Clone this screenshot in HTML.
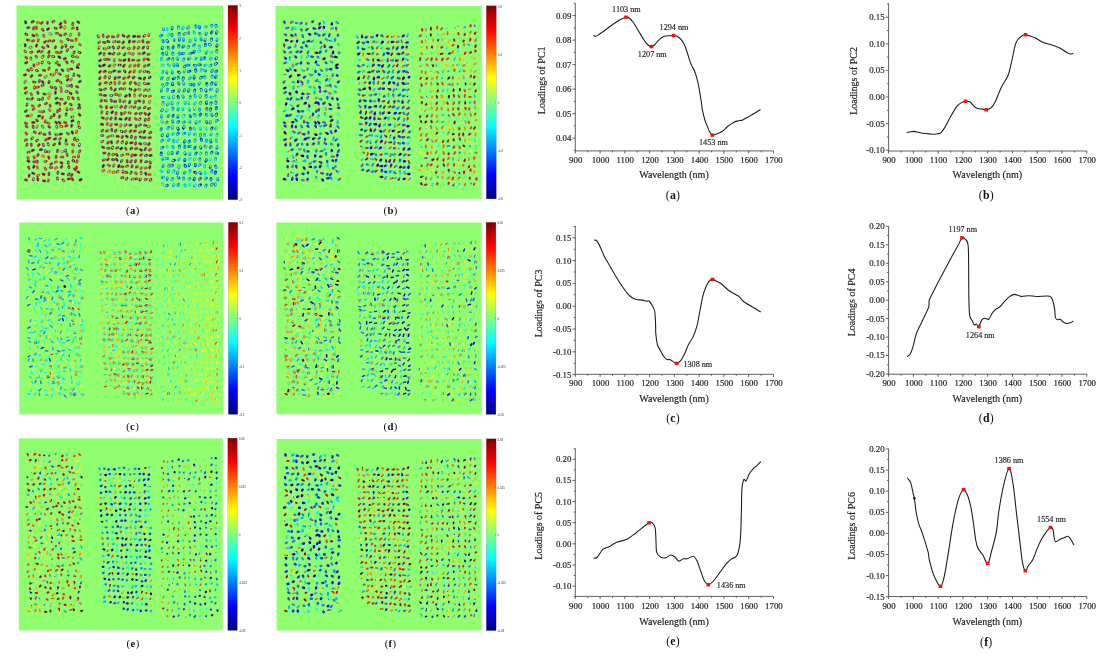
<!DOCTYPE html>
<html lang="en"><head><meta charset="utf-8"><title>PCA score images and loadings</title>
<style>html,body{margin:0;padding:0;background:#fff}body{width:1102px;height:658px;overflow:hidden}svg{display:block}</style>
</head><body>
<svg width="1102" height="658" viewBox="0 0 1102 658">
<defs>
<linearGradient id="jet" x1="0" y1="0" x2="0" y2="1"><stop offset="0" stop-color="#800000"/><stop offset="0.125" stop-color="#ff0000"/><stop offset="0.375" stop-color="#ffff00"/><stop offset="0.5" stop-color="#80ff80"/><stop offset="0.625" stop-color="#00ffff"/><stop offset="0.875" stop-color="#0000ff"/><stop offset="1" stop-color="#000080"/></linearGradient>
<filter id="sf" x="-2%" y="-2%" width="104%" height="104%"><feGaussianBlur stdDeviation="0.55"/></filter>
</defs>
<rect width="1102" height="658" fill="#fff"/>
<rect x="16.5" y="5.5" width="206.5" height="194.1" fill="#8fff70"/>
<g fill="none" stroke-linecap="round" filter="url(#sf)">
<path stroke="#0032ff" stroke-opacity="0.42" stroke-width="3" d="M25.4,21.5l0.4,1.5M33.3,21.4l-1.3,0.8M37.2,22.6l1.5,0.2M42.4,22.6l-1.2,0.8M47.3,23.5l0.3,-1.5M54,21.2l-1.3,0.7M60.9,23.2l-0.8,1.3M65.4,22.5l-0.7,-1.3M72.9,23.3l-0.3,1.5M77.7,21.7l1.2,0.9M27.5,27.8l1.5,-0.3M33.8,27.6l-0.5,1.4M36.5,28.5l-0.2,-1.5M42.3,29.3l1,1.1M47.4,29.5l1.2,-0.9M54.9,28.1l1.4,0.4M60.4,27.7l1.1,-1M65,26.8l-0.4,1.5M73.7,27.9l-1.4,0.5M77.2,27.8l0.1,1.5M26.9,34.7l-1.2,-0.8M32.7,35.1l1.3,0.8M36.6,34.3l0.6,1.4M43.5,35.1l0.5,1.4M51,34.2l-1.3,-0.7M56.3,33.3l1.5,0M59.8,35l1.4,0.5M64.6,34.7l1.2,-0.9M70.2,35.5l0.5,-1.4M79,35.1l0.1,-1.5M27.2,40l1.5,0.2M32.3,41.2l1.4,-0.6M38.1,41.1l0.3,-1.5M44.5,42.4l1.2,-1M50,40.8l-1.5,0.3M54,40.5l-1.3,0.8M62,42.3l-1,-1.1M68.5,39.9l-1.2,-0.9M72.6,40.8l-1.4,-0.4M76.3,39.1l-0.3,1.5M25.1,44.5l0.2,1.5M29.8,47.5l1.4,-0.4M36.3,46.3l0.5,-1.4M42.6,47.2l1.4,0.6M47.3,45.5l1,1.1M55.7,46.6l-0.6,1.4M61.8,47.8l0.8,-1.3M65.9,46.4l-0.2,-1.5M72.5,47l-1.5,0.2M80.5,45.1l-1.2,-1M25.8,52l-1,-1.1M32,52l-1.4,0.5M37.8,51.8l1.3,-0.7M42.4,51.3l-1.2,0.9M49.3,51.5l-0.7,1.3M57.8,52.6l-1.5,-0.3M61.5,51.7l-1.1,1M67,50.9l0.8,-1.3M74.2,51.8l-0.4,1.4M80.3,52.8l-1.4,-0.5M26.8,58.3l-1,-1.1M30.9,59.2l-0.1,-1.5M36.9,57.1l-1.1,-1M42.3,57.4l0.8,-1.3M48.4,56.9l0.9,-1.2M52.5,56.5l1.5,0.2M58.8,56.7l1.2,1M65.5,58.4l-1.4,0.6M73.5,56.7l-1.4,-0.6M76.4,56.7l1.4,0.5M26.9,62.4l-1.3,0.7M34,66.2l-0.2,-1.5M37.4,64.1l1.3,-0.8M41.9,63.1l0.6,-1.4M49.5,63.3l-1.2,-1M57.1,61.9l-0.9,1.2M58.4,64.6l1.3,0.7M67.3,62.8l-1,-1.1M73.3,62.1l-1.3,-0.7M77.6,65.1l1.3,-0.7M28.9,70.7l-1.3,-0.8M31.1,68.6l0.8,1.3M36.2,70.2l1.4,0.5M43.3,70.3l1.5,0.3M48.6,69.2l0.8,-1.3M56.6,71.6l-0.1,-1.5M63,70.8l-1,-1.1M67.7,69.3l0.6,1.4M72.1,69.1l-1.5,0M78.3,67.7l-1.4,-0.5M24.3,75.1l1.4,-0.5M31.1,76.6l1,-1.1M39.3,75.3l1.5,-0.1M45.1,77.3l1.2,-0.9M52.2,75.1l-1.4,-0.6M54.9,73.9l-1.3,0.8M60.5,74.5l-1.3,-0.8M66.5,76.5l1.4,-0.4M73.7,75.6l0.3,-1.5M78.1,75.4l1.3,0.8M24.8,82.4l0.9,-1.2M35,82.3l-1.5,-0.4M39.1,81.8l0.5,-1.4M43.2,82.6l-1,-1.1M49.3,81.3l-0.5,1.4M57.9,80.2l-1.2,0.8M61.3,82.8l-1.2,-0.9M67.2,80.3l1,-1.1M70.5,80.2l1,-1.2M79.2,82l1.2,-0.8M26.2,87.8l-1.3,0.7M34.6,88.3l0,-1.5M37.1,87.4l1.4,-0.4M41.9,85.7l1.4,-0.6M51,86.9l1.3,0.8M55.9,88.8l-0.6,-1.4M60.6,87.2l0.6,1.4M67.4,85.7l1.5,0M71.4,85.1l0.3,1.5M76.5,86.5l1.4,0.6M26.7,92.3l-1.3,0.8M30.9,93.5l0.8,1.3M37.6,92l0.5,1.4M43.7,93.9l1.5,0.3M48.7,94.1l1.5,-0.2M55.5,91.9l-0.1,1.5M61.2,91.7l0.2,-1.5M65.9,91.5l1.5,-0.2M71.2,93.7l-1.3,-0.8M76.4,91.7l1.1,1.1M28.8,99l-1.5,-0.1M31.7,99.3l0.9,-1.2M38,99.5l1.5,0.1M42.8,98l-0.4,1.5M48.4,98.3l0.9,-1.2M57.3,98.1l-1.4,0.6M62.2,99.2l-1.5,-0.2M68.5,97.3l0,1.5M73.5,98.8l-1,-1.2M78.5,99.4l-0.4,-1.4M27.2,103.9l-0.4,1.4M32.1,105.6l1.3,0.7M38.8,106.1l1,-1.1M46.6,103.2l-1.3,0.8M50.4,106.4l-0.5,-1.4M57.6,102.7l-1.3,0.7M59.5,103.2l0.5,1.4M64.6,103.7l1.1,-1M71.4,105l-1.1,-1M79.2,104.4l0.3,1.5M26.5,110.6l-1.2,0.9M34.2,108.7l-1.3,0.8M39.4,111.6l1.5,0.3M43.9,111.5l-1.5,0.2M50.1,110.6l-1.1,-1.1M57.3,111.8l0.6,-1.4M59.8,110.5l0.1,-1.5M66.8,108.6l0.3,1.5M72.1,109.3l-1.5,-0.1M79.9,108.1l-1.5,0.1M28.3,115.8l-1.5,0.3M31.7,115.1l-1.2,0.8M38.4,116.3l1.4,-0.5M42.2,118.2l0.6,-1.4M50.7,118l0.8,-1.3M54.2,114.3l-0.2,1.5M59.2,117.3l0.6,-1.4M66,115.2l0.1,-1.5M71.6,117l1.5,-0.2M79.1,114.2l0.9,1.2M25.3,123l1.4,0.6M34.1,122.4l-1.5,0.2M37.5,121l-1,-1.1M45,122.3l0.2,-1.5M49,123.4l-1.4,-0.6M56.7,123.2l-0.9,-1.2M60.1,123.3l-0.9,-1.2M64.5,122.4l1.4,0.4M73.1,120.5l-1.3,0.7M78.7,122l-0.3,1.5M25.9,126.1l1.2,0.9M33.1,126.1l0.2,1.5M36.9,127.3l0.5,-1.4M43,127.2l-0.8,-1.2M48.7,126.4l1.2,1M56.5,126.1l0.5,1.4M62.1,126.4l-1.5,-0.1M65.7,126.1l1.4,-0.6M71.5,126.4l0.3,-1.5M78.8,126.7l0.9,1.2M25.8,132.9l0.9,1.2M35.5,132.6l-1.3,-0.7M39.4,133.5l1.4,-0.6M45.2,134.6l-1.5,-0.3M49.5,132.6l0.3,1.5M57.2,135l-1.4,-0.5M61.5,134.1l-1.5,0.2M68.5,133.9l-1.3,-0.7M72,131.9l0.7,1.3M76.8,131.1l-0.5,1.4M26.5,139.7l-1.3,0.8M32.7,137.7l-1,1.1M36.6,140.9l1.1,-1M46.6,139.3l-1.2,0.9M48.5,138.5l1.4,-0.4M54.3,139.2l1.4,-0.6M60.6,138.3l-1.1,1M66.1,139.7l0,1.5M74.4,139.7l0.3,-1.5M77.9,139.8l-1.2,0.9M26.6,145.4l0.5,-1.4M31.4,145.5l-0.2,-1.5M38.3,145.6l1,-1.1M43.1,144.3l0.5,1.4M48.5,144.9l-0.5,-1.4M54.8,144.1l-1.2,0.9M59.6,144l0,-1.5M67,144.3l-1.3,-0.8M72.4,144.4l1.3,0.7M79.2,145.8l0.4,-1.5M27.8,152.4l1.5,-0.4M33.5,150l-1.3,0.7M40.2,149.8l1.5,-0.2M45.3,150.5l0.3,1.5M49.2,151.8l-1.5,-0.1M57.3,151.8l0.3,-1.5M63.2,151.4l-1.5,0.4M65.8,149.9l-0.2,1.5M72.8,150.8l-0.1,1.5M79.2,152.1l0.8,-1.3M27.8,157.4l0.6,1.4M33.8,156.7l0.7,1.3M38.3,154.5l-0.8,1.3M43.9,156.4l-1.4,-0.5M48.5,156.9l0.5,1.4M56.3,156.2l-0.3,1.5M61.3,157.1l1.5,-0.2M67,154l0.3,1.5M73.2,157.1l1.5,0M78.5,155.6l-0.1,1.5M29.1,161.6l-1.3,-0.8M35.1,161.7l-1.5,0.1M37.3,162.5l0.1,-1.5M46.3,161.2l-1.4,0.5M51.9,163.5l-1.3,0.8M55.2,162.2l1.4,-0.5M62.1,163.2l-1.3,-0.7M68.3,161.8l-0.1,1.5M74,161.2l-1.2,-0.8M77.3,160.6l-0.6,1.4M28.5,167.1l0.7,1.3M33.5,167.5l0.6,-1.4M37.2,166.8l0.4,1.4M45,168.2l0.9,1.2M51.8,167.5l-1.5,0M56.7,167.6l-1.3,0.7M61.1,167.5l0.8,-1.3M68.8,166.3l0,1.5M74.3,168.8l1,1.1M76.6,167l-0.1,1.5M29,176.4l0.3,-1.5M34,173.7l-1.4,-0.6M37.5,176l1.1,-1M44.3,174.5l-1.4,-0.5M49,173.3l-0.1,1.5M58.1,172l-0.5,1.4M63.6,174l-1.5,-0.3M68.2,174.9l1.1,-1M71.3,175.6l0.9,-1.2M79.1,172.5l-1.3,-0.8M25.3,179.7l1.4,0.5M33.2,180l0.4,-1.5M37.9,180.1l-0.2,-1.5M43.4,180.8l1.5,0.3M48.6,179.9l-0.4,1.4M57.3,177.8l0.3,1.5M63.9,180.9l-1.1,-1.1M69.6,178.8l-1.5,0.3M72,178.6l0.8,1.3M79.9,180.2l1.3,-0.8M97.9,35.7l0.7,1.4M103.2,36.5l-0.1,-1.5M107.1,37.2l1.3,-0.8M113.8,36.9l-1.5,-0.1M118.3,35.2l-0.7,1.3M122.9,35.2l1.1,1M128.8,36.2l-1.3,0.8M134.9,36.3l-1.5,0.3M137.9,36.5l1.5,0M144.8,35.4l-1.1,1M149,34.4l-0.4,1.4M99.7,41.8l-1.1,1M104.9,42.7l-1.4,-0.5M109,41.8l-1.4,-0.5M115.1,41.4l-1.4,0.6M119.3,41.8l-1.5,0.1M123.7,41.8l-0.9,1.2M129.1,42.3l0.6,-1.4M133.1,41.7l1.5,-0.2M139.4,41.5l-1.4,0.4M143.1,42l-0.4,-1.4M148.7,42.2l-1.5,0.2M99.2,47.1l-0.4,1.4M104,48.6l1.4,0.4M108.1,47.7l1.5,-0.2M113.7,48.1l-0.7,-1.3M118.1,48.1l0.9,-1.2M124,47.3l-1.3,0.7M129.6,48.6l-1.5,-0.2M134.4,47.1l-0.6,1.4M138.1,48.5l0.8,-1.2M143.8,47l-0.9,1.2M147.8,46.7l-0.1,1.5M99.5,54l1.2,-0.9M104,54.9l0.3,-1.5M110.5,53.7l-1.5,-0.1M114.2,53.1l-1,1.1M118.1,54.2l1.4,-0.6M125.1,53.7l-0.8,1.3M128.8,53l1.4,0.5M133.3,53.4l-0.6,1.4M140.2,53.8l-1.5,0M144.4,52.5l-1.1,1.1M147.7,54.4l1.5,-0.2M99.5,60.9l1.1,-1M104.5,59.5l1.5,0.1M109.3,59.7l-1.4,-0.6M114.3,59.4l-0.1,1.5M119.3,59.8l1.4,0.6M125.1,59.9l-1.4,0.6M128.9,60.6l0.1,-1.5M133.9,60.1l-1.5,0.1M137.7,60.5l1.5,-0.3M144.4,58.8l-0.6,1.4M147.4,59l1.3,0.8M99.3,65.7l1.4,0.6M104.6,64.9l-1.4,0.6M110.2,65.5l-1.3,0.8M114.8,64.8l-1,1.1M120.3,65.1l-1.5,-0.1M123.4,66.3l1,-1.2M129.6,66.6l0.9,-1.2M135.3,65.2l-1.1,1M138.2,66.1l0.6,-1.4M144.1,66.5l1.2,-0.9M147.8,65.5l1.3,-0.8M99.4,72.3l1.2,-0.9M104.1,71.6l1.4,-0.6M110.8,72.2l-1.5,0.1M113.5,71.3l1.4,-0.6M118.5,71.7l1.5,-0.3M125.2,71.9l-0.9,-1.2M129.4,72.6l1,-1.1M134,72l0.5,-1.4M139.4,71.9l1.2,-0.9M145.3,71.2l-1.4,0.4M147.7,71.9l1.4,0.5M99.5,78.8l0.7,-1.3M105.4,76.4l-0.6,1.4M109.2,78.1l0.6,-1.4M115,78.9l0.3,-1.5M119.8,77.3l-1.5,0.3M123.5,78.7l1.3,-0.8M128.3,77.6l1,-1.1M133,78l1.2,-0.9M139.2,78.1l1.4,0.4M144.8,77.8l-0.7,1.3M150.3,77l-1.1,1M100.3,83.3l-0.8,1.3M106.5,82.5l-1.4,0.5M111,82.7l-1,1.2M114.8,82.5l0.1,1.5M119.2,83.6l0.3,-1.5M125,82.9l-1.2,0.9M130.8,82.4l-0.8,1.3M134.8,82.7l1.1,1.1M138.8,84.9l0.5,-1.4M144.1,83.3l1.3,0.7M147.5,83.8l1.5,-0.1M101.2,90l-1.4,-0.5M105.7,88.7l-1.3,0.7M110.9,87.9l0.5,1.4M115.6,89.2l-0.9,1.2M121.3,88.6l-1.5,0.3M124.8,88.7l-1.5,0.4M131.2,89.5l-1.4,-0.6M135.5,89.6l-0.9,1.2M139.9,89.4l-1.5,-0.2M144.4,90.3l1.3,-0.7M148,90.5l1.3,-0.8M100,94.5l1.4,0.5M104.2,95.5l1.5,-0.1M112.1,95.4l-1.5,0M117,94.5l-1.5,0.1M119.2,95.8l1.2,-1M125.3,96.5l1.2,-0.9M129.8,95.9l-0.2,-1.5M134.5,94.8l0.3,1.5M140.9,94.8l-1.2,0.8M144.2,96.2l1.5,-0.3M150.5,96l-1.4,0.4M101.1,101.3l0.7,-1.3M106.4,101l-1.4,-0.5M111.6,101.2l-0.5,-1.4M115.9,101.5l-1.5,0.1M120,99.9l0.1,1.5M125.1,101.2l-1.4,0.5M129.4,102.8l0.6,-1.4M135.6,101.5l-0.1,1.5M139.9,101.3l-1.4,-0.5M143.7,102.5l0.1,-1.5M149.2,102.4l0.8,-1.3M101.5,107.2l-1.1,-1.1M106.5,106.4l0,1.5M110.8,107.7l1.4,-0.4M116.9,106.5l-1.5,0.2M121.8,106.4l-1.1,1M125.1,107.7l0.8,-1.3M131.3,106.7l-1.4,0.6M135.2,106.8l-1.3,0.7M138.5,108.6l1.2,-0.9M144.1,108l1.2,-0.9M149.8,108.2l-1.4,0.6M101.6,113l0.4,-1.5M107.3,112.2l-0.4,1.5M112.8,111.8l-1.2,0.9M115.8,114.1l0.5,-1.4M121.3,112.9l0.2,1.5M124.2,113.5l1,-1.1M130.4,113l-1.5,-0.2M136.6,113.2l-1.3,0.7M141.4,113.2l-1.4,0.5M144.9,113.1l0.9,1.2M148.5,114.8l1,-1.2M102.1,117.7l1.4,0.5M107.4,118.2l-1,1.1M111.4,117.9l-0.8,1.3M115.5,119.2l0.2,-1.5M119.8,119l1.5,0.2M126.5,118.2l-1,1.1M129.7,118.3l-0.2,1.5M136.2,119.4l-1.2,-0.9M140.1,118.6l-0.9,1.2M145.1,120.5l0.4,-1.4M149,118.6l-0.5,1.4M101.3,124.3l1.5,0.1M107.5,123.2l-0.5,1.4M111.6,124.3l-1,1.2M117,124.5l-1.5,-0.1M120.5,126.3l0.6,-1.4M125,125.6l1.2,-0.9M131.1,124.9l-1.4,0.4M136.1,125.4l-0.1,1.5M139.2,125.5l1.3,-0.8M144.5,125.3l1.5,0.1M149.4,126.4l-1.5,0.1M102.9,130.1l-1,1.1M106.4,131.2l1.4,-0.7M111.9,130.8l-0.1,-1.5M116.2,130.2l-0.9,1.2M122.3,131.8l-1.3,-0.7M124.8,131.7l1.2,-0.9M130.1,131.8l0.9,-1.2M134.2,131.3l1.4,-0.5M139.6,132.5l1.3,-0.8M144.7,131.1l-0.8,1.2M150.9,132.2l-1.3,0.8M101.5,135.4l1.5,0.1M107.6,137.2l1.3,-0.7M112.9,135.8l-1.5,0M116.9,136.3l1.5,0.2M122,137.7l0.5,-1.4M127.4,136.9l-1.2,-0.9M131.3,137.5l0.4,-1.4M135.2,138.5l0.5,-1.4M140.2,136.8l1.4,0.6M143.8,137.7l1.5,-0.2M149,137.8l1.5,-0.2M101.7,142l1.2,-0.9M108.6,142.1l-1,1.1M111.4,141.6l0.3,1.5M117.1,142.5l0.8,-1.2M122.8,141.6l-1,1.1M126.9,142.3l-0.7,1.3M132.1,142.7l-1.5,0.2M135.8,142.7l-0.3,1.5M141,144l-1.4,-0.5M144.3,143.5l1.5,0.3M149.5,143.5l-1,1.1M103.9,147.7l-1.4,-0.6M107.6,148.3l1.5,0M112.2,148.4l0.5,-1.4M117.9,147.5l-1.3,0.7M121.8,148.1l-1.2,0.9M126.2,149.4l-0.7,-1.3M131.9,148l-1.2,0.9M135.4,148.7l1.5,-0.1M141.6,150.3l-1.3,-0.8M144.9,149.7l0.8,-1.3M150.6,149.4l-1.3,0.8M105.1,153.1l-1.5,-0.1M109,153.8l-0.4,1.4M112.5,154.7l1.4,-0.4M117.4,155.5l-1,-1.1M122.8,155l-1.4,0.4M126.7,154.3l1.5,0M132.3,154.9l-0.7,1.3M134.5,155.2l1.5,-0.3M141.7,154.5l-1.2,0.9M145.4,155.7l1.3,-0.7M149.8,155.6l1.5,-0.3M104.4,159.7l-1.3,0.7M108.4,158.9l-1.1,1M112.3,159.5l1.5,0.3M117.3,160.3l-1,-1.1M122.1,160.5l-0.9,1.2M127.3,162l-0.2,-1.5M130.6,162l0.8,-1.3M135.7,160.5l-0.5,1.4M141.2,160.5l-0.3,1.5M145.4,161.9l1.5,-0.3M150.5,163.2l-0.6,-1.4M102.9,166.6l0.8,-1.3M108.2,165l1.3,0.7M113.4,166.1l0.8,-1.3M119.1,165.5l-0.7,1.3M123,166.7l-1.5,0M126.3,166.4l1.4,-0.5M132.3,165.6l-0.5,1.4M137.5,166.5l-1.3,0.7M141.7,167.6l-1,1.1M145,168.2l1.4,-0.4M149.6,168l0.4,-1.5M104.1,170.4l-1.4,0.6M109.7,171l-1.3,0.7M114.2,172l-1.4,0.5M116.8,172.1l1.1,-1M123,170.9l-0.1,1.5M127.1,172.5l-1.5,-0.3M131.5,172l-0.8,1.3M135.4,172.8l1.1,1M141.2,173.8l0,-1.5M145.6,173l0.4,1.4M150.3,174.6l-1.5,0M123.1,177.6l-1.5,0.2M127.1,178.1l-0.9,1.2M131.9,179.4l1.4,-0.5M137.1,178.7l-1.5,0.2M139.8,180.2l0.8,-1.2M145.1,179.7l1.4,-0.5M150.1,180.5l1,-1.2"/>
<path stroke="#008bff" stroke-width="2.8" d="M163.5,29.9l-0.1,-1.6M178.5,26.6l-0.2,1.6M195.7,25.7l0.5,1.5M211.9,25.1l-0.1,1.6M199.6,33.1l0.6,1.5M205.8,34.5l0.7,-1.4M163.3,41.9l-0.5,-1.5M183.6,40.5l-0.3,-1.6M201.3,40.1l-0.3,-1.6M204.7,41l0.6,-1.5M216.7,40.7l0.5,-1.5M188.8,46.5l-0.8,1.4M194.6,44.6l-1.2,1.1M172.8,53l0.2,1.6M179.2,53l0.5,1.5M206.1,53.4l0.8,-1.4M173,58.5l-0.5,1.5M177.9,59.4l-0.9,-1.3M183.9,58.8l-0.7,1.5M201.2,59.6l-0.1,-1.6M204.7,57.4l-0.3,1.6M174.2,65.8l-0.5,-1.5M189.1,65.2l-1.6,0M211.2,64.9l-1.2,1.1M166.8,73.2l0.1,-1.6M172.2,73.3l0,-1.6M205.7,71l-1.4,-0.8M162.3,77.8l-1.1,1.2M168.4,78.2l-1,1.3M178.2,76.9l0,1.6M190.4,77.7l-1.1,1.2M204.5,76.5l0.6,1.5M212.3,75.9l-0.4,1.6M162.6,84.7l0.6,1.5M167.5,83.3l-1,1.2M179.1,84.3l-0.8,-1.4M183.9,84.3l-0.6,-1.5M193.8,84.1l0.2,1.6M198.9,84.3l0.9,-1.3M161.2,91.1l0.4,-1.5M167.7,89.1l-0.4,1.6M178.8,91.4l0.6,-1.5M210.2,89.6l1.5,-0.5M162.2,97.4l1.6,0.3M173.3,97.7l0.4,-1.6M183.5,97.3l-0.8,-1.4M190.3,96.3l-0.2,1.6M195,95.3l0.4,1.6M200.4,97.1l-0.4,-1.5M167.1,104.8l1.3,-1M172.1,104.1l-0.1,-1.6M200.7,102.3l-0.6,1.5M172.9,107.8l0,1.6M177.8,110l0.5,-1.5M189.6,110.4l-0.5,-1.5M199.6,108.8l0.1,1.6M161.2,117.2l0.5,-1.5M168,116.7l0.9,-1.3M189.9,115.5l0.8,1.4M194.4,114.4l0.9,1.3M206.2,114.3l0.8,1.4M167.1,121.9l-1.1,1.2M172.9,122.3l-0.5,-1.5M184.6,121.9l-1.5,0.6M189.8,122.4l0.2,-1.6M195.8,123.3l0.3,-1.6M210.2,123l0.3,-1.6M217.6,120.2l-1.4,0.8M161.5,128.5l-0.6,1.5M168.6,127.2l-0.9,1.3M172.4,128.3l-0.4,-1.5M184.8,133.2l-1.5,0.7M200.6,134.3l-0.4,1.5M162.6,140.1l-1.1,1.2M194.9,139.9l0.1,1.6M206.4,140.1l-0.2,1.6M184.9,146l-0.2,1.6M204.8,146.1l1.2,1M216.9,148.3l0.2,-1.6M189.7,154.7l0.2,-1.6M206.3,152.7l-0.1,1.6M162.8,159.5l0.3,-1.6M167.8,158.6l-1.6,0M200,158.7l-0.2,1.6M162.8,166.7l0.6,-1.5M169.1,165l-0.6,1.5M178.7,167.5l0.3,-1.6M200.2,164.5l-1.3,0.9M168,172.3l0.6,-1.5M211.9,170.5l-0.2,1.6M162.3,177.7l1.5,-0.5M167.1,179.5l0.3,-1.6M172.8,178.4l-0.8,1.4M183.7,177.8l0.1,1.6M190,178.4l-1.3,0.9M206.7,177.9l-1.2,1.1M217.8,180l-0.1,-1.6M178.6,184.2l-0.7,1.4M206.4,185l-0.7,1.4M215.2,185.3l0.5,-1.5"/>
<path stroke="#00e3ff" stroke-width="2.8" d="M167.1,30l0.1,-1.6M168.9,34.3l-0.8,1.4M174.3,39.3l0,1.6M212.1,52.1l-1.4,0.8M195.5,59.4l0.9,-1.3M182.9,108.4l-0.1,1.6M206.5,129.5l-0.7,-1.5M167,146.1l0.2,1.6M190.2,158.5l-1,1.2M210.2,160.5l0,-1.6M205.3,172.4l-0.3,1.6M162.7,184.9l-0.5,-1.5M190,183.6l-0.5,1.5"/>
<path stroke="#005eff" stroke-width="2.8" d="M172,29l0.2,-1.6M187.7,28.1l1.2,-1M199.7,28l-0.3,-1.6M215.9,25.1l0.4,1.6M162,35.2l-1.4,0.8M171.9,34.3l0.2,1.6M179.2,33.3l0,1.6M184,34.3l1.3,-0.9M212,31.7l-0.8,1.4M216.2,33.2l0.8,-1.4M179.3,40.3l0.4,-1.6M211.7,38.8l-0.5,1.5M162,48.7l0.6,-1.5M168,47.1l0.5,1.5M173.3,46.6l-0.4,1.5M178.8,45.5l0,1.6M182.7,47.2l1.3,-1M205.5,44.2l-0.3,1.6M209.3,44.2l1.4,0.8M162.7,53.2l0.3,1.6M166.8,54.3l-0.1,-1.6M182.2,53.7l1.6,-0.2M191.2,53.1l-1.4,0.8M216.8,50.5l0,1.6M169,58.5l-1.3,1M188.5,59l1.4,-0.8M215.6,59l1.1,-1.2M177.7,65.7l-0.6,-1.5M185.4,65.9l-1.4,0.8M194.1,65.3l1.5,0.6M211.7,71.6l0.8,-1.4M216.8,70.9l-1.1,1.1M191.4,84.7l-1.5,-0.4M215.6,84.5l0.5,-1.5M183.9,91.1l0.8,-1.4M188.3,91.3l0.7,-1.5M194.8,89.9l-0.3,1.6M201.1,89.2l0.3,1.6M206.2,91.3l-0.5,-1.5M216.9,91.3l0.4,-1.5M206.2,95.4l-0.2,1.6M163.2,102.4l-0.3,1.6M211.3,102.7l-0.6,1.5M215.9,102l0,1.6M161.6,110.8l1.1,-1.2M206.7,108.3l0.3,1.6M216.5,107.5l-0.3,1.6M173.4,115.1l-0.6,1.5M177.9,117.4l0.1,-1.6M200.8,113.9l-0.8,1.4M212.2,115.6l-0.4,-1.5M178.7,121.4l-1.1,1.1M207.1,122.9l-0.7,-1.5M190.3,127.9l0.3,1.6M162,135.8l0.7,-1.4M167.3,136.1l0.7,-1.5M178.4,133.1l-0.9,1.3M184.2,142.3l0.7,-1.5M189.5,141l-0.8,1.4M211,142.1l-0.4,-1.6M163,147.2l-1.3,0.9M179.5,145.8l-0.2,1.6M188.7,146.7l1.6,-0.4M195.3,147.2l-0.8,1.4M201.1,148.3l-0.8,-1.4M211.2,146.5l-1,1.2M172.1,153.7l0.1,-1.6M177.1,153.4l0.8,-1.4M185.4,154.3l-0.6,-1.5M196.4,152.9l-1,1.3M212.1,152l-0.9,1.3M217.8,153.5l-1.5,-0.6M172.7,165.2l-1.4,0.8M189,165.8l0.6,-1.5M195.3,166.1l0,-1.6M210.1,167.6l0.4,-1.5M215.4,166l0.7,1.5M177.2,173.4l0.7,-1.4M200.8,173.7l-1,-1.3M179.1,178.1l-1.1,-1.2M200.6,178.3l-1.2,1.1M211,178.4l-0.1,1.6M167.5,185.3l-1.5,0.5M212.6,184l-1.2,1.1"/>
<path stroke="#00b7ff" stroke-width="2.8" d="M182.6,28.9l0.8,-1.4M206.4,26.7l-1.5,0.6M188.7,32.2l0.1,1.6M193.9,31.9l0.7,1.4M189.8,41.7l0.6,-1.5M195.6,40.3l-0.4,-1.6M199.4,46l-0.1,1.6M200,50.9l-1.3,0.9M161.6,58.2l-0.4,1.6M210.4,59.3l1.1,-1.1M163.2,65l-1.4,0.8M168.1,64.5l1.2,1.1M204.6,65.6l1.5,-0.4M163,71.5l-0.3,1.6M184.1,72.1l0.6,-1.5M201.4,69.5l-0.4,1.5M169.2,98l-1.1,-1.1M210.8,97.1l1.6,0M215.5,95.7l0.6,1.5M178.2,103l-0.7,1.4M185.2,103.9l-0.2,-1.6M188.9,103.8l-0.9,-1.4M194.6,104l0.7,-1.4M166.4,111.2l0.9,-1.3M194.3,109.5l0.5,-1.5M184.2,115.3l-1,1.3M162.5,122.2l-0.7,-1.4M199.6,121.6l-0.7,1.4M193.7,128.2l0.9,1.3M200.6,129.4l-0.1,-1.6M215.5,128.9l0.8,-1.4M172.6,134.4l1.4,-0.7M189,134.4l0.9,-1.3M194.1,134.5l1.6,-0.3M204.5,134.2l0.2,1.6M210.5,134.9l1.2,-1M217.2,134.1l-0.3,1.6M168.3,140.6l1.1,-1.2M173.3,140.3l0.5,1.5M176.9,141.6l1.1,-1.2M216.3,139.7l0,1.6M173.3,147.9l-0.5,-1.5M168.7,154.2l-0.1,-1.6M201.1,152.9l-0.9,1.3M178.5,160l0.9,-1.3M194.5,160.2l-0.1,-1.6M215.7,158.1l-0.2,1.6M204.6,165.5l0,1.6M162.1,171.5l-1.3,-1M174.2,170.8l-0.8,1.4M184.2,173.5l0.8,-1.4M190,170.5l0.1,1.6M173.3,186l0.7,-1.5M184.8,184.7l0.7,1.4M194.3,186.2l1,-1.3"/>
<path stroke="#0032ff" stroke-width="2.8" d="M167.7,41.8l-0.8,-1.4M216.7,46.4l0.5,-1.5M193.5,52.5l0.9,-1.3M200.3,64.8l-1.6,0.1M216.7,63.4l-1.4,0.8M178.5,71.9l1.3,0.9M190,71.1l-1.6,0.4M195.7,69.7l0.3,1.6M173.1,78.9l1.4,-0.7M183.4,77.8l-0.4,1.5M194.1,78.3l0,-1.6M201.6,77.2l-1.3,0.9M215.4,77.4l0.8,-1.4M172.6,84.9l-0.1,-1.6M206.7,83.5l0.3,1.6M212.2,82.8l-1,1.3M173.7,90.9l-1.4,0.7M177.9,96.4l0.5,1.5M206.4,103.5l0.2,-1.6M210.7,108.7l-0.3,1.6M216.7,114l-0.7,1.4M178.3,129.5l-0.6,-1.5M183.3,128.2l0.8,-1.4M212.3,127.9l-0.9,1.3M201.1,139l0.5,1.5M161.3,153l-0.2,1.6M174.6,160.1l-1.5,0.7M184.7,160.9l0.2,-1.6M205.8,161.2l0.7,-1.4M184.9,165.1l0.6,1.5M215.7,171.8l-0.5,1.5M193.8,179.8l0.7,-1.5M200.7,184.7l-1.3,1"/>
<path stroke="#0006ff" stroke-width="2.8" d="M194.6,172.2l1.4,0.9"/>
<path stroke="#800000" stroke-width="2" d="M25.4,21.5l0.4,1.5M33.3,21.4l-1.3,0.8M60.9,23.2l-0.8,1.3M54.9,28.1l1.4,0.4M77.2,27.8l0.1,1.5M26.9,34.7l-1.2,-0.8M68.5,39.9l-1.2,-0.9M37.8,51.8l1.3,-0.7M74.2,51.8l-0.4,1.4M80.3,52.8l-1.4,-0.5M58.8,56.7l1.2,1M26.9,62.4l-1.3,0.7M36.2,70.2l1.4,0.5M78.3,67.7l-1.4,-0.5M49.3,81.3l-0.5,1.4M55.9,88.8l-0.6,-1.4M71.4,85.1l0.3,1.5M37.6,92l0.5,1.4M71.2,93.7l-1.3,-0.8M57.6,102.7l-1.3,0.7M71.4,105l-1.1,-1M26.5,110.6l-1.2,0.9M43.9,111.5l-1.5,0.2M79.9,108.1l-1.5,0.1M38.4,116.3l1.4,-0.5M66,115.2l0.1,-1.5M73.1,120.5l-1.3,0.7M72,131.9l0.7,1.3M48.5,138.5l1.4,-0.4M59.6,144l0,-1.5M40.2,149.8l1.5,-0.2M65.8,149.9l-0.2,1.5M74,161.2l-1.2,-0.8M79.9,180.2l1.3,-0.8M122.9,35.2l1.1,1M128.8,36.2l-1.3,0.8M134.9,36.3l-1.5,0.3M109,41.8l-1.4,-0.5M99.5,54l1.2,-0.9M125.1,53.7l-0.8,1.3M104.6,64.9l-1.4,0.6M120.3,65.1l-1.5,-0.1M123.4,66.3l1,-1.2M125.2,71.9l-0.9,-1.2M147.7,71.9l1.4,0.5M99.5,78.8l0.7,-1.3M139.2,78.1l1.4,0.4M144.8,77.8l-0.7,1.3M150.3,77l-1.1,1M111,82.7l-1,1.2M101.2,90l-1.4,-0.5M144.2,96.2l1.5,-0.3M138.5,108.6l1.2,-0.9M112.8,111.8l-1.2,0.9M141.4,113.2l-1.4,0.5M101.3,124.3l1.5,0.1M116.2,130.2l-0.9,1.2M122.3,131.8l-1.3,-0.7M150.9,132.2l-1.3,0.8M140.2,136.8l1.4,0.6M126.9,142.3l-0.7,1.3M112.2,148.4l0.5,-1.4M121.8,148.1l-1.2,0.9M131.9,148l-1.2,0.9M117.4,155.5l-1,-1.1M145.4,155.7l1.3,-0.7M117.3,160.3l-1,-1.1M150.5,163.2l-0.6,-1.4M102.9,166.6l0.8,-1.3M119.1,165.5l-0.7,1.3"/>
<path stroke="#ff3200" stroke-width="2" d="M37.2,22.6l1.5,0.2M73.7,27.9l-1.4,0.5M43.5,35.1l0.5,1.4M79,35.1l0.1,-1.5M62,42.3l-1,-1.1M29.8,47.5l1.4,-0.4M42.4,51.3l-1.2,0.9M36.9,57.1l-1.1,-1M37.4,64.1l1.3,-0.8M45.1,77.3l1.2,-0.9M54.9,73.9l-1.3,0.8M24.8,82.4l0.9,-1.2M30.9,93.5l0.8,1.3M61.2,91.7l0.2,-1.5M48.4,98.3l0.9,-1.2M32.1,105.6l1.3,0.7M50.4,106.4l-0.5,-1.4M50.1,110.6l-1.1,-1.1M45,122.3l0.2,-1.5M72.8,150.8l-0.1,1.5M27.8,157.4l0.6,1.4M33.8,156.7l0.7,1.3M55.2,162.2l1.4,-0.5M48.6,179.9l-0.4,1.4M118.3,35.2l-0.7,1.3M140.2,53.8l-1.5,0M114.3,59.4l-0.1,1.5M119.3,59.8l1.4,0.6M144.4,58.8l-0.6,1.4M114.8,64.8l-1,1.1M129.6,66.6l0.9,-1.2M135.3,65.2l-1.1,1M144.1,66.5l1.2,-0.9M139.4,71.9l1.2,-0.9M119.2,83.6l0.3,-1.5M138.8,84.9l0.5,-1.4M119.2,95.8l1.2,-1M134.5,94.8l0.3,1.5M150.5,96l-1.4,0.4M143.7,102.5l0.1,-1.5M131.3,106.7l-1.4,0.6M101.6,113l0.4,-1.5M124.2,113.5l1,-1.1M107.4,118.2l-1,1.1M107.5,123.2l-0.5,1.4M111.6,124.3l-1,1.2M149.4,126.4l-1.5,0.1M124.8,131.7l1.2,-0.9M107.6,137.2l1.3,-0.7M112.9,135.8l-1.5,0M144.3,143.5l1.5,0.3M145,168.2l1.4,-0.4M114.2,172l-1.4,0.5M135.4,172.8l1.1,1M150.3,174.6l-1.5,0"/>
<path stroke="#d80000" stroke-width="2" d="M42.4,22.6l-1.2,0.8M54,21.2l-1.3,0.7M65.4,22.5l-0.7,-1.3M72.9,23.3l-0.3,1.5M77.7,21.7l1.2,0.9M33.8,27.6l-0.5,1.4M36.5,28.5l-0.2,-1.5M60.4,27.7l1.1,-1M64.6,34.7l1.2,-0.9M44.5,42.4l1.2,-1M54,40.5l-1.3,0.8M42.6,47.2l1.4,0.6M61.8,47.8l0.8,-1.3M57.8,52.6l-1.5,-0.3M67,50.9l0.8,-1.3M48.4,56.9l0.9,-1.2M65.5,58.4l-1.4,0.6M76.4,56.7l1.4,0.5M41.9,63.1l0.6,-1.4M49.5,63.3l-1.2,-1M58.4,64.6l1.3,0.7M67.3,62.8l-1,-1.1M73.3,62.1l-1.3,-0.7M31.1,68.6l0.8,1.3M56.6,71.6l-0.1,-1.5M72.1,69.1l-1.5,0M60.5,74.5l-1.3,-0.8M66.5,76.5l1.4,-0.4M57.9,80.2l-1.2,0.8M26.2,87.8l-1.3,0.7M37.1,87.4l1.4,-0.4M51,86.9l1.3,0.8M67.4,85.7l1.5,0M76.5,86.5l1.4,0.6M43.7,93.9l1.5,0.3M31.7,99.3l0.9,-1.2M57.3,98.1l-1.4,0.6M68.5,97.3l0,1.5M46.6,103.2l-1.3,0.8M59.5,103.2l0.5,1.4M64.6,103.7l1.1,-1M57.3,111.8l0.6,-1.4M59.8,110.5l0.1,-1.5M28.3,115.8l-1.5,0.3M42.2,118.2l0.6,-1.4M54.2,114.3l-0.2,1.5M25.3,123l1.4,0.6M49,123.4l-1.4,-0.6M60.1,123.3l-0.9,-1.2M78.7,122l-0.3,1.5M65.7,126.1l1.4,-0.6M71.5,126.4l0.3,-1.5M35.5,132.6l-1.3,-0.7M39.4,133.5l1.4,-0.6M49.5,132.6l0.3,1.5M32.7,137.7l-1,1.1M46.6,139.3l-1.2,0.9M66.1,139.7l0,1.5M26.6,145.4l0.5,-1.4M48.5,144.9l-0.5,-1.4M72.4,144.4l1.3,0.7M79.2,145.8l0.4,-1.5M27.8,152.4l1.5,-0.4M45.3,150.5l0.3,1.5M49.2,151.8l-1.5,-0.1M57.3,151.8l0.3,-1.5M79.2,152.1l0.8,-1.3M38.3,154.5l-0.8,1.3M48.5,156.9l0.5,1.4M61.3,157.1l1.5,-0.2M67,154l0.3,1.5M73.2,157.1l1.5,0M78.5,155.6l-0.1,1.5M35.1,161.7l-1.5,0.1M37.3,162.5l0.1,-1.5M62.1,163.2l-1.3,-0.7M68.3,161.8l-0.1,1.5M61.1,167.5l0.8,-1.3M29,176.4l0.3,-1.5M79.1,172.5l-1.3,-0.8M63.9,180.9l-1.1,-1.1M72,178.6l0.8,1.3M103.2,36.5l-0.1,-1.5M107.1,37.2l1.3,-0.8M104.9,42.7l-1.4,-0.5M119.3,41.8l-1.5,0.1M123.7,41.8l-0.9,1.2M143.1,42l-0.4,-1.4M148.7,42.2l-1.5,0.2M104,48.6l1.4,0.4M108.1,47.7l1.5,-0.2M138.1,48.5l0.8,-1.2M143.8,47l-0.9,1.2M147.8,46.7l-0.1,1.5M104,54.9l0.3,-1.5M104.5,59.5l1.5,0.1M128.9,60.6l0.1,-1.5M133.9,60.1l-1.5,0.1M99.3,65.7l1.4,0.6M110.2,65.5l-1.3,0.8M147.8,65.5l1.3,-0.8M99.4,72.3l1.2,-0.9M104.1,71.6l1.4,-0.6M109.2,78.1l0.6,-1.4M115,78.9l0.3,-1.5M128.3,77.6l1,-1.1M106.5,82.5l-1.4,0.5M134.8,82.7l1.1,1.1M144.1,83.3l1.3,0.7M147.5,83.8l1.5,-0.1M105.7,88.7l-1.3,0.7M115.6,89.2l-0.9,1.2M121.3,88.6l-1.5,0.3M129.4,102.8l0.6,-1.4M135.6,101.5l-0.1,1.5M139.9,101.3l-1.4,-0.5M106.5,106.4l0,1.5M110.8,107.7l1.4,-0.4M121.8,106.4l-1.1,1M144.1,108l1.2,-0.9M102.1,117.7l1.4,0.5M131.1,124.9l-1.4,0.4M136.1,125.4l-0.1,1.5M144.5,125.3l1.5,0.1M102.9,130.1l-1,1.1M106.4,131.2l1.4,-0.7M111.9,130.8l-0.1,-1.5M135.2,138.5l0.5,-1.4M111.4,141.6l0.3,1.5M135.8,142.7l-0.3,1.5M141,144l-1.4,-0.5M103.9,147.7l-1.4,-0.6M117.9,147.5l-1.3,0.7M109,153.8l-0.4,1.4M112.5,154.7l1.4,-0.4M132.3,154.9l-0.7,1.3M141.7,154.5l-1.2,0.9M104.4,159.7l-1.3,0.7M108.4,158.9l-1.1,1M127.3,162l-0.2,-1.5M130.6,162l0.8,-1.3M141.2,160.5l-0.3,1.5M145.4,161.9l1.5,-0.3M123,166.7l-1.5,0M126.3,166.4l1.4,-0.5M137.5,166.5l-1.3,0.7M149.6,168l0.4,-1.5M116.8,172.1l1.1,-1M123,170.9l-0.1,1.5M127.1,172.5l-1.5,-0.3M127.1,178.1l-0.9,1.2M137.1,178.7l-1.5,0.2M145.1,179.7l1.4,-0.5"/>
<path stroke="#ff0600" stroke-width="2" d="M47.3,23.5l0.3,-1.5M27.5,27.8l1.5,-0.3M56.3,33.3l1.5,0M59.8,35l1.4,0.5M32.3,41.2l1.4,-0.6M38.1,41.1l0.3,-1.5M72.6,40.8l-1.4,-0.4M76.3,39.1l-0.3,1.5M55.7,46.6l-0.6,1.4M25.8,52l-1,-1.1M61.5,51.7l-1.1,1M26.8,58.3l-1,-1.1M30.9,59.2l-0.1,-1.5M42.3,57.4l0.8,-1.3M34,66.2l-0.2,-1.5M57.1,61.9l-0.9,1.2M77.6,65.1l1.3,-0.7M28.9,70.7l-1.3,-0.8M48.6,69.2l0.8,-1.3M67.7,69.3l0.6,1.4M39.3,75.3l1.5,-0.1M52.2,75.1l-1.4,-0.6M39.1,81.8l0.5,-1.4M65.9,91.5l1.5,-0.2M73.5,98.8l-1,-1.2M38.8,106.1l1,-1.1M34.2,108.7l-1.3,0.8M72.1,109.3l-1.5,-0.1M59.2,117.3l0.6,-1.4M71.6,117l1.5,-0.2M64.5,122.4l1.4,0.4M25.9,126.1l1.2,0.9M43,127.2l-0.8,-1.2M48.7,126.4l1.2,1M56.5,126.1l0.5,1.4M62.1,126.4l-1.5,-0.1M25.8,132.9l0.9,1.2M45.2,134.6l-1.5,-0.3M57.2,135l-1.4,-0.5M68.5,133.9l-1.3,-0.7M76.8,131.1l-0.5,1.4M60.6,138.3l-1.1,1M31.4,145.5l-0.2,-1.5M67,144.3l-1.3,-0.8M56.3,156.2l-0.3,1.5M46.3,161.2l-1.4,0.5M51.9,163.5l-1.3,0.8M45,168.2l0.9,1.2M56.7,167.6l-1.3,0.7M74.3,168.8l1,1.1M76.6,167l-0.1,1.5M37.5,176l1.1,-1M71.3,175.6l0.9,-1.2M25.3,179.7l1.4,0.5M33.2,180l0.4,-1.5M57.3,177.8l0.3,1.5M97.9,35.7l0.7,1.4M149,34.4l-0.4,1.4M99.7,41.8l-1.1,1M115.1,41.4l-1.4,0.6M133.1,41.7l1.5,-0.2M99.2,47.1l-0.4,1.4M124,47.3l-1.3,0.7M129.6,48.6l-1.5,-0.2M134.4,47.1l-0.6,1.4M118.1,54.2l1.4,-0.6M147.7,54.4l1.5,-0.2M109.3,59.7l-1.4,-0.6M137.7,60.5l1.5,-0.3M138.2,66.1l0.6,-1.4M118.5,71.7l1.5,-0.3M129.4,72.6l1,-1.1M134,72l0.5,-1.4M145.3,71.2l-1.4,0.4M105.4,76.4l-0.6,1.4M119.8,77.3l-1.5,0.3M123.5,78.7l1.3,-0.8M100.3,83.3l-0.8,1.3M114.8,82.5l0.1,1.5M125,82.9l-1.2,0.9M110.9,87.9l0.5,1.4M124.8,88.7l-1.5,0.4M144.4,90.3l1.3,-0.7M148,90.5l1.3,-0.8M100,94.5l1.4,0.5M140.9,94.8l-1.2,0.8M101.1,101.3l0.7,-1.3M120,99.9l0.1,1.5M125.1,101.2l-1.4,0.5M101.5,107.2l-1.1,-1.1M135.2,106.8l-1.3,0.7M115.8,114.1l0.5,-1.4M130.4,113l-1.5,-0.2M136.6,113.2l-1.3,0.7M144.9,113.1l0.9,1.2M111.4,117.9l-0.8,1.3M115.5,119.2l0.2,-1.5M129.7,118.3l-0.2,1.5M136.2,119.4l-1.2,-0.9M149,118.6l-0.5,1.4M125,125.6l1.2,-0.9M130.1,131.8l0.9,-1.2M134.2,131.3l1.4,-0.5M139.6,132.5l1.3,-0.8M101.5,135.4l1.5,0.1M122,137.7l0.5,-1.4M143.8,137.7l1.5,-0.2M149,137.8l1.5,-0.2M101.7,142l1.2,-0.9M108.6,142.1l-1,1.1M117.1,142.5l0.8,-1.2M126.2,149.4l-0.7,-1.3M135.4,148.7l1.5,-0.1M150.6,149.4l-1.3,0.8M105.1,153.1l-1.5,-0.1M122.8,155l-1.4,0.4M126.7,154.3l1.5,0M108.2,165l1.3,0.7M113.4,166.1l0.8,-1.3M132.3,165.6l-0.5,1.4M141.2,173.8l0,-1.5M123.1,177.6l-1.5,0.2M131.9,179.4l1.4,-0.5"/>
<path stroke="#ac0000" stroke-width="2" d="M42.3,29.3l1,1.1M47.4,29.5l1.2,-0.9M32.7,35.1l1.3,0.8M27.2,40l1.5,0.2M50,40.8l-1.5,0.3M25.1,44.5l0.2,1.5M36.3,46.3l0.5,-1.4M47.3,45.5l1,1.1M65.9,46.4l-0.2,-1.5M72.5,47l-1.5,0.2M32,52l-1.4,0.5M49.3,51.5l-0.7,1.3M52.5,56.5l1.5,0.2M73.5,56.7l-1.4,-0.6M43.3,70.3l1.5,0.3M63,70.8l-1,-1.1M24.3,75.1l1.4,-0.5M31.1,76.6l1,-1.1M73.7,75.6l0.3,-1.5M78.1,75.4l1.3,0.8M35,82.3l-1.5,-0.4M43.2,82.6l-1,-1.1M61.3,82.8l-1.2,-0.9M67.2,80.3l1,-1.1M79.2,82l1.2,-0.8M34.6,88.3l0,-1.5M41.9,85.7l1.4,-0.6M26.7,92.3l-1.3,0.8M55.5,91.9l-0.1,1.5M76.4,91.7l1.1,1.1M28.8,99l-1.5,-0.1M38,99.5l1.5,0.1M42.8,98l-0.4,1.5M62.2,99.2l-1.5,-0.2M78.5,99.4l-0.4,-1.4M27.2,103.9l-0.4,1.4M79.2,104.4l0.3,1.5M66.8,108.6l0.3,1.5M50.7,118l0.8,-1.3M79.1,114.2l0.9,1.2M34.1,122.4l-1.5,0.2M37.5,121l-1,-1.1M56.7,123.2l-0.9,-1.2M33.1,126.1l0.2,1.5M78.8,126.7l0.9,1.2M61.5,134.1l-1.5,0.2M26.5,139.7l-1.3,0.8M36.6,140.9l1.1,-1M54.3,139.2l1.4,-0.6M74.4,139.7l0.3,-1.5M77.9,139.8l-1.2,0.9M38.3,145.6l1,-1.1M43.1,144.3l0.5,1.4M54.8,144.1l-1.2,0.9M33.5,150l-1.3,0.7M29.1,161.6l-1.3,-0.8M77.3,160.6l-0.6,1.4M28.5,167.1l0.7,1.3M33.5,167.5l0.6,-1.4M51.8,167.5l-1.5,0M68.8,166.3l0,1.5M34,173.7l-1.4,-0.6M44.3,174.5l-1.4,-0.5M49,173.3l-0.1,1.5M58.1,172l-0.5,1.4M63.6,174l-1.5,-0.3M68.2,174.9l1.1,-1M37.9,180.1l-0.2,-1.5M43.4,180.8l1.5,0.3M69.6,178.8l-1.5,0.3M113.8,36.9l-1.5,-0.1M137.9,36.5l1.5,0M144.8,35.4l-1.1,1M129.1,42.3l0.6,-1.4M113.7,48.1l-0.7,-1.3M118.1,48.1l0.9,-1.2M110.5,53.7l-1.5,-0.1M114.2,53.1l-1,1.1M144.4,52.5l-1.1,1.1M99.5,60.9l1.1,-1M125.1,59.9l-1.4,0.6M147.4,59l1.3,0.8M110.8,72.2l-1.5,0.1M113.5,71.3l1.4,-0.6M133,78l1.2,-0.9M130.8,82.4l-0.8,1.3M131.2,89.5l-1.4,-0.6M135.5,89.6l-0.9,1.2M104.2,95.5l1.5,-0.1M112.1,95.4l-1.5,0M117,94.5l-1.5,0.1M125.3,96.5l1.2,-0.9M129.8,95.9l-0.2,-1.5M106.4,101l-1.4,-0.5M111.6,101.2l-0.5,-1.4M115.9,101.5l-1.5,0.1M125.1,107.7l0.8,-1.3M149.8,108.2l-1.4,0.6M107.3,112.2l-0.4,1.5M121.3,112.9l0.2,1.5M148.5,114.8l1,-1.2M119.8,119l1.5,0.2M126.5,118.2l-1,1.1M140.1,118.6l-0.9,1.2M145.1,120.5l0.4,-1.4M117,124.5l-1.5,-0.1M139.2,125.5l1.3,-0.8M144.7,131.1l-0.8,1.2M116.9,136.3l1.5,0.2M127.4,136.9l-1.2,-0.9M131.3,137.5l0.4,-1.4M122.8,141.6l-1,1.1M132.1,142.7l-1.5,0.2M149.5,143.5l-1,1.1M107.6,148.3l1.5,0M141.6,150.3l-1.3,-0.8M144.9,149.7l0.8,-1.3M134.5,155.2l1.5,-0.3M149.8,155.6l1.5,-0.3M112.3,159.5l1.5,0.3M122.1,160.5l-0.9,1.2M135.7,160.5l-0.5,1.4M131.5,172l-0.8,1.3M145.6,173l0.4,1.4M139.8,180.2l0.8,-1.2M150.1,180.5l1,-1.2"/>
<path stroke="#ff5e00" stroke-width="2" d="M65,26.8l-0.4,1.5M36.6,34.3l0.6,1.4M51,34.2l-1.3,-0.7M70.2,35.5l0.5,-1.4M80.5,45.1l-1.2,-1M70.5,80.2l1,-1.2M60.6,87.2l0.6,1.4M39.4,111.6l1.5,0.3M31.7,115.1l-1.2,0.8M36.9,127.3l0.5,-1.4M63.2,151.4l-1.5,0.4M37.2,166.8l0.4,1.4M139.4,41.5l-1.4,0.4M128.8,53l1.4,0.5M133.3,53.4l-0.6,1.4M139.9,89.4l-1.5,-0.2M149.2,102.4l0.8,-1.3M116.9,106.5l-1.5,0.2M120.5,126.3l0.6,-1.4M141.7,167.6l-1,1.1M104.1,170.4l-1.4,0.6M109.7,171l-1.3,0.7"/>
<path stroke="#ff8b00" stroke-width="2" d="M48.7,94.1l1.5,-0.2M43.9,156.4l-1.4,-0.5"/>
<path stroke="#69ff96" stroke-width="1.6" d="M163.4,28.6l0,-0.5M188.6,27.3l0.4,-0.3M179.2,34.6l0,0.5M200,34.2l0.2,0.5M167,40.8l-0.3,-0.4M211.3,40l-0.2,0.5M166.7,53.1l0,-0.5M216.5,58.1l0.3,-0.4M215.6,64l-0.4,0.2M184.5,70.9l0.2,-0.5M212,77.1l-0.1,0.5M216,76.3l0.2,-0.4M199.6,83.2l0.3,-0.4M207,84.7l0.1,0.5M216,83.3l0.2,-0.5M205.8,90.1l-0.2,-0.5M163.5,97.7l0.5,0.1M177.6,104.1l-0.2,0.5M167.1,110.2l0.3,-0.4M216.1,115.1l-0.2,0.4M162,121.1l-0.2,-0.4M166.3,122.9l-0.3,0.4M199.1,122.8l-0.2,0.4M172.1,127.1l-0.1,-0.5M200.5,147.2l-0.2,-0.4M184.9,153.1l-0.2,-0.5M200.4,153.9l-0.3,0.4M173.4,160.6l-0.5,0.2M199.9,159.9l-0.1,0.5M210.2,159.3l0,-0.5M171.6,165.8l-0.4,0.3M177.7,172.3l0.2,-0.5M189,179.1l-0.4,0.3M217.7,178.8l0,-0.5M166.3,185.6l-0.5,0.1"/>
<path stroke="#00e3ff" stroke-width="1.6" d="M167.2,28.7l0,-0.5M196.1,26.9l0.2,0.5M199.5,26.8l-0.1,-0.5M160.9,35.8l-0.4,0.2M172.1,35.5l0.1,0.5M183.4,39.3l-0.1,-0.5M201.1,38.8l-0.1,-0.5M183.7,46.5l0.4,-0.3M193.7,45.5l-0.4,0.3M205.2,45.5l-0.1,0.5M179.5,54.2l0.2,0.5M194.2,51.5l0.3,-0.4M161.3,59.4l-0.1,0.5M168.1,59.3l-0.4,0.3M201.1,58.3l0,-0.5M211.3,58.4l0.4,-0.3M184.3,66.5l-0.4,0.2M199.1,64.9l-0.5,0M162.8,72.7l-0.1,0.5M172.2,72.1l0,-0.5M188.8,71.4l-0.5,0.1M195.9,71l0.1,0.5M216,71.8l-0.3,0.4M174.2,78.3l0.4,-0.2M189.5,78.6l-0.3,0.4M167.4,90.3l-0.1,0.5M184.6,90l0.3,-0.4M178.3,97.6l0.2,0.5M195.3,96.5l0.1,0.5M172.8,109.1l0,0.5M199.7,110l0,0.5M168.8,115.7l0.3,-0.4M172.5,121.1l-0.2,-0.5M190.5,129.1l0.1,0.5M200.3,135.5l-0.1,0.5M204.6,135.4l0,0.5M169.2,139.6l0.3,-0.4M173.7,141.5l0.2,0.5M184.7,141.2l0.2,-0.5M201.4,140.1l0.1,0.5M210.7,140.9l-0.1,-0.5M189.9,146.4l0.5,-0.1M195.6,153.9l-0.3,0.4M179.2,158.9l0.3,-0.4M184.9,159.7l0.1,-0.5M163.2,165.5l0.2,-0.5M185.4,166.2l0.2,0.5M205.1,173.6l-0.1,0.5M167.4,178.3l0.1,-0.5M194.3,178.7l0.2,-0.5M199.7,179.1l-0.4,0.3M205.8,178.7l-0.4,0.3M210.9,179.6l0,0.5M162.3,183.7l-0.1,-0.5M178,185.3l-0.2,0.4M189.6,184.8l-0.1,0.5"/>
<path stroke="#3dffc2" stroke-width="1.6" d="M172.2,27.8l0.1,-0.5M178.4,27.8l0,0.5M183.2,27.9l0.3,-0.4M205.3,27.2l-0.5,0.2M211.8,26.3l0,0.5M168.3,35.4l-0.2,0.4M206.4,33.4l0.2,-0.4M216.9,32.1l0.2,-0.4M179.7,39l0.1,-0.5M195.4,39l-0.1,-0.5M205.2,39.8l0.2,-0.5M217.1,39.5l0.2,-0.5M162.5,47.6l0.2,-0.5M178.8,46.8l0,0.5M199.3,47.2l0,0.5M210.4,44.8l0.4,0.2M173,54.3l0.1,0.5M190.1,53.7l-0.4,0.2M199,51.6l-0.4,0.3M216.9,51.7l0,0.5M177.2,58.4l-0.3,-0.4M183.3,59.9l-0.2,0.5M162.1,65.7l-0.4,0.3M177.3,64.5l-0.2,-0.5M195.3,65.8l0.5,0.2M166.9,71.9l0,-0.5M201.1,70.7l-0.1,0.5M204.6,70.3l-0.4,-0.2M212.3,70.5l0.2,-0.4M200.6,77.9l-0.4,0.3M205,77.7l0.2,0.5M163,85.8l0.2,0.5M172.6,83.7l0,-0.5M183.5,83.2l-0.2,-0.5M211.4,83.8l-0.3,0.4M161.5,89.9l0.1,-0.5M172.6,91.5l-0.4,0.2M188.8,90.2l0.2,-0.5M194.6,91.2l-0.1,0.5M217.2,90.1l0.1,-0.5M182.9,96.2l-0.3,-0.4M172.1,102.9l0,-0.5M210.8,103.9l-0.2,0.5M162.4,109.9l0.3,-0.4M210.4,110l-0.1,0.5M161.6,116l0.2,-0.5M178,116.2l0,-0.5M211.9,114.3l-0.1,-0.5M177.8,122.2l-0.4,0.4M196,122l0.1,-0.5M177.8,128.4l-0.2,-0.5M194.4,129.2l0.3,0.4M211.6,129l-0.3,0.4M216.1,127.9l0.3,-0.4M162.6,134.7l0.2,-0.4M183.6,133.8l-0.5,0.2M189.7,133.3l0.3,-0.4M216.9,135.3l-0.1,0.5M161.7,141l-0.3,0.4M177.8,140.7l0.3,-0.4M195,141.1l0,0.5M179.3,147.1l-0.1,0.5M168.7,153l0,-0.5M189.9,153.4l0.1,-0.5M206.2,153.9l0,0.5M194.4,159l0,-0.5M206.3,160.1l0.2,-0.4M168.6,166.1l-0.2,0.5M189.5,164.7l0.2,-0.5M215.9,167.1l0.2,0.5M173.5,171.8l-0.3,0.4M200,172.7l-0.3,-0.4M178.3,177.2l-0.3,-0.4M185.4,185.8l0.2,0.4M195,185.2l0.3,-0.4M205.9,186.1l-0.2,0.4"/>
<path stroke="#11ffee" stroke-width="1.6" d="M216.1,26.3l0.1,0.5M185,33.6l0.4,-0.3M194.4,33l0.2,0.4M190.2,40.5l0.2,-0.5M168.4,48.3l0.1,0.5M217.1,45.2l0.2,-0.5M162.9,54.5l0.1,0.5M183.4,53.5l0.5,-0.1M206.8,52.3l0.3,-0.4M211,52.7l-0.4,0.2M169,65.3l0.4,0.3M173.8,64.6l-0.2,-0.5M205.8,65.3l0.5,-0.1M210.2,65.7l-0.4,0.3M179.5,72.6l0.4,0.3M167.6,79.2l-0.3,0.4M178.3,78.2l0,0.5M183.1,79l-0.1,0.5M194.1,77.1l0,-0.5M166.7,84.3l-0.3,0.4M190.2,84.4l-0.5,-0.1M179.3,90.2l0.2,-0.5M211.4,89.2l0.5,-0.2M168.3,97.1l-0.4,-0.4M190.1,97.5l-0.1,0.5M206,96.6l-0.1,0.5M212,97.1l0.5,0M168.1,104l0.4,-0.3M185,102.6l-0.1,-0.5M195.2,102.9l0.2,-0.4M200.2,103.5l-0.2,0.5M206.6,102.3l0.1,-0.5M215.9,103.3l0,0.5M178.2,108.8l0.2,-0.5M206.9,109.5l0.1,0.5M195.1,115.4l0.3,0.4M206.8,115.4l0.3,0.4M183.5,122.3l-0.5,0.2M189.9,121.1l0.1,-0.5M206.6,121.8l-0.2,-0.5M216.5,120.8l-0.4,0.2M167.9,128.2l-0.3,0.4M200.6,128.1l0,-0.5M206,128.3l-0.2,-0.5M167.8,134.9l0.2,-0.5M173.7,133.9l0.5,-0.2M177.7,134.1l-0.3,0.4M195.3,134.3l0.5,-0.1M211.5,134.1l0.4,-0.3M188.8,142.1l-0.3,0.4M206.2,141.3l-0.1,0.5M162,147.9l-0.4,0.3M167.1,147.4l0.1,0.5M217,147l0.1,-0.5M161.2,154.2l-0.1,0.5M172.1,152.5l0,-0.5M211.4,153.1l-0.3,0.4M216.6,153l-0.5,-0.2M163,158.3l0.1,-0.5M166.5,158.6l-0.5,0M189.4,159.4l-0.3,0.4M215.5,159.3l-0.1,0.5M178.9,166.3l0.1,-0.5M199.2,165.2l-0.4,0.3M204.6,166.7l0,0.5M161.1,170.8l-0.4,-0.3M168.4,171.1l0.2,-0.5M190.1,171.8l0,0.5M195.6,172.9l0.4,0.3M211.7,171.7l-0.1,0.5M163.5,177.3l0.5,-0.2M183.8,179l0,0.5M173.9,184.8l0.2,-0.5M211.7,184.8l-0.4,0.3M215.7,184.1l0.2,-0.5"/>
<path stroke="#00b7ff" stroke-width="1.6" d="M188.8,33.4l0,0.5M162.9,40.7l-0.2,-0.5M204.5,58.7l-0.1,0.5M187.8,65.2l-0.5,0M161.4,78.7l-0.3,0.4M178.4,83.3l-0.3,-0.4M194,85.3l0.1,0.5M182.9,109.6l0,0.5M216.3,108.7l-0.1,0.5M172.9,116.3l-0.2,0.5M161,129.7l-0.2,0.5M216.3,141l0,0.5M172.9,146.7l-0.2,-0.5M184.8,147.3l-0.1,0.5M194.7,148.3l-0.3,0.4M210.5,147.4l-0.3,0.4M177.6,152.3l0.2,-0.4M195.3,164.9l0,-0.5M184.8,172.5l0.2,-0.4M215.4,173l-0.1,0.5"/>
<path stroke="#005eff" stroke-width="1.6" d="M211.4,32.8l-0.3,0.4M174.3,40.5l0,0.5M190.5,116.6l0.2,0.4"/>
<path stroke="#008bff" stroke-width="1.6" d="M172.9,47.8l-0.1,0.5M196.2,58.4l0.3,-0.4M200.2,115l-0.2,0.4"/>
<path stroke="#96ff69" stroke-width="1.6" d="M188.2,47.5l-0.3,0.4M172.6,59.7l-0.2,0.5M189.5,58.3l0.4,-0.3M201.4,90.4l0.1,0.5M200,95.9l-0.1,-0.5M216,96.9l0.2,0.5M162.9,103.7l-0.1,0.5M188.3,102.7l-0.3,-0.4M189.1,109.2l-0.2,-0.5M210.4,121.8l0.1,-0.5M183.9,127.1l0.3,-0.4M205.7,146.9l0.4,0.3M210.5,166.4l0.1,-0.5M172.2,179.5l-0.2,0.4M199.7,185.5l-0.4,0.3"/>
<path stroke="#c2ff3d" stroke-width="1.6" d="M173.7,96.5l0.1,-0.5M183.4,116.2l-0.3,0.4"/>
<path stroke="#eeff11" stroke-width="1.6" d="M194.7,108.3l0.1,-0.5"/>
<path stroke="#ff5e00" stroke-width="1.2" d="M32.6,21.9l-0.4,0.3M42.1,22.9l-0.4,0.3M33.6,28l-0.2,0.5M36.4,27.8l-0.1,-0.5M42.4,29.5l0.3,0.4M36.9,35l0.2,0.5M43.8,35.9l0.2,0.5M57.2,33.3l0.5,0M64.8,34.6l0.4,-0.3M28.2,40.1l0.5,0.1M32.9,41l0.5,-0.2M68,39.5l-0.4,-0.3M72.6,40.8l-0.5,-0.1M43.4,47.5l0.5,0.2M38.2,51.5l0.4,-0.2M56.8,52.5l-0.5,-0.1M48.9,56.4l0.3,-0.4M77.9,64.9l0.4,-0.2M48.9,68.6l0.3,-0.4M59.7,74l-0.4,-0.3M78.5,75.6l0.4,0.3M34.7,82.3l-0.5,-0.1M71.5,85.8l0.1,0.5M37.6,92.1l0.2,0.5M61.2,91.6l0.1,-0.5M70.4,93.2l-0.4,-0.3M39,106l0.3,-0.4M45.9,103.6l-0.4,0.3M26.3,110.7l-0.4,0.3M34.1,108.8l-0.4,0.3M57.4,111.5l0.2,-0.5M36.9,120.3l-0.3,-0.4M26,133.1l0.3,0.4M35.2,132.4l-0.4,-0.2M49.6,133l0.1,0.5M67.8,133.5l-0.4,-0.2M45.9,139.8l-0.4,0.3M74.5,139.6l0.1,-0.5M26.8,144.8l0.2,-0.5M54.7,144.1l-0.4,0.3M43.7,156.3l-0.5,-0.2M34.6,161.7l-0.5,0M28.8,167.6l0.2,0.4M49,173.6l0,0.5M113.6,36.9l-0.5,0M128.2,36.6l-0.4,0.3M108.7,41.7l-0.5,-0.2M113.4,47.6l-0.2,-0.4M134,48l-0.2,0.5M133.2,53.7l-0.2,0.5M140.1,53.8l-0.5,0M148.2,54.4l0.5,-0.1M138.5,60.3l0.5,-0.1M138.3,65.8l0.2,-0.5M99.9,78.1l0.2,-0.4M105.1,77.1l-0.2,0.5M124.2,78.2l0.4,-0.3M149.7,77.6l-0.4,0.3M105.7,82.8l-0.5,0.2M119.2,83.3l0.1,-0.5M124.9,82.9l-0.4,0.3M120.9,88.7l-0.5,0.1M130.7,89.3l-0.5,-0.2M139.7,89.4l-0.5,-0.1M100.3,94.6l0.5,0.2M149.6,96.2l-0.5,0.1M120,100.2l0,0.5M135.6,101.8l0,0.5M100.9,106.6l-0.4,-0.4M121.3,106.8l-0.4,0.3M125.5,107.2l0.3,-0.4M135,106.9l-0.4,0.2M144.7,107.5l0.4,-0.3M149.8,108.2l-0.5,0.2M101.7,112.5l0.1,-0.5M115.8,114l0.2,-0.5M121.3,113l0.1,0.5M124.3,113.5l0.3,-0.4M135.6,119l-0.4,-0.3M148.7,119.3l-0.2,0.5M120.9,125.4l0.2,-0.5M102.6,130.3l-0.3,0.4M107.1,130.8l0.5,-0.2M107.9,137l0.4,-0.2M117.3,147.8l-0.4,0.2M131.6,148.2l-0.4,0.3M150.5,149.4l-0.4,0.3M116.9,155l-0.3,-0.4M141.5,154.7l-0.4,0.3M130.9,161.4l0.3,-0.4M135.6,160.9l-0.2,0.5M141,161.5l-0.1,0.5M145.8,161.8l0.5,-0.1M103.3,170.7l-0.5,0.2M126.4,172.4l-0.5,-0.1M149.9,174.6l-0.5,0M122.4,177.7l-0.5,0.1M137.1,178.7l-0.5,0.1M172.1,28.7h0M195.8,26h0M199.6,27.7h0M206.2,26.8h0M172.9,58.8h0M177.6,65.4h0M200,64.8h0M162.5,97.5h0M215.6,96h0M211.2,103h0M168.2,116.5h0M195.9,123h0M206.9,122.7h0M217.1,134.4h0M205,146.3h0M172.4,165.3h0M168.1,172h0M184.3,173.3h0"/>
<path stroke="#ffb700" stroke-width="1.2" d="M37.9,22.7l0.5,0.1M49.4,40.9l-0.5,0.1M76.1,40l-0.1,0.5M65.7,45.5l-0.1,-0.5M71.9,47.1l-0.5,0.1M25.4,51.5l-0.3,-0.4M31.1,52.3l-0.5,0.2M79.5,52.5l-0.5,-0.2M73.2,56.5l-0.5,-0.2M48.8,62.7l-0.4,-0.3M56.6,71.6l0,-0.5M66.6,76.5l0.5,-0.1M73.8,75l0.1,-0.5M25.3,81.8l0.3,-0.4M60.8,82.4l-0.4,-0.3M34.6,87.6l0,-0.5M42.4,85.5l0.5,-0.2M66.1,91.5l0.5,-0.1M42.7,98.3l-0.1,0.5M62.1,99.2l-0.5,-0.1M27.1,104.2l-0.1,0.5M72,109.3l-0.5,0M31.4,115.3l-0.4,0.3M51,117.6l0.3,-0.4M66,115.2l0,-0.5M48.6,123.2l-0.5,-0.2M37.2,126.4l0.2,-0.5M79.2,127.2l0.3,0.4M57.1,135l-0.5,-0.2M76.8,131.3l-0.2,0.5M32.7,137.8l-0.3,0.4M43.2,144.5l0.2,0.5M66.2,143.8l-0.4,-0.3M45.5,161.5l-0.5,0.2M38,175.5l0.4,-0.3M63.9,180.9l-0.4,-0.4M98.1,36l0.2,0.5M108.1,47.7l0.5,-0.1M129.2,48.5l-0.5,-0.1M104.1,54.9l0.1,-0.5M119.8,65.1l-0.5,0M144.9,71.3l-0.5,0.1M109.5,77.4l0.2,-0.5M124.6,88.8l-0.5,0.1M116.7,94.6l-0.5,0M120,95.2l0.4,-0.3M134.6,95.8l0.1,0.5M106,100.9l-0.5,-0.2M149.7,101.6l0.3,-0.4M138.7,108.5l0.4,-0.3M107.2,112.6l-0.1,0.5M141.1,113.3l-0.5,0.2M150.3,132.5l-0.4,0.3M112.7,135.8l-0.5,0M102,141.8l0.4,-0.3M144.5,143.5l0.5,0.1M112.9,154.6l0.5,-0.1M121.9,155.2l-0.5,0.1M145.5,155.7l0.4,-0.2M122,160.6l-0.3,0.4M150.2,162.4l-0.2,-0.5M131.1,172.7l-0.3,0.4M126.7,178.7l-0.3,0.4M145.2,179.7l0.5,-0.2M167.5,41.6h0M185.1,66.1h0M194.4,65.5h0M216.5,63.6h0M162.1,78h0M168.2,78.5h0M162.7,84.9h0M167.4,104.6h0M210.6,109h0M162.4,122h0M210.3,122.7h0M199.9,164.6h0M177.3,173.1h0"/>
<path stroke="#ff8b00" stroke-width="1.2" d="M53.5,21.5l-0.4,0.2M65.1,21.9l-0.2,-0.4M72.8,24l-0.1,0.5M55.4,28.2l0.5,0.1M26.7,34.6l-0.4,-0.3M70.4,34.8l0.2,-0.5M38.3,40.3l0.1,-0.5M61.9,42.3l-0.3,-0.4M67.3,50.4l0.3,-0.4M56.9,62.1l-0.3,0.4M49.3,81.3l-0.2,0.5M37.4,87.2l0.5,-0.1M51.2,87l0.4,0.3M55.5,87.9l-0.2,-0.5M26.6,92.4l-0.4,0.3M76.7,91.9l0.4,0.4M59.8,104.1l0.2,0.5M70.8,104.4l-0.4,-0.3M43.1,111.6l-0.5,0.1M49.5,110l-0.4,-0.4M59.8,110.4l0,-0.5M79.8,108.1l-0.5,0M33.2,126.8l0.1,0.5M40.3,133.1l0.5,-0.2M26,140.1l-0.4,0.3M37.1,140.5l0.4,-0.3M60,138.8l-0.4,0.3M73.2,144.8l0.4,0.2M28.3,152.3l0.5,-0.1M79.3,151.9l0.3,-0.4M61.6,157l0.5,-0.1M67,154.2l0.1,0.5M78.5,155.7l0,0.5M37.3,162.3l0,-0.5M56.1,161.9l0.5,-0.2M68.3,162.1l0,0.5M73.6,160.9l-0.4,-0.3M45.4,168.8l0.3,0.4M51.3,167.5l-0.5,0M68.8,167l0,0.5M57.9,172.4l-0.2,0.5M68.5,174.7l0.4,-0.3M57.4,178.3l0.1,0.5M103.1,36.1l0,-0.5M99.5,41.9l-0.4,0.3M139.1,41.6l-0.5,0.1M118.5,47.5l0.3,-0.4M138.4,48l0.3,-0.4M114,53.2l-0.3,0.4M118.2,54.1l0.5,-0.2M125,54l-0.3,0.4M104.7,59.5l0.5,0M114.3,59.4l0,0.5M130.1,65.8l0.3,-0.4M124.7,71.2l-0.3,-0.4M134.2,71.2l0.2,-0.5M140,71.4l0.4,-0.3M148.5,72.2l0.5,0.2M114.8,83.3l0,0.5M130.4,83.1l-0.3,0.4M100.3,89.7l-0.5,-0.2M105,89.1l-0.4,0.2M144.5,90.2l0.4,-0.2M140.9,94.9l-0.4,0.3M111.3,100.5l-0.2,-0.5M125.1,101.2l-0.5,0.2M129.9,112.9l-0.5,-0.1M107.2,118.4l-0.3,0.4M145.3,119.8l0.1,-0.5M125.1,125.5l0.4,-0.3M139.4,125.4l0.4,-0.3M115.8,130.8l-0.3,0.4M140.3,132.2l0.4,-0.3M101.6,135.5l0.5,0M131.4,137l0.1,-0.5M135.3,138.4l0.2,-0.5M141.1,137.2l0.5,0.2M117.2,142.4l0.3,-0.4M126.9,142.3l-0.2,0.4M107.7,148.3l0.5,0M108.8,154.6l-0.1,0.5M126.8,154.3l0.5,0M132.1,155.3l-0.2,0.4M104.3,159.7l-0.4,0.2M108.3,165.1l0.4,0.2M126.6,166.3l0.5,-0.2M137.4,166.5l-0.4,0.2M145.3,168l0.5,-0.1M140.4,179.4l0.3,-0.4M161.8,35.4h0M211.9,32h0M179.4,40h0M168.1,47.3h0M211.9,52.3h0M183.7,59.1h0M201.4,77.4h0M172.1,103.8h0M188.8,103.5h0M199.6,109.1h0M212.2,115.3h0M172.1,153.4h0M200.9,153.1h0M215.6,158.4h0M168.9,165.2h0M185,165.3h0M173.5,185.7h0"/>
<path stroke="#d80000" stroke-width="1.2" d="M28.4,27.6l0.5,-0.1M67.3,80.1l0.3,-0.4M50.4,106.4l-0.2,-0.5M79.4,105.2l0.1,0.5M79.5,114.7l0.3,0.4M48.9,126.6l0.4,0.3M59.6,143.2l0,-0.5M33.2,150.2l-0.4,0.2M33.7,173.5l-0.5,-0.2M80,180.1l0.4,-0.3M143.8,53.1l-0.4,0.4M115.6,118.3l0.1,-0.5M101.7,124.4l0.5,0M103.6,147.5l-0.5,-0.2M149.7,167.7l0.1,-0.5M204.9,40.7h0M190.4,128.2h0"/>
<path stroke="#ffe300" stroke-width="1.2" d="M64.9,27l-0.1,0.5M30.3,47.4l0.5,-0.1M30.8,59.1l0,-0.5M37.5,64l0.4,-0.3M42.2,62.5l0.2,-0.5M36.5,70.3l0.5,0.2M67.9,69.8l0.2,0.5M52.1,75.1l-0.5,-0.2M54.7,74l-0.4,0.3M67.6,85.7l0.5,0M38,99.5l0.5,0M48.8,97.8l0.3,-0.4M68.5,97.8l0,0.5M78.4,99l-0.1,-0.5M78.5,122.8l-0.1,0.5M61.4,126.3l-0.5,0M79.4,144.9l0.1,-0.5M48.9,151.8l-0.5,0M62.3,151.6l-0.5,0.1M73.5,157.1l0.5,0M77.1,161.1l-0.2,0.5M56.2,167.9l-0.4,0.2M33.5,179.1l0.1,-0.5M149,34.5l-0.1,0.5M114.3,41.7l-0.5,0.2M99.2,47.2l-0.1,0.5M147.8,47.1l0,0.5M114.3,65.3l-0.3,0.4M110.4,72.2l-0.5,0M110.4,83.4l-0.3,0.4M139,84.3l0.2,-0.5M111.5,95.4l-0.5,0M144.5,96.2l0.5,-0.1M116.8,106.5l-0.5,0.1M139.6,119.3l-0.3,0.4M149,126.4l-0.5,0M122.2,142.3l-0.3,0.4M113.9,165.3l0.3,-0.4M108.9,171.4l-0.4,0.2M114,172.1l-0.5,0.2M117.1,171.9l0.4,-0.3M123,171.1l0,0.5M141.2,173.5l0,-0.5M132.6,179.2l0.5,-0.2M150.3,180.2l0.3,-0.4M187.9,27.9h0M215.9,25.4h0M172,34.6h0M184.2,34.2h0M211.9,71.3h0M183.4,78.1h0M163.1,102.7h0M200.5,102.6h0M215.9,102.3h0M172.4,128h0M162.2,135.5h0M200.6,134.6h0M177.1,141.3h0M211.1,146.7h0M204.6,165.8h0M162.6,184.6h0M189.9,183.9h0M212.4,184.2h0"/>
<path stroke="#ff3200" stroke-width="1.2" d="M77.2,28l0,0.5M53.7,40.7l-0.4,0.3M47.4,45.6l0.3,0.4M62.1,47.3l0.3,-0.4M80,44.7l-0.4,-0.3M49,52.2l-0.2,0.4M61.1,52.1l-0.4,0.3M26.7,62.5l-0.4,0.2M67.1,62.5l-0.3,-0.4M43.5,70.3l0.5,0.1M39.3,81.1l0.2,-0.5M57.6,80.4l-0.4,0.3M25.8,88.1l-0.4,0.2M77.1,86.7l0.5,0.2M31.7,99.3l0.3,-0.4M32.2,105.6l0.4,0.2M42.3,118.1l0.2,-0.5M25.6,123.1l0.5,0.2M26.3,126.5l0.4,0.3M66.4,125.8l0.5,-0.2M31.3,145l-0.1,-0.5M38.4,145.6l0.3,-0.4M57.3,151.7l0.1,-0.5M72.8,151l0,0.5M34.2,157.5l0.2,0.4M37.8,155.3l-0.3,0.4M56.3,156.4l-0.1,0.5M37.2,166.9l0.1,0.5M107.3,37.1l0.4,-0.3M118.1,35.6l-0.2,0.4M122.9,35.2l0.4,0.3M138.6,36.4l0.5,0M104.2,42.5l-0.5,-0.2M119.1,41.8l-0.5,0M143.1,41.9l-0.1,-0.5M147.8,42.3l-0.5,0.1M123.2,47.7l-0.4,0.2M108.9,59.5l-0.5,-0.2M133.5,60.2l-0.5,0M124,65.6l0.3,-0.4M135.3,65.3l-0.4,0.3M147.9,65.4l0.4,-0.3M128.8,77l0.3,-0.4M133.5,77.6l0.4,-0.3M144.5,78.5l-0.2,0.4M134.9,82.8l0.4,0.4M111.1,88.6l0.2,0.5M134.9,90.4l-0.3,0.4M115.5,101.5l-0.5,0M111.3,118.1l-0.3,0.4M136,126.1l0,0.5M144.6,125.3l0.5,0M111.9,130.5l0,-0.5M135.7,143.2l-0.1,0.5M125.9,148.8l-0.2,-0.4M135.6,148.7l0.5,0M145.2,149.3l0.3,-0.4M112.8,159.6l0.5,0.1M127.2,161.3l-0.1,-0.5M122.6,166.7l-0.5,0M132.3,165.8l-0.2,0.5M141.6,167.7l-0.3,0.4M135.6,172.9l0.4,0.3M174.3,39.6h0M173.2,46.9h0M216.8,46.1h0M166.8,72.9h0M184.2,71.8h0M194.1,78h0M178.9,84.1h0M206.1,91h0M178,96.7h0M206.7,108.6h0M166.9,122.2h0M178.5,121.6h0M212.2,128.2h0M167.5,158.6h0M200,159h0M194.8,172.3h0M200.4,178.5h0"/>
<path stroke="#c2ff3d" stroke-width="1.2" d="M50.1,33.8l-0.4,-0.2M74,52.4l-0.1,0.5M42.9,127.1l-0.3,-0.4M48.3,144.5l-0.2,-0.5M148.3,90.3l0.4,-0.3M130.4,107.1l-0.5,0.2M112.5,147.7l0.2,-0.5M166.8,54h0M199.8,51h0M190.2,77.9h0M184.1,90.8h0M173.4,97.4h0M216.5,114.2h0M194.9,140.1h0M215.3,185h0"/>
<path stroke="#ff0600" stroke-width="1.2" d="M44.5,42.3l0.4,-0.3M28.3,70.4l-0.4,-0.3M31.7,76l0.3,-0.4M73.2,98.4l-0.3,-0.4M39,116.1l0.5,-0.2M54.1,115l-0.1,0.5M49.2,138.3l0.5,-0.1M54.6,139.1l0.5,-0.2M40.3,149.8l0.5,-0.1M71.6,175.2l0.3,-0.4M78.8,172.4l-0.4,-0.3M37.9,179.9l-0.1,-0.5M69.4,178.8l-0.5,0.1M99.7,53.8l0.4,-0.3M104.1,71.6l0.5,-0.2M104.2,95.5l0.5,0M125.9,118.9l-0.3,0.4M134.3,131.3l0.5,-0.2M148.8,144.2l-0.3,0.4M108.2,159.1l-0.4,0.3M116.9,159.8l-0.3,-0.4M188.8,32.5h0M199.7,33.3h0M204.7,57.7h0M178.3,77.2h0"/>
<path stroke="#eeff11" stroke-width="1.2" d="M42.3,57.3l0.3,-0.4M52.8,56.5l0.5,0.1M76.8,56.8l0.5,0.2M73.2,62.1l-0.4,-0.2M31.6,69.2l0.3,0.4M45.7,76.9l0.4,-0.3M28.8,99l-0.5,0M66.9,108.7l0.1,0.5M72.4,116.9l0.5,-0.1M77.4,140.2l-0.4,0.3M45.3,150.5l0.1,0.5M65.8,150.1l-0.1,0.5M144.7,35.4l-0.4,0.3M104.7,48.8l0.5,0.1M144.7,83.6l0.4,0.2M121.5,131.4l-0.4,-0.2M209.5,44.4h0M216.8,50.8h0M162.9,65.2h0M217,91h0M195.1,95.6h0M200.3,96.8h0M161.8,110.6h0M216.3,140h0M194.5,159.9h0M178.8,167.2h0"/>
<path stroke="#96ff69" stroke-width="1.2" d="M56.6,126.5l0.2,0.5M212,83h0M201.2,89.5h0"/>
<path stroke="#ac0000" stroke-width="1.2" d="M111.4,141.7l0.1,0.5"/>
<path stroke="#69ff96" stroke-width="1.2" d="M195.7,70h0M206.1,95.7h0M168.7,153.9h0"/>
</g>
<rect x="228.0" y="5.3" width="9.7" height="194.4" fill="url(#jet)" stroke="#555" stroke-opacity="0.55" stroke-width="0.35"/>
<text x="239.2" y="7.1" font-family='"Liberation Sans", "DejaVu Sans", sans-serif' font-size="2.9" fill="#333">3</text>
<text x="239.2" y="39.5" font-family='"Liberation Sans", "DejaVu Sans", sans-serif' font-size="2.9" fill="#333">2</text>
<path d="M237.7,37.9h-1.2" stroke="#333" stroke-width="0.4"/>
<text x="239.2" y="71.8" font-family='"Liberation Sans", "DejaVu Sans", sans-serif' font-size="2.9" fill="#333">1</text>
<path d="M237.7,70.2h-1.2" stroke="#333" stroke-width="0.4"/>
<text x="239.2" y="104.1" font-family='"Liberation Sans", "DejaVu Sans", sans-serif' font-size="2.9" fill="#333">0</text>
<path d="M237.7,102.5h-1.2" stroke="#333" stroke-width="0.4"/>
<text x="239.2" y="136.5" font-family='"Liberation Sans", "DejaVu Sans", sans-serif' font-size="2.9" fill="#333">-1</text>
<path d="M237.7,134.9h-1.2" stroke="#333" stroke-width="0.4"/>
<text x="239.2" y="168.8" font-family='"Liberation Sans", "DejaVu Sans", sans-serif' font-size="2.9" fill="#333">-2</text>
<path d="M237.7,167.2h-1.2" stroke="#333" stroke-width="0.4"/>
<text x="239.2" y="201.2" font-family='"Liberation Sans", "DejaVu Sans", sans-serif' font-size="2.9" fill="#333">-3</text>
<text x="132.9" y="214.2" text-anchor="middle" font-family='"Liberation Serif", "DejaVu Serif", serif' font-size="10.7" letter-spacing="0.4" fill="#111">(<tspan font-weight="bold">a</tspan>)</text>
<rect x="275.5" y="6.0" width="206.2" height="192.8" fill="#8fff70"/>
<g fill="none" stroke-linecap="round" filter="url(#sf)">
<path stroke="#0032ff" stroke-width="2.4" d="M284.3,21.6l0.2,1M313.1,21.5l-0.9,0.5M319.9,23.4l-0.5,0.8M313.6,28.3l1,0.3M315,33.6l1,0M291.1,41.6l0.9,-0.4M309.2,41l-1,0.2M306,45.5l0.7,0.7M324.8,46.9l-0.2,-1M301.5,51.4l-0.8,0.6M320.6,51.7l-0.7,0.7M296.1,57.4l-0.7,-0.7M300.8,63.5l0.4,-0.9M315.6,71.9l-0.1,-1M331.3,69.2l-1,0M303.9,77.5l0.8,-0.6M319.6,74.7l-0.8,-0.6M336.8,75.3l0.8,0.5M337.9,82.2l0.8,-0.6M290.5,99.4l0.6,-0.8M332.6,98.8l-0.6,-0.8M297.6,106.2l0.7,-0.7M309.4,106.5l-0.3,-0.9M323.4,103.7l0.8,-0.6M339.1,107.9l-1,0.1M313.1,113.8l-0.1,1M330.3,116.8l1,-0.2M284,122.6l0.9,0.4M284.7,125.7l0.8,0.6M295.8,127.2l0.3,-0.9M307.5,125.9l0.8,0.6M315.3,125.5l0.4,0.9M330.4,126.4l0.2,-1M304.4,134.3l-1,-0.2M285.7,139.2l-0.8,0.5M307.5,144.7l-0.4,-0.9M313.9,143.5l-0.8,0.6M338,145.6l0.3,-1M308.4,151.4l-1,0M297.4,153.8l-0.5,0.9M320,156.6l1,-0.1M321.3,162.7l-0.9,-0.5M333.1,160.8l-0.8,-0.6M336.3,159.8l-0.4,0.9M287.4,166.3l0.4,0.9M296.1,166l0.3,1M296.2,175.6l0.7,-0.7M303.5,174l-1,-0.3M308,172.4l-0.1,1M330.1,175.2l0.6,-0.8M292.1,179.6l0.3,-1M307.7,178.9l-0.3,1M328.8,178.1l-1,0.2M365.8,37.6l0.8,-0.5M358.8,41.9l-0.7,0.7M368.1,42.2l-1,-0.3M407.8,42.4l-1,0.1M362.6,48.8l1,0.3M396.8,48.9l0.6,-0.8M406.7,46.6l-0.1,1M399.3,54l-1,0M396.2,60.7l1,-0.2M403.3,58.7l-0.4,0.9M373.8,64.7l-0.7,0.7M379.4,65.2l-1,0M398,72.2l0.8,-0.6M404.3,71.1l-1,0.3M384,82.7l-0.8,0.6M390.3,89.6l-0.9,-0.4M359.9,101.4l0.5,-0.9M365.6,101l-1,-0.3M370.6,101.3l-0.3,-0.9M394.5,101.1l-0.1,1M365.4,105.9l0,1M360.4,113l0.3,-1M382.9,113.5l0.7,-0.7M374.4,119.2l0.1,-1M366.4,122.7l-0.3,0.9M390.2,124.6l-1,0.3M361.9,129.5l-0.7,0.7M403.6,130.5l-0.6,0.8M394,138.4l0.3,-0.9M398.8,136.3l0.9,0.4M402.9,143l1,0.2M403.5,149.5l0.5,-0.8M389.3,161.7l0.5,-0.9M384.9,166l0.9,-0.4M391.3,164.7l-0.3,1M403.5,167.6l1,-0.3M381.9,170l-0.1,1M386.2,172l-1,-0.2"/>
<path stroke="#008bff" stroke-width="2.4" d="M292.5,21.7l-0.8,0.5M295.9,22.9l1,0.1M306.2,24.1l0.2,-1M286.3,28.2l1,-0.2M302.4,35.2l0.3,1M335.2,39.1l-0.2,1M291.2,52.1l-1,0.3M308.4,51.5l-0.4,0.9M325.8,51.4l0.5,-0.8M339.4,53l-0.9,-0.3M317.5,56.7l0.8,0.6M332.7,56.9l-0.9,-0.4M286.1,62.4l-0.9,0.5M296.1,64.4l0.8,-0.5M317.1,64.6l0.9,0.4M290,68.5l0.5,0.8M307.4,69.5l0.5,-0.9M322.1,71l-0.7,-0.7M326.5,69.1l0.4,0.9M332.5,75.9l0.2,-1M317.1,80.1l-0.8,0.6M307.4,94l1,-0.1M296.7,99.3l1,0.1M307.2,98.4l0.6,-0.8M321.4,99.2l-1,-0.1M338.1,104l0.2,1M323.2,122.1l1,0.3M302.1,127.1l-0.6,-0.8M337.5,126.2l0.6,0.8M294.7,132.4l-0.9,-0.5M298.1,133.3l0.9,-0.4M320.7,133.8l-1,0.1M337,139.3l-0.8,0.6M302,143.6l0.3,0.9M318.6,143.8l0,-1M331.1,143.9l0.9,0.4M304.2,149.8l0.2,1M316.2,151.6l0.2,-1M322.3,150.9l-1,0.2M325.9,153.3l0.2,1M331.9,156.6l1,0M292.3,167.1l0.4,-0.9M335.5,166.2l-0.1,1M288,176l0.2,-1M317.1,171.2l-0.3,0.9M302.1,180.1l1,0.2M330.7,177.7l0.5,0.8M338.6,179.7l0.8,-0.5M372.9,37.3l-1,-0.1M374.2,41.5l-0.9,0.4M398.4,41.7l-1,0.3M358.2,47.1l-0.3,1M373.2,53.1l-0.7,0.7M368.4,60l-0.9,-0.4M393,60.3l-1,0.1M363.7,64.9l-0.9,0.4M388.2,66.9l0.6,-0.8M406.4,65.7l0.8,-0.5M358.1,72.5l0.8,-0.6M388,72.8l0.7,-0.7M373.7,82.2l0,1M358.6,94.3l0.9,0.4M371.2,95.3l-1,0M393.2,94.5l0.2,1M402.8,96.2l1,-0.2M399,101.3l-0.9,-0.4M360.6,107.2l-0.7,-0.7M397.2,108.6l0.8,-0.6M371.8,111.5l-0.8,0.6M380.1,112.5l0.2,1M403.5,112.7l0.6,0.8M407.2,114.8l0.6,-0.8M359.9,124l1,0.1M360.1,135.1l1,0.1M380.8,137.5l0.3,-0.9M407.6,137.5l1,-0.1M367.6,141.5l-0.7,0.7M375.8,142.3l0.6,-0.8M394.6,142l-0.2,1M400.1,143.7l-0.9,-0.4M376.4,155.2l-0.7,-0.8M404,155.4l0.9,-0.5M409.4,162.9l-0.4,-0.9M361.6,166.2l0.5,-0.8M366.8,164.3l0.9,0.5M373.3,171.3l-0.9,0.4M390.5,171.2l-0.5,0.9M394,172l0.7,0.7"/>
<path stroke="#005eff" stroke-width="2.4" d="M301.6,22.9l-0.8,0.6M301.1,29.5l0.7,0.7M306.2,30l0.8,-0.6M336.1,27.9l0.1,1M286.1,35.1l-0.8,-0.6M295.4,34.4l0.4,0.9M318.5,35.2l0.9,0.3M323.3,35.2l0.8,-0.6M329.1,36l0.3,-1M337.9,35.7l0.1,-1M303.2,42.8l0.8,-0.6M321.1,42.8l-0.7,-0.7M284.1,44.5l0.1,1M288.5,47.8l1,-0.3M301.3,47.3l0.9,0.4M285,52.4l-0.7,-0.7M296.5,52.1l0.9,-0.5M311.2,56.6l1,0.1M308.7,63.6l-0.8,-0.6M326.4,63.1l-0.7,-0.7M283.6,82.6l0.6,-0.8M302.3,82.8l-0.7,-0.8M326,80.5l0.7,-0.7M330.3,84.9l0.2,1M285.9,92.1l-0.8,0.5M320.1,91.9l0.1,-1M324.5,91.4l1,-0.1M288,98.9l-1,-0.1M327.4,96.9l0,1M303.1,111.2l-1,0.1M316.1,111.8l0.4,-0.9M318.8,110.5l0.1,-1M331.3,109.1l-1,-0.1M290.8,114.7l-0.8,0.6M296.7,120.9l-0.7,-0.7M304,122.2l0.1,-1M308.2,123.2l-0.9,-0.4M324.4,125.9l0.9,-0.4M308.4,132l0.2,1M330.8,131.3l0.4,0.9M307.3,138.2l1,-0.3M319.7,137.8l-0.7,0.7M325.1,139l0,1M290.4,145.3l-0.1,-1M297.1,145.4l0.6,-0.8M326.1,144l-0.8,-0.5M292.7,149.4l-0.9,0.5M338,151.8l0.5,-0.8M307.3,156.1l0.3,1M313.9,161.7l0.9,-0.3M327.2,161l0,1M315.9,166.9l-0.9,0.5M333,168l0.7,0.7M322.8,173.4l-1,-0.2M327,174.5l0.8,-0.7M381.6,35.3l0.7,0.7M364,43.1l-0.9,-0.3M372.7,48.6l-0.5,-0.9M388.7,48.8l-1,-0.2M384.1,53.7l-0.5,0.9M387.7,61l0.1,-1M358,65.7l0.9,0.4M372.1,71.5l0.9,-0.4M377.1,71.8l1,-0.2M384.2,72.1l-0.6,-0.8M406.3,71.8l0.9,0.4M391.6,78.2l0.8,-0.6M397.8,78l1,0.3M397.6,85.1l0.3,-0.9M360.4,90l-1,-0.3M380.4,88.5l-1,0.2M403,90.3l0.9,-0.5M376.1,94.4l-1,0.1M383.9,96.5l0.8,-0.6M400,94.6l-0.8,0.6M380.8,106l-0.7,0.7M394.2,106.5l-0.9,0.5M402.7,107.9l0.8,-0.6M408.9,107.9l-0.9,0.4M378.4,118.7l1,0.2M399.1,118.1l-0.6,0.8M370.6,123.8l-0.6,0.8M403.1,125l1,0M365,131l0.9,-0.4M375.2,129.6l-0.6,0.8M409.9,131.7l-0.9,0.5M402.4,137.3l1,-0.1M394,148.3l1,-0.1M400.1,159.7l-0.2,1M363.2,169.7l-0.9,0.4M368.8,170.3l-0.9,0.5"/>
<path stroke="#00e3ff" stroke-width="2.4" d="M324.4,23.1l-0.5,-0.9M295.5,29.1l-0.1,-1M331.8,41.1l-1,-0.3M289.8,59.6l-0.1,-1M307.2,57.3l0.6,-0.8M302,70.3l1,0.2M320.4,82.9l-0.8,-0.6M329.3,80.4l0.6,-0.8M314.9,89l-0.4,-0.9M290.9,105.3l0.9,0.4M285.7,110.3l-0.8,0.6M309.2,110.5l-0.7,-0.7M325.7,108.2l0.2,1M297.2,116.2l0.9,-0.4M309.5,118l0.5,-0.8M318,117.3l0.4,-0.9M324.9,115.3l0.1,-1M291.9,137.1l-0.7,0.7M292.6,155.9l0.5,0.9M327.7,165.4l0,1M356.7,35.8l0.4,0.9M407.9,34.4l-0.3,1M406,59l0.8,0.5M362.7,71.7l0.9,-0.4M374.6,89l-0.6,0.8M388.7,96l-0.2,-1M383.6,125.5l0.8,-0.6M395,124.8l-0.1,1M375.5,135.9l1,0.1M390,137.4l0.3,-1M370.2,141l0.2,1M408.4,142.9l-0.6,0.8M370.9,158.9l1,0.2M400,173.4l0,-1M396.2,178l-1,0.1"/>
<path stroke="#0000d8" stroke-width="2.4" d="M331.9,23.4l-0.2,1M324,26.9l-0.2,1M310.1,34.6l-0.9,-0.5M286,40.3l1,0.1M297,41.6l0.2,-1M333.2,51.8l-0.3,1M324.6,58.5l-0.9,0.4M316.2,61.8l-0.6,0.8M288.1,70.9l-0.9,-0.5M337.4,67.9l-1,-0.3M289.9,76.9l0.7,-0.8M298,82l0.3,-0.9M289.7,93.2l0.5,0.8M301.8,97.6l-0.2,1M286.3,103.5l-0.3,1M305.8,102.9l-0.9,0.5M319.2,123.2l-0.6,-0.8M335.8,130.5l-0.4,0.9M288.3,161.2l-0.9,-0.5M296.9,179.7l-0.2,-1M362.1,37.1l-0.1,-1M377.3,35.2l-0.4,0.9M409.3,76.9l-0.7,0.7M370,82.5l-0.6,0.8M376,106.3l-1,0.1M370.4,117.4l-0.5,0.9M376.1,124.3l-1,-0.1M381.1,159.7l-0.6,0.8M403.9,161.4l1,-0.2M382.1,166.1l-1,0M400.7,166.8l-0.7,0.7M408.4,167.7l0.2,-1M409.4,174l-1,0"/>
<path stroke="#00b7ff" stroke-width="2.4" d="M336.4,22l0.8,0.6M292.8,27.7l-0.3,0.9M332.9,28.2l-0.9,0.4M313.2,40.7l-0.8,0.5M327.6,40.3l-0.8,-0.6M295.2,46.7l0.3,-1M320.6,48.3l0.5,-0.9M293,66.5l-0.1,-1M332.4,62.4l-0.9,-0.5M311.3,75.3l-0.9,-0.4M294.2,82.4l-1,-0.2M308.3,81l-0.3,0.9M293.6,88.5l0,-1M309.8,86.7l0.8,0.6M326.1,85.6l1,0M335.1,86.3l0.9,0.4M314.5,91.6l0,1M330.3,93.8l-0.8,-0.5M335.1,91.4l0.7,0.7M316.5,97.9l-0.9,0.4M301.1,118.2l0.4,-0.9M337.7,121.5l-0.2,1M321.3,126.1l-1,0M333.3,139.6l0.2,-1M298.9,149.4l1,-0.1M324.7,149.2l-0.1,1M294.4,161.1l-1,0.1M305.5,160.6l-0.9,0.3M311.1,162.8l-0.8,0.5M338.2,172.1l-0.9,-0.5M316.2,176.9l0.2,1M406.3,54.6l1,-0.1M392.7,72.3l0.3,-1M368,78.4l0.4,-0.9M387,77.8l0.7,-0.7M406,83.8l1,-0.1M394.5,89.3l-0.6,0.8M406.6,90.6l0.8,-0.5M375,101.3l-1,0M407.9,102.5l0.5,-0.8M388.6,117.8l-0.2,1M403.8,120.5l0.3,-1M372,135.4l-1,0M376.9,146.9l-0.9,0.5M385.3,153.8l1,0M391.2,154.2l-0.5,0.9M393.1,154.7l1,-0.2M372.1,165.8l0.5,-0.9M396.6,165.7l-0.9,0.5M404.4,172.1l0.3,1M386.1,177.2l-0.6,0.8"/>
<path stroke="#0006ff" stroke-width="2.4" d="M319.2,28.2l0.8,-0.7M291.5,35.2l0.8,0.5M317,52.9l-1,-0.2M285.9,58.7l-0.7,-0.7M319.4,86.9l0.4,0.9M302.4,93.7l1,0.2M337.5,99.5l-0.3,-1M316.7,102.4l-0.9,0.5M318.3,102.8l0.3,0.9M330.5,105l-0.7,-0.7M293.4,108.4l-0.8,0.5M298.1,111.3l1,0.2M287.5,115.5l-1,0.2M293.3,122.1l-1,0.1M315.8,123.1l-0.6,-0.8M332.3,120.1l-0.9,0.5M292,125.6l0.1,1M316.4,134.8l-0.9,-0.3M295.4,140.6l0.7,-0.7M305.7,138.7l-0.8,0.6M313,138.9l0.9,-0.4M285.5,145.2l0.3,-0.9M331.8,150.1l-0.1,1M315.3,155.4l-0.2,1M337.4,154.8l-0.1,1M303.8,167.4l0.6,0.8M311,166.9l-1,0M319.9,167.1l0.5,-0.9M323,180.4l-0.7,-0.7M403.8,35.5l-0.8,0.6M402.8,47l-0.6,0.8M358.2,54.3l0.8,-0.6M387.4,53.1l0.9,0.3M377.9,59.9l0.9,0.4M382.1,66.6l0.6,-0.8M373.8,79.2l0.2,-1M378.9,77.2l-1,0.2M393.4,82.5l0.7,0.7M402.7,83.1l0.9,0.5M364.8,88.6l-0.9,0.4M383.9,88.6l-1,0.2M378.8,99.5l0,1M402.5,102.6l0.1,-1M369.4,107.5l1,-0.3M374.6,114.2l0.3,-1M389.5,112.8l-1,-0.1M395.7,112.9l-0.9,0.5M385.5,117.8l-0.7,0.7M379.3,126.2l0.4,-0.9M408.5,126.1l-1,0.1M381.3,131.6l-0.9,-0.5M392.8,131.1l0.9,-0.3M381.9,141l-0.7,0.7M371,148.2l0.3,-0.9M380.9,147.5l-0.8,0.6M400.7,153.9l-0.8,0.6M403.7,179.1l0.9,-0.3"/>
<path stroke="#3dffc2" stroke-width="2.4" d="M314.7,46.6l-0.4,0.9M283,75.2l0.9,-0.3M325.2,76.6l1,-0.3M286.6,156.6l0.4,0.9M366.7,48l1,-0.2M358.2,61.2l0.7,-0.7M399,89.4l-1,-0.1M409.5,95.8l-1,0.3M385.1,149.2l-0.4,-0.9"/>
<path stroke="#0000ac" stroke-width="2.4" d="M331.7,47.2l-1,0.1M336.3,65.3l0.9,-0.5M298.1,75.3l1,-0.1M285.4,87.7l-0.9,0.5M296.4,91.6l0.4,0.9M284.6,132.3l0.6,0.8M327.7,133.7l-0.9,-0.5M303.1,156l-1,-0.3M284,179l1,0.3M382.7,41.8l-0.6,0.8M403.8,77.6l-0.4,0.9M366.5,117.8l-0.7,0.7M409.6,148.8l-0.9,0.5M371.1,154.3l1,-0.3M378,164.7l-0.5,0.9"/>
<path stroke="#11ffee" stroke-width="2.4" d="M339.6,45.5l-0.8,-0.6M301.1,57.8l0.5,-0.8M314.1,73.8l-0.9,0.5M300.6,85.7l0.9,-0.4M337.9,113.7l0.6,0.8M286.6,152l1,-0.2M296.3,162.2l0,-1M293.3,173.1l-0.9,-0.4M378.4,42.1l-1,0.1M383,47.4l-0.9,0.5M384.1,59.9l-0.9,0.4M369.3,65.5l-0.9,0.5M363,147.3l-0.9,-0.4M363.5,159l-0.9,0.5"/>
<path stroke="#000080" stroke-width="2.4" d="M335.1,56.8l1,0.3M294.9,70.2l0.9,0.4M391.7,42l1,-0.1M358.3,79l0.5,-0.9M389.8,82.2l-0.5,0.9M369.7,87.7l0.3,0.9M370.8,130.7l-0.1,-1M382.2,176.9l-1,0.1"/>
<path stroke="#96ff69" stroke-width="2.4" d="M295.8,87.4l1,-0.3"/>
<path stroke="#69ff96" stroke-width="2.4" d="M377.9,95.9l0.8,-0.6"/>
<path stroke="#ff0600" stroke-width="2" d="M387.9,36.4l-0.8,0.5M393.4,47.1l-0.4,0.9M364.4,76.2l-0.4,0.9M407.9,118.1l-0.3,0.9M360.4,141.7l0.8,-0.6M366.3,147.9l1,0M381.9,154.4l-1,0.3M408.4,155.2l1,-0.2M376.4,159.9l-0.7,-0.7M375.5,171.7l0.7,-0.7M422.3,30.5l-0.1,-1.5M470.6,25.2l-0.1,1.5M458.2,33.1l0.5,1.4M464.4,35l0.7,-1.3M438,40.8l0.4,-1.5M470.5,38.9l-0.5,1.4M441.3,47.6l1.2,-0.9M464.7,53.8l0.8,-1.3M420.4,58.1l-0.3,1.5M431.9,58.4l-0.5,1.4M421.2,77.7l-1,1.1M471,75.7l-0.4,1.5M421.3,84.4l0.5,1.4M453.7,94.9l0.4,1.5M465.4,107.8l0.3,1.5M453,114l0.9,1.2M459.4,133.7l-0.4,1.5M442.8,142.1l0.6,-1.4M448.4,140.4l-0.8,1.3M459.7,138.3l0.4,1.4M454.2,146.6l-0.8,1.3M427.5,154l-0.1,-1.5M437.2,159.6l0.8,-1.2M443.4,160.7l0.2,-1.5M431.7,164.5l-1.3,0.8M435.9,173l0.6,-1.4M469.8,177.5l-0.1,1.5M476.5,179.6l-0.1,-1.5M426.5,184.5l-1.4,0.4M437.5,183.2l-0.7,1.3M448.8,182.7l-0.4,1.4"/>
<path stroke="#ff8b00" stroke-width="2" d="M393.9,36.5l-1,0.2M362.9,55.4l0.2,-1M359.4,83.1l-0.5,0.8M408.7,180l0.6,-0.8M425.9,30.6l0.1,-1.5M433.1,39.3l0,1.5M459.9,60l-0.1,-1.5M452.6,65.3l1.4,0.5M475.7,63.4l-1.3,0.7M475.7,70.8l-1,1.1M431.7,79l1.3,-0.7M463.2,76.3l0.6,1.4M431.4,85.1l-0.1,-1.5M419.9,91.3l0.4,-1.4M468.7,89.6l1.4,-0.5M432.1,97.8l0.4,-1.5M442.4,97.4l-0.8,-1.3M425,111.2l0.9,-1.2M431.7,107.4l0,1.5M475.3,107l-0.3,1.5M436.7,117.4l0.1,-1.5M464.8,113.9l0.8,1.3M465.9,122.9l-0.6,-1.4M476.6,119.8l-1.3,0.7M437.1,129.4l-0.6,-1.4M465.3,129.4l-0.6,-1.4M447.6,134.2l0.8,-1.3M475.9,133.5l-0.3,1.5M421.5,139.5l-1,1.1M432,139.7l0.5,1.4M465.2,139.4l-0.2,1.5M432.1,147.7l-0.5,-1.4M430.8,153.5l0.1,-1.5M468.9,160.3l0,-1.5M442.8,173.1l0.7,-1.3M453.1,171.4l1.3,0.8M474.5,171l-0.4,1.4M442.4,176.9l0.1,1.5"/>
<path stroke="#ffb700" stroke-width="2" d="M396.5,36.8l1,0M442.5,34.8l1.2,-0.9M426.6,42.3l-0.8,-1.3M442.4,41l-0.3,-1.5M448.4,42.2l0.5,-1.4M437.6,45.5l0,1.5M447.7,46.5l-0.8,1.3M437.8,52.9l0.5,1.4M474.2,59.4l1,-1.1M448.1,65.3l-1.5,0M470.3,71.9l0.7,-1.3M471.1,82.6l-0.9,1.2M432.7,90.8l-1.3,0.7M428.2,98.1l-1.1,-1.1M430.9,104.2l-0.1,-1.5M444,104l-0.2,-1.5M448.5,122.3l0.2,-1.5M452.3,127.7l0.8,1.2M465.1,151.9l-0.1,1.5M421,171.1l-1.2,-0.9"/>
<path stroke="#ff5e00" stroke-width="2" d="M387.9,42.8l0.4,-0.9M402,42.5l-0.3,-1M394.4,65.2l-0.8,0.7M402.7,66.7l0.8,-0.6M382.1,78.9l0.8,-0.6M397.8,125.4l0.9,-0.5M388.8,131.7l0.6,-0.8M390.9,147.4l-0.8,0.6M390.5,178.8l1,-0.3M447.5,32.2l0.1,1.5M470.9,31.8l-0.8,1.3M475.3,41.2l0.5,-1.4M426.8,47l0.4,1.4M464.2,44.2l-0.2,1.5M421.5,53.2l0.3,1.5M452.1,52.9l0.9,-1.2M428,58.5l-1.2,0.9M426.7,64.4l1.1,1M463.1,65.7l1.5,-0.4M421.8,71.3l-0.2,1.5M425.6,73.5l0,-1.5M437,71.8l1.2,0.9M464.6,71.2l-1.3,-0.7M437,76.7l0,1.5M426.4,83.1l-1,1.2M452.5,83.8l0.2,1.5M420.8,97.3l1.5,0.3M436.5,110l0.5,-1.4M441.7,107.9l-0.1,1.5M448.4,110.4l-0.5,-1.4M432.3,114.7l-0.6,1.4M471,115.6l-0.4,-1.4M431.3,128.3l-0.4,-1.5M441.9,128.1l0.8,-1.3M420.7,135.7l0.7,-1.3M426,135.9l0.6,-1.4M435.5,141.3l1,-1.1M425.7,145.4l0.2,1.5M443.7,145.3l-0.2,1.5M435.7,153.1l0.7,-1.3M444.2,154l-0.6,-1.4M476.7,153.1l-1.4,-0.6M449.1,157.8l-1,1.2M447.6,165.5l0.6,-1.4M463.3,164.7l0,1.5M474,165.2l0.6,1.4M449,177.6l-1.2,0.8M459.5,177.4l-1.1,1M465.3,184l-0.7,1.3"/>
<path stroke="#ff3200" stroke-width="2" d="M376.8,48.5l0.6,-0.8M376.8,54.4l0.9,-0.4M365.6,82.4l-0.9,0.3M378,83.8l0.2,-1M395.2,119.3l-0.8,-0.6M383.4,131.5l0.8,-0.6M366.2,136.9l0.9,-0.4M385.9,141.7l-0.5,0.9M364.2,152.7l-1,-0.1M367.9,153.1l-0.3,1M437.3,26.7l-0.1,1.5M441.2,29.5l0.8,-1.3M421,35.4l-1.3,0.7M422.2,42.4l-0.5,-1.4M453.5,44.7l-1.1,1M436.8,59.8l-0.8,-1.2M447,59.2l1.3,-0.8M454.4,69.5l0.2,1.5M452.8,78.6l0,-1.5M442.8,84.5l-0.5,-1.4M465,91.4l-0.5,-1.4M459.2,97.3l-0.4,-1.4M464.9,95l-0.2,1.5M469.3,97l1.5,0M453.3,104.1l0.7,-1.3M459.5,101.9l-0.6,1.4M474.6,101.6l0,1.5M453,109.5l0.4,-1.4M469.4,108.3l-0.3,1.5M459.7,113.5l-0.7,1.3M475.5,113.5l-0.7,1.3M468.9,123l0.2,-1.5M420.4,128l-0.6,1.4M471.2,127.4l-0.8,1.3M460,148l-0.7,-1.3M455.3,152.2l-0.9,1.2M474.4,157.3l-0.2,1.5M421.5,166.3l0.5,-1.4M427.9,164.2l-0.6,1.4M437.4,167.2l0.3,-1.5M454,165.8l0,-1.5M425.9,179.1l0.3,-1.5M452.4,179.4l0.6,-1.4M473.9,184.8l0.5,-1.4"/>
<path stroke="#ac0000" stroke-width="2" d="M369.6,53.9l-1,-0.1M403.4,52.5l-0.7,0.7M388.2,102.9l0.4,-0.9M360.7,117.3l0.9,0.3M398.2,132.3l0.9,-0.5M386.5,136.7l-0.8,-0.6M398.5,179.8l0.6,-0.8M430.8,29.6l0.2,-1.5M430.7,34.3l0.2,1.5M475.3,46.8l0.5,-1.4M440.7,53.9l1.5,-0.2M450.1,53.2l-1.3,0.7M433.1,66.1l-0.5,-1.4M427.3,78l-0.9,1.2M474,77.6l0.7,-1.3M437.5,91.5l0.5,-1.4M453.6,89.6l-0.2,1.5M436.6,96l0.5,1.4M422,102l-0.3,1.5M465.1,103.6l0.2,-1.5M431.8,122.2l-0.5,-1.4M452.6,134.2l1.5,-0.3M463.2,133.6l0.1,1.5M453.6,139.2l0.1,1.5M463.3,145.5l1.2,0.9M464.4,160.9l0.7,-1.3M448.7,169.7l0.1,1.5M420.9,177.1l1.4,-0.5"/>
<path stroke="#d80000" stroke-width="2" d="M392.2,53.4l-0.4,0.9M373.2,59.3l0,1M396.9,66.4l0.4,-0.9M362.8,95.4l1,0M384.2,101l-0.9,0.3M390.4,106.4l-0.9,0.4M366.2,111.8l-0.2,1M391.2,142.3l-1,0.1M367.5,158.2l-0.8,0.7M394.6,159.8l-0.3,1M474.8,33.8l0.7,-1.3M454.4,40.8l-0.4,-1.5M463.4,41.5l0.6,-1.4M471.1,52.2l-1.3,0.7M475.5,50.4l0,1.5M442.7,58.7l-0.6,1.4M438,84.5l-0.8,-1.3M475.5,91.5l0.4,-1.4M425.7,104.8l1.2,-0.9M437,102.6l-0.6,1.4M447.8,103.8l-0.8,-1.3M458.3,108.3l0.1,1.5M419.9,117.2l0.5,-1.4M426.7,116.7l0.9,-1.2M421.4,122.2l-0.7,-1.3M459.4,129.3l-0.1,-1.5M474.1,128.8l0.8,-1.3M437.3,132.5l-0.8,1.3M469,134.7l1.2,-0.9M426.9,140.3l1,-1.1M448.5,154.4l0.2,-1.5M443.6,164.3l0.5,1.4M468.8,167.3l0.4,-1.4M464.1,171.5l-0.2,1.5M470.6,169.6l-0.2,1.5"/>
<path stroke="#ffe300" stroke-width="2" d="M363.1,59.6l1,0.1M400.7,150l-0.8,-0.5M458.5,28.6l-0.3,-1.5M452.5,32l0.7,1.3M420.7,49.2l0.5,-1.4M463.5,57.3l-0.2,1.5M444.4,65.9l-1.3,0.7M470.1,64.8l-1.1,1M431,73.6l0,-1.5M420.2,110.8l1,-1.1M427.5,126.6l-0.8,1.2M449,127.4l0.3,1.5M431.2,134.2l1.4,-0.6M469.8,141.9l-0.3,-1.5M459.1,163.8l-1.2,0.9M426.7,171.9l0.6,-1.4"/>
<path stroke="#800000" stroke-width="2" d="M369.9,72.2l-1,0.1M383.8,107.8l0.6,-0.8M400.4,112.9l-0.9,0.3M386.2,161.7l-0.1,-1M432.1,46.6l-0.4,1.4M458.1,46l-0.1,1.5M449.3,77.5l-1,1.1M474.2,84.7l0.5,-1.4M459.8,88.9l0.3,1.5M449,95.9l-0.2,1.5M426.1,121.5l-1,1.1M454.5,123.2l0.2,-1.5M433.6,159.4l-1.4,0.6M421.6,184.4l-0.4,-1.4"/>
<path stroke="#c2ff3d" stroke-width="2" d="M427.8,34.4l-0.7,1.3M468.9,59.6l1.1,-1"/>
<path stroke="#69ff96" stroke-width="2" d="M475.5,148.1l0.2,-1.5"/>
<path stroke="#eeff11" stroke-width="2" d="M420.1,152.2l-0.2,1.5M471,151.3l-0.8,1.3M433.1,170l-0.8,1.3"/>
<path stroke="#11ffee" stroke-width="1.8" d="M446.3,28.5l0.6,-0.5M425.6,54.6l-0.1,-0.8M458.8,51l-0.7,0.4M422,65.1l-0.7,0.4M459.2,64.9l-0.8,0M460.2,69.4l-0.2,0.8M447,91.3l0.3,-0.7M443.6,132.8l-0.7,0.3M475,139.2l0,0.8M438.3,145.3l-0.1,0.8"/>
<path stroke="#3dffc2" stroke-width="1.8" d="M454.4,26l0.3,0.8M438,33.5l0,0.8M431.5,53.1l0.1,0.8M421.5,159.1l0.2,-0.8M458.8,158l-0.1,0.8M465.5,177.2l-0.6,0.5M443.6,183.9l0.4,0.7"/>
<path stroke="#00b7ff" stroke-width="1.8" d="M465.2,27l-0.7,0.3M467.9,44.4l0.7,0.4M454.2,59.6l0.4,-0.7M436.5,65.9l-0.3,-0.7M448.8,71.1l-0.8,0.2M442.2,77.8l-0.2,0.8M457.6,84.3l0.4,-0.7M442.6,91.1l0.4,-0.7M474.2,95.5l0.3,0.7M470,102.5l-0.3,0.7M443,114.9l-0.5,0.6M437.6,121l-0.6,0.6M443.5,121.6l-0.7,0.3M470,146l-0.5,0.6M453.2,159.8l0,-0.8M438,177.5l-0.5,-0.6M471.4,183.2l-0.6,0.5"/>
<path stroke="#008bff" stroke-width="1.8" d="M474.6,25.4l0.2,0.8M450.2,84.7l-0.8,-0.2M448.6,115.1l0.4,0.7M447.4,146.3l0.8,-0.2M459.9,152.3l-0.5,0.6"/>
<path stroke="#69ff96" stroke-width="1.8" d="M460.1,40.4l-0.2,-0.8M460.4,77.2l-0.7,0.4M426.5,89l-0.2,0.8M458.4,121.3l-0.4,0.7"/>
<path stroke="#00e3ff" stroke-width="1.8" d="M442.8,72.3l0.3,-0.7M421.9,146.6l-0.6,0.5M431.6,177.6l-0.4,0.7M432.1,185.4l0.3,-0.7M459.5,184l-0.6,0.5"/>
<path stroke="#0006ff" stroke-width="1.8" d="M465.5,83.4l0.1,0.8"/>
<path stroke="#005eff" stroke-width="1.8" d="M426.7,158.1l-0.8,0M453,185.6l0.5,-0.6"/>
<path stroke="#0032ff" stroke-width="1.8" d="M459.5,173.2l-0.5,-0.6"/>
<path stroke="#ff3200" stroke-width="1.6" d="M284.9,23.8h0M292.1,29.9h0M336.3,30.2h0M317.2,33.6h0M325.1,33.8h0M334.8,41.3h0M321.7,46.3h0M337.9,44.1h0M283.4,50.8h0M298.5,51h0M299.8,52.8h0M284.4,57h0M308.6,55.6h0M322.6,59.4h0M292.6,64.3h0M298.1,63.2h0M319.2,65.5h0M300.3,75.2h0M309.3,74.3h0M300.9,81.1h0M315.2,81.3h0M318.6,81.6h0M293.6,86.3h0M314,87h0M320.3,89h0M290.9,95.1h0M309.7,93.7h0M314.4,93.8h0M320.3,89.6h0M326.8,91.2h0M319.1,98.8h0M327.5,99.2h0M303.9,104.1h0M314.8,103.5h0M328.9,103.5h0M283.8,111.6h0M300.9,111.5h0M319,108.3h0M285.3,116h0M312.8,116.1h0M300.9,125.3h0M314.3,134h0M304,140.1h0M318.1,139.3h0M333.8,137.4h0M318.6,141.6h0M338.6,143.5h0M290.8,150.5h0M320.2,151.4h0M293.6,157.9h0M322.2,156.3h0M296.4,159.9h0M303.4,161.3h0M335.4,161.9h0M293.3,165.1h0M296.7,168.2h0M286.2,179.7h0M340.4,178.4h0M361.8,34.8h0M367.7,36.4h0M383.2,36.8h0M407.2,36.6h0M376.2,42.2h0M368.9,47.6h0M371.6,46.6h0M381.1,48.4h0M383,55.6h0M359.9,59.7h0M366.4,59h0M387.9,58.8h0M390.7,60.4h0M398.4,60.2h0M402.3,60.8h0M367.4,66.6h0M408.3,64.5h0M393.4,70.2h0M399.8,70.8h0M388.5,76.2h0M373.7,84.5h0M398.3,82.9h0M358.2,89.3h0M405,89.2h0M373.9,94.6h0M379.6,94.4h0M388.3,93.8h0M393.7,96.7h0M405,95.7h0M394.3,103.3h0M402.6,100.3h0M359,105.6h0M365.3,108.2h0M371.6,106.9h0M399,107.3h0M404.5,106.6h0M370,112.9h0M380.5,114.7h0M384.5,111.8h0M404.9,114.4h0M362.2,124.2h0M365.7,124.8h0M385.4,124.2h0M394.8,127h0M406.3,126.2h0M370.6,128.5h0M379.4,130.5h0M394.9,130.3h0M362.3,135.2h0M369.7,135.4h0M377.7,136.2h0M409.8,137.2h0M407.6,149.9h0M387.6,153.8h0M361.5,160.1h0M373.1,159.4h0M399.6,161.9h0M373.3,163.9h0M408.9,165.5h0M371.2,172.1h0M384.8,179h0"/>
<path stroke="#ff0600" stroke-width="1.6" d="M290.6,22.9h0M338.2,23.3h0M288.2,40.5h0M307,41.4h0M311.3,41.9h0M324.5,44.7h0M329.5,47.4h0M307.4,53.5h0M335.3,67.2h0M285.2,74.5h0M312.1,74.9h0M327.5,78.8h0M328.3,85.7h0M284,93.3h0M308.5,96.6h0M319.1,105h0M325.1,102.3h0M291.5,109.6h0M329.1,108.9h0M302.1,116.1h0M318.9,115.2h0M325.1,113h0M306.1,122.3h0M317.8,121.4h0M292.3,127.8h0M339,128h0M286,134.1h0M292.8,131.3h0M300.2,132.4h0M302.2,133.8h0M325.7,132.6h0M283.8,140.4h0M309.4,137.6h0M290.1,143.1h0M298.6,143.7h0M339.2,149.9h0M296.2,155.7h0M300.9,155.3h0M308,158.3h0M334.2,156.6h0M309.2,164h0M305.1,169.3h0M288.5,173.8h0M297.9,174h0M320.6,173h0M331.5,173.4h0M292.7,177.4h0M357.7,37.8h0M370.7,37h0M402.1,37h0M381.3,43.6h0M396.3,42.3h0M405.5,42.7h0M359.9,52.9h0M408.5,54.3h0M407.9,60.2h0M360,66.7h0M359.9,71.2h0M374.2,70.5h0M382.8,70.4h0M389.5,71.2h0M408.3,72.6h0M359.4,77h0M374.3,77h0M408.3,83.6h0M378.2,89h0M393.2,91.1h0M392.3,107.6h0M361,110.8h0M375.2,112h0M374.6,117h0M380.6,119.1h0M397.7,119.9h0M380.2,124.1h0M373.9,131.4h0M390.6,135.2h0M400.9,137.2h0M380.4,142.7h0M398,142.9h0M361,146.4h0M404.7,147.6h0M390.2,156.2h0M406,154.3h0M408.5,160.8h0M362.8,164.4h0M379.8,166.2h0M394.6,166.9h0M395.7,173.5h0M400,171.1h0M407.1,173.9h0M380,177.2h0"/>
<path stroke="#ff8b00" stroke-width="1.6" d="M298.1,23.2h0M299.7,24.1h0M311.1,22.5h0M302.6,31.1h0M323.4,29.1h0M296.4,36.4h0M320.6,35.9h0M305,41.3h0M313.8,48.7h0M302.3,55.9h0M319.3,58.1h0M324.9,61.4h0M297,70.9h0M317.7,73.5h0M298.7,79.9h0M330.7,78.7h0M337.2,87.2h0M297.3,93.7h0M336.7,93h0M301.2,99.8h0M292.9,106.3h0M299.2,104.5h0M326.2,110.4h0M332.5,116.5h0M296.6,125.1h0M319.1,126h0M308.9,134.2h0M325.1,141.2h0M333.1,144.9h0M306.1,151.3h0M331.6,152.3h0M314.8,157.6h0M292.1,161.3h0M288.4,168.3h0M334.5,169.7h0M307.1,181.1h0M332,179.6h0M376.3,37.3h0M372.1,42.4h0M357.5,49.2h0M406.5,48.9h0M371.7,54.7h0M377.2,65.1h0M364.8,70.9h0M381.7,89.1h0M369,95.2h0M360.9,99.4h0M372.7,101.4h0M396.9,100.5h0M384,119.4h0M388.3,120h0M388,125.2h0M408,132.9h0M366.1,143.1h0M405.1,143.5h0M384.1,147.2h0M379.7,161.5h0M406.1,161h0M368.8,165.5h0M399.1,168.4h0M361.1,170.5h0M389.3,173.1h0"/>
<path stroke="#ffb700" stroke-width="1.6" d="M306.7,21.9h0M295.3,26.8h0M338.1,33.4h0M319.5,41.1h0M303.4,48.1h0M326.9,49.5h0M337.3,52.3h0M314.8,63.5h0M308.5,67.5h0M327.5,71.2h0M338.7,76.5h0M311.6,88h0M285.8,98.7h0M314.4,98.8h0M331.1,97.1h0M336.8,97.4h0M307.6,109h0M336.8,108.1h0M299.3,115.4h0M339.2,115.6h0M302.7,145.7h0M331.3,159.5h0M327.7,167.7h0M335.3,168.4h0M307.8,174.7h0M328.7,173h0M316.6,179.1h0M407.6,78.4h0M368.6,84.2h0M360.7,95.1h0M385.8,95.2h0M369.8,99.2h0M407,144.6h0M396.2,148.1h0"/>
<path stroke="#ff5e00" stroke-width="1.6" d="M318.7,25.2h0M323.4,21.1h0M331.5,25.6h0M330.7,29h0M284.2,33.9h0M293.4,36.4h0M308.1,33.6h0M293.1,40.7h0M297.5,39.4h0M295.9,44.6h0M307.6,47.1h0M289.1,52.8h0M314.7,52.5h0M294.4,55.9h0M301.7,61.4h0M306.9,62.2h0M330.4,61.3h0M291.2,70.3h0M315.4,69.7h0M320.5,69.4h0M327.4,76h0M333,73.7h0M285,80.9h0M292,81.8h0M307.6,83.2h0M339.7,80.9h0M330.7,87.1h0M304.6,94.2h0M328.4,92.5h0M285.6,105.7h0M308.6,104.3h0M338.6,106.2h0M300.3,111.7h0M310.7,116.1h0M286.1,123.5h0M291.1,122.4h0M304.2,120h0M314.4,121.3h0M337.2,123.7h0M286.5,127h0M309.2,127.4h0M335,132.6h0M286.3,143.1h0M312.1,144.9h0M288.7,151.4h0M301.1,149.1h0M304.7,152h0M316.6,149.4h0M326.3,155.5h0M337.2,157.1h0M286.4,160h0M316,160.9h0M327.1,163.2h0M308.8,166.9h0M313.9,168h0M301.4,173.3h0M296.6,177.5h0M304.3,180.5h0M321.4,178.8h0M361.9,42.3h0M366,41.5h0M401.4,48.7h0M382.1,60.8h0M361.7,65.8h0M402.2,71.8h0M376.7,77.8h0M382.2,84.1h0M395,84.1h0M373.2,90.7h0M373.8,106.5h0M379.2,107.6h0M387.3,112.5h0M393.7,114h0M369.2,119.4h0M404.5,118.3h0M405.3,125.1h0M367,130h0M381.5,135.4h0M394.7,136.3h0M377.1,140.4h0M371.8,146.1h0M374.9,153.5h0M377,166.7h0M387,165.2h0M405.7,167h0M381.6,172.2h0M384,171.5h0M405,174.2h0M394,178.3h0M405.8,178.4h0"/>
<path stroke="#ac0000" stroke-width="1.6" d="M288.5,27.7h0M303.1,37.3h0M290.7,47.2h0M332.5,53.9h0M286.2,69.8h0M289,116h0M330.3,121.2h0M330.8,124.1h0M335.3,140.7h0M319.3,161.7h0M321,165.2h0M326.6,178.5h0M357.1,43.4h0M364.8,49.4h0M398,47h0M379.3,71.4h0M393.4,76.8h0M400,78.6h0M402.8,79.6h0M388.6,84.1h0M409.1,100.6h0M365,119.4h0M369.2,125.6h0M370.7,143.2h0M379.1,148.8h0M399,155.3h0"/>
<path stroke="#d80000" stroke-width="1.6" d="M308,28.6h0M315.8,28.9h0M320.9,26.7h0M329.8,33.9h0M325.8,39h0M329.6,40.5h0M284.4,46.8h0M319,53.3h0M289.7,57.4h0M313.4,56.9h0M330.6,56h0M337.2,57.4h0M284.1,63.4h0M338.2,64.2h0M304.2,70.7h0M329,69.2h0M291.4,75.2h0M305.7,76.2h0M283.5,88.7h0M297.9,86.8h0M302.7,84.8h0M291.8,97.6h0M298.9,99.5h0M317,109.7h0M325.4,122.7h0M316.1,127.6h0M326.5,124.9h0M290.4,138.8h0M297.1,139.1h0M315.1,138h0M324.2,142.8h0M287.6,158.6h0M291.2,172.3h0M336.3,170.9h0M386.5,48.5h0M389.6,53.8h0M397,53.9h0M380,60.8h0M372.3,66.4h0M383.6,64.8h0M368.9,76.3h0M362.8,89.6h0M370.4,89.8h0M396.7,89.2h0M408.6,89.4h0M398.1,95.8h0M363.4,100.3h0M378.9,101.8h0M406.8,108.9h0M408.6,113.1h0M402.4,132.4h0M404.6,137.1h0M394.2,144.2h0M374.9,148h0M373.3,153.6h0M395.3,154.3h0M390.6,166.9h0"/>
<path stroke="#800000" stroke-width="1.6" d="M295.2,119.2h0M331.8,133.3h0M393.9,41.7h0M389.6,65.1h0M404.7,84.2h0M388.2,88.6h0M407.4,96.5h0M373.9,124.1h0M390.4,159.7h0M366.8,171.3h0"/>
<path stroke="#ffe300" stroke-width="1.6" d="M318.5,134h0M306.7,142.6h0M316.3,173.3h0"/>
<path stroke="#eeff11" stroke-width="1.6" d="M324.5,151.4h0M360.4,131.2h0"/>
<path stroke="#00e3ff" stroke-width="1.6" d="M386,37.6h0M388.8,40.8h0M378.8,53.5h0M410.6,154.7h0"/>
<path stroke="#005eff" stroke-width="1.6" d="M391.7,36.9h0M398.7,36.7h0M401.4,40.4h0M401.8,54.1h0M373.1,61.5h0M392.7,66.6h0M367.7,72.4h0M378.4,81.6h0M365,95.3h0M385.1,105.9h0M393.4,118h0M385.2,130.1h0M400.2,131.2h0M384.7,135.4h0M362.2,140.4h0M384.8,143.7h0M398.8,148.7h0M367.3,155.2h0M385.9,159.5h0M377.2,170.2h0"/>
<path stroke="#008bff" stroke-width="1.6" d="M378.1,46.6h0M392.5,49.1h0M363.3,53.2h0M404.6,65.4h0M384,77.6h0M382.1,101.7h0M389.1,100.8h0M388.3,107.3h0M398.3,113.6h0M390.1,129.9h0M368.2,135.9h0M368.5,147.9h0M389.1,148.7h0M379.7,155h0M374.8,158.3h0M399.8,177.9h0M410.2,178.3h0"/>
<path stroke="#0000d8" stroke-width="1.6" d="M367.4,53.7h0M365.8,159.7h0M393.9,161.9h0"/>
<path stroke="#0032ff" stroke-width="1.6" d="M391.3,55.4h0M397.9,64.4h0M399.8,124.2h0M388.9,142.6h0M392.7,178.1h0"/>
<path stroke="#3dffc2" stroke-width="1.6" d="M365.4,59.8h0M361.9,152.5h0"/>
<path stroke="#0006ff" stroke-width="1.6" d="M363.5,78.2h0M365.6,113.9h0M362.9,118.1h0"/>
<path stroke="#11ffee" stroke-width="1.6" d="M358.1,85h0"/>
<path stroke="#00b7ff" stroke-width="1.6" d="M363.5,83.1h0M407.1,120.2h0"/>
<path stroke="#00e3ff" stroke-width="1.4" d="M422.2,28.1h0M426.1,28.2h0M444.4,33.4h0M421.5,40.1h0M433.1,41.7h0M449.2,40h0M453.9,38.5h0M437.5,47.9h0M446.5,48.5h0M448.1,54.3h0M465.9,51.8h0M449,58h0M463.1,59.6h0M475.8,57.6h0M428.4,66h0M465.3,65.2h0M438.9,73.2h0M474.1,72.5h0M452.8,76.2h0M452.9,86.1h0M453.2,91.9h0M460.3,91.2h0M464.2,89.2h0M470.9,88.9h0M471.6,97h0M443.7,101.6h0M458.6,104.1h0M421.7,109h0M441.6,110.3h0M465.7,110.1h0M474.8,109.3h0M420.4,120.1h0M464.9,120.7h0M426.2,128.6h0M436.3,127.2h0M443.1,126h0M453.6,129.6h0M421.8,133.6h0M433.3,133.1h0M419.9,141.2h0M437.1,139.6h0M443.8,140h0M458.8,145.9h0M427.4,151.6h0M443.8,158.3h0M474.1,159.6h0M427,166.3h0M448.6,163.3h0M457.2,165.1h0M469.4,165h0M427.5,169.7h0M431.8,172h0M448.9,172h0M447,178.9h0M469.6,179.8h0M476.4,177.3h0M448.1,184.9h0M464.2,186.1h0"/>
<path stroke="#008bff" stroke-width="1.4" d="M431.1,27.3h0M458,26.3h0M447.6,34.6h0M469.7,41.1h0M426.2,60h0M431.1,60.7h0M441.7,60.8h0M431.3,82.8h0M426.5,96.4h0M437.3,98.3h0M454.3,97.2h0M458.5,95h0M464.6,97.3h0M454.3,102h0M465.4,101.3h0M437.3,107.8h0M431.4,116.8h0M454.3,115.9h0M430.7,126h0M475.3,126.8h0M458.8,135.9h0M463.4,135.9h0M432.7,141.9h0M443.3,151.8h0M453.8,154h0M469.7,153.3h0M444.4,166.5h0M454,163.4h0M463.7,173.8h0M423.1,176.4h0"/>
<path stroke="#00b7ff" stroke-width="1.4" d="M437,29h0M442.4,27.5h0M419,36.5h0M426.6,36.5h0M425.3,40.3h0M442,38.7h0M476,39h0M421.6,47h0M458,48.3h0M476.1,44.6h0M453.4,51h0M425.7,71.1h0M431,71.3h0M419.6,79.4h0M447.7,79.2h0M464,78.5h0M422.1,86.6h0M441.9,82.3h0M469.6,84.4h0M430.6,91.8h0M423.1,97.8h0M441.2,95.4h0M448.7,98.3h0M436,104.7h0M474.6,104h0M436.8,115.1h0M458.6,115.6h0M470.4,113.3h0M454.9,120.9h0M419.4,130.1h0M449.5,129.7h0M464.4,127.2h0M426.9,133.8h0M436,134.5h0M470.9,133.2h0M475.5,135.8h0M460.4,140.6h0M469.3,139.6h0M426,147.8h0M443.5,147.7h0M475.9,145.7h0M436.8,151h0M431.4,160.4h0M447.6,159.6h0M468.9,157.9h0M474.9,167.3h0M419.2,169.7h0"/>
<path stroke="#ffe300" stroke-width="1.4" d="M448,27.1h0M475,27.5h0M441.6,79.8h0M458.8,82.5h0M457.4,123.2h0M438,147.4h0M457.8,185.3h0M469.8,184.6h0"/>
<path stroke="#ff5e00" stroke-width="1.4" d="M455.1,28h0M469.8,45.5h0M455.4,57.9h0M443.6,70.3h0M465.8,85.5h0M449.6,117h0M441.5,122.3h0M453.1,157.7h0M433,183.4h0"/>
<path stroke="#ff8b00" stroke-width="1.4" d="M463.3,27.9h0M438,35.7h0M459.7,38.3h0M458.6,78.4h0M443.8,89.3h0M475,97.5h0M436,122.5h0M475.1,141.4h0M458.6,154.1h0M436.5,175.9h0M463.9,178.6h0"/>
<path stroke="#3dffc2" stroke-width="1.4" d="M470.5,27.5h0M459.1,35.3h0M427.4,49.3h0M431.5,48.8h0M463.8,46.5h0M475.6,52.8h0M425.8,79.9h0M470.5,78h0M475.2,75.6h0M421.6,104.3h0M427.6,103.3h0M446.6,101.8h0M447.6,108.2h0M448.7,120h0M431.4,145.5h0M431,151.1h0M448.8,152.1h0M429.7,165.7h0M437.8,164.9h0M463.3,167h0M444,171.1h0M473.9,173.2h0M426.3,176.8h0M420.9,182.1h0"/>
<path stroke="#11ffee" stroke-width="1.4" d="M430.9,36.7h0M453.5,34.1h0M465.5,32.9h0M476,31.7h0M438.6,38.5h0M443.2,46.2h0M438.6,55.2h0M469,53.3h0M435.5,57.8h0M459.8,57.6h0M470.6,58h0M442.3,67h0M445.7,65.3h0M473.6,64.6h0M454.8,71.9h0M471.4,69.8h0M433.7,77.9h0M437.1,79h0M436.8,82.5h0M475,82.5h0M420.6,89.1h0M438.3,89.3h0M476.2,89.2h0M430.8,101.9h0M431.6,109.7h0M453.7,107.3h0M468.9,110.6h0M420.7,115h0M428.1,114.8h0M465.9,115.9h0M474.4,115.6h0M424.5,123.2h0M431,120h0M469.3,120.7h0M459.3,127h0M454.9,133.8h0M447.1,142.4h0M453.8,141.5h0M464.9,141.8h0M453,148.6h0M464.9,154.3h0M474.6,152.2h0M438.5,157.7h0M465.4,158.8h0M436.9,170.9h0M442.6,179.2h0M436.4,185.3h0M474.7,182.6h0"/>
<path stroke="#69ff96" stroke-width="1.4" d="M469.6,33.8h0M464.3,39.3h0M451.8,46.3h0M432.3,63.9h0M468.3,66.4h0M421.4,73.6h0M462.6,70h0M424.9,84.9h0M432.6,95.5h0M426.4,109.3h0M458.5,110.7h0M474.5,120.9h0M465.1,147h0M419.8,154.6h0M470.3,172h0M457.8,179.1h0"/>
<path stroke="#96ff69" stroke-width="1.4" d="M421.9,55.5h0M454.8,66.2h0M469.9,129.4h0M422.3,164.2h0"/>
<path stroke="#eeff11" stroke-width="1.4" d="M425.4,52.5h0M469.2,104.5h0M441.7,116.6h0M441.7,133.7h0M468.7,147.6h0M422,157h0M458.3,171.5h0"/>
<path stroke="#ffb700" stroke-width="1.4" d="M431.8,55.2h0M457,52.2h0M435.7,63.9h0M446.8,71.6h0M426,91.1h0M420.2,147.9h0M444.5,185.8h0"/>
<path stroke="#005eff" stroke-width="1.4" d="M443,53.5h0M419.9,60.4h0M448.9,132.3h0M428.5,138.6h0M453.4,177.2h0M424.2,185.2h0"/>
<path stroke="#ff3200" stroke-width="1.4" d="M420.2,66.2h0M457,65h0M459.6,71.5h0M447.9,89.4h0M458.5,160.2h0M430.6,179.5h0M454.3,183.9h0"/>
<path stroke="#ff0600" stroke-width="1.4" d="M448.1,84.2h0M449.5,145.8h0M424.5,158.1h0"/>
<path stroke="#0032ff" stroke-width="1.4" d="M455.1,172.7h0"/>
</g>
<rect x="486.3" y="5.8" width="10.0" height="193.1" fill="url(#jet)" stroke="#555" stroke-opacity="0.55" stroke-width="0.35"/>
<text x="497.8" y="7.6" font-family='"Liberation Sans", "DejaVu Sans", sans-serif' font-size="2.9" fill="#333">0.8</text>
<text x="497.8" y="55.8" font-family='"Liberation Sans", "DejaVu Sans", sans-serif' font-size="2.9" fill="#333">0.4</text>
<path d="M496.3,54.2h-1.2" stroke="#333" stroke-width="0.4"/>
<text x="497.8" y="104.0" font-family='"Liberation Sans", "DejaVu Sans", sans-serif' font-size="2.9" fill="#333">0</text>
<path d="M496.3,102.4h-1.2" stroke="#333" stroke-width="0.4"/>
<text x="497.8" y="152.2" font-family='"Liberation Sans", "DejaVu Sans", sans-serif' font-size="2.9" fill="#333">-0.4</text>
<path d="M496.3,150.6h-1.2" stroke="#333" stroke-width="0.4"/>
<text x="497.8" y="200.4" font-family='"Liberation Sans", "DejaVu Sans", sans-serif' font-size="2.9" fill="#333">-0.8</text>
<text x="390.6" y="214.2" text-anchor="middle" font-family='"Liberation Serif", "DejaVu Serif", serif' font-size="10.7" letter-spacing="0.4" fill="#111">(<tspan font-weight="bold">b</tspan>)</text>
<rect x="19.3" y="222.5" width="204.3" height="191.8" fill="#8fff70"/>
<g fill="none" stroke-linecap="round" filter="url(#sf)">
<path stroke="#0000ac" stroke-width="2.6" d="M64.9,286.6l-0.3,-0.3"/>
<path stroke="#00b7ff" stroke-width="1.6" d="M28.9,237.7l0.5,2.1M39.5,238.5l2.2,0.3M57.1,238.6l-2,1M76,239.9l-0.4,2.2M38.3,245.6l-0.2,-2.2M45.2,245.2l1.5,1.6M39.8,250.3l0.9,2M62.1,250.7l2.1,0.7M53,258.1l-2.2,0.4M79.3,255.5l-0.4,2.2M28.6,260.6l0.3,2.2M38,262.9l0.7,-2.1M59,263.2l-0.9,2M28.2,269.3l-1.5,-1.6M82.5,270.1l-2.1,-0.7M54.7,272l2.2,0.2M31.5,287.9l-1.9,-1.1M45.6,285.6l2.2,0.4M58.2,288.3l-0.2,-2.2M80.5,284.9l-2.1,-0.7M62.6,291.6l-1.8,-1.2M68.2,291.9l2.1,-0.6M26.6,298.3l1.4,-1.7M61,296.8l-1.8,1.2M63.4,299.7l-1.8,-1.3M68.6,296.1l1.5,-1.6M43.8,301.1l2,-0.9M69.3,300.9l2.2,0M62.6,307.9l0.3,-2.2M71.6,312.8l0,2.2M75.3,315.5l-1.4,-1.7M30.8,319.7l-0.6,2.1M73.3,321.7l-1.6,-1.5M52.1,327.2l-1.6,-1.6M69.9,323.9l0.5,2.2M60.6,333l0.8,-2M28,337.7l2,0.8M62,339.7l-1.4,-1.7M81.7,337.4l-0.5,2.1M28.8,340.8l1.8,1.3M36.5,341.2l0.3,2.2M51.5,341.1l1.7,1.4M52.7,347.6l0.4,2.2M64.3,350.4l-2.2,0.3M36.2,353.4l-1.5,1.6M69.2,354.7l0,2.2M28.4,360.8l0.7,-2.1M33.2,361.3l-0.3,-2.2M66,367.4l-2.1,0.5M54.6,383.4l-2.2,0M61.4,387l-0.8,2.1M72.7,390.3l1.4,-1.7M39.7,395.5l-0.3,-2.2M74.7,392.8l1.2,1.8"/>
<path stroke="#00e3ff" stroke-width="1.6" d="M36.7,238.8l-1.8,1.2M45.7,239.9l-1.8,1.2M80.1,237.6l1.8,1.3M37.3,244.3l-0.7,2.1M49.1,245.7l1.7,-1.3M68.2,243.4l-0.5,2.1M46.7,251.2l0.7,2.1M58.3,249.1l2.2,0M34.3,257.2l2,-0.9M70.5,257.4l-1.8,-1.3M45.1,262.8l2,0.8M67.4,263.4l-0.4,-2.2M39.6,267.6l1.9,-1.1M52.7,268l-1,2M77.3,268.2l-0.6,2.1M29.1,275.6l-1.5,-1.6M39.2,274.3l-1.6,-1.5M30.3,279.3l-1.9,1M35.8,282.9l-0.3,-2.2M43.5,279.4l0.9,-2M69.2,279.9l-1.5,-1.6M75.4,279.4l-1.9,-1M34.3,284.1l1.2,1.9M70.6,284.8l0.9,2M46.8,292.9l1.8,-1.3M71.9,296l1.4,-1.7M36.4,304.7l0,-2.2M57.6,305.5l-0.9,-2M40.8,307.3l0.8,2M46,308.9l2.2,0.4M50.7,309.3l2.2,-0.3M58.8,307.6l-0.1,2.2M73.2,310.6l-1.8,-1.2M60.3,314.6l-2,0.9M49.8,319.6l-1.9,1.1M82.1,319.7l0.4,2.2M46.9,328l-2.2,0.3M61.3,326.5l0.2,-2.2M31.5,332.3l-2.2,0.4M35.1,331.3l-1.8,1.2M40.4,331.3l2.1,-0.8M46.6,338.1l0.2,-2.2M58.6,339.6l-1.3,-1.8M66.7,337.1l2.1,0.6M76,336.8l-1.9,1.1M38.6,342.9l0.8,-2.1M64.8,342.8l-2.2,-0.1M72.9,342.2l0.4,-2.2M70.7,350.3l-1.9,-1M56,354l2,-0.9M63.8,354.1l-1.6,1.5M40,360.7l1.4,-1.7M46.3,359l0.7,2.1M61.1,359.7l0,-2.2M80.4,361.3l0.6,-2.1M58.7,367.3l0.4,-2.2M80.4,367.2l1.2,-1.8M41.8,369.9l-1.2,1.9M63.2,371.5l2.2,-0.2M70,368.8l0.4,2.2M75.1,371.5l2.2,0M31.6,377.6l-1.9,-1.1M38.1,377.7l-2.2,0.1M39,377.9l0.1,-2.2M57,376.6l2.1,-0.8M64.4,379.2l-1.9,-1M71.4,376.6l-0.1,2.2M31.8,381.5l1,2M59.8,383.3l-1.9,1M71.9,381l0,2.2M76.8,383l1.5,1.6M66.1,389.9l-2.2,-0.4M27.9,393.8l2.1,0.7M34.9,395.1l0.6,-2.1M45.7,394.8l2.2,0.4M52,394.7l-0.6,2.1M72.4,394.5l-2.1,0.5M81.2,394.6l1.8,-1.2"/>
<path stroke="#11ffee" stroke-width="1.6" d="M48.8,240.4l0.5,-2.1M64.1,240.1l-1.2,1.8M67,240l-1,-2M76.5,245.3l-2.1,0.8M80.2,244.2l0.2,2.2M35.5,250.8l1.9,1.2M71.5,252.2l0.7,-2.1M57.2,257.6l-1.9,1.2M63.9,259.7l-1.5,-1.6M74.9,258.3l-2.1,-0.6M63.2,264.2l1.1,-1.9M75.2,264.3l-2.2,0.2M68.3,267.3l1.2,-1.9M32.7,276l-0.1,-2.2M50,273.1l1.4,-1.7M75.7,274l-2,-0.9M39.2,279.9l1.9,-1.2M54.5,292.2l-2,-0.9M74.9,291.9l0.5,-2.1M80.5,297.6l1.8,-1.2M39.1,302.7l2.1,-0.6M53.6,302l1.8,1.2M63.5,302.6l0.9,2M74.4,300.7l0.4,2.2M34,308.7l1.2,1.9M67.7,306.7l2.2,-0.2M46.2,313.8l-0.5,2.1M40.5,321.6l1.5,-1.6M66.1,319.1l1.7,-1.4M37.6,325l-1.8,1.2M41.7,326.4l2.2,0.4M82.5,324.7l-2.2,0.2M73.3,331.9l2.2,-0.3M81.8,329.1l1.3,1.8M51.5,339.9l-2,-0.8M59.5,341l0.8,2.1M29,347.6l1.3,1.8M79.9,346.6l-0.8,2.1M38.4,355.9l1.6,-1.5M49.9,355.1l-1.7,1.4M75.7,355.3l0.5,-2.1M69,360.6l-1.8,-1.2M42.2,364.3l2.2,-0.3M51.9,368l-2.2,-0.1M31.1,371.9l1,2M46.5,372.5l-2.1,-0.7M59.6,371.2l-0.5,2.1M81.5,370.6l-0.2,2.2M48,382.5l1.3,1.8M79.6,381.8l-0.2,2.2M30.8,391.6l0.5,-2.1M46.9,390.4l-2.1,-0.7M52.3,388l-0.2,2.2M60.4,392.2l0.4,2.2"/>
<path stroke="#69ff96" stroke-width="1.6" d="M29.7,243.8l2.1,-0.5M50.1,261.2l1.5,1.6M43.9,273.7l1.2,-1.9M78.5,272.2l2.1,0.7M38.7,285.5l2.1,0.8M74.7,286.2l-2.2,0M33.4,315l1.3,-1.8M57.4,329.8l-0.3,2.2M81.4,341.5l1.4,1.7M74.7,358.9l2,1M48.6,365.3l0.5,2.1M68.9,364.9l-0.3,2.2M37,371.2l1,2M36.7,389.6l-2,-0.8"/>
<path stroke="#008bff" stroke-width="1.6" d="M57.2,243.9l2.1,0.6M61.9,244l1.7,-1.4M29.7,255.7l2.2,0.2M31.9,263.3l2.1,-0.6M64.7,268.5l-1.6,1.5M68.4,275.4l-2,0.9M79,280.8l1.9,-1.1M37.7,299.4l-2.1,-0.5M45.3,299.5l-1.4,-1.7M52.7,297.3l-0.8,2.1M50,314l1.3,-1.8M64.7,316l-2.2,-0.3M79.9,315.9l-0.6,-2.1M60.7,319.1l-1.9,1.1M43.8,333.8l0.9,-2M67.3,341l2,-0.9M47.8,351l-2.2,-0.4M59.6,351.4l-2.1,-0.7M29.9,355.7l-1.9,1.2M49.4,377.1l-2.1,0.7M35.2,382.5l0.9,-2M40.5,381.3l0.6,2.1M39.2,390.6l1.6,-1.5M65.9,396.7l-1.6,-1.6"/>
<path stroke="#005eff" stroke-width="1.6" d="M29.4,252.2l-1.8,-1.2M46.1,258.5l1.7,-1.4M51.7,280.5l-1.7,-1.4M60.8,279.9l2,1M32.9,292.5l1.4,-1.7M58,290.6l-1.9,1.1M40.7,298l0.7,-2.1M29.7,304.4l-1.9,1M30,326.9l-1.8,1.3M29.9,366.9l2.1,-0.5"/>
<path stroke="#3dffc2" stroke-width="1.6" d="M53.3,251.8l-2,-1M80.3,252.1l0.1,-2.2M39.8,257.9l0.5,-2.2M60.3,270l-2.2,-0.4M61.4,272.2l1.7,1.4M60.3,278.4l-1.4,1.7M50.1,285.3l1.1,-1.9M26.4,290.6l2.1,-0.7M41.5,290.6l2.2,-0.1M80.4,290.7l1.9,1.2M78.6,301.6l2,0.8M78.9,306.8l1.6,1.6M31.7,315.8l-2.2,-0.2M40.2,314.5l2.2,0.1M34.8,320.5l2,1M52.1,322.8l-0.8,-2.1M74.6,325.9l-2.2,-0.1M67.4,331.2l0.1,-2.2M37.1,338.8l-2.2,0.3M39.7,337.4l-1.5,-1.6M45,343.6l-1.2,-1.8M38,349l-1.9,-1.1M74.8,346.7l1,2M80.9,355.7l-1.7,1.4M58,359.9l-1.7,1.4M36.9,365.9l-1.9,1M75.9,365.8l-0.1,2.2M55.1,379.1l-1.9,1.2M80.4,375.8l-0.9,2M62.5,382.4l1.1,-1.9M69.7,389.5l1.7,-1.5"/>
<path stroke="#c2ff3d" stroke-width="1.6" d="M66.1,250.9l1.7,-1.4M51.6,371.5l0.7,2.1"/>
<path stroke="#96ff69" stroke-width="1.6" d="M82.3,262.5l-1.7,-1.4M45.7,268.2l-1.7,1.4M30.2,308.8l-1.8,1.2M58.7,327.5l0.9,-2M52.2,333.5l1.2,-1.9M50.4,353.2l2.1,-0.6M76,377.2l-1.8,-1.2M81.1,388.5l-1.9,-1.1"/>
<path stroke="#0032ff" stroke-width="1.6" d="M35.2,269.1l-2.1,0.7M62.5,318.5l0.7,2.1M41.3,348.4l2,-0.9M50.3,360.9l-0.8,-2.1"/>
<path stroke="#ff5e00" stroke-width="1.4" d="M100.5,251.8l0.9,1.8M104.2,253.5l-0.2,-2M131.1,253.4l-1.7,1.1M139.1,252.3l2,-0.1M147,252.5l-1.5,1.3M131.3,265.9l-2,-0.3M105,271.4l0.4,-2M112.5,271l-2,-0.2M135.7,270l-0.9,1.8M148.7,270l2,-0.3M106.2,275l2,0.2M111,277l-1.8,-0.8M121.1,275.3l1.8,0.8M135.7,277.3l-2,0.1M101.3,281.1l1.8,0.8M137.6,282l-1.5,1.3M144.8,282.2l1.6,-1.2M115.9,295.1l0.4,-2M140.7,293.3l1.9,0.5M113.6,299.1l-1.3,1.5M133.3,298.7l-1,1.7M126.9,305.5l-1.9,0.5M137.9,305.9l-1.2,1.6M152.4,312.7l-1.9,0.6M112.7,317.6l-0.7,-1.9M130.2,318.6l0.8,-1.8M138,317.2l-0.1,2M137.4,323.2l-1.8,0.9M144.8,323.2l1.6,-1.2M138.8,329.6l-1.8,1M110.1,334.3l-1.3,1.5M114,333.8l-1,1.7M129,334.2l-1.3,1.5M145.6,336.2l0.6,-1.9M151.2,334.3l-0.6,1.9M103,339.1l2,0.1M110.2,338.8l-0.6,1.9M121.3,341.7l0.8,-1.8M133.2,341.3l-1.9,0.6M138.5,340.8l-0.2,2M140.1,340.5l1.7,-1M112.9,346.6l-0.2,-2M122.8,353l0.7,-1.9M102.9,356.8l1.6,-1.2M111.2,357.9l-1.4,1.4M151.7,359.2l-1.3,1.5M105.7,363.9l-1.8,-0.8M113.1,363.7l0.7,-1.9M127.1,365.3l-0.9,-1.8M142.8,366.4l-1.7,-1.1M107.1,369.2l-2,-0.1M111.7,369l-0.6,1.9M124.9,370.9l-1.9,0.6M118.6,376.2l-1.4,-1.5M124.6,375.9l-1.2,1.6M131.3,376.9l1,-1.7M143.9,383l-1.4,1.5M145.9,382.5l1.9,-0.6M116.5,387.7l-1.9,0.7M117.8,386.7l1.5,-1.3M147.8,387.5l0.6,1.9M129.6,393.3l-1.2,1.6M150.6,395.1l1.3,-1.5"/>
<path stroke="#ffe300" stroke-width="1.4" d="M108.3,253.3l1.7,-1.1M102.4,258.8l-1.5,1.4M110.8,259.3l-1.9,-0.6M117.4,258.6l-1.8,0.8M126.3,264.4l-1.8,0.9M100.7,276.8l1.5,-1.4M116.9,275.5l-0.1,2M112.7,282.4l-1.7,1M100.6,288l1.6,-1.2M114.7,286.9l1.8,-0.9M126.4,288.8l-1.2,-1.6M134.7,288.2l0.6,-1.9M110.1,294.1l0.8,-1.8M120,299.7l0.4,-2M118.1,305.6l-1.2,1.6M132.7,306.4l-1.8,-0.8M105.8,310.6l2,-0.1M114.2,312.2l-2,-0.1M136.8,310.4l0.4,2M102.1,317l0.9,-1.8M127.3,317.8l-1.9,0.6M107.6,346.1l1.8,-0.9M118.8,346l-1.2,1.6M125.7,346.7l1.6,-1.2M108.8,352l1.8,-0.9M114.9,352.1l-2,0M118.5,350.9l2,0.3M142.4,360.3l-1.9,-0.7M124.9,382.7l-2,0M112.1,386.7l-1.8,0.9M125.5,385.7l-0.2,2M139,394.4l-2,0.2"/>
<path stroke="#ff8b00" stroke-width="1.4" d="M115.8,254.4l-2,-0.2M120.9,252l-0.9,1.8M136.8,253.7l-2,0.3M106.7,260.2l-1.9,-0.7M102,263.6l-0.6,1.9M114.8,265.3l-1,-1.7M100.7,269.9l1.6,-1.2M119.3,269.9l1.8,-0.8M130.5,268.5l1.9,0.6M138.7,276.1l1.9,-0.5M107.1,281.8l-1.8,0.8M117.3,281.5l-1.4,1.5M122.2,282.3l-2,-0.1M130.3,282.6l1.2,-1.6M138.8,282.2l0.9,-1.8M149.1,287.2l1.9,0.7M100.6,294.7l1,-1.7M108.2,292.7l-0.8,1.8M122,294.2l-1.9,0.5M133.8,293.6l1.6,-1.2M147.1,294.1l-0.9,1.8M127.3,299.5l-1.6,1.2M148.8,305.9l1.7,-1.1M120.2,311.2l1.5,-1.3M126.2,311.9l1.6,-1.2M144.3,318.5l0.1,-2M109.2,321.9l-0.1,2M119,323.1l-2,0.2M151.8,324.7l-1.8,0.8M123.8,328.3l0.3,2M132.2,329.6l-2,-0.3M146.8,328.1l1.2,1.6M149.1,330.2l1.3,-1.5M135.2,346.1l1.9,-0.6M146.9,346.9l-1.1,1.7M128.8,353.2l-1.6,-1.2M135.9,353.9l0.6,-1.9M144.9,352.3l2,-0.2M125.3,357.4l-1.3,1.5M138.2,358l-0.4,2M145.7,358l2,0.4M120.2,363.4l-1.8,0.9M145.4,364.8l1.1,-1.7M134.7,370.3l-0.9,1.8M135.7,369.6l2,-0.4M143.9,370.3l-1.6,1.2M111,374.5l-1.5,1.3M138.1,375.7l-0.6,1.9M146.4,376.3l2,-0.4M110.2,379.3l1.7,1M114.3,381l1,-1.7M127.4,380.8l1.9,-0.7M151.9,390.5l-2,0M125.1,393.4l-2,0.3M133,393.6l1.9,-0.6"/>
<path stroke="#ff3200" stroke-width="1.4" d="M125,251l1.5,1.3M121.4,259.2l-2,0.1M129.9,258.8l0.8,-1.8M141.3,258.8l-1.9,0.6M105.8,264.2l1.9,0.6M138.7,264.7l1.1,-1.7M150.1,263l-0.2,2M116.7,269.9l-1.4,1.5M129.6,277.2l0.2,-2M129.1,293.3l1.4,-1.4M152.4,293.6l-1.5,1.4M136.7,298l1.4,1.4M139.4,300.9l0.6,-1.9M123.4,305.4l-1.9,0.5M145.2,311.4l2,-0.4M117.9,318.2l-2,0.1M115.3,328.1l-1.6,1.2M116.6,329.8l0.6,-1.9M137.4,335.9l-1.6,-1.1M125.9,340.6l1.6,-1.1M141.8,351.4l1.8,0.8M134.1,363.8l-1.6,1.2M128.1,368.7l2,0M114,373.8l2,0.4M143.6,375.6l-0.5,1.9M151.2,378.9l-0.8,-1.8M134.8,380.7l-0.6,1.9M139.7,382.2l-1.7,1M106.5,386.1l-1.9,0.7M128.8,388.4l-2,-0.4"/>
<path stroke="#ff0600" stroke-width="1.4" d="M151.3,251l-0.6,1.9M143.8,259.1l-0.5,-1.9M127.6,270.4l-1,1.7M141.9,271.1l-2,-0.1M146.6,269.4l-1.4,1.4M146.7,275.3l-0.8,1.8M148.5,281.2l1.7,-1.1M124.4,294.3l1.7,-1.1M141.6,306.3l-2,-0.2M145.2,305.7l1.7,-1M143.1,311.3l-1.7,1.1M122.5,315.5l0.1,2M139.3,323.8l1.6,-1.1M110,327.9l-0.5,1.9M142.4,334.5l-1.2,1.6M145.7,340l2,0.1M151.1,342.8l-2,0.1M152.9,348.3l-1.7,1M132,352.9l0.5,-1.9M134,358.9l-2,0.2M124.2,363.9l-1.6,1.2M136.6,363.2l2,-0.1M128.2,377.5l-0.3,-2M137.3,387l1.5,1.3M141.8,389l-0.1,-2"/>
<path stroke="#ffb700" stroke-width="1.4" d="M126.2,258.6l-1.2,1.6M119,264.3l1.2,-1.6M146.1,263.8l-1.2,1.6M127.3,276.9l-1.8,0.8M124.3,282.2l1.3,-1.5M113,289.2l-2,0.2M119.8,287.2l2,-0.4M140.1,287.6l1.6,-1.2M103.1,299.6l-1.1,1.7M108.9,299.3l-1.9,0.7M117.4,298.3l0.1,2M148.5,299.1l2,-0.2M103.1,306.9l-1.9,-0.6M113.4,303.4l0.7,1.9M101.9,309.5l1.9,0.7M119.1,311.3l-2,0.2M130.6,312.2l-0.3,-2M108.3,317.8l-1.9,-0.6M141.4,318.1l-1.9,-0.7M149.8,318l1.1,-1.7M103,323.7l-1.4,-1.4M124.2,322.6l-1.5,1.4M102.6,328.7l0.5,-1.9M143.4,329.6l-1.9,0.6M104,332.4l1.9,0.7M116.4,335l0.2,-2M121.4,333.8l2,0.3M132.2,333.9l-0.3,2M114.2,340.3l-1.3,1.5M119,341l-2,-0.2M105.6,346l-1.4,1.5M130.9,347l1.2,-1.6M140.5,347.4l1.7,-1M103.2,350l2,0.1M150.1,352.5l2,-0.3M113.9,356.6l0.5,1.9M118,357.6l1.1,-1.7M129.4,357.9l-0.9,1.8M109.2,362.8l2,0M121.7,380.8l-0.9,1.8M140.5,394.9l1.1,-1.7"/>
<path stroke="#eeff11" stroke-width="1.4" d="M134.3,257.5l2,-0.3M105.4,287.1l1.8,-0.8M108.2,305.4l-1.8,0.9M112.1,322.7l1.9,-0.5M133.5,323.1l-1.8,0.8M125.1,328.8l1.4,-1.5M113.8,369.2l1.9,-0.6M106.9,375.5l-1.8,0.9M133.9,387.2l-1,1.7"/>
<path stroke="#d80000" stroke-width="1.4" d="M150.5,259.6l-2,0.3M136.9,263.7l-0.8,1.8M149,274.5l1.7,1.1M147.2,288.1l-1.9,0.6M145.7,298.5l1.7,1M125.9,323.3l1.1,-1.7M146.2,370.3l1.8,-0.9M150.8,370.1l2,-0.4M150.1,383.1l0.5,-1.9M146,393.9l1.9,-0.6"/>
<path stroke="#c2ff3d" stroke-width="1.4" d="M109.5,263.4l2,-0.3M118.6,371.5l-1.3,-1.5M103.9,381.5l1.1,-1.7"/>
<path stroke="#ac0000" stroke-width="1.4" d="M130.2,288.4l1.3,-1.5M152.6,365.3l-1.7,1"/>
<path stroke="#96ff69" stroke-width="1.4" d="M123.7,348.2l-1.7,-1"/>
<path stroke="#c2ff3d" stroke-width="1.2" d="M27.3,238.5l0.4,1.7M39.7,240.2l1.7,0.2M44.4,238.8l-1.5,1M79.4,239.3l1.4,1M35.6,244.1l-0.6,1.7M44.3,246.7l1.2,1.3M50.5,246.8l1.4,-1.1M57.1,245.6l1.7,0.5M63.4,245l1.3,-1.2M45.2,252.1l0.5,1.7M29.9,257.5l1.8,0.2M47.6,259.5l1.4,-1.1M52.3,256.5l-1.7,0.3M44.9,264.5l1.6,0.6M29.1,267.8l-1.2,-1.3M34.3,267.6l-1.7,0.5M40.8,268.9l1.5,-0.9M40,272.8l-1.3,-1.2M31.9,286.2l-1.5,-0.9M33.1,285.4l1,1.5M38.5,287.2l1.6,0.6M54.9,290.5l-1.6,-0.8M56.8,289.4l-1.5,0.9M63.2,290l-1.5,-1M38.1,304.3l0,-1.8M32.8,310l0.9,1.5M57.1,307.9l-0.1,1.8M35,315.7l1,-1.4M64.6,314.3l-1.7,-0.2M76.3,314.1l-1.1,-1.4M61,319.4l0.6,1.7M46.2,326.4l-1.7,0.2M30.7,330.7l-1.7,0.3M45.6,334.2l0.8,-1.6M27.7,339.4l1.6,0.6M40.3,343l0.6,-1.7M58.1,342l0.6,1.6M74.6,342.1l0.3,-1.7M27.9,348.9l1.1,1.4M51.2,348.3l0.3,1.7M63.7,348.8l-1.7,0.2M71.1,348.6l-1.6,-0.8M28.7,354.5l-1.5,0.9M30.1,361l0.6,-1.7M62.8,359.3l0,-1.8M69.6,358.9l-1.5,-1M42.9,366l1.7,-0.2M46.6,370.8l-1.7,-0.5M68.4,369.5l0.3,1.7M32.1,376l-1.5,-0.9M64.8,377.5l-1.6,-0.8M36.9,382.8l0.7,-1.6M38.9,382.2l0.5,1.7M36.9,387.9l-1.6,-0.7M40.7,391.6l1.3,-1.2M27.8,395.5l1.7,0.5M41.3,394.9l-0.3,-1.7M45.8,396.6l1.7,0.3M142.4,328.2l-1.5,0.5M136.1,347.6l1.5,-0.5M189.3,245.3l1.2,-1M197.3,242l0.7,1.9M172.3,251.2l0.2,1.6M188.9,249.1l0.1,1.6M205.7,251l0.9,-1.8M213.6,248.7l-1,1.7M195.8,257.2l-0.5,-1.9M173.5,263.1l-0.4,1.5M180.7,261.9l0,2M196.2,261.6l-1.4,1.4M207.1,260.7l-0.3,2M164.8,269.3l0.3,2M191.5,268.9l-1.4,0.8M170.9,275.4l-1.6,1.2M190,276l1.4,-0.8M206.4,273.7l-0.3,2M210.4,275.2l1.4,-1.4M211.9,276.2l1.1,-1.1M217.1,275.8l1.1,-1.2M168.8,281.5l1.2,1.1M189.8,280.6l-1.6,0M197.4,285.6l0.3,2M201.4,285.7l-0.4,1.5M206.2,288l-1.7,-1M213.3,288l0.8,-1.4M174.8,295.7l1.4,-0.7M183.6,293.9l-0.4,1.5M194.2,294.7l0,-2M206,292.2l0.7,1.9M213.9,292.1l-0.5,1.9M169.4,299.7l-1.3,1.5M174.6,300.7l-0.1,-1.6M208.3,299.2l0.4,2M212.1,298.5l-1,1.3M185.8,307.4l0.8,-1.4M207.7,306.8l-0.5,-1.5M218.4,307.3l0.4,-1.5M178.3,312.7l0.5,1.5M192.1,312.1l-0.3,2M190.3,312.3l-0.2,1.6M196.7,310.8l0.5,1.9M207.8,311.2l-0.3,2M206.1,311.4l-0.2,1.6M211.3,312.2l2,0M169,321.2l1.3,-1M194.7,319.6l0.9,-1.8M196.4,320.1l0.7,-1.4M179.8,325.8l0.5,-1.5M201.3,324.3l0.1,2M191.4,330.6l1,1.7M200.8,329.4l-0.8,1.4M164.4,337.3l-0.7,-1.4M195.8,338.9l0.3,-2M169,342.4l-0.9,1.3M164.1,351.5l0.7,-1.4M177.3,356.5l1.4,-1.5M184.3,357.5l0.8,-1.8M186,357.9l0.7,-1.5M201.1,354.8l0.5,1.5M217.8,354.9l0,2M163.6,361.9l-1.3,0.9M190.1,362.8l1.6,-0.4M201.3,364.1l-0.9,-1.8M205.9,360.6l1.6,1.3M170.7,369.2l-0.1,-1.6M213.6,367.6l-1.1,1.7M190.3,373.3l-1,1.2M200,373.9l-0.2,1.6M215.5,373.3l-0.2,1.6M190.8,381.1l0.6,-1.5M195.3,381.4l0,-2M200.4,379l-1.3,0.9M204.6,380.8l0,1.6M215.3,381.6l0.7,1.5M174.5,385.5l-0.8,1.4M184.3,388.3l1,-1.7M190.1,385.8l0.1,1.6M191.6,393.9l-1.7,1.1M202.2,393.7l-1.4,1.4M164.7,399.3l-0.5,-1.5M214,399.4l-1.5,1.3"/>
<path stroke="#ffe300" stroke-width="1.2" d="M35.4,237.6l-1.5,1M62.5,239.6l-1,1.5M68.4,238.8l-0.8,-1.6M30.5,245.4l1.7,-0.4M39.9,245l-0.2,-1.7M38.4,251.4l0.7,1.6M71.2,255.7l-1.4,-1M39.7,263l0.5,-1.7M67.3,274.1l-1.6,0.7M70.2,278.5l-1.2,-1.3M37.7,297.6l-1.7,-0.4M70.1,296.9l1.2,-1.3M39.9,304.2l1.7,-0.5M62.1,303.6l0.7,1.6M59.3,313.3l-1.6,0.7M81.4,315l-0.5,-1.7M29.1,319.6l-0.5,1.7M80.6,320.5l0.4,1.7M63,326.2l0.2,-1.8M33.8,330.2l-1.5,1M36.5,337.2l-1.7,0.2M51.7,338.2l-1.6,-0.7M28.1,342.4l1.4,1M47.8,349.2l-1.7,-0.3M57.1,355.4l1.6,-0.7M56.6,358.8l-1.4,1.1M82.2,361.3l0.4,-1.7M60.5,367.2l0.4,-1.7M65.2,365.9l-1.7,0.4M74.2,366.1l-0.1,1.8M37.6,376l-1.8,0.1M69.7,377l-0.1,1.8M30.5,382.6l0.8,1.6M46.8,383.8l1,1.4M32.6,391.5l0.4,-1.7M74.2,391.1l1.1,-1.4M66.8,395.2l-1.2,-1.2M174,245.6l0.2,-1.6M195.8,243l0.5,1.5M162.7,251.2l-1.4,0.8M169.2,250.8l-0.8,1.4M185.6,251.6l1.3,-0.9M199.7,250.2l0.6,1.5M217.7,250.1l0.8,-1.4M165.3,258l-0.5,-1.5M185.4,256.7l-0.3,-1.6M197.3,256.5l-0.4,-1.6M203,256.3l-0.3,-1.6M204.7,257.4l0.8,-1.8M206.4,257.7l0.6,-1.5M211.5,255.3l-0.5,1.5M218.2,257.4l0.5,-1.5M184.4,264.3l1.3,-1M189,262.7l-0.8,1.4M194.8,260.7l-1.2,1.1M210.2,259.9l1.8,0.9M163.2,270l0.3,1.6M168.9,270.5l-0.1,-1.6M192.7,270.2l-1.7,1M207.7,270.1l0.8,-1.4M213.4,269.2l-1.7,1M212.3,267.9l-1.4,0.8M162,274.6l-0.4,1.6M169.5,274.3l-1.3,1M197.2,276.1l0.9,-1.3M163.8,280.7l-1.4,0.8M185.8,281.6l-1.4,0.8M194.9,282.5l1.5,0.6M174.2,289.3l0,-1.6M162.8,293.5l-1.1,1.2M168.8,294l-1,1.3M204.6,293.2l0.6,1.5M212.1,292.1l-0.4,1.6M217,293.8l0.8,-1.4M163.1,301.2l0.6,1.5M180.8,299.8l-0.8,-1.4M192.3,299.9l-1.5,-0.4M198.9,300l1.1,-1.7M200.6,300.6l0.9,-1.3M215.4,300.4l0.7,-1.9M217.1,300.6l0.5,-1.5M163.3,307.2l0.4,-1.5M174.2,306.3l-1.4,0.7M202.8,304.9l0.4,2M206.2,307.7l-0.6,-1.9M185.1,312.6l-0.8,-1.4M195.1,311.6l0.4,1.6M200.4,313.5l-0.5,-1.9M211.7,313.9l1.6,0M174.1,319.7l-0.1,-1.6M190.5,319l-0.9,-1.4M211.1,318.4l-0.6,1.5M190.2,331.7l0.8,1.4M195.8,329.4l1.2,1.6M207.6,329.4l1,1.7M218.2,329.9l-0.9,1.8M191.6,337.9l0.2,-1.6M201.3,337.5l-0.9,1.8M210.1,338.7l0.3,-2M161.9,343.9l-0.6,1.5M174.4,343.5l-0.4,-1.5M190.4,343.8l0.3,1.6M202.3,344.7l-0.1,-1.6M213.9,343.8l-1.1,1.7M212.2,343.2l-0.9,1.3M204.5,349.9l0.2,1.6M170.3,356.4l1.1,-1.2M212.5,357.1l-0.4,-1.6M202.6,363l-0.8,-1.4M205.2,362.2l1.2,1M218.4,363.5l0.2,-1.6M187.1,369l-0.6,-1.5M196.5,367.8l-1,1.3M206.2,368.1l-0.1,1.6M218.6,367.9l-1.5,-0.6M196.2,375.2l-0.1,-1.6M211.8,375.5l0,-1.6M164.9,381.9l0.6,-1.5M173.2,379.7l-1.4,0.8M180.6,382.6l0.3,-1.6M210,382.7l0.5,-1.9M163.7,385.8l-1.3,-1M186,388.8l0.8,-1.4M207,387.3l-0.3,2M205.3,387.5l-0.3,1.6M173,393.1l-0.8,1.4M195.5,394.9l0.7,-1.5M210.9,393.5l-0.1,1.6M217.6,395.2l-0.1,-2M168.2,399.4l-1.5,0.5M200.9,399.1l-1.3,1"/>
<path stroke="#96ff69" stroke-width="1.2" d="M50.6,240.4l0.4,-1.7M55.9,237.3l-1.6,0.8M67.4,252l1.4,-1.1M35.4,258.6l1.6,-0.7M41.5,257.8l0.4,-1.7M77.6,255.6l-0.3,1.7M32.7,264.8l1.7,-0.5M64.9,264.7l0.9,-1.5M60.5,281.6l1.6,0.8M80.2,282.1l1.5,-0.9M51.8,285.8l0.9,-1.5M74.2,284.5l-1.8,0M79.9,292.3l1.5,0.9M28.5,303.1l-1.5,0.8M44.8,302.5l1.6,-0.7M31.5,314l-1.8,-0.2M40.5,316.2l1.8,0.1M48.6,318.3l-1.5,0.9M28.6,325.7l-1.4,1M36.3,323.8l-1.5,1M41.9,328.2l1.7,0.3M68.3,324.6l0.4,1.7M41.4,332.8l1.6,-0.6M53.9,334.1l0.9,-1.5M69.1,330.9l0.1,-1.8M63.1,338.3l-1.1,-1.4M66.7,338.9l1.7,0.5M50.7,342.7l1.4,1.1M34.9,360.6l-0.3,-1.7M51.7,359.9l-0.6,-1.6M30.8,368.4l1.7,-0.4M35.7,364.6l-1.6,0.8M29.7,373l0.8,1.6M35.7,372.3l0.8,1.6M63.8,373.1l1.7,-0.2M64.2,382.9l0.9,-1.5M75.8,384.4l1.2,1.3M77.9,382.1l-0.2,1.8M66.1,388.2l-1.7,-0.3M36.7,395.1l0.4,-1.7M50.3,394.6l-0.5,1.7M102.1,271l1.3,-1M102.2,295.2l0.8,-1.4M146.1,341.7l1.6,0.1M118.6,352.6l1.6,0.2M145.7,359.7l1.6,0.3M147.1,377.9l1.6,-0.3M169.2,246.6l0.1,-1.6M215.8,242.3l0.4,1.6M179.4,250.2l0,1.6M168.2,259l-1.1,-1.7M183.8,257.5l-0.4,-2M201.4,257l-0.4,-2M164.1,265.3l0.6,-1.5M181,269l0.6,1.9M193.6,268.6l1.2,-1.6M206.1,269.5l1.1,-1.7M200.9,280.3l-1.6,0.1M191.4,288.1l-1.9,0.5M203.1,285.7l-0.5,1.9M206.7,286.4l-1.4,-0.8M185.3,294l-0.5,1.9M192.1,294.3l-1.4,1.5M190.6,293.4l-1.1,1.2M203.1,294l-1.7,1.1M192.3,301.7l-1.9,-0.5M195.5,299.8l0.3,2M169.8,305.1l-0.5,1.9M184.1,306.8l1.1,-1.7M201.2,305.6l0.3,1.6M184.8,324l-0.1,2M189.8,326.6l-0.7,-1.9M208.3,323.7l0.3,2M212.3,324.5l-0.4,2M179.9,333l0.1,-1.6M186.1,338.2l-1.9,0.7M208.5,338l-0.7,-1.5M178.7,348.3l-0.9,1.3M200.6,349.7l-0.4,1.5M189.6,356.1l-0.8,1.4M208.1,355.4l-0.3,2M189.3,361.3l1.9,-0.5M197.1,362.8l-1,1.7M212.8,362.2l-1.3,1.5M163.4,368.1l-0.2,2M185.7,370l-0.8,-1.8M189.8,370l0.3,-2M194.6,375.6l-0.1,-2M178.9,382.6l0.4,-2M185.5,392.5l0.1,2M208.2,393.3l-1.5,1.3M185.2,400.1l0.7,1.4M208.1,400l-0.9,1.8"/>
<path stroke="#eeff11" stroke-width="1.2" d="M74.2,240l-0.3,1.7M78.5,244.7l0.1,1.8M34.9,252.5l1.5,0.9M58.7,250.8l1.8,0M82,251.8l0.1,-1.8M27,261.3l0.2,1.7M74.6,262.7l-1.7,0.2M82.6,268.4l-1.7,-0.6M30,274.1l-1.2,-1.3M45.5,274.2l0.9,-1.5M76,272.3l-1.6,-0.7M52.5,279l-1.4,-1.1M58.7,277.7l-1.1,1.4M45.7,287.3l1.7,0.3M27.3,292l1.7,-0.6M34.4,293.3l1.1,-1.3M28.2,299l1.1,-1.4M50.9,297.2l-0.6,1.7M64.1,298.1l-1.4,-1M53,303.7l1.5,1M72.8,301.4l0.3,1.7M28.9,307.6l-1.5,1M39.4,308.3l0.6,1.6M46.1,310.7l1.7,0.3M34.4,322.2l1.6,0.8M53.6,321.8l-0.6,-1.7M59.5,317.8l-1.5,0.8M67.5,320.2l1.3,-1.1M60.4,327.8l0.7,-1.6M81.9,323.1l-1.8,0.2M62.3,333.3l0.7,-1.6M48.4,337.9l0.2,-1.8M59.7,338.2l-1.1,-1.4M74.9,335.5l-1.5,0.8M46.2,342.3l-1,-1.5M64.4,341.1l-1.8,-0.1M68.4,342.4l1.6,-0.7M42.3,349.8l1.6,-0.7M48.5,354l-1.4,1.1M62.3,353.1l-1.3,1.2M40.8,377.6l0.1,-1.8M70.2,381.4l0,1.8M47,388.7l-1.7,-0.5M59.6,386.8l-0.6,1.7M81.6,386.8l-1.5,-0.9M165.6,246.3l-0.1,-1.6M184.4,245.9l0.8,-1.4M207.7,244.2l-1.8,0.8M211.7,242l-0.1,1.6M170.9,251.2l-1,1.7M194.1,249.1l0.7,1.4M201.2,249.2l0.7,1.9M207.4,251.4l0.7,-1.4M211.9,248.1l-0.8,1.4M169.5,257.8l-0.8,-1.4M181.3,256.9l0.4,-1.6M213.3,255.5l-0.6,1.9M168.5,264l0.5,1.5M205.4,260.8l-0.3,1.6M209.8,261.6l1.4,0.8M218.2,263l0.5,-1.5M183.6,270.9l1.6,-0.2M200.2,266.7l-1.3,0.9M216.7,267.1l0,1.6M212.6,281.7l-1.5,1.3M211.2,280.7l-1.2,1.1M216.8,279.1l-1.4,0.8M163.4,287.7l-0.3,1.6M168.9,289.2l0.1,-1.6M179.2,288.9l1.3,0.9M185.9,288.4l0.6,-1.5M190.6,286.5l-1.6,0.4M211.6,287.6l1,-1.8M216.8,286.7l-1.1,1.1M195.9,294.3l0,-1.6M201.8,292.8l-1.3,0.9M185.7,299.9l-0.6,-1.5M193.9,300.5l0.2,1.6M206.7,299.9l0.3,1.6M180.7,307.5l0.6,-1.5M190.1,307.5l0.7,-1.5M194.8,306l-0.3,1.6M210.5,304.9l1.9,-0.6M211.4,306.4l1.5,-0.5M216.7,307.3l0.5,-1.9M170.8,313.2l-1.1,-1.1M202,312.6l-0.4,-1.5M163.5,318.3l-0.3,1.6M187,319.4l-0.2,-1.6M200.6,318l-0.6,1.5M206.3,319.4l0.3,-2M208.1,319.3l0.2,-1.6M217.4,317.7l0,2M191.2,325.7l-0.5,-1.5M210.5,324.5l-0.3,1.6M216.3,323.3l-0.3,1.6M163.3,333l0.5,-1.5M173.7,330.7l-0.6,1.5M206.3,330.6l0.8,1.4M179.1,336.5l-1.1,1.1M185.2,336.8l-1.5,0.6M207.1,339.1l-0.8,-1.8M211.8,338.6l0.3,-1.6M218.9,336.4l-1.7,1M217.7,335.2l-1.4,0.8M195.2,343.1l1.1,1.7M208,344.5l-0.7,-1.5M217,344.8l0.8,-1.4M169.3,351.7l0.7,-1.5M174.3,350.6l1.4,-0.7M202.4,349.8l-0.5,1.9M206.1,349.4l0.2,2M210.5,349.8l1.6,-1.2M211.9,350.9l1.2,-1M217,349.6l-0.3,1.6M163,355.1l-1.1,1.2M173.7,356.2l0.5,1.5M194.9,355.5l0.1,1.6M206.3,355.6l-0.2,1.6M167.4,361.7l0.2,1.6M179.7,361.2l-0.2,1.6M211.2,361.4l-1,1.2M216.7,363.7l0.3,-2M179,368.9l0.8,-1.4M201.1,367.8l-0.9,1.3M208,367.8l-0.1,2M212,367l-0.9,1.3M164.9,374.7l0.3,-1.6M180.4,375.5l0.9,-1.3M201.8,373.8l-0.3,2M205.7,376.2l0.9,-1.8M169.4,379.9l-0.6,1.5M197,381l0,-1.6M211.7,382.8l0.4,-1.5M170,387.4l0.6,-1.5M195.2,388l1.4,0.9M201,389.4l-1.2,-1.6M202.2,388.1l-1,-1.3M211.7,385.6l-0.2,1.6M215.6,386.8l-0.5,1.5M164,393.4l1.5,-0.5M193.8,394.6l0.8,-1.8M219.3,394.7l-0.1,-1.6M175.3,401l0.7,-1.5M190.1,398.4l-0.5,1.5M216.8,400.3l0.5,-1.5"/>
<path stroke="#ffb700" stroke-width="1.2" d="M66.4,243.4l-0.4,1.7M61.9,252.4l1.7,0.6M64.9,258.2l-1.2,-1.3M51,267.7l-0.8,1.6M63.2,267.6l-1.3,1.2M60.6,273.8l1.4,1.1M78.4,273.9l1.7,0.5M29.1,278l-1.5,0.8M40.5,281.1l1.5,-0.9M59.8,287.7l-0.1,-1.8M76.7,291.9l0.4,-1.7M59.7,295.6l-1.5,1M69.7,302.6l1.8,0M51.4,310.9l1.7,-0.3M44.4,313.8l-0.4,1.7M51.6,314.7l1,-1.4M74.2,320.2l-1.3,-1.2M34.7,352.6l-1.2,1.3M39.9,356.8l1.3,-1.2M41.6,361.5l1.1,-1.3M67.2,365.1l-0.2,1.7M40.1,369.4l-0.9,1.5M79.8,370.8l-0.2,1.8M50.6,388.3l-0.1,1.8M71.1,390.5l1.3,-1.2M206.7,242.8l-1.5,0.6M217.3,241.5l0.4,2M174.6,256.1l0,1.6M216.4,257.2l0.6,-1.9M179,262.2l0,1.6M199.4,262.7l-0.1,1.6M173.3,274.8l-0.5,1.5M179.6,275.2l-0.9,-1.3M184,275l-0.7,1.5M201.2,276.2l-0.2,-2M176.1,281.6l-0.5,-1.5M179.5,281.5l-0.6,-1.5M205.8,282.6l1.5,-0.4M195.8,286.3l0.3,1.6M218.2,287.6l-1.4,1.4M178.5,293.3l0,1.6M167.9,299l-1,1.2M168,305.1l-0.4,1.6M215.5,312.1l0.6,1.5M215.7,318.1l0,1.6M163.6,327l1.1,-1.2M168.4,327.3l0.9,-1.3M173.2,323.8l0,1.6M196.1,325.3l0.5,-1.5M206.6,324.4l0.3,1.6M218,323.2l-0.4,2M184.4,330.6l-1,1.3M194.7,330.8l0.9,1.3M212.2,331.7l-0.5,-1.9M167.6,337.1l-1.1,1.2M180.1,344.6l-0.6,-1.5M194,344.4l0.9,1.3M206.6,345.6l-0.8,-1.8M185.2,348l-1.5,0.7M190.7,350.2l0.9,-1.3M218.7,349.6l-0.4,2M178.8,357.4l1.1,-1.2M210.9,357.9l-0.4,-1.9M195.4,362.3l-0.8,1.4M174.1,368.8l0.1,-1.6M191.6,369.8l0.2,-1.6M168.8,373l-1.6,0M207.4,376.5l0.7,-1.4M210.1,375.9l0,-2M206.3,380.4l0,2M216.7,380.5l0.8,1.8M183.9,393l0.1,1.6M190.3,392.7l-1.3,0.9M200.7,392.7l-1.2,1.1M212.6,393.2l-0.2,2M178.8,398.8l-0.7,1.4M206.4,399.6l-0.7,1.4M212.6,398.4l-1.2,1.1M215,400.1l0.7,-1.9"/>
<path stroke="#ff5e00" stroke-width="1.2" d="M75.5,243.9l-1.6,0.6M53.7,250.1l-1.6,-0.8M73.3,252.3l0.5,-1.7M49.2,262.6l1.2,1.3M44.3,267.2l-1.4,1.1M70,267.8l0.9,-1.5M75.5,268.1l-0.5,1.7M42,292.3l1.8,-0.1M73.4,296.8l1.1,-1.4M74.3,324.2l-1.8,-0.1M80,337.5l-0.4,1.7M80.3,342.9l1.1,1.4M48.5,375.6l-1.7,0.6M58,378.1l1.7,-0.6M76.6,375.6l-1.5,-1M54.2,381.7l-1.8,0M58.6,382l-1.5,0.8M213.4,241.7l-0.1,2M179.5,269.9l0.5,1.5M204.6,273.9l-0.3,1.6M215.5,275l1.4,-1.5M218,280.4l-1.8,1M213.7,299.2l-1.2,1.6M183.1,324.3l-0.1,1.6M213.7,330.8l-0.4,-1.5M216.5,329.5l-0.7,1.4M195.4,350.8l1.6,-0.3M217.2,373.2l-0.3,2M185.2,380.6l0.6,1.5M217.3,386.9l-0.6,1.9M169.2,394.5l0.3,-1.6M196,401.4l1,-1.3"/>
<path stroke="#ff0600" stroke-width="1.2" d="M30,250.6l-1.5,-1M73.5,394.1l1,1.5M216.1,249.6l1,-1.7M216.5,262.8l0.7,-1.9"/>
<path stroke="#ff8b00" stroke-width="1.2" d="M55.9,256.4l-1.5,0.9M69,262.7l-0.3,-1.7M60.2,268.2l-1.7,-0.3M54.9,273.8l1.7,0.2M75.8,277.7l-1.6,-0.8M48.1,294.1l1.4,-1M46.3,298.1l-1.1,-1.3M59,304.4l-0.7,-1.6M78.4,303.3l1.6,0.7M69.9,313.3l0,1.8M42,322.5l1.2,-1.3M55.7,330l-0.2,1.7M80.6,330.4l1,1.4M40.7,336l-1.2,-1.3M38.5,347.3l-1.5,-0.8M78.2,346.4l-0.6,1.6M77.5,355.3l0.4,-1.7M79.5,354.6l-1.4,1.1M44.8,360l0.6,1.7M74.3,360.6l1.6,0.8M82.1,367.8l1,-1.5M75.5,373.2l1.8,0M53.8,377.9l-1.5,0.9M58.8,392.9l0.3,1.7M71.6,392.9l-1.7,0.4M82.5,395.8l1.5,-1M201.3,244.4l-0.3,-1.6M191.6,258.4l0.6,-1.5M173.1,269.8l0.2,1.6M195.2,269.3l0.9,-1.3M218.3,266.7l0,2M202.9,275.7l-0.1,-1.6M215.3,293.3l1,-1.8M175.3,313.6l0.4,-1.6M216.9,311.1l0.8,1.8M212.9,318.7l-0.8,1.8M199.6,324.8l0.1,1.6M170,332.8l0.9,-1.3M174.8,337.4l-0.5,-1.5M197.6,338.8l0.3,-1.6M199.6,337.1l-0.7,1.4M185.1,344l0.8,-1.4M216.1,355.3l0,1.6M175.1,362.8l-0.5,-1.5M185.1,361.5l-0.2,1.6M218.3,369.6l-1.8,-0.8M186.6,376l0.2,-1.6M180.7,392.3l-1.1,-1.2"/>
<path stroke="#69ff96" stroke-width="1.2" d="M75,256.5l-1.7,-0.5M57.3,262.8l-0.8,1.6M83.1,261l-1.4,-1.1M51.6,273.8l1.1,-1.4M45.3,279.7l0.7,-1.6M69.2,285.9l0.7,1.6M69.1,293.4l1.7,-0.5M42.5,298.1l0.6,-1.7M53,325.7l-1.2,-1.2M59.8,349.7l-1.7,-0.6M73.5,347.8l0.8,1.6M67.5,355.1l0,1.8M47,366.1l0.4,1.7M57.8,371.2l-0.4,1.7M78.7,375.5l-0.7,1.6M131.3,276.9l0.2,-1.6M106,280.4l-1.5,0.6M140.5,282.6l0.7,-1.4M149.8,282.4l1.3,-0.9M146.3,286.6l-1.5,0.5M135.8,299.5l1.1,1.1M149.1,300.7l1.6,-0.2M118.5,309.7l-1.6,0.1M141.6,316.4l-1.5,-0.6M103.9,322.3l-1.1,-1.1M122.8,321.7l-1.2,1.1M127.2,341.8l1.3,-0.9M141.3,341.8l1.4,-0.8M119.6,358.2l0.9,-1.3M123.8,356.5l-1.1,1.2M122.9,362.8l-1.3,1M110,368.9l-0.4,1.5M120,380.4l-0.7,1.4M138.5,380.9l-1.4,0.8M142.1,395.5l0.9,-1.3M147,395.4l1.5,-0.5M178.7,243.4l-0.2,1.6M187.9,244.3l1.5,-1.3M199.8,245.1l-0.4,-2M190.5,248.6l0.2,2M195.5,248l0.9,1.8M163.8,258.9l-0.6,-1.9M179.5,256.8l0.5,-1.9M189.8,258.1l0.7,-1.9M201.5,267.9l-1.7,1.1M185.7,275.3l-0.8,1.8M188.8,274.7l1.7,-1M165,282l-1.7,1M195.1,280.8l1.9,0.7M201.4,282l-2,0.1M205,281.1l1.9,-0.5M179.9,287.3l1.6,1.2M180.2,292.8l0,2M179.5,301l-1,-1.7M163.5,314.2l1.6,0.3M173.6,313.6l0.5,-1.9M178.4,318.6l-0.7,1.4M178,325.6l0.7,-1.9M194.3,325.2l0.6,-1.9M161.6,332.8l0.7,-1.9M175.4,331l-0.8,1.8M186,331.3l-1.2,1.6M170.6,343l-1.1,1.6M172.8,344.3l-0.5,-1.9M178.6,345.6l-0.7,-1.9M186.3,349.4l-1.8,0.8M202.7,353.9l0.6,1.9M186.8,361.3l-0.2,2M161.7,368.3l-0.2,1.6M202.8,368.5l-1.2,1.6M176.2,375.9l-1.8,0.8M175.2,374.5l-1.5,0.7M178.8,374.8l1.1,-1.7M184.8,376.2l0.3,-2M163.1,381.7l0.7,-1.9M201.7,380.2l-1.6,1.2M168.3,387.2l0.8,-1.9M179.1,388.6l0.7,-1.4M191.8,385.3l0.2,2M195.7,386.4l1.7,1.1M213.4,385.4l-0.2,2M206.8,392.3l-1.2,1.1M173.6,400.7l0.8,-1.8M180.5,399.2l-0.9,1.8M194.4,400.7l1.2,-1.6M202.2,400.1l-1.6,1.2"/>
<path stroke="#3dffc2" stroke-width="1.2" d="M34.3,275.5l-0.1,-1.8M37.4,282.3l-0.3,-1.7M64.3,307.7l0.2,-1.7M109.5,254.5l1.3,-0.9M149.5,250.9l-0.5,1.5M101,257.8l-1.2,1.1M106.9,258.4l-1.5,-0.5M124.6,257.9l-1,1.3M140.5,257.3l-1.5,0.5M140.4,265.3l0.9,-1.3M106.8,271.4l0.3,-1.6M120.3,271.3l1.5,-0.6M130.3,270.2l1.5,0.5M115.2,275.8l-0.1,1.6M120.8,277l1.4,0.7M111.5,281.1l-1.4,0.8M121.9,280.6l-1.6,-0.1M136.2,281l-1.2,1M101.9,289.1l1.3,-1M112.4,287.6l-1.6,0.2M136.4,288.4l0.5,-1.5M106.5,292.3l-0.7,1.4M117.6,295.1l0.3,-1.6M130.6,294.2l1.1,-1.2M140.6,295.1l1.5,0.4M121.7,299.7l0.3,-1.6M145.3,300.2l1.4,0.8M103.3,305.1l-1.5,-0.5M111.9,304.4l0.5,1.5M141.3,304.6l-1.6,-0.2M121.6,312.3l1.2,-1M151.5,311.1l-1.5,0.5M103.8,317.4l0.7,-1.4M108.4,316l-1.5,-0.5M117.4,316.5l-1.6,0.1M118.4,321.4l-1.6,0.2M132.4,321.8l-1.5,0.7M136.2,321.9l-1.4,0.8M150.7,323.3l-1.5,0.7M122.2,328.9l0.3,1.6M126.6,329.7l1.1,-1.2M132,327.9l-1.6,-0.2M127.4,333.4l-1.1,1.2M140.8,333.8l-1,1.3M104,345.1l-1.1,1.2M145.3,346.2l-0.9,1.3M151.7,347l-1.4,0.8M137.6,354.1l0.5,-1.5M104.2,357.9l1.3,-1M106,362.2l-1.5,-0.7M143.4,364.8l-1.3,-0.9M106.8,367.5l-1.6,-0.1M114.7,370.7l1.5,-0.5M124.1,369.4l-1.5,0.4M142.6,369.2l-1.3,1M147.3,371.7l1.4,-0.7M109.6,373.5l-1.2,1.1M123,375.2l-1,1.3M133,377.4l0.8,-1.4M109.7,381l1.4,0.8M115.9,381.6l0.8,-1.4M124.5,381l-1.6,0M151.9,383.1l0.4,-1.6M105.5,384.7l-1.5,0.6M111,385.3l-1.4,0.7M151.6,388.8l-1.6,0M152.2,395.9l1,-1.2M167.5,246.8l0.1,-2M172.3,245.8l0.3,-2M182.8,245.4l1,-1.7M173.9,250.7l0.2,2M183.1,263.2l1.6,-1.2M201.1,262.4l-0.1,2M174.7,269.1l0.3,2M175,275l-0.6,1.9M178.4,276.4l-1.1,-1.7M195.6,275.5l1.1,-1.7M169.7,280l1.5,1.4M174.6,282.5l-0.6,-1.9M178.1,282.5l-0.8,-1.8M187,282.9l-1.8,1M190.3,282.3l-2,0M184.2,288.2l0.7,-1.9M164.3,294.4l-1.4,1.5M170.3,294.7l-1.2,1.6M173.7,294.3l1.8,-0.9M172.9,301.2l-0.1,-2M175.4,307.6l-1.8,0.9M179,307.2l0.7,-1.9M196.6,305.9l-0.3,2M183.9,313.8l-1,-1.7M165.3,318.2l-0.4,2M180.1,319l-0.9,1.8M185.4,320l-0.3,-2M202.4,318.3l-0.8,1.8M168.4,332.1l1.2,-1.6M189.9,338.1l0.2,-2M192,343.1l0.4,2M200.6,345.2l-0.1,-2M173.2,349.2l1.8,-0.9M168.7,355.5l1.4,-1.5M198.1,368.5l-1.2,1.6M163.1,374.7l0.4,-2M191.9,374l-1.3,1.5M174.5,380.9l-1.7,1.1M189.1,380.8l0.8,-1.8M177.4,388.2l0.9,-1.8M169.1,400.9l-1.9,0.6M191.8,398.5l-0.6,1.9"/>
<path stroke="#ff3200" stroke-width="1.2" d="M80.6,283.2l-1.7,-0.5M81.8,298.8l1.5,-1M68.3,308.3l1.8,-0.2M78,308.3l1.2,1.2M74,333.5l1.7,-0.3M34.9,341.9l0.2,1.7M51.3,354.7l1.7,-0.5M51.6,366.2l-1.8,-0.1M50.1,372.4l0.5,1.7M215.3,344.2l1.1,-1.7"/>
<path stroke="#ac0000" stroke-width="1.2" d="M73.8,308.9l-1.5,-1"/>
<path stroke="#11ffee" stroke-width="1.2" d="M99.2,252.9l0.7,1.4M105.9,252.9l-0.2,-1.6M129.9,252.2l-1.3,0.9M136.1,252.1l-1.6,0.3M111,257.5l-1.5,-0.5M149.8,257.9l-1.6,0.2M100.3,263.5l-0.5,1.5M110.2,265l1.6,-0.2M116.1,264.1l-0.8,-1.4M120.6,264.9l0.9,-1.3M125.1,263.1l-1.4,0.8M131.2,264.2l-1.6,-0.2M144.5,263.1l-1,1.3M112.3,269.2l-1.6,-0.1M126,269.9l-0.8,1.4M134,269.6l-0.7,1.4M145.1,268.5l-1.1,1.1M102.1,277.8l1.2,-1.1M111.4,275.2l-1.5,-0.7M135.2,275.7l-1.6,0.1M145,274.9l-0.7,1.5M125.8,283l1,-1.2M120.6,288.7l1.6,-0.3M131.7,289.3l1.1,-1.2M121.2,292.6l-1.6,0.4M135.2,294.7l1.3,-1M145.4,293.7l-0.7,1.4M151,292.7l-1.2,1.1M101.5,299l-0.9,1.3M126,298.4l-1.3,1M131.6,298.2l-0.8,1.4M141.2,301.1l0.5,-1.5M133,304.7l-1.5,-0.7M150,307.2l1.4,-0.8M101.7,311.3l1.5,0.6M113.8,310.5l-1.6,0M127.6,313l1.3,-0.9M145.9,313l1.6,-0.3M114.2,316.6l-0.5,-1.5M120.8,316l0.1,1.6M126.4,316.3l-1.5,0.5M136.3,317.4l-0.1,1.6M127.6,323.9l0.9,-1.3M146.2,324.3l1.3,-1M108.2,327.9l-0.4,1.6M113.9,327l-1.3,1M137.6,328.3l-1.4,0.8M145.7,329.4l1,1.3M150.7,331l1,-1.2M108.5,333.4l-1.1,1.2M118.1,334.8l0.2,-1.6M138.1,334.3l-1.3,-0.9M136.8,341l-0.1,1.6M114.5,346.1l-0.1,-1.6M124.2,346.5l-1.4,-0.8M127,347.8l1.3,-1M103.4,351.8l1.6,0.1M109.9,353.3l1.4,-0.7M133.7,353l0.4,-1.5M145.5,353.9l1.6,-0.2M112.4,357.4l0.4,1.6M127.8,357.4l-0.8,1.4M142.7,358.5l-1.5,-0.6M109.6,364.5l1.6,0M119.1,362.1l-1.4,0.8M132.8,362.7l-1.3,0.9M137.1,364.9l1.6,-0.1M119.7,370.1l-1.1,-1.2M133,369.9l-0.7,1.4M151.5,371.6l1.6,-0.4M136.4,375.6l-0.5,1.5M133.1,380.5l-0.5,1.5M146.8,384l1.5,-0.5M115.5,386.3l-1.5,0.6M119.2,387.7l1.2,-1.1M123.8,386l-0.2,1.6M136.4,388.5l1.2,1.1M163.9,252.5l-1.8,0.9M162.4,265.1l0.7,-1.9M182.9,269.3l2,-0.3M163.7,274.6l-0.4,2M164.5,300.2l0.7,1.9M161.6,307.1l0.5,-1.9M188.4,307.1l0.8,-1.8M163.5,312.5l2,0.4M179.8,311.8l0.6,1.9M189.3,320.2l-1.1,-1.7M166.8,326.6l1.1,-1.6M178.1,333.2l0.1,-2M202.5,329.9l-0.9,1.8M163.1,338.4l-0.9,-1.8M169.1,338l-1.4,1.5M163.6,344.2l-0.8,1.8M189.1,349.6l1.1,-1.7M191.3,356.7l-1.1,1.7M164.9,363l-1.6,1.2M169,361.2l0.2,2M181.5,361.1l-0.3,2M172.3,369.1l0.1,-2M186.7,379.7l0.7,1.9M163,387.4l-1.6,-1.2M163.1,391.9l1.9,-0.6M174.7,393.5l-0.9,1.8M179.7,393.8l-1.3,-1.5M186.5,399l0.9,1.8"/>
<path stroke="#00e3ff" stroke-width="1.2" d="M115.5,252.7l-1.6,-0.2M119.2,251.6l-0.7,1.4M124.1,252.5l1.2,1.1M116.4,257.2l-1.5,0.6M131.6,259.1l0.7,-1.5M145.3,258.2l-0.4,-1.5M105.7,266l1.5,0.5M148.4,263.2l-0.2,1.6M115.2,269l-1.1,1.2M141.6,269.4l-1.6,0M148.5,276.2l1.4,0.8M101,282.9l1.5,0.7M115.8,280.7l-1.1,1.2M131.9,283.2l0.9,-1.3M146.2,283.4l1.3,-0.9M106.4,288.5l1.5,-0.6M115.8,288.3l1.4,-0.7M125.7,295.5l1.3,-0.9M107.9,297.8l-1.5,0.6M112,298.3l-1,1.2M115.7,298.7l0.1,1.6M107,304l-1.4,0.7M116.6,304.8l-1,1.3M122.7,303.8l-1.6,0.4M126.1,303.9l-1.6,0.4M146.4,306.9l1.4,-0.8M106.2,312.3l1.6,-0.1M132.2,311.6l-0.3,-1.6M141.8,310.1l-1.3,0.9M131.9,318.9l0.7,-1.5M146,318.3l0.1,-1.6M151.4,318.6l0.9,-1.3M107.5,322.3l0,1.6M140.6,325l1.3,-0.9M104.3,328.8l0.4,-1.5M118.4,330l0.5,-1.5M121.5,335.6l1.6,0.3M149.5,334.1l-0.5,1.5M118.7,339.3l-1.6,-0.1M123.1,342l0.6,-1.5M108.7,347.4l1.4,-0.7M117.2,345.3l-0.9,1.3M132.5,347.7l1,-1.3M124.5,353.2l0.5,-1.5M129.4,351.6l-1.3,-0.9M141.5,353.1l1.5,0.6M150.7,354.1l1.6,-0.2M109.7,357l-1.1,1.2M133.4,357.3l-1.6,0.2M136.4,358l-0.3,1.6M114.9,363.9l0.6,-1.5M147.1,365.4l0.9,-1.4M151.4,364l-1.4,0.8M128.5,370.4l1.6,0M136.3,371.2l1.6,-0.3M105.8,374.2l-1.4,0.8M114,375.6l1.6,0.3M119.6,374.8l-1.1,-1.2M129.8,376.9l-0.2,-1.6M152.6,377.9l-0.6,-1.5M105.6,382l0.9,-1.3M142.4,382.2l-1.1,1.2M128.7,386.7l-1.6,-0.3M132.3,386.7l-0.8,1.4M143.5,388.6l-0.1,-1.6M146.3,388.4l0.5,1.5M124.5,391.7l-1.6,0.2M181.1,249.8l0,2M184.3,250.4l1.6,-1.1M176.3,255.7l0.1,2M167.2,289.6l0.1,-2M172.5,289.7l0,-2M167.6,320l1.6,-1.2M172.4,320.2l-0.1,-2M162,326.1l1.3,-1.5M174.9,323.4l0,2M173.3,338.3l-0.6,-1.9M180.5,337.4l-1.4,1.4M183.5,343.5l1,-1.7M162.4,351.1l0.9,-1.8M167.6,351.4l0.8,-1.8M164.6,355.9l-1.3,1.5M196.6,355l0.2,2M177.3,368.4l0.9,-1.8M169.2,374.7l-2,0M171.1,380.2l-0.8,1.8M163.2,400.2l-0.6,-1.9"/>
<path stroke="#00b7ff" stroke-width="1.2" d="M139.6,253.9l1.6,0M145.6,251.5l-1.2,1M134.9,259.1l1.6,-0.2M149.4,271.7l1.6,-0.2M126.2,275.5l-1.5,0.6M139.5,277.7l1.6,-0.4M127.5,287.4l-1,-1.3M148.9,288.9l1.5,0.6M111.8,294.5l0.6,-1.5M136.2,305.2l-0.9,1.3M113,324.2l1.5,-0.4M103.8,334.2l1.5,0.5M147.4,336.3l0.4,-1.5M103.3,340.8l1.6,0.1M108.5,338.7l-0.5,1.5M112.6,339.5l-1,1.2M132.3,339.7l-1.5,0.5M141.7,348.7l1.4,-0.8M114.5,350.4l-1.6,0M128.5,364.2l-0.7,-1.4M141.8,375.6l-0.4,1.6M128.3,382.3l1.5,-0.6M128,392.7l-1,1.3M133.9,395.1l1.5,-0.5M138.4,392.8l-1.6,0.2M163.9,246.8l-0.1,-2M170,263.1l0.6,1.9M190.7,263.2l-1,1.7M167.2,271l-0.2,-2M165.1,287.6l-0.3,2M180.3,348.9l-1.1,1.7M194.6,349.2l2,-0.4M175.1,355.2l0.6,1.9M173.7,363.7l-0.7,-1.9M169,369.7l-0.1,-2M176.1,386.1l-1,1.7M167.4,394.5l0.4,-2"/>
<path stroke="#008bff" stroke-width="1.2" d="M120.8,257.6l-1.6,0.1M135.2,263.4l-0.7,1.5M106.4,276.7l1.6,0.2M141.5,288.7l1.3,-1M135.2,311.1l0.3,1.6M112.4,333.3l-0.8,1.4M130.5,334l-0.3,1.6M150.1,358.4l-1,1.2M180.4,243.2l-0.2,2M175.3,263.1l-0.6,1.9M184.2,300.9l-0.7,-1.9M169.9,314.7l-1.4,-1.4"/>
<path stroke="#005eff" stroke-width="1.2" d="M150.6,341.1l-1.6,0.1"/>
</g>
<rect x="228.3" y="222.3" width="9.5" height="192.1" fill="url(#jet)" stroke="#555" stroke-opacity="0.55" stroke-width="0.35"/>
<text x="239.3" y="224.1" font-family='"Liberation Sans", "DejaVu Sans", sans-serif' font-size="2.9" fill="#333">0.2</text>
<text x="239.3" y="272.1" font-family='"Liberation Sans", "DejaVu Sans", sans-serif' font-size="2.9" fill="#333">0.1</text>
<path d="M237.8,270.4h-1.2" stroke="#333" stroke-width="0.4"/>
<text x="239.3" y="320.0" font-family='"Liberation Sans", "DejaVu Sans", sans-serif' font-size="2.9" fill="#333">0</text>
<path d="M237.8,318.4h-1.2" stroke="#333" stroke-width="0.4"/>
<text x="239.3" y="368.0" font-family='"Liberation Sans", "DejaVu Sans", sans-serif' font-size="2.9" fill="#333">-0.1</text>
<path d="M237.8,366.4h-1.2" stroke="#333" stroke-width="0.4"/>
<text x="239.3" y="415.9" font-family='"Liberation Sans", "DejaVu Sans", sans-serif' font-size="2.9" fill="#333">-0.2</text>
<text x="132.7" y="430.4" text-anchor="middle" font-family='"Liberation Serif", "DejaVu Serif", serif' font-size="10.7" letter-spacing="0.4" fill="#111">(<tspan font-weight="bold">c</tspan>)</text>
<rect x="276.4" y="222.5" width="205.2" height="191.8" fill="#8fff70"/>
<g fill="none" stroke-linecap="round" filter="url(#sf)">
<path stroke="#800000" stroke-width="2.4" d="M296.2,244.7l-0.1,-0.6M297.9,268l0.5,-0.3M337.5,281.2l0.5,-0.3M328.7,393.8l-0.6,0.1"/>
<path stroke="#ac0000" stroke-width="2.4" d="M335.7,256.1l-0.1,0.6M303,360.1l0.2,0.6"/>
<path stroke="#d80000" stroke-width="2.4" d="M339.4,269.1l-0.6,-0.2"/>
<path stroke="#ff0600" stroke-width="2.2" d="M447.4,281.5l-0.6,0"/>
<path stroke="#eeff11" stroke-width="1.6" d="M286,237.7l0.5,2.1M314.4,243.9l2.1,0.6M319.4,250.7l2.1,0.7M286.8,255.7l2.2,0.2M295.1,262.9l0.7,-2.1M316.3,263.2l-0.9,2M298,307.3l0.8,2M297.4,314.5l2.2,0.1M323.4,319.1l1.7,-1.4M327.2,323.9l0.5,2.2M308.7,339.9l-2,-0.8M337.3,346.6l-0.8,2.1M326.3,364.9l-0.3,2.2M337.8,367.2l1.2,-1.8M311.8,383.4l-2.2,0M338.6,394.6l1.8,-1.2"/>
<path stroke="#69ff96" stroke-width="1.6" d="M293.8,238.8l-1.8,1.2M286,340.8l1.8,1.3M293.4,353.4l-1.5,1.6M328.7,376.6l-0.1,2.2M371.1,299.1l-1.3,1.5M363,346l-1.4,1.5M379.2,380.8l-0.9,1.8"/>
<path stroke="#ffb700" stroke-width="1.6" d="M296.7,238.5l2.2,0.3M286.5,252.2l-1.8,-1.2M303.9,251.2l0.7,2.1M310.6,251.8l-2,-1M310.2,258.1l-2.2,0.4M289,263.3l2.1,-0.6M307.3,261.2l1.5,1.6M320.5,264.2l1.1,-1.9M286.2,275.6l-1.5,-1.6M289.8,276l-0.1,-2.2M307.2,273.1l1.4,-1.7M296.4,279.9l1.9,-1.2M295.9,285.5l2.1,0.8M307.3,285.3l1.1,-1.9M302.5,299.5l-1.4,-1.7M325.9,296.1l1.5,-1.6M320.8,302.6l0.9,2M292,320.5l2,1M287.1,326.9l-1.8,1.3M309.4,327.2l-1.6,-1.6M296.9,337.4l-1.5,-1.6M293.7,341.2l0.3,2.2M295.2,349l-1.9,-1.1M310,347.6l0.4,2.2M288.2,371.9l1,2M314.2,376.6l2.1,-0.8M288.9,381.5l1,2M305.2,382.5l1.3,1.8M334.2,383l1.5,1.6M293.8,389.6l-2,-0.8M309.6,388l-0.2,2.2M292.1,395.1l0.6,-2.1"/>
<path stroke="#ff8b00" stroke-width="1.6" d="M302.9,239.9l-1.8,1.2M286.8,243.8l2.1,-0.5M291.4,257.2l2,-0.9M297,257.9l0.5,-2.2M303.4,258.5l1.7,-1.4M296.4,274.3l-1.6,-1.5M283.8,298.3l1.4,-1.7M297.9,298l0.7,-2.1M296.2,302.7l2.1,-0.6M316,307.6l-0.1,2.2M330.6,310.6l-1.8,-1.2M288.9,315.8l-2.2,-0.2M307.2,314l1.3,-1.8M288,319.7l-0.6,2.1M319.8,318.5l0.7,2.1M304.1,328l-2.2,0.3M288.6,332.3l-2.2,0.4M292.2,331.3l-1.8,1.2M330.7,331.9l2.2,-0.3M303.9,338.1l0.2,-2.2M305.1,351l-2.2,-0.4M333.1,355.3l0.5,-2.1M290.4,361.3l-0.3,-2.2M307.5,360.9l-0.8,-2.1M315.2,359.9l-1.7,1.4M308.9,371.5l0.7,2.1M320.5,371.5l2.2,-0.2M288.8,377.6l-1.9,-1.1M306.6,377.1l-2.1,0.7M333.4,377.2l-1.8,-1.2M297.6,381.3l0.6,2.1M309.3,394.7l-0.6,2.1"/>
<path stroke="#ff5e00" stroke-width="1.6" d="M306.1,240.4l0.5,-2.1M292.7,250.8l1.9,1.2M297,250.3l0.9,2M285.3,269.3l-1.5,-1.6M293,282.9l-0.3,-2.2M288.6,287.9l-1.9,-1.1M332,286.2l-2.2,0M298.7,290.6l2.2,-0.1M337.9,297.6l1.8,-1.2M291.2,308.7l1.2,1.9M290.6,315l1.3,-1.8M317.6,314.6l-2,0.9M324.7,331.2l0.1,-2.2M316.8,341l0.8,2.1M295.6,355.9l1.6,-1.5M313.3,354l2,-0.9M285.5,360.8l0.7,-2.1M332,358.9l2,1M287.1,366.9l2.1,-0.5M294.2,371.2l1,2M338.9,370.6l-0.2,2.2M292.3,382.5l0.9,-2M296.4,390.6l1.6,-1.5"/>
<path stroke="#008bff" stroke-width="1.6" d="M314.3,238.6l-2,1M323.4,250.9l1.7,-1.4M339.7,262.5l-1.7,-1.4M290,292.5l1.4,-1.7M319.9,291.6l-1.8,-1.2M337.8,290.7l1.9,1.2M314.9,305.5l-0.9,-2M331.7,300.7l0.4,2.2M336,301.6l2,0.8M330.7,321.7l-1.6,-1.5M339.8,324.7l-2.2,0.2M333.4,336.8l-1.9,1.1M339.1,337.4l-0.5,2.1M322.1,342.8l-2.2,-0.1M330.2,342.2l0.4,-2.2M298.5,348.4l2,-0.9M312.3,379.1l-1.9,1.2M304.1,390.4l-2.1,-0.7M318.6,387l-0.8,2.1M323.4,389.9l-2.2,-0.4M302.9,394.8l2.2,0.4M358,251.8l0.9,1.8M394.4,253.7l-2,0.3M404.6,252.5l-1.5,1.3M364.2,260.2l-1.9,-0.7M359.5,263.6l-0.6,1.9M372.4,265.3l-1,-1.7M394.5,263.7l-0.8,1.8M399.6,271.1l-2,-0.1M358.1,276.8l1.5,-1.4M377.4,287.2l2,-0.4M383.9,288.8l-1.2,-1.6M404.9,288.1l-1.9,0.6M373.4,295.1l0.4,-2M384.9,299.5l-1.6,1.2M406.2,299.1l2,-0.2M360.6,306.9l-1.9,-0.6M365.7,305.4l-1.8,0.9M370.9,303.4l0.7,1.9M394.4,310.4l0.4,2M401.9,318.5l0.1,-2M367.5,327.9l-0.5,1.9M361.5,332.4l1.9,0.7M371.5,333.8l-1,1.7M371.7,340.3l-1.3,1.5M383.5,340.6l1.6,-1.1M381.3,348.2l-1.7,-1M388.5,347l1.2,-1.6M392.8,346.1l1.9,-0.6M398.1,347.4l1.7,-1M366.3,352l1.8,-0.9M386.3,353.2l-1.6,-1.2M407.7,352.5l2,-0.3M382.9,357.4l-1.3,1.5M403.3,358l2,0.4M366.7,362.8l2,0M394.2,363.2l2,-0.1M400.5,366.4l-1.7,-1.1M388.9,376.9l1,-1.7M408.9,378.9l-0.8,-1.8M361.4,381.5l1.1,-1.7M392.4,380.7l-0.6,1.9M432.5,269.1l0.3,2M476.3,266.7l0,2M428.7,275.4l-1.6,1.2M461,294l-1.7,1.1M471.7,299.2l-1.2,1.6M476.2,329.9l-0.9,1.8M476.9,336.4l-1.7,1M468.9,357.9l-0.4,-1.9M459.2,364.1l-0.9,-1.8M467.9,382.7l0.5,-1.9M475.3,386.9l-0.6,1.9M466.1,393.3l-1.5,1.3M475.6,395.2l-0.1,-2"/>
<path stroke="#ff3200" stroke-width="1.6" d="M321.4,240.1l-1.2,1.8M294.5,244.3l-0.7,2.1M287.4,279.3l-1.9,1M304,292.9l1.8,-1.3M294.9,299.4l-2.1,-0.5M286.8,304.4l-1.9,1M294.3,338.8l-2.2,0.3M287.1,355.7l-1.9,1.2M296.2,377.9l0.1,-2.2"/>
<path stroke="#00e3ff" stroke-width="1.6" d="M324.4,240l-1,-2M333.3,239.9l-0.4,2.2M314.4,257.6l-1.9,1.2M332.5,264.3l-2.2,0.2M322.2,287.9l-1.5,-1.6M326.6,300.9l2.2,0M287.3,308.8l-1.8,1.2M316,327.5l0.9,-2M309.5,333.5l1.2,-1.9M328,350.3l-1.9,-1M327,389.5l1.7,-1.5M378.5,252l-0.9,1.8M362.5,271.4l0.4,-2M374.2,269.9l-1.4,1.5M376.8,269.9l1.8,-0.8M363.7,275l2,0.2M378.7,275.3l1.8,0.8M358.8,281.1l1.8,0.8M381.8,282.2l1.3,-1.5M387.9,282.6l1.2,-1.6M362.8,287.1l1.8,-0.8M392.3,288.2l0.6,-1.9M365.6,292.7l-0.8,1.8M382,294.3l1.7,-1.1M366.4,299.3l-1.9,0.7M375.7,305.6l-1.2,1.6M359.6,317l0.9,-1.8M365.8,317.8l-1.9,-0.6M381.8,322.6l-1.5,1.4M378.9,341.7l0.8,-1.8M390.8,341.3l-1.9,0.6M403.4,340l2,0.1M365.1,346.1l1.8,-0.9M370.4,346.6l-0.2,-2M376.3,346l-1.2,1.6M380.4,353l0.7,-1.9M368.7,357.9l-1.4,1.4M371.4,356.6l0.5,1.9M370.7,363.7l0.7,-1.9M384.7,365.3l-0.9,-1.8M391.7,363.8l-1.6,1.2M401.6,370.3l-1.6,1.2M376.1,376.2l-1.4,-1.5M385.7,377.5l-0.3,-2M401.2,375.6l-0.5,1.9M397.3,382.2l-1.7,1M364,386.1l-1.9,0.7M374,387.7l-1.9,0.7M387.2,393.3l-1.2,1.6M396.6,394.4l-2,0.2M471.4,269.2l-1.7,1M469.5,287.6l1,-1.8M453.4,299.8l0.3,2M470.8,318.7l-0.8,1.8M459.2,324.3l0.1,2M468.5,349.8l1.6,-1.2M435.1,368.4l0.9,-1.8M449.6,385.3l0.2,2M460.1,393.7l-1.4,1.4M473,400.1l0.7,-1.9"/>
<path stroke="#005eff" stroke-width="1.6" d="M337.4,237.6l1.8,1.3M337.7,252.1l0.1,-2.2M321.2,259.7l-1.5,-1.6M301.1,273.7l1.2,-1.9M283.5,290.6l2.1,-0.7M329.2,296l1.4,-1.7M301,301.1l2,-0.9M339.5,319.7l0.4,2.2M318.6,326.5l0.2,-2.2M324.6,341l2,-0.9M338.7,341.5l1.4,1.7M337.8,361.3l0.6,-2.1M294,365.9l-1.9,1M327.3,368.8l0.4,2.2M332.4,371.5l2.2,0M329.2,381l0,2.2M330,390.3l1.4,-1.7M365.8,253.3l1.7,-1.1M373.3,254.4l-2,-0.2M396.8,252.3l2,-0.1M375,258.6l-1.8,0.8M391.9,257.5l2,-0.3M399,258.8l-1.9,0.6M367,263.4l2,-0.3M383.8,264.4l-1.8,0.9M407.8,263l-0.2,2M388.1,268.5l1.9,0.6M374.5,275.5l-0.1,2M384.8,276.9l-1.8,0.8M370.2,282.4l-1.7,1M374.8,281.5l-1.4,1.5M410.1,293.6l-1.5,1.4M397.1,300.9l0.6,-1.9M406.5,305.9l1.7,-1.1M359.4,309.5l1.9,0.7M375.4,318.2l-2,0.1M387.8,318.6l0.8,-1.8M360.5,323.7l-1.4,-1.4M383.5,323.3l1.1,-1.7M395,323.2l-1.8,0.9M397,323.8l1.6,-1.1M409.5,324.7l-1.8,0.8M360.1,328.7l0.5,-1.9M372.8,328.1l-1.6,1.2M389.7,329.6l-2,-0.3M367.6,334.3l-1.3,1.5M379,333.8l2,0.3M389.8,333.9l-0.3,2M367.7,338.8l-0.6,1.9M397.7,340.5l1.7,-1M393.5,353.9l0.6,-1.9M399.5,351.4l1.8,0.8M402.5,352.3l2,-0.2M360.4,356.8l1.6,-1.2M400.1,360.3l-1.9,-0.7M371.3,369.2l1.9,-0.6M385.7,368.7l2,0M403.9,370.3l1.8,-0.9M408.4,370.1l2,-0.4M375.3,386.7l1.5,-1.3M386.3,388.4l-2,-0.4M391.5,387.2l-1,1.7M398.1,394.9l1.1,-1.7M408.3,395.1l1.3,-1.5M425.2,246.8l0.1,-2M427.7,263.1l0.6,1.9M466.3,299.2l0.4,2M473.4,300.4l0.7,-1.9M447.6,326.6l-0.7,-1.9M476,323.2l-0.4,2M468,338.7l0.3,-2M449.9,343.1l0.4,2M463.6,376.2l0.9,-1.8M420.9,381.7l0.7,-1.9M470.6,393.2l-0.2,2M452.3,400.7l1.2,-1.6M472,399.4l-1.5,1.3"/>
<path stroke="#0032ff" stroke-width="1.6" d="M302.4,245.2l1.5,1.6M315.6,249.1l2.2,0M328.9,252.2l0.7,-2.1M317.6,270l-2.2,-0.4M322,268.5l-1.6,1.5M311.9,272l2.2,0.2M335.8,272.2l2.1,0.7M332.7,279.4l-1.9,-1M336.3,306.8l1.6,1.6M307.1,319.6l-1.9,1.1M339.1,329.1l1.3,1.8M285.1,337.7l2,0.8M326.4,360.6l-1.8,-1.2M333.2,365.8l-0.1,2.2M338.5,388.5l-1.9,-1.1M317.7,392.2l0.4,2.2M382.5,251l1.5,1.3M388.7,253.4l-1.7,1.1M401.5,259.1l-0.5,-1.9M408.1,259.6l-2,0.3M388.9,265.9l-2,-0.3M396.4,264.7l1.1,-1.7M396.4,276.1l1.9,-0.5M396.4,282.2l0.9,-1.8M402.5,282.2l1.6,-1.2M387.7,288.4l1.3,-1.5M379.5,294.2l-1.9,0.5M390.9,298.7l-1,1.7M403.4,298.5l1.7,1M395.5,305.9l-1.2,1.6M402.9,305.7l1.7,-1M376.6,311.3l-2,0.2M388.2,312.2l-0.3,-2M410,312.7l-1.9,0.6M395.6,317.2l-0.1,2M399,318.1l-1.9,-0.7M376.5,323.1l-2,0.2M391.1,323.1l-1.8,0.8M382.7,328.8l1.4,-1.5M396.4,329.6l-1.8,1M386.5,334.2l-1.3,1.5M396.1,340.8l-0.2,2M408.8,342.8l-2,0.1M383.2,346.7l1.6,-1.2M376,350.9l2,0.3M391.6,358.9l-2,0.2M395.8,358l-0.4,2M409.3,359.2l-1.3,1.5M403.1,364.8l1.1,-1.7M410.3,365.3l-1.7,1M364.4,375.5l-1.8,0.9M382.2,375.9l-1.2,1.6M384.9,380.8l1.9,-0.7M403.6,382.5l1.9,-0.6M394.9,387l1.5,1.3M409.6,390.5l-2,0M463.7,251l0.9,-1.8M449.2,288.1l-1.9,0.5M476.2,287.6l-1.4,1.4M430.7,301.2l-0.1,-2M442,306.8l1.1,-1.7M474.6,363.7l0.3,-2"/>
<path stroke="#0006ff" stroke-width="1.6" d="M306.4,245.7l1.7,-1.3M315.5,288.3l-0.2,-2.2M327.9,284.8l0.9,2M338.3,355.7l-1.7,1.4M321.7,379.2l-1.9,-1M337,381.8l-0.2,2.2M387.4,258.8l0.8,-1.8M393.3,270l-0.9,1.8M406.4,270l2,-0.3M387.2,277.2l0.2,-2M393.3,277.3l-2,0.1M395.2,282l-1.5,1.3M397.8,287.6l1.6,-1.2M406.8,287.2l1.9,0.7M398.3,293.3l1.9,0.5M404.8,294.1l-0.9,1.8M374.9,298.3l0.1,2M402.8,311.4l2,-0.4M384.9,317.8l-1.9,0.6M407.5,318l1.1,-1.7M366.7,321.9l-0.1,2M406.8,330.2l1.3,-1.5M395.1,335.9l-1.6,-1.1M403.3,336.2l0.6,-1.9M410.6,348.3l-1.7,1M387,357.9l-0.9,1.8M382.5,370.9l-1.9,0.6M392.3,370.3l-0.9,1.8M395.7,375.7l-0.6,1.9M399.5,389l-0.1,-2M405.5,387.5l0.6,1.9M403.7,393.9l1.9,-0.6M468.2,259.9l1.8,0.9M468.4,304.9l1.9,-0.6M473.3,344.2l1.1,-1.7M460.7,368.5l-1.2,1.6M449.5,393.9l-1.7,1.1"/>
<path stroke="#000080" stroke-width="1.6" d="M319.2,244l1.7,-1.4M292.4,269.1l-2.1,0.7M337.9,284.9l-2.1,-0.7M404,376.3l2,-0.4M471.8,292.1l-0.5,1.9"/>
<path stroke="#ffe300" stroke-width="1.6" d="M325.5,243.4l-0.5,2.1M333.9,245.3l-2.1,0.8M285.8,260.6l0.3,2.2M324.7,263.4l-0.4,-2.2M318.7,272.2l1.7,1.4M333,274l-2,-0.9M300.7,279.4l0.9,-2M311.8,292.2l-2,-0.9M325.6,291.9l2.1,-0.6M309.4,322.8l-0.8,-2.1M314.7,329.8l-0.3,2.2M317.9,333l0.8,-2M308.7,341.1l1.7,1.4M286.1,347.6l1.3,1.8M307.7,353.2l2.1,-0.6M296.9,395.5l-0.3,-2.2M323.2,396.7l-1.6,-1.6"/>
<path stroke="#3dffc2" stroke-width="1.6" d="M337.6,244.2l0.2,2.2M325,306.7l2.2,-0.2M332,392.8l1.2,1.8M361.7,253.5l-0.2,-2M409,251l-0.6,1.9M359.9,258.8l-1.5,1.4M376.5,264.3l1.2,-1.6M358.2,269.9l1.6,-1.2M390.3,306.4l-1.8,-0.8M377.7,311.2l1.5,-1.3M381.4,328.3l0.3,2M360.5,339.1l2,0.1M363.1,363.9l-1.8,-0.8"/>
<path stroke="#00b7ff" stroke-width="1.6" d="M327.8,257.4l-1.8,-1.3M302.9,268.2l-1.7,1.4M309.9,268l-1,2M325.6,267.3l1.2,-1.9M334.6,268.2l-0.6,2.1M318.1,279.9l2,1M326.5,279.9l-1.5,-1.6M332.3,291.9l0.5,-2.1M309.9,297.3l-0.8,2.1M303.3,308.9l2.2,0.4M319.9,307.9l0.3,-2.2M332.6,315.5l-1.4,-1.7M317.9,319.1l-1.9,1.1M332,325.9l-2.2,-0.1M319.3,339.7l-1.4,-1.7M324,337.1l2.1,0.6M295.8,342.9l0.8,-2.1M321.6,350.4l-2.2,0.3M332.1,346.7l1,2M307.1,355.1l-1.7,1.4M297.2,360.7l1.4,-1.7M318.4,359.7l0,-2.2M309.2,368l-2.2,-0.1M323.3,367.4l-2.1,0.5M316.9,371.2l-0.5,2.1M337.8,375.8l-0.9,2M317.1,383.3l-1.9,1M319.8,382.4l1.1,-1.9M378.9,259.2l-2,0.1M383.8,258.6l-1.2,1.6M363.3,264.2l1.9,0.6M403.8,263.8l-1.2,1.6M370,271l-2,-0.2M385.2,270.4l-1,1.7M404.3,275.3l-0.8,1.8M364.6,281.8l-1.8,0.8M358.1,288l1.6,-1.2M367.6,294.1l0.8,-1.8M386.7,293.3l1.4,-1.4M391.4,293.6l1.6,-1.2M360.6,299.6l-1.1,1.7M377.5,299.7l0.4,-2M384.5,305.5l-1.9,0.5M363.2,310.6l2,-0.1M371.7,312.2l-2,-0.1M400.7,311.3l-1.7,1.1M370.2,317.6l-0.7,-1.9M380.1,315.5l0.1,2M374.2,329.8l0.6,-1.9M373.9,335l0.2,-2M376.5,341l-2,-0.2M404.6,346.9l-1.1,1.7M360.6,350l2,0.1M372.4,352.1l-2,0M389.6,352.9l0.5,-1.9M375.5,357.6l1.1,-1.7M377.7,363.4l-1.8,0.9M381.8,363.9l-1.6,1.2M364.6,369.2l-2,-0.1M368.5,374.5l-1.5,1.3M371.5,373.8l2,0.4M371.8,381l1,-1.7M382.4,382.7l-2,0M401.6,383l-1.4,1.5M369.7,386.7l-1.8,0.9M383.1,385.7l-0.2,2M382.7,393.4l-2,0.3M474.4,257.2l0.6,-1.9M474.5,262.8l0.7,-1.9M473.5,275l1.4,-1.5M470.5,281.7l-1.5,1.3M437.7,287.3l1.6,1.2M469.3,312.2l2,0M460.3,318.3l-0.8,1.8M475.8,354.9l0,2M476.3,369.6l-1.8,-0.8M474.7,380.5l0.8,1.8"/>
<path stroke="#c2ff3d" stroke-width="1.6" d="M332.3,258.3l-2.1,-0.6M291.5,284.1l1.2,1.9M315.3,290.6l-1.9,1.1M337.3,315.9l-0.6,-2.1M297.7,321.6l1.5,-1.6M297.6,331.3l2.1,-0.8M301.1,333.8l0.9,-2M315.8,339.6l-1.3,-1.8"/>
<path stroke="#ac0000" stroke-width="1.6" d="M302.3,262.8l2,0.8"/>
<path stroke="#96ff69" stroke-width="1.6" d="M325.7,275.4l-2,0.9M302.8,285.6l2.2,0.4M464.2,380.4l0,2"/>
<path stroke="#0000d8" stroke-width="1.6" d="M308.9,280.5l-1.7,-1.4M310.9,302l1.8,1.2M308,309.3l2.2,-0.3M303.4,313.8l-0.5,2.1M322,316l-2.2,-0.3M302.3,343.6l-1.2,-1.8M404.3,269.4l-1.4,1.4M368.5,277l-1.8,-0.8M406.7,274.5l1.7,1.1M394.4,298l1.4,1.4M383.8,311.9l1.6,-1.2M369.6,322.7l1.9,-0.5M402.5,323.2l1.6,-1.2M401,329.6l-1.9,0.6M404.5,328.1l1.2,1.6M400.1,334.5l-1.2,1.6M408.9,334.3l-0.6,1.9M407.8,383.1l0.5,-1.9M452.6,319.6l0.9,-1.8M471.8,343.8l-1.1,1.7"/>
<path stroke="#0000ac" stroke-width="1.6" d="M317.6,278.4l-1.4,1.7M328.9,312.8l0,2.2M326.6,354.7l0,2.2M316,367.3l0.4,-2.2M406.2,281.2l1.7,-1.1M393.3,369.6l2,-0.4M474,249.6l1,-1.7"/>
<path stroke="#11ffee" stroke-width="1.6" d="M318.3,296.8l-1.8,1.2M320.7,299.7l-1.8,-1.3M316.9,351.4l-2.1,-0.7M321.1,354.1l-1.6,1.5M299.4,364.3l2.2,-0.3M303.7,372.5l-2.1,-0.7M295.3,377.7l-2.2,0.1M368.3,259.3l-1.9,-0.6M379.8,282.3l-2,-0.1M370.5,289.2l-2,0.2M372.2,286.9l1.8,-0.9M358,294.7l1,-1.7M381,305.4l-1.9,0.5M399.2,306.3l-2,-0.2M369.2,369l-0.6,1.9M376.2,371.5l-1.3,-1.5M367.7,379.3l1.7,1M390.6,393.6l1.9,-0.6M459.4,267.9l-1.7,1.1M421.5,274.6l-0.4,2M447.7,370l0.3,-2M464.9,387.3l-0.3,2"/>
<path stroke="#d80000" stroke-width="1.6" d="M293.6,304.7l0,-2.2M294.7,325l-1.8,1.2M298.9,326.4l2.2,0.4M305.8,365.3l0.5,2.1M299,369.9l-1.2,1.9"/>
<path stroke="#800000" stroke-width="1.6" d="M288,391.6l0.5,-2.1"/>
<path stroke="#ff0600" stroke-width="1.6" d="M285.1,393.8l2.1,0.7"/>
<path stroke="#69ff96" stroke-width="1.2" d="M284.4,238.5l0.4,1.7M292.8,244.1l-0.6,1.7M323.7,243.4l-0.4,1.7M287.1,257.5l1.8,0.2M309.5,256.5l-1.7,0.3M289.9,264.8l1.7,-0.5M297.7,281.1l1.5,-0.9M290.3,285.4l1,1.5M312.1,290.5l-1.6,-0.8M294.9,297.6l-1.7,-0.4M285.6,303.1l-1.5,0.8M310.8,321.8l-0.6,-1.7M318.3,319.4l0.6,1.7M293.5,323.8l-1.5,1M310.3,325.7l-1.2,-1.2M298.6,332.8l1.6,-0.6M305,349.2l-1.7,-0.3M324.5,365.1l-0.2,1.7M337.2,370.8l-0.2,1.8M392.8,263.4l-0.7,1.5M402.2,263.1l-1,1.3M367.1,373.5l-1.2,1.1M404.6,395.4l1.5,-0.5M423.3,246.3l-0.1,-1.6M469.9,248.1l-0.8,1.4M421.6,258.9l-0.6,-1.9M439.1,256.9l0.4,-1.6M442.2,264.3l1.3,-1M437.3,269.9l0.5,1.5M437.4,275.2l-0.9,-1.3M421.5,280.7l-1.4,0.8M463.7,282.6l1.5,-0.4M448.4,286.5l-1.6,0.4M461,285.7l-0.5,1.9M436.3,293.3l0,1.6M438.6,299.8l-0.8,-1.4M464,311.4l-0.2,1.6M473.5,312.1l0.6,1.5M448.4,319l-0.9,-1.4M437.6,325.8l0.5,-1.5M440.9,324.3l-0.1,1.6M454,325.3l0.5,-1.5M426.2,332.1l1.2,-1.6M437.7,333l0.1,-1.6M442.3,330.6l-1,1.3M426.7,342.4l-0.9,1.3M443,344l0.8,-1.4M427.1,351.7l0.7,-1.5M443.1,348l-1.5,0.7M464.2,355.6l-0.2,1.6M464.2,368.1l-0.1,1.6M470,367l-0.9,1.3M473.5,373.3l-0.2,1.6M459.6,380.2l-1.6,1.2M443.9,388.8l0.8,-1.4M438.5,392.3l-1.1,-1.2M458.8,399.1l-1.3,1"/>
<path stroke="#96ff69" stroke-width="1.2" d="M292.6,237.6l-1.5,1M292.5,258.6l1.6,-0.7M316,277.7l-1.1,1.4M326.5,285.9l0.7,1.6M308.2,297.2l-0.6,1.7M286.2,319.6l-0.5,1.7M316.7,317.8l-1.5,0.8M337.9,320.5l0.4,1.7M297.5,343l0.6,-1.7M303.4,342.3l-1,-1.5M328.5,348.6l-1.6,-0.8M298.8,361.5l1.1,-1.3M308.8,366.2l-1.8,-0.1M363.3,252.9l-0.2,-1.6M397.2,253.9l1.6,0M408.7,292.7l-1.2,1.1M389.2,298.2l-0.8,1.4M398.8,301.1l0.5,-1.5M390.6,304.7l-1.5,-0.7M375,316.5l-1.6,0.1M365,322.3l0,1.6M398.5,333.8l-1,1.3M405,336.3l0.4,-1.5M370.1,339.5l-1,1.2M399.3,348.7l1.4,-0.8M390.6,377.4l0.8,-1.4M404.8,377.9l1.6,-0.3M377.5,380.4l-0.7,1.4M376.8,387.7l1.2,-1.1M409.2,388.8l-1.6,0M431.8,245.6l0.2,-1.6M442.2,245.9l0.8,-1.4M473.7,242.3l0.4,1.6M446.7,249.1l0.1,1.6M459.1,249.2l0.7,1.9M427.2,257.8l-0.8,-1.4M462.6,257.4l0.8,-1.8M438.5,261.9l0,2M425,271l-0.2,-2M430.9,269.8l0.2,1.6M431.1,274.8l-0.5,1.5M464.2,288l-1.7,-1M427.2,299.7l-1.3,1.5M432.4,300.7l-0.1,-1.6M475.1,300.6l0.5,-1.5M421.1,307.2l0.4,-1.5M438.5,307.5l0.6,-1.5M454.4,305.9l-0.3,2M436.1,312.7l0.5,1.5M454.6,310.8l0.5,1.9M474.9,311.1l0.8,1.8M431.9,319.7l-0.1,-1.6M436.2,318.6l-0.7,1.4M470.1,331.7l-0.5,-1.9M426.8,338l-1.4,1.5M425.3,337.1l-1.1,1.2M443,336.8l-1.5,0.6M451.9,344.4l0.9,1.3M475,344.8l0.8,-1.4M420.2,351.1l0.9,-1.8M421.3,361.9l-1.3,0.9M454.4,367.8l-1,1.3M432.9,374.5l-1.5,0.7M427.1,379.9l-0.6,1.5M473.3,381.6l0.7,1.5M453.4,394.9l0.7,-1.5M466,400l-0.9,1.8M464.3,399.6l-0.7,1.4"/>
<path stroke="#00e3ff" stroke-width="1.2" d="M296.9,240.2l1.7,0.2M304.8,259.5l1.4,-1.1M296.9,263l0.5,-1.7M326.4,293.4l1.7,-0.5M327.5,296.9l1.2,-1.3M297.1,304.2l1.7,-0.5M296.6,308.3l0.6,1.6M314.3,307.9l-0.1,1.8M338.8,315l-0.5,-1.7M324.8,320.2l1.3,-1.1M287.9,330.7l-1.7,0.3M326.4,330.9l0.1,-1.8M293.7,337.2l-1.7,0.2M305.6,337.9l0.2,-1.8M316.9,338.2l-1.1,-1.4M285.3,342.4l1.4,1M315.4,342l0.6,1.6M285,348.9l1.1,1.4M285.8,354.5l-1.5,0.9M314.3,355.4l1.6,-0.7M292,360.6l-0.3,-1.7M313.9,358.8l-1.4,1.1M287.9,368.4l1.7,-0.4M304.2,366.1l0.4,1.7M292.8,372.3l0.8,1.6M315.2,378.1l1.7,-0.6M327,377l-0.1,1.8M333.2,384.4l1.2,1.3M297.9,391.6l1.3,-1.2M324.1,395.2l-1.2,-1.2M453.7,243l0.5,1.5M459.2,244.4l-0.3,-1.6M443.5,251.6l1.3,-0.9M443.3,256.7l-0.3,-1.6M455.2,256.5l-0.4,-1.6M421.9,265.3l0.6,-1.5M457.3,262.7l-0.1,1.6M462.6,273.9l-0.3,1.6M426.6,281.5l1.2,1.1M437.3,281.5l-0.6,-1.5M426.6,289.2l0.1,-1.6M443.8,288.4l0.6,-1.5M474.9,293.8l0.8,-1.4M420.8,301.2l0.6,1.5M432,306.3l-1.4,0.7M465.6,306.8l-0.5,-1.5M428.6,313.2l-1.1,-1.1M453,311.6l0.4,1.6M444.9,319.4l-0.2,-1.6M421.3,327l1.1,-1.2M430.9,323.8l0,1.6M431.5,330.7l-0.6,1.5M448,331.7l0.8,1.4M422.2,337.3l-0.7,-1.4M457.5,337.1l-0.7,1.4M437.9,344.6l-0.6,-1.5M475,349.6l-0.3,1.6M431.4,356.2l0.5,1.5M443.9,357.9l0.7,-1.5M459.1,354.8l0.5,1.5M442.9,361.5l-0.2,1.6M453.3,362.3l-0.8,1.4M428.5,369.2l-0.1,-1.6M444.9,369l-0.6,-1.5M438.4,382.6l0.3,-1.6M443,380.6l0.6,1.5M454.9,381l0,-1.6M453.1,388l1.4,0.9"/>
<path stroke="#11ffee" stroke-width="1.2" d="M301.6,238.8l-1.5,1M287.6,245.4l1.7,-0.4M332.9,243.9l-1.6,0.6M287.1,250.6l-1.5,-1M292.1,252.5l1.5,0.9M311,250.1l-1.6,-0.8M298.7,257.8l0.4,-1.7M306.4,262.6l1.2,1.3M326.3,262.7l-0.3,-1.7M297.2,272.8l-1.3,-1.2M308.8,273.8l1.1,-1.4M324.7,274.1l-1.6,0.7M286.2,278l-1.5,0.8M294.6,282.3l-0.3,-1.7M302.5,279.7l0.7,-1.6M289.1,286.2l-1.5,-0.9M339.2,298.8l1.5,-1M331.1,308.9l-1.5,-1M292.2,315.7l1,-1.4M297.7,316.2l1.8,0.1M297.9,336l-1.2,-1.3M309,338.2l-1.6,-0.7M307.9,342.7l1.4,1.1M295.7,347.3l-1.5,-0.8M335.5,346.4l-0.6,1.6M297,356.8l1.3,-1.2M287.3,361l0.6,-1.7M308.9,359.9l-0.6,-1.6M298,377.6l0.1,-1.8M305.7,375.6l-1.7,0.6M287.6,382.6l0.8,1.6M284.9,395.5l1.7,0.5M298.5,394.9l-0.3,-1.7M371.7,316.6l-0.5,-1.5M436.5,243.4l-0.2,1.6M464.6,242.8l-1.5,0.6M469.7,242l-0.1,1.6M420.4,251.2l-1.4,0.8M432.4,256.1l0,1.6M460.9,256.3l-0.3,-1.6M441.4,270.9l1.6,-0.2M441.9,275l-0.7,1.5M447.9,276l1.4,-0.8M469.8,276.2l1.1,-1.1M452.8,282.5l1.5,0.6M474.8,279.1l-1.4,0.8M421.1,287.7l-0.3,1.6M464.7,286.4l-1.4,-0.8M426.5,294l-1,1.3M453.7,294.3l0,-1.6M462.5,293.2l0.6,1.5M421.2,314.2l1.6,0.3M443,312.6l-0.8,-1.4M459.9,312.6l-0.4,-1.5M421.3,318.3l-0.3,1.6M426.7,321.2l1.3,-1M466,319.3l0.2,-1.6M473.7,318.1l0,1.6M426.2,327.3l0.9,-1.3M464.6,324.4l0.3,1.6M468.5,324.5l-0.3,1.6M427.8,332.8l0.9,-1.3M452.6,330.8l0.9,1.3M471.7,330.8l-0.4,-1.5M432.6,337.4l-0.5,-1.5M449.5,337.9l0.2,-1.6M455.5,338.8l0.3,-1.6M419.6,343.9l-0.6,1.5M432.1,350.6l1.4,-0.7M436.5,348.3l-0.9,1.3M448.6,350.2l0.9,-1.3M420.8,355.1l-1.1,1.2M428,356.4l1.1,-1.2M447.5,356.1l-0.8,1.4M425.1,361.7l0.2,1.6M447.9,362.8l1.6,-0.4M469.1,361.4l-1,1.2M438.2,375.5l0.9,-1.3M469.7,375.5l0,-1.6M431,379.7l-1.4,0.8M448.6,381.1l0.6,-1.5M421.4,385.8l-1.3,-1M469.7,385.6l-0.2,1.6M421.7,393.4l1.5,-0.5M430.8,393.1l-0.8,1.4M436.6,398.8l-0.7,1.4M443,400.1l0.7,1.4"/>
<path stroke="#3dffc2" stroke-width="1.2" d="M307.8,240.4l0.4,-1.7M314.4,245.6l1.7,0.5M295.6,251.4l0.7,1.6M314.6,262.8l-0.8,1.6M322.2,264.7l0.9,-1.5M286.2,267.8l-1.2,-1.3M291.5,267.6l-1.7,0.5M287.2,274.1l-1.2,-1.3M299.2,292.3l1.8,-0.1M305.4,294.1l1.4,-1M299.7,298.1l0.6,-1.7M303.6,298.1l-1.1,-1.3M288.6,314l-1.8,-0.2M299.2,322.5l1.2,-1.3M285.8,325.7l-1.4,1M299.1,328.2l1.7,0.3M303.4,326.4l-1.7,0.2M290.9,330.2l-1.5,1M302.8,334.2l0.8,-1.6M319.6,333.3l0.7,-1.6M331.3,333.5l1.7,-0.3M308.5,354.7l1.7,-0.5M331.6,360.6l1.6,0.8M339.5,367.8l1,-1.5M286.9,373l0.8,1.6M334,375.6l-1.5,-1M336,375.5l-0.7,1.6M296.1,382.2l0.5,1.7M311.4,381.7l-1.8,0M307.9,388.3l-0.1,1.8M307.5,394.6l-0.5,1.7M339.9,395.8l1.5,-1M383.4,283l1,-1.2M385.1,313l1.3,-0.9M403.6,318.3l0.1,-1.6M381.3,356.5l-1.1,1.2M394.1,388.5l1.2,1.1M447.2,245.3l1.2,-1M430,251.2l0.2,1.6M452,249.1l0.7,1.4M464.3,257.7l0.6,-1.5M469.5,255.3l-0.5,1.5M431.3,263.1l-0.4,1.5M436.8,262.2l0,1.6M452.6,260.7l-1.2,1.1M463.3,260.8l-0.3,1.6M449.4,268.9l-1.4,0.8M465.6,270.1l0.8,-1.4M460.8,275.7l-0.1,-1.6M433.9,281.6l-0.5,-1.5M443.6,281.6l-1.4,0.8M432,289.3l0,-1.6M459.3,285.7l-0.4,1.5M452,294.7l0,-2M443.5,299.9l-0.6,-1.5M458.5,300.6l0.9,-1.3M425.8,305.1l-0.4,1.6M447.9,307.5l0.7,-1.5M448.2,312.3l-0.2,1.6M421,333l0.5,-1.5M464.2,330.6l0.8,1.4M436.9,336.5l-1.1,1.1M466.5,338l-0.7,-1.5M460.2,344.7l-0.1,-1.6M465.9,344.5l-0.7,-1.5M421.9,351.5l0.7,-1.4M453.2,350.8l1.6,-0.3M436.6,357.4l1.1,-1.2M452.8,355.5l0.1,1.6M437.5,361.2l-0.2,1.6M463.1,362.2l1.2,1M431.8,368.8l0.1,-1.6M422.6,374.7l0.3,-1.6M444.4,376l0.2,-1.6M436.9,388.6l0.7,-1.4M460.1,388.1l-1,-1.3M471.4,385.4l-0.2,2M427,394.5l0.3,-1.6M441.7,393l0.1,1.6M422.4,399.3l-0.5,-1.5M447.9,398.4l-0.5,1.5"/>
<path stroke="#eeff11" stroke-width="1.2" d="M313.2,237.3l-1.6,0.8M316,250.8l1.8,0M330.6,252.3l0.5,-1.7M332.3,256.5l-1.7,-0.5M308.2,267.7l-0.8,1.6M302.8,274.2l0.9,-1.5M309.7,279l-1.4,-1.1M338,283.2l-1.7,-0.5M291.6,293.3l1.1,-1.3M337.3,292.3l1.5,0.9M321.4,298.1l-1.4,-1M302,302.5l1.6,-0.7M330.1,301.4l0.3,1.7M308.6,310.9l1.7,-0.3M320.4,338.3l-1.1,-1.4M325.7,342.4l1.6,-0.7M337.7,342.9l1.1,1.4M330.8,347.8l0.8,1.6M319.6,353.1l-1.3,1.2M300.1,366l1.7,-0.2M311.1,377.9l-1.5,0.9M303,396.6l1.7,0.3M330.8,394.1l1,1.5M393.7,252.1l-1.6,0.3M364.4,258.4l-1.5,-0.5M368.5,257.5l-1.5,-0.5M373.9,257.2l-1.5,0.6M389.2,259.1l0.7,-1.5M378.1,264.9l0.9,-1.3M391.6,269.6l-0.7,1.4M399.2,269.4l-1.6,0M368.9,275.2l-1.5,-0.7M397.1,277.7l1.6,-0.4M369,281.1l-1.4,0.8M379.4,280.6l-1.6,-0.1M378.7,292.6l-1.6,0.4M383.3,295.5l1.3,-0.9M398.2,295.1l1.5,0.4M373.2,298.7l0.1,1.6M379.3,299.7l0.3,-1.6M383.5,298.4l-1.3,1M360.7,305.1l-1.5,-0.5M364.5,304l-1.4,0.7M404.1,306.9l1.4,-0.8M371.3,310.5l-1.6,0M376.1,309.7l-1.6,0.1M393.9,317.4l-0.1,1.6M385.1,323.9l0.9,-1.3M398.3,325l1.3,-0.9M361.8,328.8l0.4,-1.5M365.7,327.9l-0.4,1.6M375.7,334.8l0.2,-1.6M365.9,338.7l-0.5,1.5M376.2,339.3l-1.6,-0.1M389.9,339.7l-1.5,0.5M366.2,347.4l1.4,-0.7M374.7,345.3l-0.9,1.3M381.8,346.5l-1.4,-0.8M384.6,347.8l1.3,-1M390.1,347.7l1,-1.3M403,346.2l-0.9,1.3M372,350.4l-1.6,0M376.2,352.6l1.6,0.2M408.4,354.1l1.6,-0.2M407.8,358.4l-1,1.2M363.5,362.2l-1.5,-0.7M367.1,364.5l1.6,0M376.6,362.1l-1.4,0.8M404.7,365.4l0.9,-1.4M409.1,364l-1.4,0.8M381.7,369.4l-1.5,0.4M390.6,369.9l-0.7,1.4M400.2,369.2l-1.3,1M363.2,374.2l-1.4,0.8M394,375.6l-0.5,1.5M399.5,375.6l-0.4,1.6M363,382l0.9,-1.3M373.5,381.6l0.8,-1.4M400.1,382.2l-1.1,1.2M404.4,384l1.5,-0.5M363,384.7l-1.5,0.6M368.5,385.3l-1.4,0.7M373,386.3l-1.5,0.6M401.2,388.6l-0.1,-1.6M403.9,388.4l0.5,1.5M409.9,395.9l1,-1.2M465.7,244.2l-1.8,0.8M442.2,250.4l1.6,-1.1M471.5,248.7l-1,1.7M438.8,269l0.6,1.9M440.7,269.3l2,-0.3M451.4,268.6l1.2,-1.6M458.1,266.7l-1.3,0.9M474.6,267.1l0,1.6M453.5,275.5l1.1,-1.7M468.3,275.2l1.4,-1.4M427.5,280l1.5,1.4M453,280.8l1.9,0.7M438,292.8l0,2M464,292.2l0.7,1.9M473.2,293.3l1,-1.8M451.8,300.5l0.2,1.6M464.7,299.9l0.3,1.6M470.1,298.5l-1,1.3M433.2,307.6l-1.8,0.9M443.6,307.4l0.8,-1.4M446.2,307.1l0.8,-1.8M419.8,326.1l1.3,-1.5M424.6,326.6l1.1,-1.6M432.6,323.4l0,2M449.1,325.7l-0.5,-1.5M419.3,332.8l0.7,-1.9M435.9,333.2l0.1,-2M460.4,329.9l-0.9,1.8M420.8,338.4l-0.9,-1.8M459.2,337.5l-0.9,1.8M430.6,344.3l-0.5,-1.9M441.3,343.5l1,-1.7M453,343.1l1.1,1.7M464.5,345.6l-0.8,-1.8M447,349.6l1.1,-1.7M460.3,349.8l-0.5,1.9M469.9,350.9l1.2,-1M449.1,356.7l-1.1,1.7M466,355.4l-0.3,2M474.1,355.3l0,1.6M422.7,363l-1.6,1.2M460.5,363l-0.8,-1.4M476.4,363.5l0.2,-1.6M421.2,368.1l-0.2,2M436.8,368.9l0.8,-1.4M434,375.9l-1.8,0.8M442.7,376.2l0.3,-2M475.2,373.2l-0.3,2M420.7,387.4l-1.6,-1.2M442.2,388.3l1,-1.7M458.9,389.4l-1.2,-1.6M420.8,391.9l1.9,-0.6M448.2,392.7l-1.3,0.9M451.7,394.6l0.8,-1.8M449.7,398.5l-0.6,1.9"/>
<path stroke="#00b7ff" stroke-width="1.2" d="M319.7,239.6l-1,1.5M302.4,252.1l0.5,1.7M319.2,252.4l1.7,0.6M302.1,264.5l1.6,0.6M291.5,275.5l-0.1,-1.8M295.7,287.2l1.6,0.6M309,285.8l0.9,-1.5M331.6,284.5l-1.8,0M295.3,304.3l0,-1.8M290,310l0.9,1.5M308.8,314.7l1,-1.4M325.6,324.6l0.4,1.7M292.1,341.9l0.2,1.7M334.8,355.3l0.4,-1.7M297.3,369.4l-0.9,1.5M294,382.8l0.7,-1.6M289.7,391.5l0.4,-1.7M427,250.8l-0.8,1.4M449.4,258.4l0.6,-1.5M446.8,262.7l-0.8,1.4M426.6,270.5l-0.1,-1.6M455.1,276.1l0.9,-1.3M420.5,293.5l-1.1,1.2M441.4,293.9l-0.4,1.5M448.5,293.4l-1.1,1.2M450.2,299.9l-1.5,-0.4M452.7,306l-0.3,1.6M476.4,307.3l0.4,-1.5M433.1,313.6l0.4,-1.6M432.1,343.5l-0.4,-1.5M458.5,349.7l-0.4,1.5M462.4,349.9l0.2,1.6M426.5,373l-1.6,0M448.2,373.3l-1,1.2M457.9,373.9l-0.2,1.6M427.8,387.4l0.6,-1.5M426,399.4l-1.5,0.5M433.1,401l0.7,-1.5"/>
<path stroke="#c2ff3d" stroke-width="1.2" d="M325.7,238.8l-0.8,-1.6M307.7,246.8l1.4,-1.1M313.2,256.4l-1.5,0.9M322.2,258.2l-1.2,-1.3M327.3,267.8l0.9,-1.5M323.1,286.4l-1.2,-1.3M320.5,290l-1.5,-1M317,295.6l-1.5,1M311.2,334.1l0.9,-1.5M324,338.9l1.7,0.5M322.5,365.9l-1.7,0.4M321.1,373.1l1.7,-0.2M289.3,376l-1.5,-0.9M322.1,377.5l-1.6,-0.8M315.9,382l-1.5,0.8M321.5,382.9l0.9,-1.5M316.1,392.9l0.3,1.7M356.6,252.9l0.7,1.4M387.4,252.2l-1.3,0.9M392.5,259.1l1.6,-0.2M403,258.2l-0.4,-1.5M363.2,266l1.5,0.5M398,265.3l0.9,-1.3M364.3,271.4l0.3,-1.6M369.8,269.2l-1.6,-0.1M383.5,269.9l-0.8,1.4M406.2,276.2l1.4,0.8M363.5,280.4l-1.5,0.6M373.3,280.7l-1.1,1.2M389.5,283.2l0.9,-1.3M398.1,282.6l0.7,-1.4M407.5,282.4l1.3,-0.9M359.4,289.1l1.3,-1M373.3,288.3l1.4,-0.7M385,287.4l-1,-1.3M389.3,289.3l1.1,-1.2M394,288.4l0.5,-1.5M399.1,288.7l1.3,-1M404,286.6l-1.5,0.5M406.6,288.9l1.5,0.6M403.1,293.7l-0.7,1.4M363.7,312.3l1.6,-0.1M389.8,311.6l-0.3,-1.6M399.5,310.1l-1.3,0.9M403.6,313l1.6,-0.3M409.1,318.6l0.9,-1.3M370.5,324.2l1.5,-0.4M403.8,324.3l1.3,-1M371.4,327l-1.3,1M379.7,328.9l0.3,1.6M384.2,329.7l1.1,-1.2M389.6,327.9l-1.6,-0.2M395.2,328.3l-1.4,0.8M400.1,328.2l-1.5,0.5M403.4,329.4l1,1.3M361.3,334.2l1.5,0.5M379.1,335.6l1.6,0.3M385,333.4l-1.1,1.2M408.3,341.1l-1.6,0.1M372.1,346.1l-0.1,-1.6M393.7,347.6l1.5,-0.5M369.9,357.4l0.4,1.6M380.5,362.8l-1.3,1M394.8,364.9l1.6,-0.1M377.2,370.1l-1.1,-1.2M405,371.7l1.4,-0.7M371.5,375.6l1.6,0.3M387.4,376.9l-0.2,-1.6M396.1,380.9l-1.4,0.8M427,246.6l0.1,-1.6M453.6,257.2l-0.5,-1.9M476.2,257.4l0.5,-1.5M426.2,264l0.5,1.5M420.9,270l0.3,1.6M424.9,289.6l0.1,-2M430.3,289.7l0,-2M470.1,292.1l-0.4,1.6M450.2,301.7l-1.9,-0.5M421.2,312.5l2,0.4M431.4,313.6l0.5,-1.9M458.3,313.5l-0.5,-1.9M475.4,317.7l0,2M470.2,324.5l-0.4,2M465.1,339.1l-0.8,-1.8M428.4,343l-1.1,1.6M448.3,343.8l0.3,1.6M435.1,356.5l1.4,-1.5M470.5,357.1l-0.4,-1.6M426.8,361.2l0.2,2M432.9,362.8l-0.5,-1.5M430.1,369.1l0.1,-2M443.5,370l-0.8,-1.8M476.6,367.9l-1.5,-0.6M452.4,375.6l-0.1,-2M469.7,382.8l0.4,-1.5M432.2,385.5l-0.8,1.4M420.9,400.2l-0.6,-1.9"/>
<path stroke="#ffb700" stroke-width="1.2" d="M331.6,240l-0.3,1.7M336.8,239.3l1.4,1M301.5,267.2l-1.4,1.1M335.7,273.9l1.7,0.5M327.5,278.5l-1.2,-1.3M317.1,287.7l-0.1,-1.8M284.5,292l1.7,-0.6M310.3,303.7l1.5,1M316.3,304.4l-0.7,-1.6M286,307.6l-1.5,1M301.7,313.8l-0.4,1.7M321.9,314.3l-1.7,-0.2M333.6,314.1l-1.1,-1.4M317.7,327.8l0.7,-1.6M320.3,326.2l0.2,-1.8M338,330.4l1,1.4M321.7,341.1l-1.8,-0.1M299.5,349.8l1.6,-0.7M317.1,349.7l-1.7,-0.6M305.7,354l-1.4,1.1M336.9,354.6l-1.4,1.1M320.1,359.3l0,-1.8M339.5,361.3l0.4,-1.7M303.8,370.8l-1.7,-0.5M294.8,376l-1.8,0.1M327.5,381.4l0,1.8M376.8,251.6l-0.7,1.4M358.4,257.8l-1.2,1.1M378.4,257.6l-1.6,0.1M398.1,257.3l-1.5,0.5M357.7,263.5l-0.5,1.5M382.7,263.1l-1.4,0.8M359.6,277.8l1.2,-1.1M363.9,276.7l1.6,0.2M392.8,275.7l-1.6,0.1M358.5,282.9l1.5,0.7M378.1,288.7l1.6,-0.3M359.7,295.2l0.8,-1.4M392.8,294.7l1.3,-1M374.1,304.8l-1,1.3M399,304.6l-1.6,-0.2M379.1,312.3l1.2,-1M392.8,311.1l0.3,1.6M389.5,318.9l0.7,-1.5M375.9,330l0.5,-1.5M395.7,334.3l-1.3,-0.9M384.8,341.8l1.3,-0.9M394.4,341l-0.1,1.6M398.9,341.8l1.4,-0.8M367.4,353.3l1.4,-0.7M382.1,353.2l0.5,-1.5M361.7,357.9l1.3,-1M385.3,357.4l-0.8,1.4M394.1,358l-0.3,1.6M390.4,362.7l-1.3,0.9M401.1,364.8l-1.3,-0.9M386.1,370.4l1.6,0M367.2,381l1.4,0.8M382,381l-1.6,0M381.4,386l-0.2,1.6M385.6,392.7l-1,1.3M396,392.8l-1.6,0.2M399.8,395.5l0.9,-1.3M421.6,246.8l-0.1,-2M455.2,242l0.7,1.9M421.6,252.5l-1.8,0.9M431.7,250.7l0.2,2M453.3,248l0.9,1.8M426,259l-1.1,-1.7M432.8,275l-0.6,1.9M443.6,275.3l-0.8,1.8M475,275.8l1.1,-1.2M422.7,282l-1.7,1M459.3,282l-2,0.1M469.1,280.7l-1.2,1.1M422.8,287.6l-0.3,2M437,288.9l1.3,0.9M431.4,294.3l1.8,-0.9M450,294.3l-1.4,1.5M422.3,300.2l0.7,1.9M427.5,305.1l-0.5,1.9M474.7,307.3l0.5,-1.9M437.6,311.8l0.6,1.9M437.9,319l-0.9,1.8M452.2,325.2l0.6,-1.9M433.2,331l-0.8,1.8M465.5,329.4l1,1.7M474.5,329.5l-0.7,1.4M444,338.2l-1.9,0.7M453.7,338.9l0.3,-2M475.7,335.2l-1.4,0.8M458.5,345.2l-0.1,-2M470.2,343.2l-0.9,1.3M425.4,351.4l0.8,-1.8M431,349.2l1.8,-0.9M444.1,349.4l-1.8,0.8M426.5,355.5l1.4,-1.5M442.1,357.5l0.8,-1.8M439.3,361.1l-0.3,2M447.1,361.3l1.9,-0.5M463.9,360.6l1.6,1.3M426.8,369.7l-0.1,-2M465.9,367.8l-0.1,2M471.6,367.6l-1.1,1.7M459.7,373.8l-0.3,2M468,375.9l0,-2M422.6,381.9l0.6,-1.5M444.5,379.7l0.7,1.9M433.9,386.1l-1,1.7M463.2,387.5l-0.3,1.6M464.7,392.3l-1.2,1.1M426.8,400.9l-1.9,0.6M453.9,401.4l1,-1.3M470.6,398.4l-1.2,1.1"/>
<path stroke="#ffe300" stroke-width="1.2" d="M301.5,246.7l1.2,1.3M320.7,245l1.3,-1.2M324.8,252l1.4,-1.1M328.5,255.7l-1.4,-1M331.9,262.7l-1.7,0.2M340.5,261l-1.4,-1.1M317.5,268.2l-1.7,-0.3M332.9,268.1l-0.5,1.7M317.7,281.6l1.6,0.8M334,291.9l0.4,-1.7M330.8,296.8l1.1,-1.4M327,302.6l1.8,0M303.3,310.7l1.7,0.3M321.6,307.7l0.2,-1.7M325.6,308.3l1.8,-0.2M327.2,313.3l0,1.8M305.8,318.3l-1.5,0.9M331.5,320.2l-1.3,-1.2M332.2,335.5l-1.5,0.8M337.4,337.5l-0.4,1.7M331.9,342.1l0.3,-1.7M321,348.8l-1.7,0.2M291.9,352.6l-1.2,1.3M324.9,355.1l0,1.8M326.9,358.9l-1.5,-1M292.9,364.6l-1.6,0.8M315.1,371.2l-0.4,1.7M325.7,369.5l0.3,1.7M335.3,382.1l-0.2,1.8M304.3,388.7l-1.7,-0.5M316.9,386.8l-0.6,1.7M328.4,390.5l1.3,-1.2M339,386.8l-1.5,-0.9M403.2,251.5l-1.2,1M382.2,257.9l-1,1.3M407.5,257.9l-1.6,0.2M373.6,264.1l-0.8,-1.4M388.8,264.2l-1.6,-0.2M372.7,269l-1.1,1.2M377.9,271.3l1.5,-0.6M387.9,270.2l1.5,0.5M402.8,268.5l-1.1,1.1M407,271.7l1.6,-0.2M372.8,275.8l-0.1,1.6M378.3,277l1.4,0.7M383.8,275.5l-1.5,0.6M388.9,276.9l0.2,-1.6M402.6,274.9l-0.7,1.5M393.8,281l-1.2,1M403.8,283.4l1.3,-0.9M375.1,295.1l0.3,-1.6M388.2,294.2l1.1,-1.2M365.4,297.8l-1.5,0.6M369.5,298.3l-1,1.2M402.9,300.2l1.4,0.8M406.8,300.7l1.6,-0.2M407.7,307.2l1.4,-0.8M409.2,311.1l-1.5,0.5M361.3,317.4l0.7,-1.4M365.9,316l-1.5,-0.5M361.4,322.3l-1.1,-1.1M375.9,321.4l-1.6,0.2M380.3,321.7l-1.2,1.1M390,321.8l-1.5,0.7M408.4,323.3l-1.5,0.7M408.3,331l1,-1.2M366,333.4l-1.1,1.2M388.1,334l-0.3,1.6M380.6,342l0.6,-1.5M409.3,347l-1.4,0.8M360.9,351.8l1.6,0.1M395.2,354.1l0.5,-1.5M399.2,353.1l1.5,0.6M403.1,353.9l1.6,-0.2M367.2,357l-1.1,1.2M377.1,358.2l0.9,-1.3M391,357.3l-1.6,0.2M403.4,359.7l1.6,0.3M386.1,364.2l-0.7,-1.4M364.3,367.5l-1.6,-0.1M367.5,368.9l-0.4,1.5M394,371.2l1.6,-0.3M409.2,371.6l1.6,-0.4M377.1,374.8l-1.1,-1.2M385.9,382.3l1.5,-0.6M390.7,380.5l-0.5,1.5M409.5,383.1l0.4,-1.6M386.3,386.7l-1.6,-0.3M389.9,386.7l-0.8,1.4M382.1,391.7l-1.6,0.2M391.5,395.1l1.5,-0.5M430.1,245.8l0.3,-2M438.2,243.2l-0.2,2M457.7,245.1l-0.4,-2M428.7,251.2l-1,1.7M438.9,249.8l0,2M465.4,251.4l0.7,-1.4M475.7,250.1l0.8,-1.4M434.1,255.7l0.1,2M437.3,256.8l0.5,-1.9M441.7,257.5l-0.4,-2M433.1,263.1l-0.6,1.9M440.9,263.2l1.6,-1.2M448.5,263.2l-1,1.7M454.1,261.6l-1.4,1.4M465,260.7l-0.3,2M467.7,261.6l1.4,0.8M464,269.5l1.1,-1.7M419.7,274.6l-0.4,1.6M427.3,274.3l-1.3,1M464.3,273.7l-0.3,2M432.4,282.5l-0.6,-1.9M444.8,282.9l-1.8,1M462.9,281.1l1.9,-0.5M474.7,286.7l-1.1,1.1M422,294.4l-1.4,1.5M428.1,294.7l-1.2,1.6M459.7,292.8l-1.3,0.9M437.3,301l-1,-1.7M442,300.9l-0.7,-1.9M456.8,300l1.1,-1.7M419.3,307.1l0.5,-1.9M436.8,307.2l0.7,-1.9M469.3,306.4l1.5,-0.5M441.7,313.8l-1,-1.7M449.9,312.1l-0.3,2M465.7,311.2l-0.3,2M469.7,313.9l1.6,0M423,318.2l-0.4,2M443.2,320l-0.3,-2M454.2,320.1l0.7,-1.4M458.5,318l-0.6,1.5M464.3,319.4l0.3,-2M469.1,318.4l-0.6,1.5M457.5,324.8l0.1,1.6M466.2,323.7l0.3,2M474.3,323.3l-0.3,1.6M443.8,331.3l-1.2,1.6M449.3,330.6l1,1.7M453.7,329.4l1.2,1.6M431.1,338.3l-0.6,-1.9M469.8,338.6l0.3,-1.6M436.4,345.6l-0.7,-1.9M476.7,349.6l-0.4,2M431.4,363.7l-0.7,-1.9M444.6,361.3l-0.2,2M455,362.8l-1,1.7M470.7,362.2l-1.3,1.5M456,368.5l-1.2,1.6M459,367.8l-0.9,1.3M426.9,374.7l-2,0M436.6,374.8l1.1,-1.7M449.7,374l-1.3,1.5M446.9,380.8l0.8,-1.8M453.6,386.4l1.7,1.1M425.2,394.5l0.4,-2M432.5,393.5l-0.9,1.8M437.5,393.8l-1.3,-1.5M458.6,392.7l-1.2,1.1M468.9,393.5l-0.1,1.6M477.3,394.7l-0.1,-1.6M431.4,400.7l0.8,-1.8M438.3,399.2l-0.9,1.8M444.3,399l0.9,1.8M460.1,400.1l-1.6,1.2"/>
<path stroke="#ff8b00" stroke-width="1.2" d="M335.9,244.7l0.1,1.8M320.5,267.6l-1.3,1.2M312.1,273.8l1.7,0.2M333.1,277.7l-1.6,-0.8M335.7,303.3l1.6,0.7M335.3,308.3l1.2,1.2M339.3,323.1l-1.8,0.2M284.9,339.4l1.6,0.6M331.5,366.1l-0.1,1.8M332.9,373.2l1.8,0M323.4,388.2l-1.7,-0.3M331.6,391.1l1.1,-1.4M367,254.5l1.3,-0.9M373.1,252.7l-1.6,-0.2M367.7,265l1.6,-0.2M406.1,263.2l-0.2,1.6M363.9,288.5l1.5,-0.6M369.9,287.6l-1.6,0.2M358.9,299l-0.9,1.3M393.4,299.5l1.1,1.1M369.4,304.4l0.5,1.5M380.2,303.8l-1.6,0.4M393.9,305.2l-0.9,1.3M359.2,311.3l1.5,0.6M378.4,316l0.1,1.6M383.9,316.3l-1.5,0.5M399.2,316.4l-1.5,-0.6M369.9,333.3l-0.8,1.4M407.2,334.1l-0.5,1.5M360.8,340.8l1.6,0.1M361.5,345.1l-1.1,1.2M387,351.6l-1.3,-0.9M391.3,353l0.4,-1.5M400.3,358.5l-1.5,-0.6M372.4,363.9l0.6,-1.5M380.6,375.2l-1,1.3M410.3,377.9l-0.6,-1.5M440.6,245.4l1,-1.7M475.3,241.5l0.4,2M448.4,248.6l0.2,2M459.3,257l-0.4,-2M471.2,255.5l-0.6,1.9M450.5,270.2l-1.7,1M470.2,267.9l-1.4,0.8M436.2,276.4l-1.1,-1.7M446.7,274.7l1.7,-1M459.1,276.2l-0.2,-2M435.9,282.5l-0.8,-1.8M476,280.4l-1.8,1M442,288.2l0.7,-1.9M471.2,288l0.8,-1.4M443.2,294l-0.5,1.9M460.7,304.9l0.4,2M464.1,307.7l-0.6,-1.9M427.7,314.7l-1.4,-1.4M425.4,320l1.6,-1.2M430.2,320.2l-0.1,-2M435.8,325.6l0.7,-1.9M442.6,324l-0.1,2M438.3,337.4l-1.4,1.4M447.7,338.1l0.2,-2M438.1,348.9l-1.1,1.7M452.5,349.2l2,-0.4M464.1,349.4l0.2,2M432.9,355.2l0.6,1.9M454.5,355l0.2,2M420.9,374.7l0.4,-2M428.9,380.2l-0.8,1.8M432.2,380.9l-1.7,1.1M462.5,380.8l0,1.6M426.1,387.2l0.8,-1.9M473.5,386.8l-0.5,1.5M474.7,400.3l0.5,-1.5"/>
<path stroke="#ff3200" stroke-width="1.2" d="M339.4,251.8l0.1,-1.8M331.7,324.2l-1.8,-0.1M381.7,252.5l1.2,1.1M407.2,250.9l-0.5,1.5M359.5,271l1.3,-1M363.9,292.3l-0.7,1.4M471.4,241.7l-0.1,2M447.7,258.1l0.7,-1.9M453.2,381.4l0,-2M448,385.8l0.1,1.6"/>
<path stroke="#0032ff" stroke-width="1.2" d="M284.1,261.3l0.2,1.7M316.5,313.3l-1.6,0.7"/>
<path stroke="#008bff" stroke-width="1.2" d="M317.9,273.8l1.4,1.1M333.4,272.3l-1.6,-0.7M303,287.3l1.7,0.3M314.1,289.4l-1.5,0.9M285.4,299l1.1,-1.4M319.4,303.6l0.7,1.6M291.6,322.2l1.6,0.8M308.4,348.3l0.3,1.7M307.4,372.4l0.5,1.7M304.1,383.8l1,1.4M294.1,387.9l-1.6,-0.7M293.9,395.1l0.4,-1.7M437.2,250.2l0,1.6M457.6,250.2l0.6,1.5M453.1,269.3l0.9,-1.3M453.7,286.3l0.3,1.6M432.6,295.7l1.4,-0.7M425.6,299l-1,1.2M458.7,329.4l-0.8,1.4M419.4,368.3l-0.2,1.6M454.1,375.2l-0.1,-1.6M458.3,379l-1.3,0.9"/>
<path stroke="#005eff" stroke-width="1.2" d="M313,330l-0.2,1.7M423.1,258l-0.5,-1.5M458.8,280.3l-1.6,0.1M459.1,305.6l0.3,1.6"/>
<path stroke="#ff5e00" stroke-width="1.2" d="M317.8,367.2l0.4,-1.7M369.3,294.5l0.6,-1.5M383.7,303.9l-1.6,0.4M393.8,321.9l-1.4,0.8M403.7,341.7l1.6,0.1M372.2,370.7l1.5,-0.5M445.8,244.3l1.5,-1.3M420.2,265.1l0.7,-1.9M459,262.4l-0.1,2M476.2,263l0.5,-1.5M422.5,269.3l0.3,2M455.3,285.6l0.3,2M447.1,320.2l-1.1,-1.7M421.3,344.2l-0.8,1.8M422.3,355.9l-1.3,1.5M460.6,353.9l0.6,1.9M449.4,369.8l0.2,-1.6M465.3,376.5l0.7,-1.4M436.7,382.6l0.4,-2M435.2,388.2l0.9,-1.8M443.4,392.5l0.1,2"/>
</g>
<rect x="486.1" y="222.3" width="9.8" height="192.1" fill="url(#jet)" stroke="#555" stroke-opacity="0.55" stroke-width="0.35"/>
<text x="497.4" y="224.1" font-family='"Liberation Sans", "DejaVu Sans", sans-serif' font-size="2.9" fill="#333">0.05</text>
<text x="497.4" y="272.1" font-family='"Liberation Sans", "DejaVu Sans", sans-serif' font-size="2.9" fill="#333">0.025</text>
<path d="M495.9,270.4h-1.2" stroke="#333" stroke-width="0.4"/>
<text x="497.4" y="320.0" font-family='"Liberation Sans", "DejaVu Sans", sans-serif' font-size="2.9" fill="#333">0</text>
<path d="M495.9,318.4h-1.2" stroke="#333" stroke-width="0.4"/>
<text x="497.4" y="368.0" font-family='"Liberation Sans", "DejaVu Sans", sans-serif' font-size="2.9" fill="#333">-0.025</text>
<path d="M495.9,366.4h-1.2" stroke="#333" stroke-width="0.4"/>
<text x="497.4" y="415.9" font-family='"Liberation Sans", "DejaVu Sans", sans-serif' font-size="2.9" fill="#333">-0.05</text>
<text x="390.6" y="430.4" text-anchor="middle" font-family='"Liberation Serif", "DejaVu Serif", serif' font-size="10.7" letter-spacing="0.4" fill="#111">(<tspan font-weight="bold">d</tspan>)</text>
<rect x="18.8" y="438.3" width="203.9" height="192.0" fill="#8fff70"/>
<g fill="none" stroke-linecap="round" filter="url(#sf)">
<path stroke="#00b7ff" stroke-width="2.2" d="M99.3,468.3l0.3,0.5M119.3,467.8l-0.3,0.5M100.9,474.3l-0.4,0.4M134.1,474.1l0.6,-0.1M111.5,485.9l-0.6,0M115.1,485.5l-0.4,0.4M126.1,503.8l-0.4,-0.5M148.5,504l0.6,0.2M150.8,509.2l-0.4,0.4M131.6,514.5l-0.3,0.5M135.7,514.8l0.4,0.4M106.8,520.7l-0.5,0.3M151,527.9l-0.6,0.2M102.4,533l0.3,-0.5M140.6,533l-0.6,-0.2M113.7,543.6l-0.5,0.4M136.9,557l0,0.6M140.5,563.9l0.5,-0.3M144.6,569l0.6,-0.1M149.8,569.2l0.6,-0.1M141.6,575.3l-0.6,-0.2M150,574.9l-0.4,0.5M113.7,585.9l0.6,-0.2M135.5,586.3l0.6,-0.1M150.6,586.8l0.6,-0.1M138.2,597.6l-0.5,0.3M105.2,601.4l-0.6,0.2M118,603l0.4,-0.4M150.8,611.3l0.4,-0.5"/>
<path stroke="#005eff" stroke-width="2.2" d="M104.4,468.9l-0.1,-0.6M124,467.7l0.4,0.4M110,474.2l-0.6,-0.2M124.6,474.3l-0.4,0.5M110.3,491.9l-0.5,-0.3M145,491.2l-0.3,0.5M139,498.1l0.3,-0.5M120.2,515.4l0.1,-0.6M125.8,514.9l-0.5,0.4M139.6,516.7l0.2,-0.6M136.2,521.6l-0.3,0.5M145.3,522.1l0.5,-0.3M107.5,532.7l-0.6,-0.2M136.4,533.4l0,0.6M107.7,538.2l0,0.6M142,544.9l-0.6,0.2M127.4,549.9l-0.4,0.4M136.9,550.9l-0.5,-0.3M117.9,556l-0.6,0M131.1,563.1l0.4,-0.5M135.1,562.7l0.6,-0.2M132.2,568.7l0.2,-0.6M103.1,573.2l0.5,-0.4M113.4,579.5l0.2,-0.6M118.8,578.8l-0.5,0.3M122.7,579.4l-0.5,0.4M118.3,586.6l-0.4,-0.5M109.5,590.1l-0.5,0.4M133.1,596.8l-0.2,0.6M115.1,603l-0.6,0.2M132.9,610.3l0.6,-0.2"/>
<path stroke="#0032ff" stroke-width="2.2" d="M108.4,469.6l0.5,-0.3M138.8,468.9l0.6,0M140,473.9l-0.6,0.2M144.5,479.4l-0.4,0.5M100.9,486.2l0.5,-0.4M105.3,487.1l0.1,-0.6M126,486.1l-0.3,0.5M100.9,493l0.4,-0.4M129.8,492.7l0.1,-0.6M134.6,492.4l-0.6,0M130.5,498.6l0.4,-0.5M148.6,497.6l0.5,-0.3M129.3,509.5l0.4,-0.4M122.1,520.6l-0.6,0.1M149.9,534l0.3,-0.5M125.3,545l0.4,-0.4M149.2,546.3l0.4,-0.5M121,550.6l0.6,0.1M149.6,550.3l-0.2,0.6M108.6,554.8l-0.2,0.6M121.6,557.6l0.2,-0.6M107.7,562.6l0.5,-0.3M118,567.7l0.6,0.1M136.1,569.8l0.2,-0.6M145.1,574.8l0.6,0.1M142.2,581.4l-0.5,-0.3M118.3,591.3l-0.4,-0.4M136.5,591.8l-0.2,0.6M123.9,608.6l-0.6,0.1M127.9,609.1l-0.4,0.5M145.9,610.6l0.6,-0.2"/>
<path stroke="#0000d8" stroke-width="2.2" d="M114.8,469.4l-0.6,-0.1M149.2,474.6l-0.6,0.1M145,484.9l-0.4,0.4M115.7,497.1l-0.4,0.4M144.9,498.5l0.5,-0.3M145.8,503.3l-0.6,0.2M116.1,510.8l0.1,-0.6M124.5,510.6l0.5,-0.3M116.8,533.3l-0.6,0M144.9,539.6l0.5,-0.4M131.1,544.6l-0.6,-0.1M112.4,549.6l-0.3,0.5M145.3,556.8l0.6,0M127.8,573.8l-0.3,0.5M136.5,574.1l-0.1,0.6M105,578.9l-0.5,-0.3M108.9,579.6l0.6,0M128.2,593l-0.1,-0.6M127.8,603.5l-0.6,-0.1M146.3,604.1l0.2,0.6"/>
<path stroke="#11ffee" stroke-width="2.2" d="M129.6,468.8l-0.5,0.3M109.4,480l0.6,-0.1M148.5,486.7l0.6,-0.1M121.2,497.3l-0.6,0M134.9,504l0.2,-0.6M144.9,515.3l0.5,0.3M125.9,533l-0.6,0.2M112,539.3l0.6,-0.2M132,538.4l-0.5,0.3M116.9,545.6l0.2,-0.6M145.3,562.7l-0.3,0.5M128.2,568.2l-0.5,-0.4M146.2,586.9l0.5,-0.3M145.8,599.2l0.6,-0.2"/>
<path stroke="#008bff" stroke-width="2.2" d="M135.5,468.7l-0.6,0.1M130.1,474.6l0.2,-0.5M100.4,479.6l-0.2,0.6M138.9,480.7l0.3,-0.5M120.4,492.1l0.5,0.3M124.5,498.3l0.4,-0.5M114.7,503.4l0.5,-0.3M105.5,527.3l0.6,0M113.1,527.2l-0.6,0M120.3,527.5l0.5,-0.4M126.4,528.2l0.5,-0.4M139.4,540.2l0.5,-0.3M102.8,544.5l0.2,-0.6M140.1,557l0.5,-0.3M113,562.1l0,-0.6M151.3,563.7l-0.5,0.3M123,568.9l0.2,-0.6M141.1,568.2l0.6,0.2M127,580.5l-0.3,-0.5M106.1,584.3l-0.6,0M113.5,590.7l0.6,0.1M104.2,597.5l0.3,-0.5M132.3,603.1l-0.3,0.5"/>
<path stroke="#00e3ff" stroke-width="2.2" d="M149.6,467l-0.2,0.6M148.2,491.3l0.5,0.3M133.9,509.9l0.5,-0.4M145.5,509.9l-0.3,0.5M131.9,521.4l-0.5,-0.2M135.3,526.8l0.1,0.6M112.7,532.8l-0.2,-0.6M135.9,538.6l-0.5,0.3M140.8,550.3l-0.4,0.5M102.7,555.9l0.6,0M131.8,556.5l-0.6,0.2M117.2,561.7l-0.4,0.5M125.8,563l0.5,-0.4M108.9,568.5l0.5,-0.3M123.7,573l-0.4,0.4M123.6,586.2l-0.6,0.2M133,586.2l-0.3,0.5M141.9,604.6l0,-0.6M137.8,609.6l-0.6,0.1"/>
<path stroke="#0000ac" stroke-width="2.2" d="M105.9,475.1l-0.6,-0.2M120.2,474.2l-0.6,0M129.9,485.3l0.6,0.2M105.9,491.7l0.6,0.1M120.7,509.3l-0.6,0.1M112,514.8l-0.4,0.5M141.6,526.7l-0.5,0.3M122.3,544.7l0.1,0.6M103.5,549.3l0.6,0.2M149.9,557.9l-0.6,0M102.8,566.8l0.6,0M142.3,585.8l-0.5,0.4M131.5,593l0.3,-0.5M120,596.7l-0.3,0.5"/>
<path stroke="#0006ff" stroke-width="2.2" d="M143.8,474.3l-0.2,-0.6M148.5,479.2l-0.1,0.6M111.8,504.3l-0.6,0.1M119.7,503.8l0.6,-0.1M140.2,503.9l0.5,-0.4M100.8,510.6l0.3,-0.5M140.1,510.1l0.6,0.2M116.5,521.2l-0.4,0.5M125.6,520.6l-0.6,0.1M122.7,538.2l-0.4,0.4M137.3,544.9l-0.5,0.3M145.8,551.9l0.2,-0.6M126,557l0.5,-0.3M113.8,567.1l-0.6,0M136.3,580l0.6,0M145.6,580.8l0.3,-0.5M151.1,594.2l-0.2,-0.6M127.3,597.5l0.6,-0.2M110.7,602.1l-0.5,0.3M123.9,602l-0.1,0.6M140.7,611l0.3,-0.5"/>
<path stroke="#eeff11" stroke-width="2.2" d="M119.2,480.3l0.3,-0.5"/>
<path stroke="#3dffc2" stroke-width="2.2" d="M124.8,479.7l-0.5,0.3M111.2,497.7l-0.5,0.3M115.9,514.6l0,0.6M101.3,526.4l0.6,0.2M116.6,550.6l0.1,-0.6M136.3,603.8l0.4,0.4"/>
<path stroke="#000080" stroke-width="2.2" d="M125.9,492.2l-0.6,0.2M105.4,503.6l0.6,-0.2M130.3,504.6l0.4,-0.4M101.5,515.4l-0.3,0.5M107.5,514.5l-0.6,0.2M117.9,526.4l-0.6,0.1M144.4,534.1l0,-0.6M117.8,538.2l-0.6,0.1M126.1,539.3l0.3,-0.5M118.2,573.7l0.3,-0.5M132.6,579.3l-0.5,0.3M114.5,597.1l0.3,-0.5"/>
<path stroke="#96ff69" stroke-width="2.2" d="M105.7,497.1l-0.6,0.2"/>
<path stroke="#69ff96" stroke-width="2.2" d="M148.3,515.8l0.6,-0.1M148.8,522.3l0.5,-0.3M130.6,550l-0.1,0.6M127.8,585.5l0.6,0M105.5,590.9l-0.5,0.3"/>
<path stroke="#ff0600" stroke-width="2" d="M27.6,453.9l0.2,0.9M35.5,453.9l-0.8,0.5M39,455.2l0.9,0.1M62,460.4l0.7,-0.6M66.1,467.3l0.7,-0.6M34.2,473.7l0.8,-0.4M38.3,478.8l0.3,-0.9M80,499.9l-0.9,-0.3M54.2,507.2l-0.8,-0.4M51.3,513.1l-0.3,0.8M36.7,520.4l0,-0.9M73.9,541l-0.9,-0.1M58.6,554.9l-0.5,-0.7M35.2,557.4l0.1,0.9M45,575.4l0.3,0.8M51.3,583.1l-0.9,0M67.5,580.9l-0.1,0.9M78.2,597.8l-0.1,0.9M59,608.5l0.2,0.9"/>
<path stroke="#d80000" stroke-width="2" d="M62.7,455.6l-0.5,0.8M57.9,465.8l0.9,0M71.8,468.1l0.3,-0.9M28.2,484.4l-0.6,-0.6M50.2,489.4l0.6,-0.7M43.8,495.5l0.4,-0.8M58.4,503.9l-0.1,-0.9M73.9,501.3l-0.9,0M46.9,509.4l0.7,-0.5M63.2,514.8l-0.7,-0.5M38.9,519.3l0.9,-0.3M67.3,523.4l0.9,-0.1M77.8,523.4l0.6,0.6M48.6,570.5l-0.7,0.6M74.4,581.8l0,0.9M29.8,588.3l0.4,0.8M80,586.6l-0.1,0.9M37.4,592.8l-0.9,0.1M48.4,592.3l-0.9,0.3M65.6,605l-0.9,-0.2M50.6,610.6l-0.2,0.9"/>
<path stroke="#ff3200" stroke-width="2" d="M74.5,455.7l-0.2,0.9M79.1,454.2l0.7,0.5M66.7,459.2l-0.2,0.9M45.4,467.4l0.3,0.9M52.1,473.2l-0.9,0.2M70.3,472.4l-0.7,-0.5M54.1,488.7l0.9,0.1M78.9,497.4l0.8,-0.4M50.4,501.5l0.5,-0.8M69.3,501.2l0.4,0.8M29.1,524l-0.8,0.5M50.4,526l0.9,-0.1M73,525.7l-0.8,-0.5M75.2,530.7l-0.6,-0.7M36.4,540.3l-0.8,0.5M81.6,539.8l-0.9,0.1M30.6,547.4l-0.9,0.2M44.1,549.9l0.4,-0.8M52.5,549.8l0.5,-0.8M39.7,552.7l-0.6,-0.7M27.9,564.1l0.5,0.7M59.2,566.5l-0.8,-0.3M55.9,570.7l0.8,-0.4M61.4,575.5l0,-0.9M73.8,575.6l0.8,0.4M68.6,585l0.2,0.9M74.6,588.3l0.9,0M64.1,594.4l-0.8,-0.4M35.5,598.7l0.4,-0.8M46.8,599.1l0.5,0.7M62.7,598.7l0.5,-0.8M71.5,609.7l-0.9,0.2"/>
<path stroke="#800000" stroke-width="2" d="M29.5,460.4l0.9,-0.2M63.9,474.9l-0.6,-0.6M82.1,477.6l-0.7,-0.6M34.3,484.2l-0.9,0.3M77.8,488.9l0.9,0.3M59.9,512.1l-0.7,0.5M68.8,517.6l0.9,0M64.1,531.1l-0.9,-0.1M37.8,564.1l-0.8,-0.4M73.5,563.1l0.4,0.8M62.5,569.5l-0.7,0.6M29.8,583.6l0.9,-0.2M40.5,585.5l-0.5,0.8M46,587.6l-0.9,-0.3M56.8,593.4l0.8,-0.3M30.6,598l0.4,0.8M70.4,597.1l0,0.9M45.1,611.7l0.9,0.2M73.5,609.3l0.5,0.8M81.2,611.2l0.8,-0.5"/>
<path stroke="#ffb700" stroke-width="2" d="M38.6,461.2l-0.1,-0.9M82,485.1l-0.9,-0.3M51.6,495.6l-0.7,-0.6M59,493.9l-0.6,0.7M38,502.2l0.8,0.3M41.1,507.3l0.9,-0.1M68,508.6l0.9,-0.2M37.3,514.4l-0.9,-0.2M33.7,531.3l0.5,-0.7M39.8,531.2l0.9,0M50.2,530.3l0.5,-0.7M29.4,535.5l-0.3,0.9M61.6,542.3l0.1,-0.9M27.3,554.5l0.8,0.3M46.9,554l0.1,-0.9M66,553.9l0.9,0.2M79.6,571l-0.7,0.6M41.9,581.1l0.9,-0.1M35.8,587.7l0.4,0.8M75.7,599.6l0.6,0.7M31.1,607.6l0.2,-0.9M50.9,604.1l-0.1,0.9M69.7,606l0.7,-0.6M27.3,610.6l0.9,0.3"/>
<path stroke="#c2ff3d" stroke-width="2" d="M56.5,460.6l0.9,0.2M33.9,546.6l-0.7,0.5M40.3,548l0.8,-0.3M67.7,547.1l0.1,-0.9M50.5,557.8l0.7,0.6M65.1,582.6l-0.9,0.2M39.4,593.8l0,-0.9M69.9,592.7l0,0.9M75.8,592.4l-0.7,-0.5M199.6,540.6l0,0.6"/>
<path stroke="#eeff11" stroke-width="2" d="M75.5,460.4l-0.8,0.3M78.7,460.2l0.1,0.9M77.9,471.3l-0.2,0.9M60.4,488.8l0.7,0.6M67.3,490.6l-0.8,0.4M77.8,518.3l0.8,0.3M45.1,558.9l-0.5,-0.7M38.5,572.3l0.7,-0.6M35.8,581.1l-0.8,0.4"/>
<path stroke="#ffe300" stroke-width="2" d="M29.2,467.3l-0.7,-0.5M38.5,466.6l0.4,0.8M80.5,467.8l0.1,-0.9M75.3,489l-0.8,-0.4M52.7,518.7l0.8,0.5M73,516.9l0.2,0.9M39.5,523.6l0.3,0.8M48.7,534.8l-0.8,0.5M46,543.1l-0.9,0.1M68.5,540.1l0.2,0.9M27.9,557.5l0.7,0.5M39.3,607.1l0.7,-0.6"/>
<path stroke="#ff8b00" stroke-width="2" d="M34.6,467.4l0.8,0.5M46.2,474.9l0.7,-0.6M31.7,479.9l0.9,-0.3M63.4,480.3l0.5,-0.8M63.4,483.8l-0.6,0.6M26.9,514.6l0.6,-0.7M62.2,518.9l0.4,0.8M80.1,531.4l-0.3,-0.9M28.8,542.2l-0.7,0.5M51.1,555l-0.8,-0.3M80.3,553.3l-0.2,0.9M67.2,557.7l0.8,-0.4M73.1,558.1l0.2,-0.9M41.2,565l0.8,-0.4M47.3,566l-0.9,-0.2M33.5,577l-0.1,-0.9M80.7,577.3l0.2,-0.9M62.8,588.3l0.9,-0.1M53.9,594.5l-0.8,0.5M53.9,598.6l-0.9,0M40,611.2l-0.1,-0.9"/>
<path stroke="#ff5e00" stroke-width="2" d="M61.4,467.4l0.9,0.3M74.4,473.2l-0.9,-0.2M74.3,479.3l-0.9,0.1M44.5,483.5l-0.7,0.6M59.8,485l-0.9,-0.2M75.8,483.9l-0.3,0.9M36.1,498.5l-0.1,-0.9M39.2,496.4l0.8,-0.5M75,494.4l-0.8,-0.4M79.5,507.3l0.8,0.5M45.3,514.7l-0.6,-0.7M72,512.3l0.6,-0.7M57.7,520.9l-0.4,-0.8M32.9,525.2l0.5,0.8M59.3,529.8l-0.8,0.4M70.2,528.9l0,0.9M34,537.2l0.8,0.4M66.2,535.6l0.7,-0.6M80.7,536l0.2,0.9M62,555l-0.6,-0.7M70.4,565.4l-0.8,-0.4M28.8,571l-0.8,0.5M35,568.9l-0.6,0.7M50.2,569.9l0.9,-0.2M76,571.3l0.2,-0.9M28.7,576.9l0.3,-0.8M59,583.2l0.2,-0.9M36.3,604.7l-0.8,-0.3M80.8,603.6l-0.8,-0.5M35.3,611.1l0.2,-0.9M65.8,611.9l-0.6,-0.6"/>
<path stroke="#96ff69" stroke-width="2" d="M29.2,472.4l0.9,0.1M206.1,485.5l0.3,-0.5M179.2,516.1l-0.3,-0.5M212.1,559.6l-0.3,0.5"/>
<path stroke="#ac0000" stroke-width="2" d="M44.4,479.4l0.8,0.3M29.1,490.7l-0.6,-0.7M44.1,489.8l0.5,-0.8M31.2,502.9l-0.8,-0.5M64.8,503l-0.6,-0.7M56.9,505.8l-0.8,0.5M75.2,507.8l0.2,-0.9M73.2,536.9l-0.7,-0.6M74.9,552l-0.8,0.4M58.2,557.4l0.3,0.8M40.2,577.1l0.6,-0.7M50.3,587.9l0.3,0.9M58.7,598.6l-0.8,0.4"/>
<path stroke="#69ff96" stroke-width="2" d="M43.7,517.7l0.8,-0.4M46.5,605.6l-0.9,-0.3M191.1,485.5l-0.5,0.3M217.2,551.8l-0.5,0.3M216.9,565.7l-0.1,0.6"/>
<path stroke="#005eff" stroke-width="2" d="M172.4,461.4l0.1,-0.6M182.9,461.3l0.3,-0.5M179.5,466l0,0.6M211.8,464.4l-0.3,0.5M168,474.1l-0.3,-0.5M204.8,473.2l0.2,-0.5M168.5,479.6l0.2,0.6M163.4,497.3l-0.5,0.3M200.1,497l-0.6,0M201.4,501.8l-0.2,0.6M216.5,503.2l-0.4,0.4M215.3,509.2l0.3,-0.5M201.2,521.3l0.1,0.6M212,547l-0.2,-0.6M215.4,560.2l0.3,-0.5M204.5,565.8l0.1,0.6M179.7,577.3l-0.1,0.6M216.7,579.3l0.1,-0.6M185.2,596.3l0.2,0.6M184.5,604.4l0.3,-0.5M190.1,601.7l0.1,0.6M215.5,603l-0.2,0.6M194.5,616.9l0.4,-0.5M206.2,616l-0.3,0.5"/>
<path stroke="#000080" stroke-width="2" d="M178.7,459.4l-0.1,0.6M215.7,457.9l0.1,0.6M211.5,471.5l-0.2,0.6M212.1,508.1l-0.1,0.6M195.1,527.3l0.1,0.6M205.8,592.1l0.3,-0.5M212.3,615l-0.5,0.4"/>
<path stroke="#008bff" stroke-width="2" d="M188,460.5l0.5,-0.4M211.7,457.9l0,0.6M179.6,472.5l0.1,-0.6M183.8,472.7l-0.1,-0.6M195.6,472.5l-0.1,-0.6M173.3,490.9l-0.2,0.6M184.3,504l0.2,-0.6M201.4,509.4l-0.5,0.3M206.7,515.6l0.1,0.6M206,527.4l-0.1,0.6M189.6,541.9l-0.2,-0.6M161.7,548.6l0.2,-0.6M193.8,559.8l0.3,0.5M210.5,566.2l0.5,-0.4M184.4,573.5l0.3,-0.5M216.1,571.3l0,0.6M201,579.3l-0.3,-0.5M177.4,584.4l0.3,-0.5M206.2,584.1l0,0.6M184.9,591.9l0.1,-0.6M200,590l-0.1,0.6M174.4,602l-0.3,0.5M211.7,601.7l-0.1,0.6M178.8,615.2l-0.3,0.5M190,614.7l-0.2,0.6"/>
<path stroke="#0006ff" stroke-width="2" d="M194,464.6l0.3,0.5M216.5,472.9l0.2,-0.6M205.3,476.8l-0.1,0.6M216.6,478.5l0.2,-0.6M173.1,485.5l0.1,0.6M184,491.2l-0.3,0.5M185.4,498.2l-0.5,0.3M189.9,503.2l-0.6,0.1M193.9,516.2l0.1,0.6M211.9,514.9l-0.4,0.5M194.8,522l-0.1,0.6M206,523l-0.2,-0.6M163.6,534.4l-0.1,0.6M194.8,535.6l0.3,-0.5M166.9,542.7l0.3,-0.5M178.1,541.5l0.2,-0.6M206.3,560.8l-0.2,-0.5M189.2,565.6l0.3,-0.5M211,577.9l-0.4,0.5M200,595.7l-0.5,0.3M194.8,603.3l0.5,0.3M173.7,616.7l0.2,-0.5"/>
<path stroke="#00e3ff" stroke-width="2" d="M216.1,465.5l0.3,-0.5M215.5,491.1l0.4,-0.4M216.3,495.7l-0.5,0.3M205.5,503l-0.5,-0.3M215.4,527.7l0.2,0.6M183.1,540.2l0,0.6M210.5,540.6l-0.1,0.6M173.5,579l-0.2,-0.6M189,578l0.6,-0.1M196.3,584.2l-0.4,0.5M193.9,610.6l0.2,-0.5"/>
<path stroke="#0000ac" stroke-width="2" d="M174.6,471.9l0,0.6M211.8,484.5l-0.5,0.3M177.4,572.8l0.4,-0.4M217.5,610.7l0,-0.6"/>
<path stroke="#11ffee" stroke-width="2" d="M201.3,472.3l-0.1,-0.6M193.6,484.6l0.3,-0.5M216.6,483l0,0.6M216.2,539.3l-0.1,0.6M200.7,545.7l-0.3,0.5M190,609.4l-0.5,0.3M206.5,608.9l-0.5,0.4M200.5,615.7l-0.5,0.4"/>
<path stroke="#0032ff" stroke-width="2" d="M188.9,479l-0.3,0.5M169.3,490.9l-0.5,0.4M204.7,497.7l0.6,-0.1M210.9,497.2l-0.4,0.4M183.6,510l-0.2,0.6M168.1,521.2l-0.1,0.6M200.3,528.8l-0.2,-0.6M200.6,534.2l-0.2,0.6M206.4,535.1l0.1,-0.6M215.7,534l0,0.6M194.4,541l0.2,-0.6M206.2,546.1l0.3,0.5M178.8,553l-0.4,0.4M168.8,571.8l0.4,-0.4M206.3,571.6l-0.1,0.6M168,589.8l-0.6,0M195.3,597l0,-0.6M204.5,596.8l0,0.6M200.6,604.6l-0.4,-0.5M183.9,608.9l0,0.6M210.9,609.5l-0.1,0.6"/>
<path stroke="#00b7ff" stroke-width="2" d="M194.5,477.1l-0.4,0.4M199.9,483.3l-0.5,0.3M210.4,491.4l0.4,-0.4M172.5,505.2l0,-0.6M194.2,510.1l0,-0.6M199,516l0.3,-0.5M215.4,516.2l0.2,-0.6M179.1,523l0.2,-0.6M206.6,540.1l0.1,0.6M216.4,545.8l-0.3,0.5M183.6,559.5l0.3,-0.5M195.3,578.7l-0.3,0.5M169.1,585.2l0,-0.6M211.8,583.4l-0.3,0.5M217.4,584.6l-0.6,-0.2M215.4,589.4l-0.1,0.6M172.9,596.3l-0.5,0.3M189.2,596.7l0.2,-0.5M210,598.5l0.2,-0.6M215.2,597.2l0.3,0.5M179.2,608.9l-0.4,-0.4"/>
<path stroke="#0000d8" stroke-width="2" d="M210.2,521.4l0.6,-0.2M195.9,554.6l0.1,-0.6M210.1,554.4l0.1,-0.6M173.1,565.7l0.5,-0.3M205.2,603.6l-0.1,0.6"/>
<path stroke="#3dffc2" stroke-width="2" d="M184.6,553.5l-0.6,0.2M200.5,609.3l-0.4,0.4"/>
<path stroke="#0032ff" stroke-width="1.8" d="M44.5,455.2l-0.6,0.4M52.9,466.8l-0.6,-0.3M40.1,473.7l0.1,-0.7M27.3,476.8l0.1,0.7M39.7,484.1l0.6,-0.3M68.6,483.3l0.4,-0.6M45.2,502.3l0.7,0.1M68.8,512.4l0.5,-0.5M57.3,523.7l0,0.7M61.2,534.9l0.2,0.7M78.9,591.6l-0.3,0.6"/>
<path stroke="#005eff" stroke-width="1.8" d="M49.1,456.2l0.2,-0.7M57.5,478.9l-0.3,0.6M62.3,506.6l-0.6,-0.4M44.8,529.7l-0.2,0.7M40.7,537.9l0.5,-0.5M41.3,543.2l0.7,0.1M52,542.3l-0.5,-0.5M59,543.5l0.3,-0.6M56,545.8l-0.1,0.7M60.9,549l0.3,-0.6M73.1,548.6l0.7,-0.1M63.4,565.5l-0.7,0.1M68.7,575.6l-0.6,-0.4M47.2,581.7l0.2,0.7M80.7,583.4l0.4,-0.6"/>
<path stroke="#00b7ff" stroke-width="1.8" d="M55.9,453.8l-0.6,0.3M29.1,494.5l-0.6,0.3M33.2,500.6l0.4,0.6M33.2,508.8l0.5,-0.5M41,513.9l0.2,-0.7M28.5,519.7l-0.6,0.3M59.5,534.4l-0.6,0.3M36.2,554l-0.7,0.1M80.2,558.1l0.4,0.5M67.8,570.9l0,0.7M50.4,576.3l-0.2,-0.7M39.2,597.8l0.2,0.7"/>
<path stroke="#00e3ff" stroke-width="1.8" d="M67.1,455.2l-0.3,-0.6M49.1,477.8l0.5,0.5M51.2,483.7l-0.3,0.6M45.6,525.7l0.7,0.1M80.6,545.7l0.4,0.6M38.9,558.8l0.2,-0.7"/>
<path stroke="#0006ff" stroke-width="1.8" d="M35.9,460.1l-0.2,0.7M26.4,507.1l0.7,-0.2M31,530.8l-0.7,-0.1M52.3,538.2l-0.2,-0.7"/>
<path stroke="#69ff96" stroke-width="1.8" d="M44.2,461.8l0.5,0.5M111.9,519.7l0.3,0.8"/>
<path stroke="#008bff" stroke-width="1.8" d="M49.3,462.1l0.6,-0.4M55.9,472.9l-0.6,0.4M67.6,478.9l-0.1,-0.7M33,491.5l0,-0.7M39,489.4l-0.5,-0.5M69.1,495.1l-0.5,-0.5M80.6,514.1l0.6,-0.4M62.9,523.7l0.1,-0.7M64,557.9l-0.7,0M78.4,562.4l-0.3,0.7M59.9,602.9l-0.2,0.7"/>
<path stroke="#11ffee" stroke-width="1.8" d="M60.1,496.7l0.6,0.3M51.4,563.9l0.1,0.7M56.7,575.3l-0.5,0.4M72.9,606.6l0.4,-0.5"/>
<path stroke="#0000d8" stroke-width="1.8" d="M58.1,587.2l-0.2,0.7M31.3,592.8l-0.6,-0.4"/>
<path stroke="#d80000" stroke-width="1.8" d="M145.6,467.7l-0.6,0.5M110.2,584.8l-0.2,0.8M142,591.5l-0.2,0.8"/>
<path stroke="#ff5e00" stroke-width="1.8" d="M116.3,473.7l-0.7,0.3M105,480.9l0.8,0.2M140.8,521.4l-0.8,-0.1M130.7,527.9l-0.1,-0.8M102.9,539l-0.6,-0.6M104.2,561.4l-0.5,0.6M133.1,574l-0.8,0.1M109.2,596l0.7,0.4"/>
<path stroke="#c2ff3d" stroke-width="1.8" d="M114.8,480.6l-0.4,-0.7"/>
<path stroke="#ff8b00" stroke-width="1.8" d="M130.6,480.9l-0.8,-0.1M115.4,491.4l0,0.8M100.4,497.8l0.7,0.3M136.3,497.3l-0.6,0.5M110.3,510.3l0.3,-0.7M108.4,543.7l-0.2,0.8M108.7,549.7l-0.5,0.6M151.3,580.5l-0.7,0.4M124.1,597.8l-0.8,0"/>
<path stroke="#ffb700" stroke-width="1.8" d="M135.3,479.3l-0.3,0.7M134.2,485.6l-0.3,0.7M138.3,492.8l0.8,-0.2M123.4,563.3l-0.7,-0.4M123.2,591.5l-0.5,0.6M151.1,605.6l-0.8,0"/>
<path stroke="#ff0600" stroke-width="1.8" d="M119,486.5l0.7,-0.3M145.4,544.6l0.5,0.6"/>
<path stroke="#eeff11" stroke-width="1.8" d="M141.1,486.1l-0.8,0M130.3,534.7l0.3,-0.7"/>
<path stroke="#ac0000" stroke-width="1.8" d="M100.5,504.5l0.6,-0.5M106.7,508.3l-0.3,0.7M109.9,573.3l-0.6,0.6M112.4,572.8l0.2,0.8"/>
<path stroke="#800000" stroke-width="1.8" d="M102.6,521.9l-0.8,-0.2M150.6,539.8l-0.7,0.3"/>
<path stroke="#ffe300" stroke-width="1.8" d="M144.7,528.1l0.8,-0.2"/>
<path stroke="#ff3200" stroke-width="1.8" d="M121,531.5l0,0.8M112.8,555.7l-0.5,0.6M145.9,593.1l0.8,-0.2M142.5,598.5l-0.5,0.6M150.2,599.2l0.2,-0.8"/>
<path stroke="#ff5e00" stroke-width="1.6" d="M163.9,462.3l0,-0.8M167.6,462.4l0.1,-0.8M163.8,474.2l-0.2,-0.8M211.6,503.6l0.4,-0.7M163.1,516.7l0.3,0.7M178.2,528.3l0.2,0.8M210.7,528.9l0.8,0M178.4,534.8l-0.3,0.7M162.1,542.4l0.5,-0.6M168.5,548.3l0.5,-0.6M178.2,548.9l0.1,-0.8M199.6,553.3l-0.4,0.7M178.5,560.9l-0.3,-0.7M167.7,567.4l0.3,-0.7M200.6,565.8l-0.2,0.8M163,571.5l-0.5,0.6M173.6,571.7l0.3,0.8M210.8,573.3l-0.2,-0.8M163.4,578.5l-0.6,0.5M185.1,577.4l-0.1,0.8M201,584.2l-0.5,0.6M163.3,597.7l0.3,-0.7M167.8,616.1l-0.8,0.2"/>
<path stroke="#ffb700" stroke-width="1.6" d="M195.7,458.4l0.3,0.8M184.2,466.8l0.7,-0.5M188.9,464.8l0.1,0.8M199.6,465.6l0.3,0.7M205.8,466.9l0.4,-0.7M162.5,481l0.3,-0.7M163.2,485.6l0.1,0.8M167.2,486.5l-0.1,-0.8M204.6,489.8l-0.1,0.8M174.5,497.9l-0.3,-0.8M189.1,497.3l-0.8,0M167.2,505.1l0,-0.8M195.7,501.9l0.1,0.8M162.7,509.9l-0.5,0.6M173,516.8l0,-0.8M173.9,522.9l-0.7,0.4M162.8,529.3l0.8,0.2M169.5,529.7l-0.6,-0.6M183.6,529l-0.4,-0.7M167.4,577.5l0.1,0.8M161.8,584.3l-0.1,0.8M173,609.4l-0.4,0.7"/>
<path stroke="#ffe300" stroke-width="1.6" d="M199.7,460.5l-0.2,-0.8M183,479.5l0.6,-0.5M182.5,485.9l0.8,-0.1M168.5,496.7l0.6,0.5M194.3,497.5l0.7,0.3M190.5,509.8l-0.5,0.6M189,535.4l-0.4,-0.7M162.9,553.7l-0.4,-0.7M168.9,558.7l-0.5,0.7M184.9,564.7l-0.7,0.3M172.4,584.8l0,-0.8M178.9,591l0.4,-0.7M190.2,589.7l-0.5,0.6M194.5,591.3l0,-0.8M169.4,596.1l-0.3,0.7M215.1,616l0.3,-0.8"/>
<path stroke="#96ff69" stroke-width="1.6" d="M206.3,459.3l-0.7,0.3M201.2,491.7l-0.1,-0.8"/>
<path stroke="#d80000" stroke-width="1.6" d="M162.4,467.8l-0.7,0.4M191.4,516.7l-0.8,-0.2M167.5,553.5l-0.5,0.6M206.9,554.4l-0.3,-0.7M178.6,564.6l-0.4,0.7M201.1,570.4l0.2,0.8M162.9,608.6l0.8,-0.2"/>
<path stroke="#69ff96" stroke-width="1.6" d="M169.2,466.9l-0.4,0.7"/>
<path stroke="#ff3200" stroke-width="1.6" d="M172.3,466.9l0.1,0.8M189.9,474l0.3,-0.8M179.1,478l0,0.8M162,490.5l-0.2,0.8M188.7,491.1l0.7,-0.4M163.4,503.6l-0.1,0.8M178.8,504l0.6,0.5M168.7,510.3l-0.5,0.6M178.5,509l0,0.8M204.5,508.7l0.3,0.7M188.5,523.1l0.3,-0.7M216.7,523.1l0.2,-0.8M190.4,528.2l-0.1,0.8M185.4,535.5l-0.1,-0.8M173.2,553.7l-0.3,-0.8M162.5,567.1l0.4,-0.7M194.9,571.3l0.1,0.8M204.8,577.4l0.6,0.5M185.5,585.4l-0.3,-0.7M167.5,610.4l0.2,-0.8"/>
<path stroke="#c2ff3d" stroke-width="1.6" d="M173.6,479l-0.2,0.8M184.2,522.9l0.4,-0.7M172.8,559.7l-0.2,-0.8M185.1,615.6l0.4,0.7"/>
<path stroke="#ff0600" stroke-width="1.6" d="M199.4,478.4l0,0.8M173.7,529.4l0.2,-0.8M173.7,546.8l-0.3,0.7M190,547.2l0.4,0.7M161.9,560.1l-0.3,0.7M190.4,559.5l0.2,0.8M200.6,560.8l0,-0.8M210,591.6l0,-0.8"/>
<path stroke="#ff8b00" stroke-width="1.6" d="M209.2,476.7l0.7,0.4M179.4,485.4l0.2,0.8M178.1,491.6l-0.4,-0.7M178,497.7l-0.3,-0.7M167.8,515.3l-0.5,0.6M161.7,522.9l0.2,-0.8M167.6,536.4l0.6,-0.5M184.3,546.9l-0.5,0.6M194.5,546.1l0.5,0.6M189.9,553.8l0.1,-0.8M194.3,565.9l0.8,-0.2M189.6,572.4l-0.4,0.7M189.9,585.8l0.1,-0.8M174.8,591.2l-0.7,0.3M162.5,602.5l-0.6,-0.5M168.4,603.2l0.3,-0.7M177.5,604.3l0.3,-0.7"/>
<path stroke="#ac0000" stroke-width="1.6" d="M195.6,491.5l0.4,-0.7"/>
<path stroke="#eeff11" stroke-width="1.6" d="M173.5,510.8l0.7,-0.4M184.1,516.2l-0.3,-0.8M172.5,535.8l0,-0.8M211.1,534.6l-0.3,0.7M173.2,539.6l0,0.8M163.3,590.6l0.2,-0.8M179,598.5l0.1,-0.8M163.1,615.6l-0.2,-0.8"/>
<path stroke="#005eff" stroke-width="1.2" d="M28.1,456h0M80.8,455.5h0M72.3,472.7h0M75.2,486h0M70.1,508h0M56.9,518.9h0M57.3,530.7h0M71.8,540.8h0M69.2,556.7h0M33.2,574.8h0M67.2,583.1h0M74.3,584h0M52.1,595.6h0M36.4,596.7h0M71.4,604.6h0M83,610h0M134.6,498.7h0M109.6,586.9h0M121.9,593.2h0M141.5,593.6h0M163.9,460.6h0M199.3,480.1h0M210.4,485.3h0M178.8,529.9h0M163.2,541.1h0M183.3,548.3h0M177.9,559.3h0M200.2,567.4h0M189.1,591h0M172.2,610.9h0M185.8,617.1h0"/>
<path stroke="#00b7ff" stroke-width="1.2" d="M33.7,455.1h0M63.4,468.1h0M31.4,472.7h0M36.2,472.8h0M64.5,478.4h0M72.1,479.6h0M80.4,476.2h0M32.2,484.9h0M57.6,484.6h0M62.1,490.2h0M63.3,501.4h0M52.2,506.3h0M75.7,505.7h0M73.4,510.6h0M41,518.7h0M27.2,525.2h0M42,531.4h0M70.2,531.1h0M28.8,537.6h0M36,538.2h0M46.8,536h0M79.4,540h0M28.5,547.8h0M67.8,544.9h0M47.2,551.8h0M60.9,571h0M61.4,573.3h0M33.9,582.2h0M39.3,587.4h0M69.9,594.9h0M63.8,596.8h0M34.3,603.9h0M63.4,604.6h0M39.6,609.1h0M50,612.7h0M64.2,610.4h0M69.3,610.1h0M133.8,469h0M108.4,473.6h0M114.3,474.5h0M128.5,480.6h0M108.7,491.1h0M115.3,493.6h0M124.3,492.9h0M132.8,492.5h0M140.4,492.3h0M102.2,503.2h0M105.9,515.1h0M100.6,521.3h0M146.8,527.6h0M101.4,537.4h0M112.4,544.7h0M126.5,543.7h0M130.3,551.8h0M146.3,550.3h0M104.4,556h0M111.4,557.4h0M127.5,556h0M130.2,557h0M136.7,558.8h0M104.6,567h0M104.5,572.2h0M112.9,574.9h0M138.1,579.9h0M104.4,584.2h0M115.4,595.6h0M141,600.1h0M126.9,610.5h0M204.7,460h0M179,479.7h0M167.1,484.8h0M161.7,492.2h0M201,490h0M161.5,511.2h0M189.7,516.2h0M177.7,536.3h0M188.1,534h0M169.5,546.9h0M210.5,571.7h0M167.6,579.2h0M184.9,583.8h0M179.8,589.6h0M163.9,596.1h0"/>
<path stroke="#11ffee" stroke-width="1.2" d="M41.2,455.5h0M78.9,462.4h0M39.4,468.6h0M72.5,466h0M62.3,473.3h0M61.8,485.4h0M79.9,484.4h0M45.3,488h0M51.6,487.6h0M56.3,489h0M71,517.6h0M73.3,519h0M71.1,524.5h0M42.3,547.2h0M38.3,551h0M49,554.1h0M57.3,553.1h0M73.5,556h0M74.5,565.1h0M40.1,570.8h0M46.9,571.9h0M76.5,569.1h0M41.6,575.4h0M45.7,577.5h0M65,588h0M56.7,599.6h0M77.2,601.3h0M40.9,605.6h0M143.9,469.1h0M99.6,475.5h0M138.3,474.4h0M147.5,474.8h0M120.2,478.9h0M123.3,480.5h0M109.8,485.8h0M125.1,487.7h0M139,486h0M107.6,491.9h0M129.9,491h0M109.8,498.6h0M124.4,516h0M140.2,515h0M146.4,516.2h0M146.8,521.2h0M111.3,527.2h0M116.2,526.5h0M121,533.7h0M150.9,532.6h0M113.7,538.8h0M117.4,544h0M129.4,544.4h0M141.6,556.1h0M102.7,563h0M121.5,562.3h0M142.7,568.9h0M129.5,585.5h0M137.2,586h0M103.9,591.7h0M147.5,598.6h0M136,609.8h0M199.4,458.8h0M196.6,490.1h0M195.8,498.1h0M163.1,505.3h0M180.2,505h0M167.6,511.7h0M166.7,516.6h0M183.5,514.6h0M162.2,521.3h0M190.1,529.9h0M169,535.4h0M195.5,547.5h0M166.3,554.8h0M198.8,554.8h0M190.8,561.2h0M163.3,565.6h0M195.9,565.6h0M188.7,573.8h0M206.1,578.5h0M215.6,614.4h0"/>
<path stroke="#eeff11" stroke-width="1.2" d="M42.7,456.4h0M45.7,463.3h0M63.7,458.9h0M80.7,465.6h0M125.3,468.9h0M111.1,479.8h0M148.3,480.9h0M105.6,485.4h0M122,492.9h0M141.6,502.9h0M126,509.7h0M122.7,550.9h0M179.5,467.7h0M167.1,472.7h0M183.5,471.1h0M217.1,477h0M184.2,485.7h0M194.6,483.3h0M162,498.1h0M183.9,499h0M214.9,496.5h0M184.9,502.5h0M204,502.1h0M179.7,521.5h0M163.3,536h0M215.7,535.6h0M194.9,539.4h0M178.3,547.2h0M196.1,553h0M205.7,559.3h0M190.1,564.2h0M216.6,567.3h0M190.6,577.6h0M194.5,580.1h0M206.1,585.7h0M199.8,591.6h0M185.8,597.9h0M211.5,603.3h0M205.2,610h0M210.7,611.2h0"/>
<path stroke="#ff8b00" stroke-width="1.2" d="M49.6,454.1h0M66.1,453.3h0M67.2,476.8h0M62,497.6h0M67.7,493.5h0M47.2,502.7h0M60.6,505.5h0M63.1,521.6h0M59.8,541.6h0M75.2,548.3h0M47.7,583.7h0M39.7,599.8h0M135.8,473.9h0M131.6,497.2h0M116.3,502.6h0M130.5,508.2h0M115.4,522.6h0M149.3,528.4h0M112.1,531.2h0M116.1,538.4h0M146.3,538.5h0M139.7,551.7h0M122.3,556h0M116.2,563.1h0M146.4,568.8h0M151.5,569h0M148.9,576.3h0M117.2,579.6h0M126.3,579h0M105.1,596.1h0M146.9,605.7h0M151.9,610h0M169,481.2h0M188,480.4h0M194.2,517.9h0M216,514.7h0M199.8,527.2h0M216,529.2h0M206.9,541.8h0M215.9,541h0M162.3,547.1h0M211.6,545.4h0M178.5,571.6h0M216.1,572.9h0M185.2,590.2h0M215.2,591h0M189.6,616.2h0M199.2,616.7h0"/>
<path stroke="#ffe300" stroke-width="1.2" d="M54,454.7h0M36.5,468.6h0M41.8,511.9h0M47.6,526.1h0M67,574.5h0M140.6,468.9h0M118.5,474.4h0M130.8,473h0M119.4,497.2h0M144.2,503.8h0M101.7,509.1h0M116.5,509.1h0M105.2,521.5h0M123.9,521.1h0M124.3,533.6h0M132.1,561.7h0M110.7,579.6h0M114,577.9h0M140.8,580.5h0M115.2,591.1h0M109.2,602.9h0M172.6,459.7h0M178.6,461h0M174.7,473.6h0M180,470.9h0M195.3,470.9h0M173.4,487.1h0M198.5,497.1h0M211.6,509.7h0M216.1,507.8h0M178.4,514.7h0M207,517.3h0M210.9,516.2h0M195.5,528.9h0M205.8,529h0M195.5,534.1h0M199.9,535.8h0M206.6,533.4h0M170,570.5h0M206.1,573.2h0M209.9,579.2h0M195.3,585.5h0M171.5,597.2h0M189.8,595.2h0M204.5,598.4h0M199.6,603.2h0M215,604.6h0M194.6,609.1h0M217.5,609.1h0M174.4,615.2h0M205.5,617.5h0M211,616.1h0"/>
<path stroke="#3dffc2" stroke-width="1.2" d="M61.5,457.5h0M38.3,459h0M66.2,461.3h0M73.4,461.2h0M33.8,479.3h0M79.8,489.5h0M58.3,501.7h0M28.2,512.8h0M43.9,513.1h0M58,513.3h0M63.1,520.9h0M69.5,523.2h0M44.3,531.7h0M73.8,529h0M67.8,534.2h0M81.2,538.1h0M29.7,558.8h0M29.2,565.9h0M29.4,574.8h0M36.8,589.6h0M51,590h0M39.4,591.6h0M73.9,591.2h0M143.7,486.2h0M149.7,492.2h0M107,502.9h0M135.4,502.3h0M150.1,504.6h0M111.1,508.3h0M149.5,510.3h0M110.9,516.1h0M120.6,513.7h0M121.7,526.4h0M107.6,540h0M146.8,546.3h0M150.4,545h0M126.2,551.2h0M108,556.5h0M116.2,555.9h0M123.6,567.2h0M132.6,567h0M119.2,572.2h0M131.2,580.3h0M149.5,581.6h0M148,592.6h0M141.9,602.8h0M134.6,609.8h0M196.3,460h0M160.9,468.6h0M189,466.5h0M179.9,487h0M177.3,496.2h0M187.4,497.4h0M189.3,511h0M161.3,561.7h0M216.2,558.8h0M168.4,565.8h0M195.1,573h0M179.5,578.9h0M194.5,589.6h0M168.8,597.7h0M166.1,616.6h0"/>
<path stroke="#69ff96" stroke-width="1.2" d="M74.1,457.9h0M44.7,493.4h0M73.1,493.4h0M50.5,515.1h0M34,527.1h0M40.3,525.7h0M52.6,525.6h0M61.8,540.1h0M45.2,565.6h0M68.4,564.4h0M52.4,569.3h0M49.1,583h0M62.9,583.1h0M30.8,590.3h0M62.1,593.3h0M74.7,611.2h0M119,509.7h0M130.9,574.3h0M136.2,575.9h0M128,591.2h0M150.7,597.1h0M167.7,460.7h0M206.5,465.4h0M193.3,478.3h0M216.6,484.6h0M183.3,492.7h0M188.3,503.6h0M194.2,508.5h0M163.7,518.3h0M212.4,528.9h0M172.4,534.1h0M173.2,541.3h0M177.7,554.2h0M174.2,573.3h0M215.9,598.7h0M169,601.6h0M190.3,603.4h0"/>
<path stroke="#008bff" stroke-width="1.2" d="M31.6,459.9h0M46.1,469.5h0M68.5,471.1h0M38.9,476.7h0M27.6,489.1h0M40.1,503h0M61.4,513.5h0M32.1,547.9h0M60.7,553.2h0M73,553.1h0M81.2,575.2h0M70.4,599.3h0M50.8,606.3h0M47.3,612h0M113.8,478.7h0M131.1,532.7h0M108.4,574.9h0M147.7,586h0M190.5,472.4h0M210.7,477.5h0M174,496.2h0M167.3,503.5h0M212.4,502.1h0M175,510.1h0M172.9,515.1h0M172.4,523.6h0M173.1,548.4h0M172.7,552.1h0M190.1,552.1h0M168,560.1h0M200.5,559.1h0M177.7,566h0M201.6,572h0M161.6,586h0M190.1,584.1h0M200,585.5h0"/>
<path stroke="#ff0600" stroke-width="1.2" d="M35.2,462.1h0M42.2,536.4h0M49.7,574.3h0M57.6,589.3h0M128.1,469.8h0M114.6,498.4h0M121.4,503.4h0M130.7,516h0M120.4,521h0M135.7,528.5h0M130.5,539.2h0M122.6,546.5h0M135.8,545.8h0M119.8,568h0M132.2,587.8h0M108.1,591.3h0M132.4,591.5h0M113.5,603.7h0M201,470.7h0M205.4,471.7h0M195.5,615.6h0"/>
<path stroke="#ff5e00" stroke-width="1.2" d="M50.9,460.8h0M40.6,471.6h0M54.2,474h0M56.6,480.8h0M69.7,481.6h0M37.5,488h0M51.6,536.2h0M57.6,535.4h0M43.4,543.6h0M81.8,581.6h0M29.5,591.7h0M59.2,604.9h0M74.2,605h0M113,469.2h0M131.5,485.9h0M146.3,497.5h0M141.8,510.6h0M135.2,523h0M127.1,537.9h0M134.3,539.4h0M103.3,542.8h0M147.1,556.9h0M110.4,567.7h0M136.6,568.1h0M122.5,574.3h0M103.4,578.1h0M146.6,579.4h0M150.4,592.5h0M132.6,598.4h0M103.5,602.1h0M147.6,610h0M205.1,478.4h0M198.5,484.2h0M216.7,489.9h0M215.8,552.6h0M211.2,560.9h0M210.5,596.9h0M173.5,603.4h0"/>
<path stroke="#00e3ff" stroke-width="1.2" d="M58.6,461.2h0M77.5,473.5h0M46.4,480.3h0M26.6,482.9h0M42.8,484.9h0M73.3,488.1h0M57.6,495.6h0M29.3,501.8h0M71.7,501.3h0M43.3,507.2h0M36.6,518.2h0M61.9,530.8h0M79.4,529.3h0M71.6,535.4h0M34.6,541.5h0M43.9,543.4h0M68.9,542.2h0M53.7,547.9h0M79.8,555.5h0M35.4,559.6h0M43.9,557.1h0M59,559.4h0M43.2,564.1h0M33.5,570.5h0M77.9,572.4h0M59.5,581.1h0M79.8,588.8h0M46.4,593h0M58.9,592.6h0M31.5,599.9h0M48.1,600.9h0M78.9,602.5h0M35.8,609h0M109.9,468.7h0M123.5,475.7h0M99.9,481.3h0M107.1,481.5h0M102.2,491.8h0M102.4,498.7h0M150.1,496.6h0M110.1,504.4h0M125,502.5h0M105.8,510.2h0M100.6,516.9h0M115.9,516.3h0M150,515.6h0M112.7,521.7h0M103,527h0M127.8,527.2h0M130.4,525.8h0M136.3,535.1h0M107.9,545.8h0M140.3,545.4h0M116.8,548.9h0M148.2,558h0M112.9,560.3h0M127.2,561.9h0M136.8,562.1h0M142,563h0M126.8,567.2h0M146.9,575.2h0M121.3,580.5h0M117.2,585.3h0M141,586.9h0M111.1,597.1h0M119.2,598.3h0M121.9,597.8h0M168.4,468.4h0M172.5,468.6h0M185.6,465.8h0M200.2,467.2h0M217,471.4h0M173.1,480.7h0M163.5,487.3h0M204.4,491.4h0M196,503.6h0M178.5,510.7h0M189.2,521.5h0M164.4,529.6h0M182.8,527.6h0M210.4,536.1h0M190.8,548.6h0M172.3,558.1h0M161.8,572.8h0M184.9,579.1h0M163.6,588.9h0M173.3,591.9h0M179.3,596.8h0M161.1,601.5h0M178.2,602.7h0M164.5,608.1h0"/>
<path stroke="#96ff69" stroke-width="1.2" d="M27.4,466.1h0M50.3,485.6h0M41.1,495.2h0M55,507h0M54.5,519.9h0M79.3,524.9h0M27,543.4h0M29.3,555.3h0M43.9,586.9h0M69,587.2h0M125.6,497h0M130.3,520.6h0M150.3,521.4h0M149.8,564.6h0M123.8,603.8h0M189.2,459.4h0M216.9,464.1h0M189.6,486.3h0M172.8,492.5h0M177.2,490.2h0M200.1,510.3h0M194.5,523.6h0M205.5,521.4h0M211.8,520.9h0M185.1,533.8h0M199.7,542.3h0M200.2,577.9h0M210.9,584.8h0M166.3,589.8h0M167.9,608.7h0"/>
<path stroke="#ff3200" stroke-width="1.2" d="M51,465.8h0M50.5,479.3h0M41.5,483.1h0M27.3,495.5h0M34.3,502.4h0M34.5,507.2h0M82.3,512.9h0M57.2,525.8h0M28.9,530.6h0M61.9,557.8h0M61.3,565.8h0M55,576.6h0M78.1,593.5h0M100,469.9h0M104.3,474.5h0M139.9,479.2h0M139.8,496.5h0M131.5,503.3h0M135.3,508.9h0M107.3,527.3h0M111.5,551.1h0M149,552h0M140,574.6h0M115.4,585.4h0M121.9,586.7h0M117.1,590h0M129,596.8h0M137.6,605h0M194.7,466.1h0M210.9,465.8h0M206.3,497.3h0M215.3,504.3h0M207,547.5h0M178,616.6h0"/>
<path stroke="#0032ff" stroke-width="1.2" d="M60.1,465.7h0M67.8,466h0M49.9,494.2h0M70.2,503.2h0M77.9,499.3h0M48.7,508.2h0M81.3,508.5h0M79.9,519.1h0M51.5,528.5h0M35.9,563.1h0M27,572.2h0M75.8,576.6h0M31.9,583.1h0M78,600h0M31.6,605.4h0M44.4,604.9h0M29.4,611.3h0M59.4,610.7h0M133.3,487.5h0M148.7,540.7h0M163.1,479.4h0M184.4,478.5h0M190.1,490.3h0M169.8,497.9h0M205.1,510.2h0M162.2,552.2h0M206.2,552.8h0M172.5,583.1h0M210,589.9h0"/>
<path stroke="#0000d8" stroke-width="1.2" d="M47.9,473.5h0M57.1,565.8h0M138.7,521.1h0M163.2,472.6h0"/>
<path stroke="#c2ff3d" stroke-width="1.2" d="M50,473.5h0M32.9,489.4h0M65.3,491.5h0M80.9,496.3h0M45.7,516.8h0M34.9,529.5h0M68.1,554.5h0M77.7,564.4h0M76.8,588.2h0M104.2,467.1h0M103.2,531.4h0M105.8,532.2h0M112.1,567.2h0M148.9,605.6h0M122.2,608.8h0M211.6,459.5h0M207,484.1h0M211.6,490.3h0M172.6,503.5h0M200.9,503.4h0M167.7,522.8h0M185.1,521.4h0M201.5,522.9h0M217.2,521.5h0M168.3,528.6h0M210.1,542.2h0M199.9,547.2h0M215.6,547.2h0M183.1,554.1h0M174.6,565h0M204.6,567.4h0M162,579.5h0M173,577.4h0M169,583.6h0M195.3,595.3h0M199.3,610.5h0M162.6,614h0"/>
<path stroke="#ffb700" stroke-width="1.2" d="M27.6,478.9h0M28.4,506.5h0M26.7,520.7h0M61.9,536.9h0M50.5,540.8h0M55.7,547.9h0M61.7,547.1h0M34.2,554.2h0M39.7,556.9h0M51.8,566h0M67.8,573h0M118.5,469.4h0M149.1,468.6h0M143.3,472.6h0M114,486.7h0M144.7,511.5h0M144.5,532.4h0M121.4,539.4h0M144.3,564.1h0M152.3,586.4h0M135.9,593.5h0M119.3,601.9h0M131.4,604.6h0M141.6,609.6h0M183.7,459.9h0M216.1,459.5h0M210.9,473h0M168,491.9h0M209.6,498.3h0M183.1,511.6h0M199.9,514.7h0M167.9,541.4h0M178.7,539.9h0M183,541.9h0M189.1,540.3h0M210.4,552.7h0M184.4,558.1h0M194.8,561.2h0M211.8,565.1h0M185.1,572h0M216.9,577.7h0M178.2,583h0M215.9,584h0M206.5,590.6h0M198.7,596.6h0M185.3,602.9h0M196.2,604.2h0M205,605.2h0M178.1,607.7h0M184,610.5h0M188.6,610.3h0"/>
<path stroke="#000080" stroke-width="1.2" d="M35.7,496.3h0"/>
<path stroke="#0006ff" stroke-width="1.2" d="M51.5,499.6h0M35.1,513.8h0M45.1,548h0M52.1,559.2h0M57.9,569.8h0M44.1,580.8h0M35.2,592.9h0M51.7,598.5h0M134.4,481.2h0M121,485.6h0M107.2,551.3h0M174.1,527.7h0M183.3,565.4h0"/>
<path stroke="#d80000" stroke-width="1.2" d="M70.2,510.8h0M81.8,547.4h0M81.6,559.8h0M104.1,497.8h0M138.9,532.4h0M135.4,549.9h0M109.2,561.8h0M127,575.3h0M136.7,598.5h0M126.1,603.1h0"/>
<path stroke="#800000" stroke-width="1.2" d="M143.4,480.8h0M140.1,527.7h0M140.9,539.2h0"/>
<path stroke="#ac0000" stroke-width="1.2" d="M102.2,485.1h0M150.2,486.5h0M144.3,492.8h0M136.9,516h0M115,533.3h0M105.1,549.9h0"/>
<path stroke="#eeff11" stroke-width="1" d="M35.9,453.7h0M38.6,455.1h0M49,456.7h0M66.8,458.8h0M57.4,465.8h0M80.5,468.2h0M33.8,473.9h0M67.6,479.4h0M82.5,477.9h0M32.9,500.2h0M74.4,501.3h0M80.4,500.1h0M62.8,506.9h0M75.1,508.3h0M62.8,524.2h0M33.4,531.7h0M65.8,535.9h0M73.5,537.2h0M50.1,557.5h0M58,556.9h0M49,570.2h0M73.4,575.4h0M29.3,583.8h0M51.7,583.1h0M39,597.2h0M59.1,598.4h0M46.9,605.7h0M60.1,602.4h0M72.5,607.1h0"/>
<path stroke="#ff5e00" stroke-width="1" d="M63,455.2h0M68.3,483.8h0M77.5,523.1h0M44.9,529.2h0M33.6,537h0M59.9,534.1h0M80.6,535.5h0M73,558.6h0M80.8,611.5h0"/>
<path stroke="#c2ff3d" stroke-width="1" d="M29.1,460.5h0M57.8,478.4h0M54.6,507.4h0M27.6,563.8h0M40.8,565.2h0M73.3,562.7h0M29.2,570.7h0M37.9,592.8h0"/>
<path stroke="#ff8b00" stroke-width="1" d="M43.8,461.4h0M56.1,460.4h0M34.2,467.2h0M60.9,467.2h0M27.2,476.3h0M63.2,480.7h0M28.5,484.8h0M51.5,483.2h0M38.9,496.6h0M59.3,493.5h0M65.1,503.3h0M25.8,507.3h0M57.3,505.6h0M80.1,514.4h0M29,519.4h0M77.4,518.1h0M67.6,547.5h0M46.9,554.5h0M58.9,555.2h0M47.8,566.1h0M36.2,580.9h0M31.8,593h0M36.7,604.9h0M66.1,612.2h0"/>
<path stroke="#ffb700" stroke-width="1" d="M75.9,460.2h0M74.8,473.4h0M74.8,479.3h0M43.9,490.2h0M67.8,490.4h0M51.9,495.9h0M31.6,503.2h0M32.8,509.2h0M37.7,514.5h0M43.3,517.8h0M29.6,535h0M52.4,542.7h0M58.8,544h0M38.2,564.3h0M70.8,565.6h0M38.2,572.6h0M75.9,571.7h0M50.6,576.8h0M61.4,576h0M69.2,576h0M47.1,581.1h0M65.5,582.5h0M39.3,594.2h0M30.4,597.6h0M81.2,603.9h0M40,611.7h0M71.9,609.6h0"/>
<path stroke="#ffe300" stroke-width="1" d="M38.3,466.2h0M28.8,472.4h0M64.2,475.2h0M34.7,484.1h0M36.1,499h0M75.4,494.6h0M78.5,497.6h0M58.5,504.4h0M57.9,521.3h0M66.9,523.4h0M31.6,530.9h0M39.3,531.2h0M64.6,531.1h0M49.1,534.6h0M61,534.3h0M34.3,546.4h0M51.5,555.2h0M80.4,552.9h0M27.5,557.2h0M35.1,557h0M63.9,565.5h0M78.6,561.9h0M67.8,570.3h0M80,570.7h0M44.8,575h0M41.5,581.2h0M58.9,583.7h0M46.5,587.8h0M75.4,599.3h0"/>
<path stroke="#96ff69" stroke-width="1" d="M65.8,467.6h0M44,479.3h0M29.6,494.2h0M52.3,518.5h0M57.4,523.1h0"/>
<path stroke="#ff0600" stroke-width="1" d="M71.7,468.6h0M75.7,489.2h0M50.2,587.4h0"/>
<path stroke="#ff3200" stroke-width="1" d="M38.1,479.2h0M74.4,541h0M39.8,548.2h0"/>
</g>
<rect x="227.8" y="438.1" width="9.5" height="192.3" fill="url(#jet)" stroke="#555" stroke-opacity="0.55" stroke-width="0.35"/>
<text x="238.8" y="439.9" font-family='"Liberation Sans", "DejaVu Sans", sans-serif' font-size="2.9" fill="#333">0.03</text>
<text x="238.8" y="487.9" font-family='"Liberation Sans", "DejaVu Sans", sans-serif' font-size="2.9" fill="#333">0.015</text>
<path d="M237.3,486.3h-1.2" stroke="#333" stroke-width="0.4"/>
<text x="238.8" y="535.9" font-family='"Liberation Sans", "DejaVu Sans", sans-serif' font-size="2.9" fill="#333">0</text>
<path d="M237.3,534.3h-1.2" stroke="#333" stroke-width="0.4"/>
<text x="238.8" y="583.9" font-family='"Liberation Sans", "DejaVu Sans", sans-serif' font-size="2.9" fill="#333">-0.015</text>
<path d="M237.3,582.3h-1.2" stroke="#333" stroke-width="0.4"/>
<text x="238.8" y="631.9" font-family='"Liberation Sans", "DejaVu Sans", sans-serif' font-size="2.9" fill="#333">-0.03</text>
<text x="133.1" y="646.8" text-anchor="middle" font-family='"Liberation Serif", "DejaVu Serif", serif' font-size="10.7" letter-spacing="0.4" fill="#111">(<tspan font-weight="bold">e</tspan>)</text>
<rect x="276.6" y="439.0" width="205.0" height="191.5" fill="#8fff70"/>
<g fill="none" stroke-linecap="round" filter="url(#sf)">
<path stroke="#0006ff" stroke-width="2.4" d="M285.4,454.5l0.2,0.9M296.5,461.9l-0.1,-0.9M314.5,461.2l0.9,0.2M319.4,468l0.9,0.3M290.9,492.2l-0.1,-0.9M302.1,490.4l0.5,-0.8M297.2,496.9l0.8,-0.5M291,501.1l0.5,0.8M303,502.8l0.9,0.2M299.1,507.8l0.9,-0.1M338.7,514.6l0.7,-0.5M320.3,519.4l0.4,0.8M335.9,518.8l0.8,0.3M322.2,531.5l-0.9,-0.1M304,543.5l-0.9,0.1M317,544l0.4,-0.8M302.1,550.4l0.4,-0.8M316.6,555.3l-0.5,-0.7M308.4,558.1l0.7,0.6M336.6,562.7l-0.3,0.8M314.8,575.6l-0.7,0.6M338.8,577.7l0.2,-0.9M287.6,584l0.9,-0.2M338.7,583.8l0.5,-0.8M320.8,599l0.5,-0.8M327.8,606.3l0.7,-0.6M297.9,611.5l-0.1,-0.9"/>
<path stroke="#00b7ff" stroke-width="2.4" d="M293.4,454.6l-0.8,0.5M320.8,456.3l-0.5,0.8M289.6,480.5l0.9,-0.3M321.5,484.4l-0.6,0.6M326.6,484l0.5,-0.8M308.2,489.9l0.6,-0.7M337.1,497.9l0.8,-0.4M332,501.8l-0.9,0M309.2,513.6l-0.3,0.8M296.8,519.8l0.9,-0.3M301.6,518.2l0.8,-0.4M303.4,526.1l0.9,0.2M325.4,523.9l0.9,-0.1M302.7,530.1l-0.2,0.9M331.1,549.1l0.9,-0.1M303,559.3l-0.5,-0.7M316.2,557.8l0.3,0.8M331.2,558.5l0.2,-0.9M299.1,565.4l0.8,-0.4M287.7,588.6l0.4,0.8M332.7,588.6l0.9,0M314.8,593.6l0.8,-0.3M328,593l0,0.9M336.3,598.1l-0.1,0.9M289,607.8l0.2,-0.9M294.2,605l-0.8,-0.3"/>
<path stroke="#0032ff" stroke-width="2.4" d="M296.9,455.8l0.9,0.1M307.1,456.9l0.2,-0.9M314,454.4l-0.8,0.4M332.6,456.3l-0.2,0.9M302.1,462.3l0.6,0.6M287.1,467.9l-0.7,-0.5M298,474.4l0.2,-0.9M332.5,473.8l-0.9,-0.2M315.6,479.4l-0.4,0.8M286,485l-0.6,-0.6M297.5,484.7l0.8,-0.4M340.1,485.7l-0.9,-0.3M318.4,489.4l0.7,0.6M318,497.2l0.8,0.4M322.9,503.6l-0.6,-0.7M321.2,515.3l-0.7,-0.5M291.5,531.8l0.5,-0.7M317.3,530.3l-0.8,0.4M338.7,546l0.5,0.7M324.1,554.3l0.9,0.2M338.4,553.7l-0.2,0.9M322.1,558.3l-0.9,0M285.7,564.5l0.5,0.7M295.7,564.5l-0.8,-0.4M309.4,564.2l0.2,0.9M286.7,571.3l-0.8,0.5M337.7,571.4l-0.7,0.6M298.1,577.4l0.6,-0.7M302.9,575.7l0.3,0.8M326.9,576l-0.8,-0.5M331.9,576l0.8,0.4M309.2,583.4l-0.9,0M323.1,582.9l-0.9,0.2M297,598l0.2,0.9M293.1,611.4l0.2,-0.9M323.8,612.2l-0.6,-0.6"/>
<path stroke="#005eff" stroke-width="2.4" d="M302.5,455.8l-0.7,0.5M337.2,454.9l0.7,0.5M320.1,461l0.7,-0.6M296.4,467.2l0.4,0.8M287.1,473.1l0.9,0.1M292.1,474.3l0.8,-0.4M328.4,473l-0.7,-0.5M309.3,484.2l-0.4,0.8M317.8,485.6l-0.9,-0.2M325.4,491.2l-0.8,0.4M317,494.4l-0.6,0.7M316.5,504.5l-0.1,-0.9M314.9,506.4l-0.8,0.5M294.6,520.9l0,-0.9M315.8,521.4l-0.4,-0.8M320.9,524.3l0.1,-0.9M297.7,531.7l0.9,0M328.2,529.4l0,0.9M291.9,537.6l0.8,0.4M339.8,540.2l-0.9,0.1M291.8,547l-0.7,0.5M310.5,550.2l0.5,-0.8M325.7,547.5l0.1,-0.9M305.3,566.4l-0.9,-0.2M320.6,569.9l-0.7,0.6M325.9,571.1l0,0.9M298.4,585.9l-0.5,0.8M289.3,593.1l-0.8,-0.5M288.4,598.2l0.4,0.8M311.9,598.8l-0.9,0M308.9,604.3l-0.1,0.9M318,603.1l-0.3,0.8"/>
<path stroke="#00e3ff" stroke-width="2.4" d="M325.2,455.9l-0.4,-0.8M333.4,489.6l-0.8,-0.4M338.1,500.5l-0.9,-0.3M333.3,508.3l0.2,-0.9M297.4,524.1l0.3,0.8M315.3,524.1l0,0.9M331.1,526.1l-0.8,-0.5M306.7,535.3l-0.8,0.5M288.5,547.8l-0.9,0.2M297.6,553.1l-0.6,-0.7M309,555.4l-0.8,-0.3M320,555.4l-0.6,-0.7M306.6,570.8l-0.7,0.6M305.2,581.9l0.2,0.9M322.1,594.7l-0.8,-0.4M297.3,607.4l0.7,-0.6M308.6,610.8l-0.2,0.9M339.3,611.5l0.8,-0.5"/>
<path stroke="#008bff" stroke-width="2.4" d="M293.8,460.6l-0.3,0.8M333.6,461l-0.8,0.3M311,467.4l-0.8,-0.4M324.2,468l0.7,-0.6M296.2,479.4l0.3,-0.9M302.5,484.1l-0.7,0.6M289.1,503.5l-0.8,-0.5M295.2,514.9l-0.9,-0.2M303.3,515.2l-0.6,-0.7M326.8,513l0.6,-0.7M310.7,519.2l0.8,0.5M331.1,517.4l0.2,0.9M289,531.3l-0.9,-0.1M333.3,531.2l-0.6,-0.7M286.7,542.6l-0.7,0.5M294.3,540.7l-0.8,0.5M293.1,557.8l0.1,0.9M296.8,559.3l0.3,-0.8M321.5,565.9l-0.9,0.1M331.6,563.5l0.4,0.8M334.1,571.6l0.2,-0.9M317,583.6l0.2,-0.9M325.6,581.2l-0.1,0.9M326.7,585.3l0.2,0.9M297.3,594.1l0,-0.9M333.8,599.9l0.6,0.7M304.4,605.8l-0.9,-0.3M323.6,605.3l-0.9,-0.2M330.9,607l0.6,-0.7"/>
<path stroke="#000080" stroke-width="2.4" d="M307.2,462.8l0.7,-0.5M338.7,468.4l0.1,-0.9M301.8,496l0.4,-0.8M330.1,512.8l0.6,-0.7M332.5,582.2l0,0.9"/>
<path stroke="#0000ac" stroke-width="2.4" d="M315.9,466.4l0.9,0M329.9,468.8l0.3,-0.9M336,471.9l-0.2,0.9M285.1,477.3l0.1,0.9M332.4,479.9l-0.9,0.1M292.2,484.8l-0.9,0.3M312.1,489.3l0.9,0.1M298.9,514.5l0.3,-0.8M338.2,531.9l-0.3,-0.9M317.6,534.8l-0.8,0.4M319.2,535.2l0.3,0.9M308.2,570.3l0.9,-0.2M304,587.9l-0.9,-0.3M316.2,587.4l-0.2,0.9"/>
<path stroke="#0000d8" stroke-width="2.4" d="M310.1,473.8l-0.9,0.2M321.5,480.9l0.5,-0.8M297,490l-0.7,-0.6M333.1,495l-0.8,-0.4M284.1,507.7l0.9,-0.3M286.9,524.5l-0.8,0.5M298.6,538.5l0.6,-0.6M310.3,538.7l-0.3,-0.8M338.8,536.4l0.2,0.9M310.1,542.8l-0.6,-0.6M319.6,542.8l0.1,-0.9M314,546.2l-0.1,0.9M318.9,549.5l0.3,-0.8M294.2,554.3l-0.9,0.1M333,552.4l-0.8,0.4M285.8,557.9l0.7,0.5M328.4,565.8l-0.8,-0.4M293.7,581.5l-0.8,0.4M311.9,594.7l-0.8,0.5"/>
<path stroke="#11ffee" stroke-width="2.4" d="M308.3,502l0.5,-0.8M326.1,509.1l0.9,-0.2M317.9,512.6l-0.7,0.5M308.4,526.4l0.9,-0.1M287.3,535.9l-0.3,0.9M308.3,588.2l0.3,0.9M328.5,597.4l0,0.9M317,608.8l0.2,0.9"/>
<path stroke="#3dffc2" stroke-width="2.4" d="M291,509.3l0.6,-0.7M286.4,520.1l-0.8,0.4M331.3,537.3l-0.7,-0.6M299.1,543.6l0.9,0.2M317.2,566.9l-0.8,-0.3M291.4,577.3l-0.1,-0.9M319.4,575.9l0,-0.9M331.5,609.6l0.5,0.8"/>
<path stroke="#69ff96" stroke-width="2.4" d="M326.9,518.1l0.9,0M303.1,611.9l0.9,0.2"/>
<path stroke="#96ff69" stroke-width="2.4" d="M338.3,558.5l0.6,0.7"/>
<path stroke="#ff0600" stroke-width="2" d="M287.3,461.1l1,-0.2M292.5,468l0.8,0.5M287,491.3l-0.7,-0.7M287.1,495l-0.9,0.5M295.9,502.7l0.9,0.4M320.5,507.3l-0.8,-0.6M290.7,525.6l0.5,0.8M308.4,576.7l-0.4,-0.9M293.6,587.9l0.5,0.9M394.3,469.3l-0.9,0.2M373.2,481.3l-0.4,-0.8M403.1,479.7l-0.6,0.7M363.5,488l0.2,-0.9M358.6,498.3l0.8,0.4M388.7,499.4l0.5,-0.7M394.7,497.8l-0.7,0.6M397.3,499l0.4,-0.8M403.1,499.3l0.7,-0.5M406.4,516.3l0.9,-0.1M380.8,521l-0.9,0.2M394.8,521.8l-0.5,0.7M363.4,527.8l0.9,0M378.4,528.2l0.7,-0.6M379,551l0.9,0.1M404.2,552.7l0.3,-0.9M379.8,558.3l0.4,-0.8M408.8,558.3l-0.9,0M365.6,563.1l0.8,-0.4M404,562.7l-0.5,0.7M372.5,567.5l-0.9,0M399.3,568.5l0.8,0.3M402.8,569.4l0.9,-0.1M371.6,580.2l0.3,-0.8M382.3,586.4l-0.9,0.2M393.6,586.7l0.9,-0.2M381.6,591.7l-0.6,0.7M382.5,598.1l-0.9,0M390.9,603.1l-0.5,0.8M404.7,604l0.3,0.9"/>
<path stroke="#ac0000" stroke-width="2" d="M324.8,459.8l-0.2,1M312.2,507.8l-0.9,-0.4M284.7,515.1l0.6,-0.8M324.2,536.1l0.8,-0.6M304.9,554.5l0.1,-1M286.6,577.3l0.3,-0.9M304.7,599.3l0.6,0.8M373.7,485.8l-0.6,0.7M370.4,504.8l-0.9,0.1M384.7,504.6l-0.6,-0.7M398.4,504.7l0.7,-0.6M365,508.8l-0.4,0.8M379.4,509.8l-0.9,0.2M409.8,528.2l-0.9,0.3M408.3,534.8l0.5,-0.8M404.3,593.4l0.9,-0.2M367.5,596.3l0.8,0.4M394.5,603.9l0.7,0.6M400.4,605.2l0,-0.9M409.6,605.8l-0.9,0"/>
<path stroke="#ffb700" stroke-width="2" d="M336.9,460.8l0.1,1M333.9,484.5l-0.3,1M294,499.1l-0.1,-1M309.6,496.2l-0.8,-0.6M292.9,569.2l-0.7,0.7M338.9,603.9l-0.9,-0.5M393.8,479.8l-0.4,0.8M358.9,493.8l0.7,-0.6M379.9,497.8l-0.9,0M374.3,511.7l0.2,-0.9M390.8,538.7l-0.8,0.4M397.6,540.8l0.7,-0.5M389.7,593.6l0.5,-0.8"/>
<path stroke="#ff5e00" stroke-width="2" d="M303.3,468l0.3,1M335.8,489.4l1,0.3M325.2,558.1l0.9,-0.4M313.9,571l0.9,-0.4M299.8,581.4l1,-0.1M316.7,598.8l-0.9,0.5M362.6,469.8l-0.1,-0.9M382.1,468.1l0.7,0.6M364.5,475.8l-0.8,-0.3M383.1,474.6l-0.5,0.7M408,475.2l-0.9,0.1M377.3,481.2l0.5,-0.7M383.5,480.1l-0.8,0.4M407,479.4l-0.1,0.9M358.8,487l0.7,-0.6M392.6,486.1l-0.4,0.8M406.6,487.3l0.9,-0.1M368.9,492.6l-0.8,-0.4M388.5,505.4l0.6,-0.7M368.5,510.8l0.4,-0.8M371.1,533.6l-0.3,-0.8M395.6,551.5l-0.7,-0.5M395.4,557l-0.1,0.9M376,568l0.9,0.1M386.3,573.8l-0.4,0.8M385.6,581.2l-0.4,-0.8M391.3,579.4l-0.7,0.5M368.5,585.1l-0.3,0.9M391.6,586.2l-0.4,0.8M368,590.2l-0.7,0.6M400.5,591.8l-0.2,0.9M372.7,597.7l0.5,-0.8M401,598.7l-0.6,0.7M382.6,608.8l-0.9,0.1M409.1,611.8l0.6,-0.7"/>
<path stroke="#ff3200" stroke-width="2" d="M304.2,475.5l0.8,-0.6M307,478.3l0.7,0.7M335.9,523.8l0.7,0.7M326.5,540.5l0.2,1M333.9,592.7l-0.8,-0.6M329.6,609.9l-1,0.2M396.9,469.6l0.9,0M358.8,479.8l-0.3,0.9M387.9,485.8l0.9,0.3M363.8,492.2l0.9,0.1M378.5,492.5l0.8,0.4M384.6,492.6l-0.8,0.4M364.3,497.5l-0.8,0.4M358.7,505.1l0.7,-0.5M372.7,504.1l0.8,-0.4M377.7,504.4l0.9,-0.2M360.9,522.4l-0.9,-0.3M365.3,521l-0.8,0.4M399.3,521.8l-0.9,-0.1M403.4,522.7l0.8,-0.4M384.5,528.9l0.7,-0.5M381.3,538.4l-0.7,0.6M372.3,543.8l-0.7,0.6M396,545.2l-0.8,0.4M374.9,551.4l0.1,-0.9M386,550l-0.6,0.7M403.5,557.2l0.9,0M366.8,569l0.8,-0.4M395,574.1l-0.2,0.9M394.4,580.3l0.9,-0.1M401,582l-0.8,-0.5M403.9,581.5l0.5,-0.8M364.7,584.7l-0.9,-0.1M371.7,586.3l0.9,-0.3M396.9,597.7l-0.8,0.4M369.3,602.2l-0.8,0.4"/>
<path stroke="#ff8b00" stroke-width="2" d="M314.1,473.4l-0.8,0.5M298.1,548.4l0.9,-0.4M285.1,554.9l0.9,0.4M338.2,586.8l-0.1,1M295.4,593.1l-1,0.1M359.4,474.6l-0.7,0.6M368.6,474.9l-0.9,-0.3M396.7,493.4l0.9,-0.2M366.1,514.9l-0.8,0.3M390.7,522l-0.8,-0.4M371.7,527.7l-0.9,0M376.6,526.8l-0.9,0.1M393.7,526.9l0.2,0.9M388.6,535.2l0.4,-0.8M394.6,538.9l-0.8,0.4M403.1,540.2l0.7,-0.5M409.2,540.3l-0.8,0.4M380.6,544.8l0.1,0.9M371.3,562.8l-0.1,-0.9M383.9,563.6l0.7,-0.6M393.2,563.2l0.9,-0.3M386.9,568.8l-0.7,-0.5M390.5,569.4l0.2,-0.9M368.2,573.6l-0.6,0.6M370.7,573.1l0.2,0.9M391,610.7l0.9,-0.3"/>
<path stroke="#800000" stroke-width="2" d="M321.9,475.5l-0.7,-0.7M302.3,480l0.9,0.4M325.6,479.6l-0.2,-1M327.3,501.7l0.4,0.9M332.1,541.4l-1,-0.1M296.4,572.7l0.7,-0.7M408.2,467.3l-0.3,0.9M358.9,511.5l0.4,-0.8M392.1,510.7l0.7,-0.6M404.1,510.1l-0.4,0.8M370.5,515l-0.6,0.7M390.2,514.7l-0.5,0.8M393.9,515l0.6,0.6M370.2,520.1l0.3,0.8M384.3,521l-0.9,0.2M403.2,528.6l0.9,-0.2M361.4,549.6l0.8,0.3M399.4,550.4l-0.5,0.7M398.7,564.4l0.8,-0.5M410.2,563.9l-0.8,0.5M361,573.8l0.7,-0.5M376.8,591.9l-0.6,-0.7M378.5,596.7l-0.4,0.8"/>
<path stroke="#d80000" stroke-width="2" d="M340.3,478.3l-0.8,-0.6M327.2,495.7l-0.7,-0.7M304.8,510l0.8,-0.6M306.4,592.6l-0.9,0.3M337.1,591.8l-0.4,0.9M293.3,599l0.4,-0.9M285.1,610.8l1,0.3M398.8,474.4l-0.9,0.3M397.2,481.6l0.5,-0.7M399.6,486.6l-0.9,0M393.3,492.9l-0.9,0.1M369.8,498.1l-0.8,0.5M406.6,504.4l0.8,0.3M382.6,511.3l0.8,-0.5M387.5,510.3l0.6,-0.7M359.9,515.6l-0.5,0.8M384.4,515.2l-0.7,0.6M403.1,515.6l0.8,0.4M366.1,533.3l-0.9,-0.3M394.9,533.5l-0.1,0.9M366,538.3l0,0.9M371.1,556.1l-0.6,0.7M362.5,561.7l-0.6,0.7M400.4,575.7l-0.8,-0.3M381.3,579.5l-0.7,0.5M409.9,580.8l-0.8,0.5M401.1,585.9l-0.7,0.6M409.7,594.8l-0.3,-0.8M373.7,603.2l-0.8,0.3"/>
<path stroke="#eeff11" stroke-width="2" d="M337.6,507.8l0.8,0.5M308.1,530.8l0.6,-0.8M367.3,480.7l0.9,-0.1M361.2,539.5l-0.6,-0.6M404.4,587.3l0.8,-0.4"/>
<path stroke="#ffe300" stroke-width="2" d="M320.8,588.6l1,-0.1M388.1,493.6l0.1,-0.9M398,517.5l0.3,-0.9M379.3,531.9l0,0.9M390.6,556.8l-0.9,0.3M381.8,563.7l-0.8,-0.4M363.6,579.4l-0.8,-0.4M376.9,587.2l-0.6,-0.7M363.8,601.6l-0.8,0.3"/>
<path stroke="#005eff" stroke-width="2" d="M357.4,468.7l0.3,0.7M366.4,470.4l0.7,-0.4M377.4,487.1l0.7,-0.3M403.6,491.5l-0.3,0.7M393.2,504.8l0.2,-0.8M359.3,526.7l0.7,0.3M361,545.2l0.2,-0.8M375.1,546.3l0.2,-0.8M384.1,557.6l0.7,-0.5M381.3,569.5l0.3,-0.8M366.9,579.9l0.8,0M391.7,596.8l-0.2,0.8M376.1,603.5l0.6,-0.5M386.5,603.8l-0.8,-0.2M404.1,610.9l0.8,-0.3"/>
<path stroke="#00e3ff" stroke-width="2" d="M373.4,470l-0.8,-0.1M370.9,549.8l-0.4,0.7"/>
<path stroke="#0000ac" stroke-width="2" d="M377.8,468.1l-0.3,0.7M389,481.5l-0.8,-0.1M404.6,503.7l-0.8,0.2M366.7,544.1l-0.2,0.8M391.5,574.4l-0.8,0.1M385.9,585.8l0.8,0"/>
<path stroke="#0006ff" stroke-width="2" d="M388.3,469.2l-0.7,0.4M402.3,475.2l-0.2,-0.8M384.5,486.5l-0.4,0.7M373.7,492l0,0.8M374.3,497.4l-0.5,0.6M409.5,509.5l-0.6,0.5M399.3,533.6l-0.7,-0.3M367,550.1l-0.5,0.6M375.7,561.9l-0.5,0.6M385.4,597.8l0.7,-0.3M386.5,609.2l-0.5,0.6"/>
<path stroke="#0032ff" stroke-width="2" d="M404.1,468.4l-0.6,0.5M374.7,474.3l-0.7,0.3M388.4,475.5l0.3,-0.7M406.8,498.3l0.7,-0.4M363.4,504.3l0.7,-0.3M398.3,510.5l0.8,0.2M400.3,527l-0.7,0.4M384.6,533.4l-0.8,0.3M389.8,545.1l-0.8,-0.1M389.3,563.8l0.5,-0.6M395,591.8l-0.2,0.8"/>
<path stroke="#0000d8" stroke-width="2" d="M378.8,474.8l-0.8,0.1M363.3,481.5l0.8,0.2M406.4,491.7l0.7,0.4M383.5,545.7l0.5,-0.6M398.3,557.5l0.7,-0.4M382.3,602l-0.1,0.8"/>
<path stroke="#000080" stroke-width="2" d="M392.2,474.8l0.8,-0.1M370.1,486.5l-0.8,-0.1M407.1,523l0.7,-0.4M407.6,547l0.5,-0.6M389.1,550.2l-0.1,0.8M386.7,593.6l-0.1,-0.8M362.3,598.1l0.4,-0.7"/>
<path stroke="#008bff" stroke-width="2" d="M403.7,485.3l-0.6,0.6M374.2,514.8l0,0.8M389.1,528.3l-0.1,-0.8M375.4,533.7l-0.8,0M370.1,539.8l0.8,-0.2M376.4,538.6l-0.8,0.1M384.4,540l0.4,-0.7M367,555l-0.3,0.8M394.4,570.4l0.3,-0.8M403.3,575.1l0.8,0.2M408.7,599.5l0.2,-0.8"/>
<path stroke="#c2ff3d" stroke-width="2" d="M382.6,499.1l0.6,-0.7M408.2,550.4l-0.3,0.9M376.6,556.5l-0.9,-0.1M376.3,574.3l0.5,-0.7M377.4,579l-0.8,0.4M371.5,590.9l0.9,0.2"/>
<path stroke="#00b7ff" stroke-width="2" d="M378.5,516.2l0.2,-0.8M375,521.5l-0.5,0.6M360.5,533.7l0.4,-0.7M402.9,534.8l0.1,-0.8M400.7,545.2l-0.8,0.3M403.9,545l0.5,0.6M360.6,556.2l0.8,0.1M408,569.6l0.8,-0.1M408.7,575l-0.5,0.6M364,591l-0.7,0.4M396.5,609.8l-0.8,0.1M399,611.5l0.4,-0.7"/>
<path stroke="#11ffee" stroke-width="2" d="M360.8,567.2l0.8,0.1M404,599.5l0.8,-0.2"/>
<path stroke="#3dffc2" stroke-width="2" d="M382.3,573.2l-0.5,0.6M408.8,587.1l0.8,-0.2"/>
<path stroke="#ff5e00" stroke-width="1.8" d="M422.5,463.2l0,-0.8M437.4,459.7l-0.1,0.8M452.6,464.9l0.4,0.7M422.4,475l-0.2,-0.8M470.4,471.8l-0.3,0.8M421,481.8l0.3,-0.7M421.7,486l0.1,0.8M464.8,486.3l0.4,-0.7M420.7,490.9l-0.2,0.8M432,491.2l-0.3,0.8M426.5,515.7l-0.5,0.6M426.7,521.4l-0.2,0.8M459.9,521.5l0.2,0.8M449.1,528.5l-0.1,0.8M470,534.8l-0.3,0.7M420.5,543l0.5,-0.6M431.9,554.3l-0.3,-0.8M475,571.3l0,0.8M422.2,578.7l-0.6,0.5M470,578l-0.5,0.6M420.4,584.4l-0.1,0.8M443.6,592.5l0.1,-0.8M464.1,603.5l-0.1,0.8M469.7,609.5l-0.1,0.8M473.9,616.5l0.3,-0.8"/>
<path stroke="#0032ff" stroke-width="1.8" d="M426.1,463.2l0.1,-0.7M470.6,458.3l0,0.7M427.9,467.4l-0.3,0.6M458.3,466.1l0.2,0.7M450,486l-0.6,0.3M442.8,491.5l-0.3,0.6M447.3,491.8l0.6,-0.4M464.5,503.6l-0.6,-0.3M421.6,517l0.3,0.7M431.6,517.4l0,-0.7M452.6,516.5l0.1,0.7M470.9,515.2l-0.4,0.6M475.5,523.7l0.2,-0.7M469.4,540.8l-0.1,0.7M475.2,539.5l-0.1,0.7M465.8,554.9l-0.3,-0.6M442.1,560.1l0.4,-0.6M431.5,566.2l0.6,-0.3M447.8,566.2l0.4,-0.6M452.9,566.3l0.7,-0.1M443.8,577.6l-0.1,0.7M448.6,586.2l0.1,-0.7M468.8,599l0.2,-0.7M432.3,617.1l0.3,-0.6M459.5,615.8l-0.6,0.4M465.2,616l-0.3,0.6"/>
<path stroke="#ff3200" stroke-width="1.8" d="M431,462.3l0.1,-0.8M430.9,467.3l0.1,0.8M469,492.2l0.6,-0.6M469.9,497.5l-0.6,0.5M460.2,502l-0.2,0.8M463.2,509l0.3,0.7M437.7,523.8l0.3,-0.7M421.2,529.7l0.8,0.2M436.8,528.5l0.2,0.8M422.2,534.5l-0.1,0.8M426,537l0.6,-0.5M459.5,534.4l-0.3,0.7M425.4,543.4l0.5,-0.7M432.4,547.1l-0.3,0.7M420.6,560.3l-0.3,0.7M459.4,566l-0.2,0.8M475.5,580l0.1,-0.8M470.8,583.5l-0.4,0.7M433.2,602l-0.4,0.7M471.4,615l-0.6,0.5"/>
<path stroke="#800000" stroke-width="1.8" d="M441.4,462.2l0.4,-0.7M458.5,461.3l-0.2,-0.8M465.2,459.9l-0.7,0.3M464.5,467.7l0.4,-0.7M438.2,473.4l0.2,-0.8M454.5,473.4l-0.2,-0.8M475.3,473.8l0.3,-0.8M425.8,487.3l-0.1,-0.8M448.9,503.7l-0.8,0.2M475.5,503.5l-0.6,0.6M449.3,510.1l-0.5,0.6M453.1,541.7l0.2,-0.8M421,567.7l0.4,-0.7M426.2,567.9l0.3,-0.7M447.5,578.4l0.8,-0.2M448.8,601.7l0.1,0.8M437.6,615.2l-0.4,0.7"/>
<path stroke="#00b7ff" stroke-width="1.8" d="M446.5,461.3l0.5,-0.4M421.1,468.3l-0.6,0.3M467.9,477.2l0.6,0.3M441.1,486.5l0.7,-0.1M470.9,547.6l-0.2,-0.7M458.4,553.5l-0.3,0.6M443.7,565l-0.6,0.3M459.8,570.6l0.2,0.7M463.4,577.7l0.5,0.4M436,585l0.3,-0.6M428.1,596.3l-0.3,0.6M443,604.8l0.3,-0.6M421.3,608.9l0.7,-0.2M452.5,611l0.3,-0.6"/>
<path stroke="#005eff" stroke-width="1.8" d="M454.4,458.9l0.2,0.7M464.2,477.2l-0.1,0.7M454.3,492.2l0.4,-0.6M460,492.4l-0.1,-0.7M437.3,504.5l0.6,0.4M442.4,529.6l-0.4,-0.6M469.4,529.4l0.7,0M431.1,536.4l0,-0.7M458.4,540.8l0,0.7M426.2,553.8l-0.5,0.5M427.6,559l-0.4,0.6M449.1,559.7l0.1,0.7M427.3,572.3l0.5,-0.5M454.2,578.8l-0.4,0.6M455.2,584.4l-0.4,0.5M426.1,610.8l0.1,-0.7M459.4,609.4l-0.5,0.5"/>
<path stroke="#008bff" stroke-width="1.8" d="M474.5,458.3l0.2,0.7M447.6,465.2l0.1,0.7M463.5,474l0.3,-0.6M454.5,502.3l0.1,0.7M442.3,510.3l-0.2,0.7M442.8,516.8l-0.2,-0.7M457.7,516.8l0.4,-0.6M448.6,554.3l0.1,-0.7M431.4,560.2l-0.2,-0.7M469.2,566.7l0.5,-0.4M448.4,572.6l-0.4,0.6M469.7,573.8l-0.2,-0.7M444.3,585.8l-0.3,-0.6M465,584.1l0,0.7M476.5,585l-0.6,-0.3M453.3,591.7l0,-0.7M454.1,597.5l0,-0.7M442.6,608.9l0,0.7"/>
<path stroke="#eeff11" stroke-width="1.8" d="M438.1,466.3l0,0.8M453.5,477.5l-0.6,0.6M475.5,483.3l0,0.8M444.1,536.2l-0.1,-0.8M453.4,536.3l0.4,-0.7M474.5,534.1l0,0.8M448.9,609.5l-0.7,0.4"/>
<path stroke="#ffe300" stroke-width="1.8" d="M442.8,467.5l0.7,-0.5M452.8,498l0.7,0.3M437.2,509.4l0,0.8M460.5,509.7l-0.7,0.4M443.6,553.8l-0.7,0.3M474,597.2l0.3,0.7M448.8,614.6l-0.2,0.8"/>
<path stroke="#ff8b00" stroke-width="1.8" d="M470.8,464.8l-0.4,0.7M448.6,474.8l0.3,-0.8M460.1,473.2l-0.2,-0.8M427,479.9l0.2,0.8M432.3,479.4l-0.2,0.8M441.5,480.3l0.6,-0.5M458.2,478.8l0,0.8M431.7,485.8l0.1,0.8M452.2,485.5l0.5,-0.7M458.9,483.7l-0.7,0.4M448,497.9l-0.8,0M427.4,510.7l-0.5,0.6M452.9,511l0,-0.8M471,508.4l-0.2,0.8M464.9,523.7l-0.3,-0.8M436.7,542.2l0.3,-0.8M436.8,549.5l0.1,-0.8M475.4,545.9l-0.4,0.7M437.4,564.8l-0.4,0.7M443,574.1l0.3,-0.7M438.5,577.3l-0.1,0.8M459.9,584.3l-0.5,0.6M421.8,591.1l0.2,-0.8M465.5,609l-0.6,0.5"/>
<path stroke="#0006ff" stroke-width="1.8" d="M474.9,466.4l0.3,-0.6M459.2,497.5l-0.7,0M441.8,540.4l0,0.7M465.2,561.4l-0.3,-0.6M453.7,571.5l0.1,0.7M426.8,590.1l-0.7,0M426.9,603.6l0.3,-0.6M459.6,605l-0.4,-0.6M476.4,611.2l0,-0.7"/>
<path stroke="#d80000" stroke-width="1.8" d="M426.7,474.9l-0.4,-0.7M433.3,472.2l0,0.8M447.8,479.3l-0.4,0.7M438,485.8l0.2,0.8M470.9,485l-0.7,0.4M450.3,517.2l-0.8,-0.2M474.2,517l0.3,-0.8M447.8,536.1l-0.4,-0.7M431.8,539.8l0,0.8M465.4,540.3l0.1,0.8M453.1,546.4l0.5,0.6M464.8,546.3l0.4,0.7M432.3,579.6l-0.3,-0.8M427.7,585.8l0,-0.8M431,585.3l0,-0.8M437.4,591.5l0.4,-0.7"/>
<path stroke="#00e3ff" stroke-width="1.8" d="M442.5,473.6l-0.1,-0.7M437.7,478.4l0,0.7M474.2,491.9l0.5,-0.5M422.2,497.7l-0.6,0.4M438,516.8l-0.4,-0.6M420.2,523.6l0.2,-0.7M421.7,616l-0.2,-0.7"/>
<path stroke="#ffb700" stroke-width="1.8" d="M475.3,479.4l0.3,-0.8M436.9,492.3l-0.4,-0.7M427,497.1l0.6,0.5M422,504l-0.1,0.8M432,511.4l0.7,-0.4M428.3,530.3l-0.6,-0.6M432.3,530l0.2,-0.8M448.4,542.6l-0.3,-0.8M443.1,547.2l-0.5,0.6M448.6,547.4l0.4,0.7M452.4,560l0.4,0.7M459.4,561.3l0,-0.8M449.1,589.8l-0.5,0.6M458.8,590l-0.1,0.8M464.5,592.7l0.4,-0.7M447.8,597.3l0.3,-0.7M453.3,603.4l0.7,0.4M453,617.4l0.5,-0.6"/>
<path stroke="#ac0000" stroke-width="1.8" d="M428.1,491.2l-0.6,0.5M475.5,496.1l-0.7,0.4M437.2,561.5l-0.3,-0.7M474.4,589.4l-0.1,0.8M431.8,596.5l-0.7,0.4M443.7,615.7l0.4,0.7"/>
<path stroke="#96ff69" stroke-width="1.8" d="M463.5,490.2l-0.1,0.7M454.6,555.3l0.1,-0.8"/>
<path stroke="#0000ac" stroke-width="1.8" d="M433.2,498.5l-0.2,-0.7M463.3,498.3l0.7,-0.2M431.2,506l0,-0.7M470.4,504.3l0.3,-0.6M453.6,522.3l-0.1,0.7M474.4,603.1l-0.2,0.7M426.5,616.3l-0.7,0.2"/>
<path stroke="#ff0600" stroke-width="1.8" d="M436.7,498.5l-0.3,-0.7M425.8,505.9l0,-0.8M474,510l0.4,-0.7M465.4,515.8l0.1,0.8M432.7,523.2l-0.7,0.4M442.8,523.5l0.4,-0.7M447.1,523.8l0.3,-0.7M468.8,522l0.8,-0.2M464.9,527.6l-0.1,0.8M474.1,527.9l0.3,0.7M427,548.8l0.5,-0.6M459.6,545.9l-0.4,0.7M421.6,554.3l-0.4,-0.7M437.7,553.2l-0.6,0.6M476.4,552.1l-0.7,0.4M474.1,560.9l0.4,-0.7M463.2,565.8l0.1,0.8M465.1,571.7l-0.1,0.8M433.6,591.4l-0.7,0.3M421.8,598.1l0.3,-0.7"/>
<path stroke="#c2ff3d" stroke-width="1.8" d="M444.3,498.6l-0.7,0.4M459,595.8l-0.7,0.5"/>
<path stroke="#000080" stroke-width="1.8" d="M442.9,504.8l0.3,-0.7M468.9,555l0.1,-0.7M471,559.7l-0.4,0.6M421.6,571.7l-0.5,0.5M426,577.7l0.1,0.7M443.8,596.4l0.2,0.7M421.1,602.9l-0.6,-0.4"/>
<path stroke="#3dffc2" stroke-width="1.8" d="M421.4,510.3l-0.5,0.5M437.1,535.1l-0.3,0.6M475.8,565.8l-0.1,0.7M435.8,573.3l0.5,-0.5M470.5,601.7l-0.1,0.7"/>
<path stroke="#0000d8" stroke-width="1.8" d="M453.8,527.5l0.2,0.7M459.1,529.5l-0.2,-0.7M468.9,592l0,-0.7M437.6,598.9l0.1,-0.7M436.1,604.7l0.3,-0.6M438.1,609.3l-0.5,-0.5"/>
<path stroke="#11ffee" stroke-width="1.8" d="M465.1,535.8l0.1,-0.7M420.2,549.3l0.2,-0.7M432.2,571.9l0.2,0.7M459.9,579.9l-0.3,-0.6M463.3,596.8l0,0.7M431.7,609.5l-0.3,0.6"/>
<path stroke="#ff3200" stroke-width="1.2" d="M285.9,456.7h0M291.6,455.8h0M296.2,459.7h0M303.6,463.9h0M308.9,461.4h0M331.5,461.8h0M294.1,473.4h0M326.6,471.7h0M315.6,485.2h0M338.1,485h0M299,495.8h0M305.2,503.2h0M284.5,521.2h0M285.1,525.7h0M286.7,538h0M309.5,536.7h0M337.6,540.4h0M286.3,548.2h0M290,548.3h0M337.9,555.9h0M297.6,557.3h0M310.1,559.6h0M331.6,556.3h0M287,566.3h0M310.3,569.7h0M291.1,575.1h0M288.6,590.6h0M315.7,589.6h0M334.9,588.5h0M297.5,609.3h0M368.3,469.2h0M386.5,470.4h0M389.2,473.5h0M394.3,474.5h0M408.6,497.1h0M408.9,521.8h0M398.5,528.2h0M387.7,544.8h0M398.7,545.9h0M408.9,545.3h0M366.3,557h0M362.9,567.3h0M387.4,597.1h0M385.2,610.9h0M459.1,468.1h0M469.8,478.2h0M443.1,486.2h0M475.7,490.3h0M441.8,512.3h0M442.1,514.9h0M452.9,518.5h0M420.8,521.5h0M453.3,524.3h0M436.2,537h0M424.7,555.4h0M469.2,552.9h0M426.4,560.7h0M443.2,558.3h0M449.5,561.8h0M464.4,559.5h0M469.9,561.5h0M469.2,571.8h0M464.9,586.2h0M474.6,584.2h0M453.2,589.6h0M423.3,608.2h0"/>
<path stroke="#ff0600" stroke-width="1.2" d="M299.1,456.1h0M339,456.2h0M284.5,483.4h0M286.2,507h0M328.2,508.5h0M333.8,506.2h0M299.7,512.4h0M328.3,511.3h0M312.5,520.4h0M327.6,523.6h0M315.6,535.8h0M319.8,540.6h0M304.9,572.2h0M299.5,575.7h0M303.7,577.8h0M340,582h0M287.4,592h0M320.2,593.6h0M327.9,595.2h0M289.4,600.2h0M328.5,599.6h0M341.2,610.3h0M358.3,470.6h0M368,486.4h0M388.8,526.2h0M385.5,538.2h0M390.6,562h0M382,567.5h0M395.1,568.4h0M389.3,574.6h0M369.1,579.9h0M391,598.8h0M448.1,460h0M455.1,460.9h0M470.5,460.4h0M442.1,471.5h0M448.2,487h0M449.1,490.7h0M420.4,498.8h0M457.1,497.6h0M419.9,511.9h0M431.5,515.3h0M448.8,552.3h0M447.3,574.4h0M458.9,578h0M424.7,590.1h0M469.4,597h0M419.5,601.6h0M444.1,603h0M470.3,603.8h0M473.8,605.1h0M436.7,607.8h0M457.9,610.9h0M476.4,609.1h0"/>
<path stroke="#800000" stroke-width="1.2" d="M300.6,457h0M330.2,480.1h0M331.2,493.9h0M308.5,515.6h0M328.3,531.6h0M292.5,541.9h0M384.9,544.1h0M471.4,502.4h0M458.6,527.4h0M457.5,555.4h0M420.2,573.3h0M426.2,579.8h0M426.5,608.7h0"/>
<path stroke="#ffe300" stroke-width="1.2" d="M307.6,454.8h0M319.9,485.9h0M290.7,490h0M303.1,566h0M335.8,564.8h0M388.7,521.1h0M375.8,544.3h0M388,585.8h0M409.2,597.4h0M437.7,480.5h0M432.5,496.5h0M431.2,503.9h0M462.7,502.6h0M422.3,519h0M420.9,547.3h0M453.9,573.6h0M460.4,572.6h0M444.5,598.3h0"/>
<path stroke="#00e3ff" stroke-width="1.2" d="M312,455.4h0M324.2,454h0M321.5,468.7h0M314.7,481.4h0M290.1,485.4h0M300.7,485.5h0M339,496.8h0M316.3,502.3h0M316.1,513.8h0M340.5,513.4h0M337.6,529.8h0M325.9,545.3h0M339.9,547.8h0M317,559.8h0M319.4,573.7h0M302.1,581.1h0M301.9,587.3h0M304.3,593.3h0M314.8,599.9h0M308,612.9h0M383.7,469.6h0M396.7,475.1h0M360.5,492.3h0M360.6,499.3h0M404.9,498h0M368.3,505h0M374.7,503.1h0M400.1,503.3h0M393.8,509.3h0M382.2,521.6h0M394.7,535.7h0M404.9,538.9h0M363.5,550.3h0M395.2,559.2h0M405.7,557.3h0M371.2,560.6h0M378.2,568.4h0M371.2,575.3h0M377.6,572.5h0M372.3,578.1h0M406.5,592.9h0M369.4,597.4h0M377.5,598.7h0M396.1,605.3h0M438.1,468.5h0M453.6,466.9h0M438.8,471.3h0M449.3,472.8h0M427.6,482h0M446.7,481.2h0M422.1,488.1h0M453.5,483.7h0M431.3,493.2h0M435.9,496.5h0M442.5,499.6h0M473.6,497.1h0M425.9,503.7h0M459.7,504.1h0M448.2,516.7h0M438.5,521.8h0M423.3,530.1h0M443.8,534h0M465.7,542.4h0M454.4,548.1h0M459.3,559.2h0M427.1,566h0M431.6,577.6h0M420.1,586.5h0M427.6,583.7h0M458.5,592.1h0M474,591.5h0"/>
<path stroke="#d80000" stroke-width="1.2" d="M319.6,458.1h0M332.2,458.5h0M321.7,459.6h0M318.1,466.4h0M320.1,490.8h0M320,498.1h0M331.5,511.2h0M338,519.6h0M305.6,526.6h0M329.2,525h0M299.9,531.8h0M304.8,536.4h0M301.3,544h0M317.9,542h0M311.6,548.3h0M313.7,548.3h0M292.1,554.6h0M296.2,551.4h0M293.3,560h0M301.8,557.5h0M336,572.8h0M307,583.3h0M297.4,591.9h0M332.3,605.3h0M376.8,470.1h0M402.4,469.8h0M401.7,473.1h0M386.9,481.2h0M372.8,499h0M378.9,514.1h0M373.2,533.8h0M382.6,534h0M397.3,532.8h0M366.2,546.2h0M374.4,563.6h0M405.4,575.5h0M410.9,586.7h0M394.3,593.9h0M469.6,516.9h0M441.7,542.5h0M448.9,564.4h0M454.9,565.9h0M437,583.1h0M448.9,584.1h0M427.7,601.7h0M453.4,609.1h0"/>
<path stroke="#00b7ff" stroke-width="1.2" d="M289.5,460.6h0M294.4,469.2h0M308.5,479.9h0M325.3,477.4h0M338,490.1h0M302.2,532.2h0M301.8,543.8h0M329.8,541.2h0M319.9,558.2h0M315.9,570.1h0M307.6,574.6h0M332.4,584.4h0M308.9,590.3h0M309.7,598.8h0M308.7,606.5h0M399.1,469.5h0M362.5,475.1h0M366.6,474.2h0M392.9,481.8h0M398.4,479.8h0M388.4,491.4h0M398.3,497h0M369.4,508.8h0M358.8,517.4h0M395.4,516.6h0M398.7,515.4h0M380.1,526.8h0M359.6,537.9h0M393.8,550.3h0M380.7,556.3h0M388.5,557.4h0M385.6,562.2h0M400.5,563.3h0M368.8,568.1h0M405,569.2h0M394.6,576.3h0M380.2,587h0M395.7,586.3h0M406.3,586.3h0M393.1,610h0M422.4,461h0M437.2,461.8h0M465.4,465.8h0M469.6,466.6h0M433.3,474.4h0M459.7,471.1h0M421.8,479.7h0M431.7,481.5h0M432,487.9h0M457.1,484.9h0M469,486h0M454.8,498.8h0M437.2,511.5h0M447.8,511.7h0M452.9,508.8h0M430.8,524.2h0M448,521.8h0M464.2,521.7h0M426.7,528.8h0M446.7,534.2h0M437.4,540.1h0M431.6,549.1h0M441.8,548.9h0M436.2,554.7h0M454.9,553.2h0M474.5,553.1h0M453.6,561.7h0M463.4,568h0M443.9,572.1h0M464.9,573.8h0M469.7,585.3h0M465.4,590.8h0M463.7,605.7h0M447.2,610.7h0M463.9,610.4h0M469.6,611.6h0M454.3,615.7h0"/>
<path stroke="#11ffee" stroke-width="1.2" d="M293.1,462.7h0M316.6,461.8h0M330.5,466.7h0M338.8,466.2h0M330.4,473.3h0M309.6,488.2h0M314.3,489.6h0M323.4,492h0M315.6,496.2h0M298,503.5h0M309.4,500.1h0M336,499.8h0M339.5,509h0M301.8,513.6h0M314.9,519.4h0M286.8,531.1h0M292.8,530h0M308.5,541.3h0M326.2,554.9h0M309.8,566.3h0M319.3,566.2h0M325.9,573.3h0M321,583.5h0M317.2,605.2h0M329.5,604.9h0M357.7,476.1h0M360.6,485.6h0M391.7,488.1h0M408.8,487h0M368,499.2h0M403.1,512.1h0M386.2,527.6h0M379.4,534.1h0M370.6,545.1h0M381.1,551.3h0M384.5,551.7h0M408.3,565h0M366.7,575.2h0M399.1,580.8h0M362.5,584.5h0M375.4,585.5h0M373.6,591.4h0M373.8,595.8h0M444.5,466.3h0M421.7,473h0M476,471.8h0M476.1,477.4h0M465.9,484.5h0M420.2,493h0M428.6,498.6h0M460.3,523.6h0M449.7,549.3h0M431.2,552.3h0M441.6,554.6h0M422,565.7h0M432,603.8h0M449,603.9h0"/>
<path stroke="#008bff" stroke-width="1.2" d="M324.2,462h0M325.9,466.6h0M305.9,474.1h0M312.2,474.6h0M306.6,508.7h0M310.2,506.8h0M319.5,514h0M291.9,527.6h0M309.4,529h0M300.2,547.6h0M291.4,570.9h0M338,589.1h0M336.2,593.8h0M372.1,479.3h0M378.6,479.4h0M363.9,485.8h0M366,492.4h0M366.9,491.7h0M384.4,510.1h0M382.7,516.6h0M397.1,521.6h0M407.7,528.8h0M394.1,546.3h0M375.1,549.2h0M374.4,556.3h0M379.6,580.8h0M367.9,587.2h0M366.4,591.6h0M380.2,593.5h0M399.5,600.4h0M371.7,604h0M389.8,605h0M400.3,603h0M405.4,606.1h0M407.4,605.8h0M458.1,459.2h0M451.9,479h0M425.7,485.2h0M438.7,487.8h0M435.7,490.5h0M445.9,497.9h0M458.7,510.9h0M475.1,508.1h0M432.8,528h0M448.8,530.6h0M475,529.9h0M427.8,535.7h0M465.9,548.1h0M436.5,559.5h0M475,573.5h0M449.6,577.9h0M422.2,589h0M443.9,590.3h0M422.5,596.1h0M444.6,617.6h0"/>
<path stroke="#005eff" stroke-width="1.2" d="M337,463h0M293.6,496.9h0M307.9,494.8h0M286.1,513.3h0M325.9,534.6h0M305.1,552.2h0M327.3,557.1h0M287.3,575.2h0M293.1,593.2h0M337,602.8h0M327.4,610.4h0M358.1,481.9h0M372.2,487.4h0M380.5,493.5h0M362.3,498.4h0M379.8,503.9h0M364,510.7h0M377.2,510.3h0M364.1,515.6h0M408.6,516.1h0M371,522.2h0M405.4,521.7h0M369.5,527.6h0M365.9,540.5h0M406.6,558.4h0M379.9,562.6h0M395.3,562.5h0M370.3,567.6h0M361.6,578.4h0M384.6,579.2h0M390.8,591.7h0M408.9,592.7h0M380.3,598.1h0M425.6,473.1h0M470.4,510.5h0M474.9,515h0M421.8,536.6h0M426.6,541.6h0M474.4,547.8h0M436.2,566.6h0M468.6,579.7h0M458.7,586.1h0M429.9,597.6h0M448.6,595.3h0M474.6,614.5h0"/>
<path stroke="#69ff96" stroke-width="1.2" d="M285.2,466.7h0M313,507.5h0M317.5,581.4h0M297.2,587.7h0M383.3,502.9h0M369.1,516.7h0M373.8,585.6h0M361.7,602.4h0M433.9,510.4h0M426.2,523.5h0M458.6,547.8h0"/>
<path stroke="#ff5e00" stroke-width="1.2" d="M297.3,469.2h0M307.9,474.1h0M296.9,477.3h0M322.6,479h0M327.7,482.2h0M287.2,502.4h0M329.1,518.1h0M331.4,519.5h0M315.3,531.2h0M320,531.2h0M331.9,529.5h0M329.7,535.8h0M339.3,538.6h0M303,548.4h0M333.2,548.7h0M315.3,553.5h0M339.7,560.2h0M293.8,563.5h0M332.6,565.5h0M284.8,572.5h0M334.6,569.5h0M333.9,577h0M339.4,575.5h0M289.8,583.4h0M316.9,592.9h0M321.9,597.1h0M383.4,488.3h0M402.1,486.8h0M408.3,492.8h0M400.3,511.1h0M374.3,516.9h0M373.7,523.2h0M374.3,538.8h0M405.3,546.7h0M410.1,569.3h0M380.8,574.8h0M384.4,603.4h0M406.2,610.3h0M426.9,469.2h0M447.7,467.3h0M464.3,472.1h0M463.8,479.2h0M455.5,490.5h0M459.8,490.3h0M465.3,497.8h0M439,505.7h0M454.8,504.4h0M458.8,515h0M476.1,521.7h0M454.3,529.6h0M471.5,529.4h0M465.4,533.7h0M468.9,542.8h0M474.8,541.6h0M470.4,545.6h0M464.9,553h0M433.4,565.3h0M470.8,565.4h0M475.4,567.9h0M453.9,586h0M468.8,589.9h0M427.3,598.2h0M438,596.8h0M454.1,595.4h0M442.7,611h0M424.5,617h0M464.2,617.9h0"/>
<path stroke="#0032ff" stroke-width="1.2" d="M304,470.1h0M338.6,476.8h0M333.3,486.6h0M318.6,506h0M327,542.7h0M298,571.2h0M294.6,589.9h0M306,601.2h0M287.2,611.5h0M405.9,475.5h0M390,486.5h0M382.5,493.5h0M398.8,492.9h0M390,497.7h0M393.1,499.2h0M389,508.7h0M378.7,521.5h0M409.5,532.9h0M379.7,539.9h0M369.7,557.8h0M361,563.4h0M385.1,567.5h0M401.3,569.3h0M362.8,572.5h0M385.3,575.7h0M375.5,580h0M400,593.9h0M367.4,603.2h0M410.5,610.1h0M443.2,479h0M421.7,506.1h0M428.2,547.1h0M475.2,559h0M458.9,568h0M438.1,579.5h0M475.8,577.8h0M447.7,591.5h0M455.1,604.5h0"/>
<path stroke="#ff8b00" stroke-width="1.2" d="M309,466.4h0M289.3,473.3h0M298.5,472.2h0M285.4,479.5h0M291.7,479.9h0M299.4,483.7h0M308.3,486.2h0M295.4,488.5h0M331.4,488.6h0M302.6,494h0M329.8,501.8h0M292.4,507.7h0M294.5,518.7h0M303.6,517.3h0M293.9,538.6h0M319.9,537.3h0M284.9,543.9h0M307,554.5h0M318.7,553.6h0M331.1,553.5h0M301.2,564.5h0M326.5,564.7h0M325,574.8h0M325.3,583.4h0M297.7,600.1h0M335.3,601.6h0M289.5,605.7h0M321.5,604.9h0M305.2,612.3h0M372.7,475.1h0M365.3,482.1h0M379.3,486.2h0M402.5,504.4h0M361.5,531.8h0M372.1,539.2h0M369.8,551.6h0M362.8,556.4h0M385.9,556.4h0M400.2,556.4h0M407.3,576.7h0M406,598.9h0M382.1,604.1h0M475,460.3h0M475.9,464.6h0M463.1,492.2h0M443.7,502.8h0M441.3,527.8h0M458.5,542.9h0M430.9,558.2h0M428.7,570.8h0M432.9,573.9h0M437.3,571.8h0M453.1,580.6h0M463.4,598.9h0M437,602.8h0M458.3,603.3h0M430.8,611.3h0M433.1,615.2h0"/>
<path stroke="#0006ff" stroke-width="1.2" d="M320.4,473.9h0M285.4,489.7h0M285.1,496h0M323,588.3h0M369.5,480.4h0M401.8,481.5h0M360.5,503.7h0M390,503.7h0M389.1,516.6h0M363.4,522h0M393.6,523.6h0M365.6,527.7h0M388.8,539.7h0M381,547h0M404.8,550.6h0M395,598.8h0M380.5,609.1h0M442.5,460.4h0M463.3,460.8h0M470.6,490.7h0M425.2,517.3h0M465.8,518h0M454.4,534.4h0M458.6,536.4h0M422,541.4h0M431.8,542h0M453.7,539.6h0M419.7,562.3h0M420.4,580h0M431.1,583.2h0M438.6,589.7h0M448.2,616.7h0"/>
<path stroke="#ffb700" stroke-width="1.2" d="M335.6,474.1h0M303.2,488.5h0M321.3,502h0M293,514.3h0M298.9,519.2h0M321.1,521.4h0M298.2,526.2h0M313,577h0M291.8,582.5h0M305.7,584h0M310.1,595.9h0M302.3,605.1h0M317.5,610.9h0M371.2,469.8h0M376.7,475h0M402.7,493.4h0M403,532.7h0M365.5,551.7h0M386.3,591.4h0M377.7,602.1h0M400.2,609.7h0M419.3,469.3h0M431,534.3h0M443.6,579.7h0M465.1,579h0"/>
<path stroke="#0000ac" stroke-width="1.2" d="M304.4,480.8h0M392.1,469.7h0M377.7,497.7h0M408.7,505.2h0M390.6,588.2h0M431.3,460.2h0M420.7,552.3h0M457.3,597h0"/>
<path stroke="#0000d8" stroke-width="1.2" d="M325.7,494h0M328.3,503.7h0M287.2,555.7h0M332,591.5h0M294.3,597h0M362.4,467.6h0M397.4,486.6h0M384,497.4h0M374.4,527h0M394.1,529.1h0M389.5,533.2h0M407.2,541.2h0M402.7,564.6h0M391.1,567.3h0M405.1,579.6h0M399.4,587.3h0M426.4,492.6h0M446.9,504.2h0M470.8,521.4h0M474.9,599.2h0"/>
<path stroke="#3dffc2" stroke-width="1.2" d="M292.2,502.9h0M301.3,507.7h0M315.3,526.3h0M321.2,522.1h0M337.5,525.4h0M300.1,536.9h0M319.7,547.5h0M287.5,559.2h0M318.9,571.4h0M327.1,587.5h0M336.1,600.3h0M293.7,609.3h0M407.6,469.4h0M406.8,481.6h0M391.1,493h0M405,516.7h0M358.8,521.8h0M364,532.6h0M370.3,531.5h0M392.7,539.9h0M399.4,539.6h0M398.1,552.2h0M407.5,552.5h0M398.4,574.9h0M454,471.3h0M469.7,473.8h0M475.5,485.4h0M468.3,499h0M443.9,521.7h0M437.5,530.6h0M464.6,529.7h0M469.2,536.8h0M474.6,536.3h0M447.7,540.6h0M437,547.4h0M431.7,592.3h0M436.6,617.1h0M469.7,616.4h0"/>
<path stroke="#ac0000" stroke-width="1.2" d="M310.6,526.1h0M315.1,566.1h0M292.2,604.2h0M298.9,605.9h0M373.6,494.1h0M388.7,552.3h0M362.1,592h0M426.3,461.1h0M437,515h0M421.1,614h0M457.9,617.1h0"/>
<path stroke="#c2ff3d" stroke-width="1.2" d="M322.2,610.6h0M365.4,503.4h0M407.9,510.9h0M405.3,528.1h0"/>
<path stroke="#96ff69" stroke-width="1.2" d="M332.8,611.4h0M374.8,509.5h0M367.6,562.2h0M375.3,590.3h0M431.1,469.4h0M426.1,512.4h0"/>
<path stroke="#000080" stroke-width="1.2" d="M381.8,476.4h0M381.5,481.2h0M360,509.6h0M408,582h0M474,505h0"/>
<path stroke="#eeff11" stroke-width="1.2" d="M393.9,502.7h0M361.3,527.5h0M361.6,543.1h0M389.5,580.7h0M396.6,580.2h0M363.4,596.3h0M394.4,610.1h0M458,481h0M441.9,493.4h0M464,511h0M441.8,565.9h0M443.5,583.9h0"/>
<path stroke="#ffe300" stroke-width="1" d="M366,470.6h0M373.9,470.1h0M404.4,468h0M388.2,475.9h0M363.4,488.4h0M378.1,492.3h0M364.7,497.3h0M360.2,515.2h0M374.2,514.3h0M384.8,514.9h0M393.6,514.7h0M384.1,529.2h0M360.3,534.1h0M375.9,533.7h0M385.1,533.2h0M376.9,538.5h0M397.9,557.8h0M362.8,561.4h0M390.4,569.9h0M398.8,568.3h0M368.5,573.3h0M386.6,573.4h0M377.8,578.8h0M382.9,598.1h0M374.2,603h0M391.1,602.7h0M404.6,603.6h0"/>
<path stroke="#ff8b00" stroke-width="1" d="M388.7,469h0M396.5,469.6h0M369.1,475h0M391.7,474.8h0M380.3,497.9h0M368.4,511.2h0M402.7,515.4h0M404.1,553.1h0M365.2,563.3h0M360.3,567.2h0M366.4,569.2h0M402.8,575h0M371.4,580.6h0M385.8,581.6h0M391.8,585.8h0M378.7,596.3h0M408.8,612.2h0"/>
<path stroke="#c2ff3d" stroke-width="1" d="M365,476h0M382.3,499.5h0M397.1,499.4h0M379.8,509.7h0M397.8,510.4h0M399.7,550h0"/>
<path stroke="#eeff11" stroke-width="1" d="M383.4,474.3h0M394,479.4h0M407.1,479h0M400.1,486.7h0M404,484.9h0M374.6,497.1h0M365.7,520.8h0M372.2,527.7h0M400.7,526.7h0M403.6,544.6h0M407.5,569.7h0M382.6,572.8h0M395.1,573.7h0M409,574.7h0M377.1,592.2h0M403.9,593.5h0M362,598.5h0M367.1,596.1h0"/>
<path stroke="#ff5e00" stroke-width="1" d="M408.5,475.1h0M370.2,497.8h0M382.2,511.6h0M393.6,526.5h0M383.6,563.9h0M376.1,574.7h0M401.4,582.2h0M394.1,603.6h0"/>
<path stroke="#ffb700" stroke-width="1" d="M362.8,481.4h0M403.4,479.4h0M392.8,485.7h0M362.9,504.5h0M370.9,504.7h0M377.2,504.5h0M406.2,504.2h0M365.2,508.3h0M370.1,519.7h0M391.1,522.2h0M399.8,521.9h0M377,526.8h0M384.1,540.4h0M391.2,538.5h0M366.9,543.6h0M375,546.8h0M407.2,547.4h0M360.1,556.2h0M387.3,569.1h0M408.3,587.3h0M381.9,591.4h0M391.8,596.3h0M397,609.8h0"/>
<path stroke="#ff0600" stroke-width="1" d="M396.2,493.5h0"/>
<path stroke="#ff3200" stroke-width="1" d="M395.1,521.4h0M371.3,586.4h0"/>
<path stroke="#69ff96" stroke-width="1" d="M406.6,523.2h0"/>
<path stroke="#96ff69" stroke-width="1" d="M368.6,584.7h0"/>
</g>
<rect x="486.3" y="438.8" width="9.8" height="191.8" fill="url(#jet)" stroke="#555" stroke-opacity="0.55" stroke-width="0.35"/>
<text x="497.6" y="440.6" font-family='"Liberation Sans", "DejaVu Sans", sans-serif' font-size="2.9" fill="#333">0.03</text>
<text x="497.6" y="488.5" font-family='"Liberation Sans", "DejaVu Sans", sans-serif' font-size="2.9" fill="#333">0.015</text>
<path d="M496.1,486.9h-1.2" stroke="#333" stroke-width="0.4"/>
<text x="497.6" y="536.4" font-family='"Liberation Sans", "DejaVu Sans", sans-serif' font-size="2.9" fill="#333">0</text>
<path d="M496.1,534.8h-1.2" stroke="#333" stroke-width="0.4"/>
<text x="497.6" y="584.2" font-family='"Liberation Sans", "DejaVu Sans", sans-serif' font-size="2.9" fill="#333">-0.015</text>
<path d="M496.1,582.6h-1.2" stroke="#333" stroke-width="0.4"/>
<text x="497.6" y="632.1" font-family='"Liberation Sans", "DejaVu Sans", sans-serif' font-size="2.9" fill="#333">-0.03</text>
<text x="390.6" y="646.8" text-anchor="middle" font-family='"Liberation Serif", "DejaVu Serif", serif' font-size="10.7" letter-spacing="0.4" fill="#111">(<tspan font-weight="bold">f</tspan>)</text>
<g stroke="#3a3a3a" stroke-width="0.8" fill="none">
<path d="M575.3,3.3V150.9H773.5"/>
<path d="M575.3,15.6h-2.8M575.3,3.3h-1.6M575.3,40.1h-2.8M575.3,27.9h-1.6M575.3,64.6h-2.8M575.3,52.3h-1.6M575.3,89.1h-2.8M575.3,76.8h-1.6M575.3,113.6h-2.8M575.3,101.3h-1.6M575.3,138.1h-2.8M575.3,125.8h-1.6M575.3,150.3h-1.6M575.3,150.9v2.6M587.7,150.9v1.5M600.1,150.9v2.6M612.5,150.9v1.5M624.8,150.9v2.6M637.2,150.9v1.5M649.6,150.9v2.6M662.0,150.9v1.5M674.4,150.9v2.6M686.8,150.9v1.5M699.2,150.9v2.6M711.6,150.9v1.5M723.9,150.9v2.6M736.3,150.9v1.5M748.7,150.9v2.6M761.1,150.9v1.5M773.5,150.9v2.6"/>
</g>
<g font-family='"Liberation Serif", "DejaVu Serif", serif' font-size="8.8" fill="#222" stroke="#222" stroke-width="0.18">
<text x="571.3" y="18.5" text-anchor="end">0.09</text>
<text x="571.3" y="43.0" text-anchor="end">0.08</text>
<text x="571.3" y="67.5" text-anchor="end">0.07</text>
<text x="571.3" y="92.0" text-anchor="end">0.06</text>
<text x="571.3" y="116.5" text-anchor="end">0.05</text>
<text x="571.3" y="141.0" text-anchor="end">0.04</text>
<text x="575.7" y="162.9" text-anchor="middle">900</text>
<text x="600.5" y="162.9" text-anchor="middle">1000</text>
<text x="625.2" y="162.9" text-anchor="middle">1100</text>
<text x="650.0" y="162.9" text-anchor="middle">1200</text>
<text x="674.8" y="162.9" text-anchor="middle">1300</text>
<text x="699.6" y="162.9" text-anchor="middle">1400</text>
<text x="724.3" y="162.9" text-anchor="middle">1500</text>
<text x="749.1" y="162.9" text-anchor="middle">1600</text>
<text x="773.9" y="162.9" text-anchor="middle">1700</text>
</g>
<text x="674.0" y="178.2" text-anchor="middle" font-family='"Liberation Serif", "DejaVu Serif", serif' font-size="10" fill="#222" stroke="#222" stroke-width="0.18">Wavelength (nm)</text>
<text transform="translate(544.6,80.3) rotate(-90)" text-anchor="middle" font-family='"Liberation Serif", "DejaVu Serif", serif' font-size="10" fill="#222" stroke="#222" stroke-width="0.18">Loadings of PC1</text>
<text x="673.0" y="199.1" text-anchor="middle" font-family='"Liberation Serif", "DejaVu Serif", serif' font-size="11.8" letter-spacing="0.2" fill="#111">(<tspan font-weight="bold">a</tspan>)</text>
<path d="M593.8,35.6C594.1,35.7 594.8,36.3 595.6,36.2C596.4,36.1 597.2,35.6 598.5,34.8C599.8,34.0 602.2,32.3 604.0,31.0C605.8,29.7 608.1,27.9 610.0,26.5C611.9,25.1 614.2,23.5 616.0,22.3C617.8,21.1 619.4,20.1 621.0,19.3C622.6,18.5 624.6,17.4 626.0,17.2C627.4,17.0 628.4,17.4 629.5,18.2C630.6,19.0 631.6,20.1 633.0,22.0C634.4,23.9 636.4,27.4 638.0,30.0C639.6,32.6 641.6,36.3 643.0,38.5C644.4,40.7 645.7,42.7 647.0,44.0C648.3,45.3 650.1,46.5 651.4,46.6C652.7,46.7 654.0,45.3 655.0,44.5C656.0,43.7 656.6,42.3 657.6,41.3C658.6,40.3 659.9,38.8 661.0,38.0C662.1,37.2 663.1,36.7 664.4,36.3C665.7,35.9 667.5,35.8 669.0,35.7C670.5,35.6 672.4,35.5 673.6,35.5C674.8,35.5 675.7,35.7 676.5,36.0C677.3,36.3 678.1,36.9 678.9,37.5C679.7,38.1 680.6,39.0 681.3,39.8C682.0,40.6 682.7,41.5 683.4,42.8C684.1,44.1 685.0,46.0 685.7,48.0C686.4,50.0 687.2,52.4 688.0,55.0C688.8,57.6 689.9,61.4 691.0,64.1C692.1,66.8 693.7,68.8 694.8,71.7C695.9,74.6 696.9,77.9 697.9,82.3C698.9,86.7 700.2,94.6 700.9,99.0C701.6,103.4 701.8,106.5 702.4,109.8C703.0,113.1 704.0,117.0 704.7,119.5C705.4,122.0 706.2,123.8 707.0,125.7C707.8,127.6 708.7,130.0 709.5,131.5C710.3,133.0 711.3,134.7 712.3,135.1C713.3,135.5 714.5,134.6 715.5,134.3C716.5,134.0 717.2,133.8 718.4,133.3C719.6,132.8 721.4,132.1 722.9,131.0C724.4,129.9 725.8,127.9 727.5,126.5C729.2,125.1 731.9,123.3 733.6,122.4C735.3,121.5 736.6,121.3 738.1,120.9C739.6,120.5 741.0,120.6 742.7,119.9C744.4,119.2 746.9,117.7 748.8,116.6C750.7,115.5 752.7,114.3 754.5,113.2C756.3,112.1 759.3,110.3 760.2,109.8" fill="none" stroke="#1c1c1c" stroke-width="1.08" stroke-linejoin="round" stroke-linecap="round"/>
<rect x="624.2" y="15.5" width="3.6" height="3.4" fill="#ff0a0a"/>
<rect x="649.6" y="44.9" width="3.6" height="3.4" fill="#ff0a0a"/>
<rect x="671.8" y="33.8" width="3.6" height="3.4" fill="#ff0a0a"/>
<rect x="710.5" y="133.4" width="3.6" height="3.4" fill="#ff0a0a"/>
<text x="626.4" y="11.6" text-anchor="middle" font-family='"Liberation Serif", "DejaVu Serif", serif' font-size="8.2" fill="#222" stroke="#222" stroke-width="0.15">1103 nm</text>
<text x="652.3" y="56.6" text-anchor="middle" font-family='"Liberation Serif", "DejaVu Serif", serif' font-size="8.2" fill="#222" stroke="#222" stroke-width="0.15">1207 nm</text>
<text x="674.0" y="29.8" text-anchor="middle" font-family='"Liberation Serif", "DejaVu Serif", serif' font-size="8.2" fill="#222" stroke="#222" stroke-width="0.15">1294 nm</text>
<text x="713.4" y="144.8" text-anchor="middle" font-family='"Liberation Serif", "DejaVu Serif", serif' font-size="8.2" fill="#222" stroke="#222" stroke-width="0.15">1453 nm</text>
<g stroke="#3a3a3a" stroke-width="0.8" fill="none">
<path d="M888.6,3.3V151.0H1086.8"/>
<path d="M888.6,17.2h-2.8M888.6,3.9h-1.6M888.6,43.8h-2.8M888.6,30.5h-1.6M888.6,70.4h-2.8M888.6,57.1h-1.6M888.6,97.0h-2.8M888.6,83.7h-1.6M888.6,123.6h-2.8M888.6,110.3h-1.6M888.6,150.2h-2.8M888.6,136.9h-1.6M888.6,151.0v2.6M901.0,151.0v1.5M913.4,151.0v2.6M925.8,151.0v1.5M938.1,151.0v2.6M950.5,151.0v1.5M962.9,151.0v2.6M975.3,151.0v1.5M987.7,151.0v2.6M1000.1,151.0v1.5M1012.5,151.0v2.6M1024.9,151.0v1.5M1037.2,151.0v2.6M1049.6,151.0v1.5M1062.0,151.0v2.6M1074.4,151.0v1.5M1086.8,151.0v2.6"/>
</g>
<g font-family='"Liberation Serif", "DejaVu Serif", serif' font-size="8.8" fill="#222" stroke="#222" stroke-width="0.18">
<text x="884.6" y="20.1" text-anchor="end">0.15</text>
<text x="884.6" y="46.7" text-anchor="end">0.10</text>
<text x="884.6" y="73.3" text-anchor="end">0.05</text>
<text x="884.6" y="99.9" text-anchor="end">0.00</text>
<text x="884.6" y="126.5" text-anchor="end">-0.05</text>
<text x="884.6" y="153.1" text-anchor="end">-0.10</text>
<text x="889.0" y="163.0" text-anchor="middle">900</text>
<text x="913.8" y="163.0" text-anchor="middle">1000</text>
<text x="938.5" y="163.0" text-anchor="middle">1100</text>
<text x="963.3" y="163.0" text-anchor="middle">1200</text>
<text x="988.1" y="163.0" text-anchor="middle">1300</text>
<text x="1012.9" y="163.0" text-anchor="middle">1400</text>
<text x="1037.7" y="163.0" text-anchor="middle">1500</text>
<text x="1062.4" y="163.0" text-anchor="middle">1600</text>
<text x="1087.2" y="163.0" text-anchor="middle">1700</text>
</g>
<text x="987.3" y="178.3" text-anchor="middle" font-family='"Liberation Serif", "DejaVu Serif", serif' font-size="10" fill="#222" stroke="#222" stroke-width="0.18">Wavelength (nm)</text>
<text transform="translate(856.8,80.9) rotate(-90)" text-anchor="middle" font-family='"Liberation Serif", "DejaVu Serif", serif' font-size="10" fill="#222" stroke="#222" stroke-width="0.18">Loadings of PC2</text>
<text x="986.3" y="199.2" text-anchor="middle" font-family='"Liberation Serif", "DejaVu Serif", serif' font-size="11.8" letter-spacing="0.2" fill="#111">(<tspan font-weight="bold">b</tspan>)</text>
<path d="M907.0,132.5C907.6,132.4 909.3,132.0 910.5,131.8C911.7,131.6 913.0,131.3 914.3,131.4C915.6,131.5 917.0,131.9 918.5,132.2C920.0,132.5 921.7,133.0 923.4,133.3C925.1,133.6 927.3,133.8 929.0,133.9C930.7,134.0 932.7,134.2 934.1,134.2C935.5,134.2 936.9,134.1 938.0,133.8C939.1,133.5 939.8,133.6 940.9,132.6C942.0,131.6 943.1,130.2 944.7,127.6C946.3,125.0 948.8,119.6 950.8,116.2C952.8,112.8 955.2,108.6 956.9,106.4C958.6,104.2 960.0,103.4 961.4,102.6C962.8,101.8 964.2,101.4 965.5,101.3C966.8,101.2 968.5,101.1 969.8,101.8C971.1,102.5 972.4,104.8 973.6,105.9C974.8,107.0 975.9,108.1 977.4,108.6C978.9,109.1 981.3,108.9 982.7,109.1C984.1,109.3 984.9,110.0 986.2,109.8C987.5,109.6 989.7,109.1 991.1,107.9C992.5,106.7 993.7,104.9 994.9,102.6C996.1,100.3 997.5,96.2 998.7,93.4C999.9,90.6 1001.0,87.9 1002.5,85.1C1004.0,82.3 1006.5,79.2 1007.8,76.0C1009.1,72.8 1010.0,68.7 1010.8,65.3C1011.6,61.9 1012.4,58.0 1013.1,54.7C1013.8,51.4 1014.5,47.3 1015.3,44.8C1016.1,42.3 1017.3,40.3 1018.4,38.8C1019.5,37.3 1021.1,36.4 1022.2,35.7C1023.3,35.0 1024.3,34.7 1025.5,34.7C1026.7,34.7 1028.5,35.5 1030.0,36.0C1031.5,36.5 1033.1,36.7 1035.1,37.7C1037.1,38.7 1040.1,41.1 1042.7,42.2C1045.3,43.3 1048.5,44.0 1051.1,44.8C1053.7,45.6 1056.4,46.3 1058.7,47.4C1061.0,48.5 1063.7,50.6 1065.5,51.7C1067.3,52.8 1068.9,53.7 1070.1,54.0C1071.3,54.3 1072.4,53.7 1072.8,53.6" fill="none" stroke="#1c1c1c" stroke-width="1.08" stroke-linejoin="round" stroke-linecap="round"/>
<rect x="963.7" y="99.6" width="3.6" height="3.4" fill="#ff0a0a"/>
<rect x="984.4" y="108.1" width="3.6" height="3.4" fill="#ff0a0a"/>
<rect x="1023.7" y="33.0" width="3.6" height="3.4" fill="#ff0a0a"/>
<g stroke="#3a3a3a" stroke-width="0.8" fill="none">
<path d="M575.3,226.0V374.3H773.5"/>
<path d="M575.3,237.8h-2.8M575.3,226.4h-1.6M575.3,260.6h-2.8M575.3,249.2h-1.6M575.3,283.4h-2.8M575.3,272.0h-1.6M575.3,306.2h-2.8M575.3,294.8h-1.6M575.3,329.0h-2.8M575.3,317.6h-1.6M575.3,351.8h-2.8M575.3,340.4h-1.6M575.3,374.6h-2.8M575.3,363.2h-1.6M575.3,374.3v2.6M587.7,374.3v1.5M600.1,374.3v2.6M612.5,374.3v1.5M624.8,374.3v2.6M637.2,374.3v1.5M649.6,374.3v2.6M662.0,374.3v1.5M674.4,374.3v2.6M686.8,374.3v1.5M699.2,374.3v2.6M711.6,374.3v1.5M723.9,374.3v2.6M736.3,374.3v1.5M748.7,374.3v2.6M761.1,374.3v1.5M773.5,374.3v2.6"/>
</g>
<g font-family='"Liberation Serif", "DejaVu Serif", serif' font-size="8.8" fill="#222" stroke="#222" stroke-width="0.18">
<text x="571.3" y="240.7" text-anchor="end">0.15</text>
<text x="571.3" y="263.5" text-anchor="end">0.10</text>
<text x="571.3" y="286.3" text-anchor="end">0.05</text>
<text x="571.3" y="309.1" text-anchor="end">0.00</text>
<text x="571.3" y="331.9" text-anchor="end">-0.05</text>
<text x="571.3" y="354.7" text-anchor="end">-0.10</text>
<text x="571.3" y="377.5" text-anchor="end">-0.15</text>
<text x="575.7" y="386.3" text-anchor="middle">900</text>
<text x="600.5" y="386.3" text-anchor="middle">1000</text>
<text x="625.2" y="386.3" text-anchor="middle">1100</text>
<text x="650.0" y="386.3" text-anchor="middle">1200</text>
<text x="674.8" y="386.3" text-anchor="middle">1300</text>
<text x="699.6" y="386.3" text-anchor="middle">1400</text>
<text x="724.3" y="386.3" text-anchor="middle">1500</text>
<text x="749.1" y="386.3" text-anchor="middle">1600</text>
<text x="773.9" y="386.3" text-anchor="middle">1700</text>
</g>
<text x="674.0" y="402.0" text-anchor="middle" font-family='"Liberation Serif", "DejaVu Serif", serif' font-size="10" fill="#222" stroke="#222" stroke-width="0.18">Wavelength (nm)</text>
<text transform="translate(541.7,303.4) rotate(-90)" text-anchor="middle" font-family='"Liberation Serif", "DejaVu Serif", serif' font-size="10" fill="#222" stroke="#222" stroke-width="0.18">Loadings of PC3</text>
<text x="673.0" y="421.9" text-anchor="middle" font-family='"Liberation Serif", "DejaVu Serif", serif' font-size="11.8" letter-spacing="0.2" fill="#111">(<tspan font-weight="bold">c</tspan>)</text>
<path d="M594.6,240.1C595.0,240.2 596.1,239.8 596.9,240.8C597.7,241.8 598.7,243.6 599.9,246.2C601.1,248.8 603.0,253.9 604.5,256.8C606.0,259.7 607.3,261.5 609.0,264.4C610.7,267.3 613.1,271.7 615.1,275.0C617.1,278.3 619.2,282.0 621.2,284.9C623.2,287.8 625.6,291.3 627.3,293.3C629.0,295.3 630.3,296.5 631.8,297.5C633.3,298.5 634.7,299.1 636.4,299.5C638.1,299.9 640.9,299.8 642.5,300.1C644.1,300.4 645.3,301.1 646.3,301.2C647.3,301.3 647.9,300.4 648.8,301.0C649.7,301.6 651.1,303.4 652.0,305.0C652.9,306.6 654.0,308.3 654.6,311.0C655.2,313.7 655.3,318.1 655.5,321.7C655.7,325.3 655.5,330.2 655.8,333.8C656.1,337.4 656.7,341.8 657.4,344.5C658.1,347.2 659.4,348.7 660.4,350.5C661.4,352.3 662.4,354.5 663.4,355.9C664.4,357.3 665.4,358.8 666.5,359.4C667.6,360.0 669.2,359.3 670.3,359.7C671.4,360.1 672.3,361.3 673.3,361.9C674.3,362.5 675.5,363.7 676.7,363.5C677.9,363.3 679.6,362.0 680.9,360.4C682.2,358.8 683.5,356.1 684.7,353.6C685.9,351.1 687.2,347.2 688.5,344.5C689.8,341.8 691.8,339.8 693.1,336.9C694.4,334.0 695.8,330.3 696.9,326.2C698.0,322.1 698.9,315.9 699.9,311.0C700.9,306.1 701.9,299.7 702.9,295.8C703.9,291.9 705.0,289.0 706.0,286.7C707.0,284.4 708.0,282.6 709.0,281.4C710.0,280.2 711.3,279.4 712.5,279.4C713.7,279.4 715.1,280.5 716.5,281.2C717.9,281.9 719.2,282.2 721.2,283.7C723.2,285.2 726.1,288.6 728.8,290.5C731.5,292.4 735.8,294.3 737.9,295.8C740.0,297.3 740.9,298.7 741.7,299.6C742.5,300.5 741.6,300.1 743.2,301.2C744.8,302.3 748.8,304.8 751.6,306.5C754.4,308.2 759.0,311.0 760.4,311.8" fill="none" stroke="#1c1c1c" stroke-width="1.08" stroke-linejoin="round" stroke-linecap="round"/>
<rect x="674.9" y="361.8" width="3.6" height="3.4" fill="#ff0a0a"/>
<rect x="710.7" y="277.7" width="3.6" height="3.4" fill="#ff0a0a"/>
<text x="697.8" y="367.0" text-anchor="middle" font-family='"Liberation Serif", "DejaVu Serif", serif' font-size="8.2" fill="#222" stroke="#222" stroke-width="0.15">1308 nm</text>
<g stroke="#3a3a3a" stroke-width="0.8" fill="none">
<path d="M888.6,226.0V374.2H1086.8"/>
<path d="M888.6,226.4h-2.8M888.6,244.8h-2.8M888.6,235.6h-1.6M888.6,263.3h-2.8M888.6,254.1h-1.6M888.6,281.8h-2.8M888.6,272.5h-1.6M888.6,300.2h-2.8M888.6,291.0h-1.6M888.6,318.6h-2.8M888.6,309.4h-1.6M888.6,337.1h-2.8M888.6,327.9h-1.6M888.6,355.6h-2.8M888.6,346.3h-1.6M888.6,374.0h-2.8M888.6,364.8h-1.6M888.6,374.2v2.6M901.0,374.2v1.5M913.4,374.2v2.6M925.8,374.2v1.5M938.1,374.2v2.6M950.5,374.2v1.5M962.9,374.2v2.6M975.3,374.2v1.5M987.7,374.2v2.6M1000.1,374.2v1.5M1012.5,374.2v2.6M1024.9,374.2v1.5M1037.2,374.2v2.6M1049.6,374.2v1.5M1062.0,374.2v2.6M1074.4,374.2v1.5M1086.8,374.2v2.6"/>
</g>
<g font-family='"Liberation Serif", "DejaVu Serif", serif' font-size="8.8" fill="#222" stroke="#222" stroke-width="0.18">
<text x="884.6" y="229.3" text-anchor="end">0.20</text>
<text x="884.6" y="247.8" text-anchor="end">0.15</text>
<text x="884.6" y="266.2" text-anchor="end">0.10</text>
<text x="884.6" y="284.6" text-anchor="end">0.05</text>
<text x="884.6" y="303.1" text-anchor="end">0.00</text>
<text x="884.6" y="321.5" text-anchor="end">-0.05</text>
<text x="884.6" y="340.0" text-anchor="end">-0.10</text>
<text x="884.6" y="358.4" text-anchor="end">-0.15</text>
<text x="884.6" y="376.9" text-anchor="end">-0.20</text>
<text x="889.0" y="386.2" text-anchor="middle">900</text>
<text x="913.8" y="386.2" text-anchor="middle">1000</text>
<text x="938.5" y="386.2" text-anchor="middle">1100</text>
<text x="963.3" y="386.2" text-anchor="middle">1200</text>
<text x="988.1" y="386.2" text-anchor="middle">1300</text>
<text x="1012.9" y="386.2" text-anchor="middle">1400</text>
<text x="1037.7" y="386.2" text-anchor="middle">1500</text>
<text x="1062.4" y="386.2" text-anchor="middle">1600</text>
<text x="1087.2" y="386.2" text-anchor="middle">1700</text>
</g>
<text x="987.3" y="401.9" text-anchor="middle" font-family='"Liberation Serif", "DejaVu Serif", serif' font-size="10" fill="#222" stroke="#222" stroke-width="0.18">Wavelength (nm)</text>
<text transform="translate(854.5,302.4) rotate(-90)" text-anchor="middle" font-family='"Liberation Serif", "DejaVu Serif", serif' font-size="10" fill="#222" stroke="#222" stroke-width="0.18">Loadings of PC4</text>
<text x="986.3" y="421.8" text-anchor="middle" font-family='"Liberation Serif", "DejaVu Serif", serif' font-size="11.8" letter-spacing="0.2" fill="#111">(<tspan font-weight="bold">d</tspan>)</text>
<path d="M907.4,356.3C907.9,355.9 909.4,355.5 910.4,353.7C911.4,351.9 912.4,348.6 913.4,345.3C914.4,342.0 915.0,337.2 916.5,333.2C918.0,329.2 920.7,324.4 922.6,320.3C924.5,316.2 927.5,310.7 928.6,307.4C929.7,304.1 928.4,302.7 929.4,299.8C930.4,296.9 933.0,292.6 934.7,289.1C936.4,285.6 938.4,281.7 940.3,278.1C942.2,274.5 944.4,270.3 946.4,266.7C948.4,263.1 950.6,258.8 952.5,255.3C954.4,251.8 957.0,247.4 958.5,244.6C960.0,241.8 960.9,238.6 962.0,237.8C963.1,237.0 964.4,238.0 965.4,239.3C966.4,240.6 967.7,240.4 968.2,246.2C968.7,252.0 968.6,267.2 968.7,275.8C968.8,284.4 968.7,293.4 968.9,299.8C969.1,306.2 969.2,312.4 969.7,315.7C970.2,319.0 971.3,318.8 972.0,320.3C972.7,321.8 973.5,324.2 974.2,324.8C974.9,325.4 975.8,323.8 976.5,324.1C977.2,324.4 978.0,327.4 978.8,326.7C979.6,326.0 980.8,321.1 981.8,319.8C982.8,318.5 983.8,318.4 984.9,318.3C986.0,318.2 987.5,320.1 988.7,319.2C989.9,318.3 991.3,314.3 992.5,312.7C993.7,311.1 995.1,309.9 996.3,308.9C997.5,307.9 998.8,307.8 1000.1,306.6C1001.4,305.4 1003.0,302.9 1004.6,301.3C1006.2,299.7 1008.3,297.5 1009.9,296.4C1011.5,295.3 1012.7,294.4 1014.5,294.4C1016.3,294.4 1019.0,296.2 1021.3,296.4C1023.6,296.6 1026.6,295.7 1029.0,295.7C1031.4,295.7 1033.3,296.4 1036.6,296.5C1039.9,296.6 1046.9,295.6 1049.5,296.2C1052.1,296.8 1051.8,298.3 1052.6,300.3C1053.4,302.3 1054.2,305.9 1054.6,308.6C1055.0,311.3 1054.9,315.2 1055.3,317.0C1055.7,318.8 1056.3,319.2 1057.1,319.6C1057.9,320.0 1059.2,318.9 1060.2,319.3C1061.2,319.7 1062.2,321.3 1063.2,322.0C1064.2,322.7 1065.2,323.3 1066.3,323.4C1067.4,323.5 1069.0,323.2 1070.1,322.8C1071.2,322.4 1072.6,321.5 1073.1,321.2" fill="none" stroke="#1c1c1c" stroke-width="1.08" stroke-linejoin="round" stroke-linecap="round"/>
<rect x="960.2" y="236.1" width="3.6" height="3.4" fill="#ff0a0a"/>
<rect x="977.0" y="325.0" width="3.6" height="3.4" fill="#ff0a0a"/>
<text x="962.8" y="231.6" text-anchor="middle" font-family='"Liberation Serif", "DejaVu Serif", serif' font-size="8.2" fill="#222" stroke="#222" stroke-width="0.15">1197 nm</text>
<text x="980.3" y="337.6" text-anchor="middle" font-family='"Liberation Serif", "DejaVu Serif", serif' font-size="8.2" fill="#222" stroke="#222" stroke-width="0.15">1264 nm</text>
<g stroke="#3a3a3a" stroke-width="0.8" fill="none">
<path d="M575.3,448.4V596.4H773.5"/>
<path d="M575.3,459.3h-2.8M575.3,448.7h-1.6M575.3,480.4h-2.8M575.3,469.9h-1.6M575.3,501.6h-2.8M575.3,491.0h-1.6M575.3,522.7h-2.8M575.3,512.1h-1.6M575.3,543.8h-2.8M575.3,533.3h-1.6M575.3,565.0h-2.8M575.3,554.4h-1.6M575.3,586.1h-2.8M575.3,575.5h-1.6M575.3,596.6h-1.6M575.3,596.4v2.6M587.7,596.4v1.5M600.1,596.4v2.6M612.5,596.4v1.5M624.8,596.4v2.6M637.2,596.4v1.5M649.6,596.4v2.6M662.0,596.4v1.5M674.4,596.4v2.6M686.8,596.4v1.5M699.2,596.4v2.6M711.6,596.4v1.5M723.9,596.4v2.6M736.3,596.4v1.5M748.7,596.4v2.6M761.1,596.4v1.5M773.5,596.4v2.6"/>
</g>
<g font-family='"Liberation Serif", "DejaVu Serif", serif' font-size="8.8" fill="#222" stroke="#222" stroke-width="0.18">
<text x="571.3" y="462.2" text-anchor="end">0.20</text>
<text x="571.3" y="483.3" text-anchor="end">0.15</text>
<text x="571.3" y="504.5" text-anchor="end">0.10</text>
<text x="571.3" y="525.6" text-anchor="end">0.05</text>
<text x="571.3" y="546.7" text-anchor="end">0.00</text>
<text x="571.3" y="567.9" text-anchor="end">-0.05</text>
<text x="571.3" y="589.0" text-anchor="end">-0.10</text>
<text x="575.7" y="608.7" text-anchor="middle">900</text>
<text x="600.5" y="608.7" text-anchor="middle">1000</text>
<text x="625.2" y="608.7" text-anchor="middle">1100</text>
<text x="650.0" y="608.7" text-anchor="middle">1200</text>
<text x="674.8" y="608.7" text-anchor="middle">1300</text>
<text x="699.6" y="608.7" text-anchor="middle">1400</text>
<text x="724.3" y="608.7" text-anchor="middle">1500</text>
<text x="749.1" y="608.7" text-anchor="middle">1600</text>
<text x="773.9" y="608.7" text-anchor="middle">1700</text>
</g>
<text x="674.0" y="624.7" text-anchor="middle" font-family='"Liberation Serif", "DejaVu Serif", serif' font-size="10" fill="#222" stroke="#222" stroke-width="0.18">Wavelength (nm)</text>
<text transform="translate(541.6,525.8) rotate(-90)" text-anchor="middle" font-family='"Liberation Serif", "DejaVu Serif", serif' font-size="10" fill="#222" stroke="#222" stroke-width="0.18">Loadings of PC5</text>
<text x="673.0" y="645.4" text-anchor="middle" font-family='"Liberation Serif", "DejaVu Serif", serif' font-size="11.8" letter-spacing="0.2" fill="#111">(<tspan font-weight="bold">e</tspan>)</text>
<path d="M594.0,558.2C594.6,558.0 596.1,558.4 597.5,557.0C598.9,555.6 600.9,551.1 602.8,549.4C604.7,547.7 607.3,547.6 609.6,546.4C611.9,545.2 614.4,543.3 617.2,542.1C620.0,540.9 624.1,540.7 627.1,539.2C630.1,537.7 632.7,535.3 636.2,532.7C639.7,530.1 646.4,524.3 649.1,522.8C651.8,521.3 651.9,522.8 652.9,523.6C653.9,524.4 654.7,525.3 655.2,528.1C655.7,530.9 655.8,537.1 656.0,541.0C656.2,544.9 656.0,549.8 656.7,552.4C657.4,555.0 659.0,556.1 660.5,557.0C662.0,557.9 664.3,558.1 665.9,557.8C667.5,557.5 668.9,555.1 670.4,555.0C671.9,554.9 673.7,556.0 675.0,557.0C676.3,558.0 677.5,560.8 678.8,561.1C680.1,561.4 682.0,559.2 683.3,558.8C684.6,558.4 685.5,559.2 687.1,558.8C688.7,558.4 691.6,555.9 693.2,556.2C694.8,556.5 695.8,558.4 697.0,560.8C698.2,563.2 699.6,568.1 700.8,571.4C702.0,574.7 703.4,579.2 704.6,581.3C705.8,583.4 707.1,584.7 708.4,584.8C709.7,584.9 710.7,583.9 712.5,582.0C714.3,580.1 717.4,575.8 719.5,573.0C721.6,570.2 723.8,566.8 725.6,564.6C727.4,562.4 729.1,560.8 730.9,559.3C732.7,557.8 735.5,558.2 737.0,555.5C738.5,552.8 739.3,547.8 740.0,542.6C740.7,537.4 740.9,528.8 741.1,522.8C741.3,516.8 741.4,510.5 741.5,505.0C741.6,499.5 741.6,492.7 742.0,488.6C742.4,484.5 743.1,480.7 743.8,479.5C744.5,478.3 745.3,481.8 746.1,481.0C746.9,480.2 747.9,476.3 749.1,474.2C750.3,472.1 752.5,469.4 753.7,468.1C754.9,466.8 755.6,466.8 756.7,465.8C757.8,464.8 759.9,462.6 760.5,462.0" fill="none" stroke="#1c1c1c" stroke-width="1.08" stroke-linejoin="round" stroke-linecap="round"/>
<rect x="647.3" y="521.1" width="3.6" height="3.4" fill="#ff0a0a"/>
<rect x="706.6" y="583.1" width="3.6" height="3.4" fill="#ff0a0a"/>
<text x="731.3" y="587.6" text-anchor="middle" font-family='"Liberation Serif", "DejaVu Serif", serif' font-size="8.2" fill="#222" stroke="#222" stroke-width="0.15">1436 nm</text>
<g stroke="#3a3a3a" stroke-width="0.8" fill="none">
<path d="M888.6,448.7V596.5H1086.8"/>
<path d="M888.6,449.0h-2.8M888.6,470.1h-2.8M888.6,459.6h-1.6M888.6,491.2h-2.8M888.6,480.6h-1.6M888.6,512.3h-2.8M888.6,501.7h-1.6M888.6,533.4h-2.8M888.6,522.9h-1.6M888.6,554.5h-2.8M888.6,544.0h-1.6M888.6,575.6h-2.8M888.6,565.1h-1.6M888.6,596.7h-2.8M888.6,586.2h-1.6M888.6,596.5v2.6M901.0,596.5v1.5M913.4,596.5v2.6M925.8,596.5v1.5M938.1,596.5v2.6M950.5,596.5v1.5M962.9,596.5v2.6M975.3,596.5v1.5M987.7,596.5v2.6M1000.1,596.5v1.5M1012.5,596.5v2.6M1024.9,596.5v1.5M1037.2,596.5v2.6M1049.6,596.5v1.5M1062.0,596.5v2.6M1074.4,596.5v1.5M1086.8,596.5v2.6"/>
</g>
<g font-family='"Liberation Serif", "DejaVu Serif", serif' font-size="8.8" fill="#222" stroke="#222" stroke-width="0.18">
<text x="884.6" y="451.9" text-anchor="end">0.20</text>
<text x="884.6" y="473.0" text-anchor="end">0.15</text>
<text x="884.6" y="494.1" text-anchor="end">0.10</text>
<text x="884.6" y="515.2" text-anchor="end">0.05</text>
<text x="884.6" y="536.3" text-anchor="end">0.00</text>
<text x="884.6" y="557.4" text-anchor="end">-0.05</text>
<text x="884.6" y="578.5" text-anchor="end">-0.10</text>
<text x="884.6" y="599.6" text-anchor="end">-0.15</text>
<text x="889.0" y="608.5" text-anchor="middle">900</text>
<text x="913.8" y="608.5" text-anchor="middle">1000</text>
<text x="938.5" y="608.5" text-anchor="middle">1100</text>
<text x="963.3" y="608.5" text-anchor="middle">1200</text>
<text x="988.1" y="608.5" text-anchor="middle">1300</text>
<text x="1012.9" y="608.5" text-anchor="middle">1400</text>
<text x="1037.7" y="608.5" text-anchor="middle">1500</text>
<text x="1062.4" y="608.5" text-anchor="middle">1600</text>
<text x="1087.2" y="608.5" text-anchor="middle">1700</text>
</g>
<text x="987.3" y="624.8" text-anchor="middle" font-family='"Liberation Serif", "DejaVu Serif", serif' font-size="10" fill="#222" stroke="#222" stroke-width="0.18">Wavelength (nm)</text>
<text transform="translate(854.5,525.9) rotate(-90)" text-anchor="middle" font-family='"Liberation Serif", "DejaVu Serif", serif' font-size="10" fill="#222" stroke="#222" stroke-width="0.18">Loadings of PC6</text>
<text x="986.3" y="645.5" text-anchor="middle" font-family='"Liberation Serif", "DejaVu Serif", serif' font-size="11.8" letter-spacing="0.2" fill="#111">(<tspan font-weight="bold">f</tspan>)</text>
<path d="M907.6,478.3C908.1,479.0 909.8,480.6 910.7,482.9C911.6,485.2 912.4,490.1 913.0,492.8C913.6,495.5 914.1,496.8 914.6,500.0C915.1,503.2 915.6,509.0 916.3,513.0C917.0,517.0 918.1,521.7 919.0,524.7C919.9,527.7 920.5,527.6 921.9,531.9C923.3,536.2 926.8,547.1 928.0,551.7C929.2,556.3 928.5,556.9 929.5,560.8C930.5,564.7 932.3,571.9 934.1,576.0C935.9,580.1 938.9,586.1 940.5,586.3C942.1,586.5 942.8,582.3 944.0,577.5C945.2,572.7 946.5,564.2 947.8,556.2C949.1,548.2 951.1,534.6 952.3,527.4C953.5,520.2 954.4,515.9 955.5,511.0C956.6,506.1 958.0,500.0 959.3,496.6C960.6,493.2 962.3,489.8 963.6,489.7C964.9,489.6 966.6,493.1 967.7,495.8C968.8,498.5 969.8,502.2 970.7,506.4C971.6,510.6 972.5,516.5 973.3,522.0C974.1,527.5 975.1,536.7 975.9,541.0C976.7,545.3 977.0,546.4 978.1,548.6C979.2,550.8 981.2,552.3 982.7,554.7C984.2,557.1 986.2,564.1 987.7,563.4C989.2,562.7 990.4,555.2 991.8,550.2C993.2,545.2 995.3,537.9 996.4,531.9C997.5,525.9 997.5,520.2 998.6,513.0C999.7,505.8 1001.5,494.2 1003.2,487.1C1004.9,480.0 1007.4,469.1 1009.0,468.6C1010.6,468.1 1012.0,477.5 1013.1,484.1C1014.2,490.7 1015.3,502.7 1016.1,509.9C1016.9,517.1 1017.4,520.8 1018.4,528.9C1019.4,537.0 1021.1,554.1 1022.2,560.8C1023.3,567.5 1024.3,569.9 1025.3,570.7C1026.3,571.5 1027.3,567.2 1028.5,565.5C1029.7,563.8 1031.3,562.6 1032.6,560.1C1033.9,557.6 1035.4,553.0 1036.7,549.9C1038.0,546.8 1039.2,543.5 1040.7,540.7C1042.2,537.9 1044.2,534.7 1045.8,532.6C1047.4,530.5 1049.2,528.0 1050.4,527.5C1051.6,527.0 1052.4,528.0 1053.0,529.5C1053.6,531.0 1053.6,534.7 1054.0,536.7C1054.4,538.7 1054.5,541.4 1055.5,541.8C1056.5,542.2 1058.7,539.9 1060.1,539.2C1061.5,538.5 1063.0,538.2 1064.2,537.7C1065.4,537.2 1066.7,536.0 1067.7,536.2C1068.7,536.4 1069.3,537.4 1070.3,538.7C1071.3,540.0 1073.2,543.7 1073.8,544.6" fill="none" stroke="#1c1c1c" stroke-width="1.08" stroke-linejoin="round" stroke-linecap="round"/>
<circle cx="914.4" cy="498.2" r="1.2" fill="#111"/>
<rect x="938.7" y="584.6" width="3.6" height="3.4" fill="#ff0a0a"/>
<rect x="961.8" y="488.0" width="3.6" height="3.4" fill="#ff0a0a"/>
<rect x="985.9" y="561.7" width="3.6" height="3.4" fill="#ff0a0a"/>
<rect x="1007.2" y="466.9" width="3.6" height="3.4" fill="#ff0a0a"/>
<rect x="1023.5" y="569.0" width="3.6" height="3.4" fill="#ff0a0a"/>
<rect x="1048.6" y="525.8" width="3.6" height="3.4" fill="#ff0a0a"/>
<text x="1009.0" y="463.4" text-anchor="middle" font-family='"Liberation Serif", "DejaVu Serif", serif' font-size="8.2" fill="#222" stroke="#222" stroke-width="0.15">1386 nm</text>
<text x="1051.5" y="521.8" text-anchor="middle" font-family='"Liberation Serif", "DejaVu Serif", serif' font-size="8.2" fill="#222" stroke="#222" stroke-width="0.15">1554 nm</text>
</svg>
</body></html>
